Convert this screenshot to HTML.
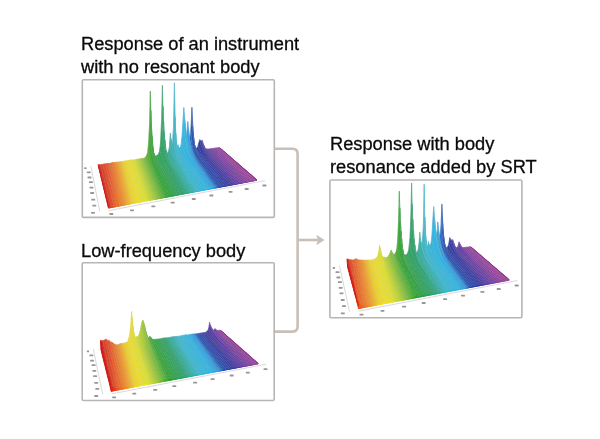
<!DOCTYPE html>
<html><head><meta charset="utf-8"><style>
html,body{margin:0;padding:0;background:#fff;}
body{width:600px;height:439px;position:relative;overflow:hidden;}
.t{position:absolute;font-family:"Liberation Sans",sans-serif;font-size:18.25px;line-height:23px;color:#0a0a0a;white-space:nowrap;will-change:transform;-webkit-text-stroke:0.3px #0a0a0a;}
.ov{position:absolute;left:0;top:0;}
.m{fill:none;stroke:#b8b8b8;stroke-opacity:0.35;stroke-width:0.5;}
.n{fill:none;stroke:#b8b8b8;stroke-opacity:0.55;stroke-width:0.5;}
</style></head><body>
<div class="t" style="left:80.5px;top:31.5px">Response of an instrument<br>with no resonant body</div>
<div class="t" style="left:80.5px;top:238.5px">Low-frequency body</div>
<div class="t" style="left:330.2px;top:131.5px">Response with body<br>resonance added by SRT</div>
<svg class="ov" width="600" height="439" viewBox="0 0 600 439">
<rect x="82.3" y="79.7" width="192" height="137.7" rx="1.2" fill="#fff" stroke="#b9b5b3" stroke-width="1.6"/>
<rect x="82.2" y="262.8" width="192" height="137.7" rx="1.2" fill="#fff" stroke="#b9b5b3" stroke-width="1.6"/>
<rect x="329.9" y="180.0" width="192" height="137.7" rx="1.2" fill="#fff" stroke="#b9b5b3" stroke-width="1.6"/>
</svg>
<svg class="ov" width="600" height="439" viewBox="0 0 600 439">
<path d="M275 148.7 H292.5 Q297.6 148.7 297.6 153.8 V326.5 Q297.6 331.6 292.5 331.6 H275" fill="none" stroke="#c9bfb7" stroke-width="2.6"/>
<path d="M297.6 240 H318" fill="none" stroke="#c9bfb7" stroke-width="2.6"/>
<path d="M316.8 235.6 L324 240 L316.8 244.4 L318.4 240 Z" fill="#c9bfb7" stroke="#c9bfb7" stroke-width="0.8" stroke-linejoin="round"/>
</svg>
<svg class="ov pl" style="left:81px;top:79px" width="194" height="139" viewBox="0 0 194 139"><path d="M27.7,131.7L184.1,101.6" stroke="#c8c8c8" stroke-width="0.7" fill="none"/><path d="M9.9,87.1L18.7,132.2" stroke="#c8c8c8" stroke-width="0.7" fill="none"/><rect x="28.3" y="134.1" width="4" height="1.8" rx="0.6" fill="#969696"/><rect x="49.0" y="130.4" width="4" height="1.8" rx="0.6" fill="#969696"/><rect x="70.3" y="126.4" width="4" height="1.8" rx="0.6" fill="#969696"/><rect x="89.7" y="122.8" width="4" height="1.8" rx="0.6" fill="#969696"/><rect x="110.8" y="119.1" width="4" height="1.8" rx="0.6" fill="#969696"/><rect x="128.4" y="115.6" width="4" height="1.8" rx="0.6" fill="#969696"/><rect x="147.6" y="111.9" width="4" height="1.8" rx="0.6" fill="#969696"/><rect x="163.7" y="109.1" width="4" height="1.8" rx="0.6" fill="#969696"/><rect x="181.4" y="105.6" width="4" height="1.8" rx="0.6" fill="#969696"/><rect x="3.2" y="88.3" width="2.4" height="1.8" rx="0.6" fill="#969696"/><rect x="5.8" y="92.4" width="4.0" height="1.8" rx="0.6" fill="#969696"/><rect x="6.5" y="97.6" width="4.0" height="1.8" rx="0.6" fill="#969696"/><rect x="7.9" y="102.2" width="4.0" height="1.8" rx="0.6" fill="#969696"/><rect x="8.5" y="107.7" width="4.0" height="1.8" rx="0.6" fill="#969696"/><rect x="9.2" y="113.1" width="4.0" height="1.8" rx="0.6" fill="#969696"/><rect x="10.2" y="119.7" width="4.0" height="1.8" rx="0.6" fill="#969696"/><rect x="11.3" y="125.8" width="4.0" height="1.8" rx="0.6" fill="#969696"/><rect x="10.0" y="132.9" width="4.0" height="1.8" rx="0.6" fill="#969696"/><defs><linearGradient id="g10" gradientUnits="userSpaceOnUse" x1="17.2" x2="138.6" y1="0" y2="0"><stop offset="0.000" stop-color="#d61e16"/><stop offset="0.079" stop-color="#ea4e1c"/><stop offset="0.145" stop-color="#f28c22"/><stop offset="0.205" stop-color="#f2d422"/><stop offset="0.243" stop-color="#f2e224"/><stop offset="0.291" stop-color="#e2e428"/><stop offset="0.338" stop-color="#b0d030"/><stop offset="0.390" stop-color="#64b632"/><stop offset="0.431" stop-color="#28a22a"/><stop offset="0.532" stop-color="#22a064"/><stop offset="0.630" stop-color="#30b8d0"/><stop offset="0.707" stop-color="#24b4e8"/><stop offset="0.745" stop-color="#2896dc"/><stop offset="0.773" stop-color="#1c48b0"/><stop offset="0.838" stop-color="#2c30a0"/><stop offset="0.911" stop-color="#6434a2"/><stop offset="1.000" stop-color="#983a98"/></linearGradient><linearGradient id="g11" gradientUnits="userSpaceOnUse" x1="17.5" x2="139.5" y1="0" y2="0"><stop offset="-0.001" stop-color="#d61e16"/><stop offset="0.078" stop-color="#ea4e1c"/><stop offset="0.144" stop-color="#f28c22"/><stop offset="0.204" stop-color="#f2d422"/><stop offset="0.242" stop-color="#f2e224"/><stop offset="0.290" stop-color="#e2e428"/><stop offset="0.337" stop-color="#b0d030"/><stop offset="0.389" stop-color="#64b632"/><stop offset="0.430" stop-color="#28a22a"/><stop offset="0.531" stop-color="#22a064"/><stop offset="0.629" stop-color="#30b8d0"/><stop offset="0.706" stop-color="#24b4e8"/><stop offset="0.744" stop-color="#2896dc"/><stop offset="0.772" stop-color="#1c48b0"/><stop offset="0.837" stop-color="#2c30a0"/><stop offset="0.910" stop-color="#6434a2"/><stop offset="0.999" stop-color="#983a98"/></linearGradient><linearGradient id="g12" gradientUnits="userSpaceOnUse" x1="17.7" x2="140.5" y1="0" y2="0"><stop offset="-0.003" stop-color="#d61e16"/><stop offset="0.076" stop-color="#ea4e1c"/><stop offset="0.143" stop-color="#f28c22"/><stop offset="0.203" stop-color="#f2d422"/><stop offset="0.240" stop-color="#f2e224"/><stop offset="0.288" stop-color="#e2e428"/><stop offset="0.336" stop-color="#b0d030"/><stop offset="0.388" stop-color="#64b632"/><stop offset="0.429" stop-color="#28a22a"/><stop offset="0.530" stop-color="#22a064"/><stop offset="0.628" stop-color="#30b8d0"/><stop offset="0.705" stop-color="#24b4e8"/><stop offset="0.743" stop-color="#2896dc"/><stop offset="0.771" stop-color="#1c48b0"/><stop offset="0.836" stop-color="#2c30a0"/><stop offset="0.909" stop-color="#6434a2"/><stop offset="0.998" stop-color="#983a98"/></linearGradient><linearGradient id="g13" gradientUnits="userSpaceOnUse" x1="18.0" x2="141.4" y1="0" y2="0"><stop offset="-0.004" stop-color="#d61e16"/><stop offset="0.075" stop-color="#ea4e1c"/><stop offset="0.141" stop-color="#f28c22"/><stop offset="0.202" stop-color="#f2d422"/><stop offset="0.239" stop-color="#f2e224"/><stop offset="0.287" stop-color="#e2e428"/><stop offset="0.335" stop-color="#b0d030"/><stop offset="0.387" stop-color="#64b632"/><stop offset="0.428" stop-color="#28a22a"/><stop offset="0.529" stop-color="#22a064"/><stop offset="0.627" stop-color="#30b8d0"/><stop offset="0.704" stop-color="#24b4e8"/><stop offset="0.742" stop-color="#2896dc"/><stop offset="0.770" stop-color="#1c48b0"/><stop offset="0.835" stop-color="#2c30a0"/><stop offset="0.908" stop-color="#6434a2"/><stop offset="0.997" stop-color="#983a98"/></linearGradient><linearGradient id="g14" gradientUnits="userSpaceOnUse" x1="18.2" x2="142.4" y1="0" y2="0"><stop offset="-0.006" stop-color="#d61e16"/><stop offset="0.074" stop-color="#ea4e1c"/><stop offset="0.140" stop-color="#f28c22"/><stop offset="0.200" stop-color="#f2d422"/><stop offset="0.238" stop-color="#f2e224"/><stop offset="0.286" stop-color="#e2e428"/><stop offset="0.334" stop-color="#b0d030"/><stop offset="0.386" stop-color="#64b632"/><stop offset="0.427" stop-color="#28a22a"/><stop offset="0.528" stop-color="#22a064"/><stop offset="0.626" stop-color="#30b8d0"/><stop offset="0.703" stop-color="#24b4e8"/><stop offset="0.741" stop-color="#2896dc"/><stop offset="0.769" stop-color="#1c48b0"/><stop offset="0.834" stop-color="#2c30a0"/><stop offset="0.907" stop-color="#6434a2"/><stop offset="0.996" stop-color="#983a98"/></linearGradient><linearGradient id="g15" gradientUnits="userSpaceOnUse" x1="18.5" x2="143.3" y1="0" y2="0"><stop offset="-0.007" stop-color="#d61e16"/><stop offset="0.072" stop-color="#ea4e1c"/><stop offset="0.139" stop-color="#f28c22"/><stop offset="0.199" stop-color="#f2d422"/><stop offset="0.237" stop-color="#f2e224"/><stop offset="0.285" stop-color="#e2e428"/><stop offset="0.333" stop-color="#b0d030"/><stop offset="0.385" stop-color="#64b632"/><stop offset="0.426" stop-color="#28a22a"/><stop offset="0.527" stop-color="#22a064"/><stop offset="0.625" stop-color="#30b8d0"/><stop offset="0.702" stop-color="#24b4e8"/><stop offset="0.740" stop-color="#2896dc"/><stop offset="0.768" stop-color="#1c48b0"/><stop offset="0.833" stop-color="#2c30a0"/><stop offset="0.906" stop-color="#6434a2"/><stop offset="0.995" stop-color="#983a98"/></linearGradient><linearGradient id="g16" gradientUnits="userSpaceOnUse" x1="18.8" x2="144.3" y1="0" y2="0"><stop offset="-0.008" stop-color="#d61e16"/><stop offset="0.071" stop-color="#ea4e1c"/><stop offset="0.138" stop-color="#f28c22"/><stop offset="0.198" stop-color="#f2d422"/><stop offset="0.236" stop-color="#f2e224"/><stop offset="0.284" stop-color="#e2e428"/><stop offset="0.332" stop-color="#b0d030"/><stop offset="0.384" stop-color="#64b632"/><stop offset="0.425" stop-color="#28a22a"/><stop offset="0.526" stop-color="#22a064"/><stop offset="0.624" stop-color="#30b8d0"/><stop offset="0.701" stop-color="#24b4e8"/><stop offset="0.739" stop-color="#2896dc"/><stop offset="0.767" stop-color="#1c48b0"/><stop offset="0.832" stop-color="#2c30a0"/><stop offset="0.905" stop-color="#6434a2"/><stop offset="0.994" stop-color="#983a98"/></linearGradient><linearGradient id="g17" gradientUnits="userSpaceOnUse" x1="19.0" x2="145.3" y1="0" y2="0"><stop offset="-0.010" stop-color="#d61e16"/><stop offset="0.070" stop-color="#ea4e1c"/><stop offset="0.137" stop-color="#f28c22"/><stop offset="0.197" stop-color="#f2d422"/><stop offset="0.235" stop-color="#f2e224"/><stop offset="0.283" stop-color="#e2e428"/><stop offset="0.330" stop-color="#b0d030"/><stop offset="0.383" stop-color="#64b632"/><stop offset="0.424" stop-color="#28a22a"/><stop offset="0.525" stop-color="#22a064"/><stop offset="0.623" stop-color="#30b8d0"/><stop offset="0.700" stop-color="#24b4e8"/><stop offset="0.738" stop-color="#2896dc"/><stop offset="0.766" stop-color="#1c48b0"/><stop offset="0.831" stop-color="#2c30a0"/><stop offset="0.904" stop-color="#6434a2"/><stop offset="0.993" stop-color="#983a98"/></linearGradient><linearGradient id="g18" gradientUnits="userSpaceOnUse" x1="19.3" x2="146.3" y1="0" y2="0"><stop offset="-0.011" stop-color="#d61e16"/><stop offset="0.068" stop-color="#ea4e1c"/><stop offset="0.135" stop-color="#f28c22"/><stop offset="0.196" stop-color="#f2d422"/><stop offset="0.234" stop-color="#f2e224"/><stop offset="0.282" stop-color="#e2e428"/><stop offset="0.329" stop-color="#b0d030"/><stop offset="0.382" stop-color="#64b632"/><stop offset="0.423" stop-color="#28a22a"/><stop offset="0.524" stop-color="#22a064"/><stop offset="0.622" stop-color="#30b8d0"/><stop offset="0.699" stop-color="#24b4e8"/><stop offset="0.737" stop-color="#2896dc"/><stop offset="0.765" stop-color="#1c48b0"/><stop offset="0.830" stop-color="#2c30a0"/><stop offset="0.903" stop-color="#6434a2"/><stop offset="0.992" stop-color="#983a98"/></linearGradient><linearGradient id="g19" gradientUnits="userSpaceOnUse" x1="19.6" x2="147.3" y1="0" y2="0"><stop offset="-0.013" stop-color="#d61e16"/><stop offset="0.067" stop-color="#ea4e1c"/><stop offset="0.134" stop-color="#f28c22"/><stop offset="0.194" stop-color="#f2d422"/><stop offset="0.232" stop-color="#f2e224"/><stop offset="0.281" stop-color="#e2e428"/><stop offset="0.328" stop-color="#b0d030"/><stop offset="0.380" stop-color="#64b632"/><stop offset="0.422" stop-color="#28a22a"/><stop offset="0.523" stop-color="#22a064"/><stop offset="0.621" stop-color="#30b8d0"/><stop offset="0.698" stop-color="#24b4e8"/><stop offset="0.736" stop-color="#2896dc"/><stop offset="0.764" stop-color="#1c48b0"/><stop offset="0.829" stop-color="#2c30a0"/><stop offset="0.902" stop-color="#6434a2"/><stop offset="0.990" stop-color="#983a98"/></linearGradient><linearGradient id="g110" gradientUnits="userSpaceOnUse" x1="19.9" x2="148.3" y1="0" y2="0"><stop offset="-0.014" stop-color="#d61e16"/><stop offset="0.066" stop-color="#ea4e1c"/><stop offset="0.133" stop-color="#f28c22"/><stop offset="0.193" stop-color="#f2d422"/><stop offset="0.231" stop-color="#f2e224"/><stop offset="0.280" stop-color="#e2e428"/><stop offset="0.327" stop-color="#b0d030"/><stop offset="0.379" stop-color="#64b632"/><stop offset="0.421" stop-color="#28a22a"/><stop offset="0.522" stop-color="#22a064"/><stop offset="0.620" stop-color="#30b8d0"/><stop offset="0.697" stop-color="#24b4e8"/><stop offset="0.735" stop-color="#2896dc"/><stop offset="0.763" stop-color="#1c48b0"/><stop offset="0.828" stop-color="#2c30a0"/><stop offset="0.901" stop-color="#6434a2"/><stop offset="0.989" stop-color="#983a98"/></linearGradient><linearGradient id="g111" gradientUnits="userSpaceOnUse" x1="20.1" x2="149.4" y1="0" y2="0"><stop offset="-0.015" stop-color="#d61e16"/><stop offset="0.064" stop-color="#ea4e1c"/><stop offset="0.132" stop-color="#f28c22"/><stop offset="0.192" stop-color="#f2d422"/><stop offset="0.230" stop-color="#f2e224"/><stop offset="0.278" stop-color="#e2e428"/><stop offset="0.326" stop-color="#b0d030"/><stop offset="0.378" stop-color="#64b632"/><stop offset="0.420" stop-color="#28a22a"/><stop offset="0.521" stop-color="#22a064"/><stop offset="0.620" stop-color="#30b8d0"/><stop offset="0.696" stop-color="#24b4e8"/><stop offset="0.734" stop-color="#2896dc"/><stop offset="0.762" stop-color="#1c48b0"/><stop offset="0.827" stop-color="#2c30a0"/><stop offset="0.900" stop-color="#6434a2"/><stop offset="0.988" stop-color="#983a98"/></linearGradient><linearGradient id="g112" gradientUnits="userSpaceOnUse" x1="20.4" x2="150.4" y1="0" y2="0"><stop offset="-0.017" stop-color="#d61e16"/><stop offset="0.063" stop-color="#ea4e1c"/><stop offset="0.130" stop-color="#f28c22"/><stop offset="0.191" stop-color="#f2d422"/><stop offset="0.229" stop-color="#f2e224"/><stop offset="0.277" stop-color="#e2e428"/><stop offset="0.325" stop-color="#b0d030"/><stop offset="0.377" stop-color="#64b632"/><stop offset="0.419" stop-color="#28a22a"/><stop offset="0.520" stop-color="#22a064"/><stop offset="0.619" stop-color="#30b8d0"/><stop offset="0.696" stop-color="#24b4e8"/><stop offset="0.733" stop-color="#2896dc"/><stop offset="0.761" stop-color="#1c48b0"/><stop offset="0.826" stop-color="#2c30a0"/><stop offset="0.899" stop-color="#6434a2"/><stop offset="0.987" stop-color="#983a98"/></linearGradient><linearGradient id="g113" gradientUnits="userSpaceOnUse" x1="20.7" x2="151.5" y1="0" y2="0"><stop offset="-0.018" stop-color="#d61e16"/><stop offset="0.062" stop-color="#ea4e1c"/><stop offset="0.129" stop-color="#f28c22"/><stop offset="0.190" stop-color="#f2d422"/><stop offset="0.228" stop-color="#f2e224"/><stop offset="0.276" stop-color="#e2e428"/><stop offset="0.324" stop-color="#b0d030"/><stop offset="0.376" stop-color="#64b632"/><stop offset="0.418" stop-color="#28a22a"/><stop offset="0.519" stop-color="#22a064"/><stop offset="0.618" stop-color="#30b8d0"/><stop offset="0.695" stop-color="#24b4e8"/><stop offset="0.732" stop-color="#2896dc"/><stop offset="0.761" stop-color="#1c48b0"/><stop offset="0.825" stop-color="#2c30a0"/><stop offset="0.898" stop-color="#6434a2"/><stop offset="0.986" stop-color="#983a98"/></linearGradient><linearGradient id="g114" gradientUnits="userSpaceOnUse" x1="21.0" x2="152.6" y1="0" y2="0"><stop offset="-0.020" stop-color="#d61e16"/><stop offset="0.061" stop-color="#ea4e1c"/><stop offset="0.128" stop-color="#f28c22"/><stop offset="0.189" stop-color="#f2d422"/><stop offset="0.227" stop-color="#f2e224"/><stop offset="0.275" stop-color="#e2e428"/><stop offset="0.323" stop-color="#b0d030"/><stop offset="0.375" stop-color="#64b632"/><stop offset="0.417" stop-color="#28a22a"/><stop offset="0.518" stop-color="#22a064"/><stop offset="0.617" stop-color="#30b8d0"/><stop offset="0.694" stop-color="#24b4e8"/><stop offset="0.731" stop-color="#2896dc"/><stop offset="0.760" stop-color="#1c48b0"/><stop offset="0.824" stop-color="#2c30a0"/><stop offset="0.897" stop-color="#6434a2"/><stop offset="0.985" stop-color="#983a98"/></linearGradient><linearGradient id="g115" gradientUnits="userSpaceOnUse" x1="21.3" x2="153.7" y1="0" y2="0"><stop offset="-0.021" stop-color="#d61e16"/><stop offset="0.059" stop-color="#ea4e1c"/><stop offset="0.127" stop-color="#f28c22"/><stop offset="0.187" stop-color="#f2d422"/><stop offset="0.226" stop-color="#f2e224"/><stop offset="0.274" stop-color="#e2e428"/><stop offset="0.322" stop-color="#b0d030"/><stop offset="0.374" stop-color="#64b632"/><stop offset="0.416" stop-color="#28a22a"/><stop offset="0.517" stop-color="#22a064"/><stop offset="0.616" stop-color="#30b8d0"/><stop offset="0.693" stop-color="#24b4e8"/><stop offset="0.730" stop-color="#2896dc"/><stop offset="0.759" stop-color="#1c48b0"/><stop offset="0.823" stop-color="#2c30a0"/><stop offset="0.896" stop-color="#6434a2"/><stop offset="0.984" stop-color="#983a98"/></linearGradient><linearGradient id="g116" gradientUnits="userSpaceOnUse" x1="21.6" x2="154.8" y1="0" y2="0"><stop offset="-0.022" stop-color="#d61e16"/><stop offset="0.058" stop-color="#ea4e1c"/><stop offset="0.125" stop-color="#f28c22"/><stop offset="0.186" stop-color="#f2d422"/><stop offset="0.224" stop-color="#f2e224"/><stop offset="0.273" stop-color="#e2e428"/><stop offset="0.321" stop-color="#b0d030"/><stop offset="0.373" stop-color="#64b632"/><stop offset="0.415" stop-color="#28a22a"/><stop offset="0.516" stop-color="#22a064"/><stop offset="0.615" stop-color="#30b8d0"/><stop offset="0.692" stop-color="#24b4e8"/><stop offset="0.730" stop-color="#2896dc"/><stop offset="0.758" stop-color="#1c48b0"/><stop offset="0.822" stop-color="#2c30a0"/><stop offset="0.895" stop-color="#6434a2"/><stop offset="0.983" stop-color="#983a98"/></linearGradient><linearGradient id="g117" gradientUnits="userSpaceOnUse" x1="21.9" x2="155.9" y1="0" y2="0"><stop offset="-0.024" stop-color="#d61e16"/><stop offset="0.057" stop-color="#ea4e1c"/><stop offset="0.124" stop-color="#f28c22"/><stop offset="0.185" stop-color="#f2d422"/><stop offset="0.223" stop-color="#f2e224"/><stop offset="0.272" stop-color="#e2e428"/><stop offset="0.320" stop-color="#b0d030"/><stop offset="0.372" stop-color="#64b632"/><stop offset="0.414" stop-color="#28a22a"/><stop offset="0.515" stop-color="#22a064"/><stop offset="0.614" stop-color="#30b8d0"/><stop offset="0.691" stop-color="#24b4e8"/><stop offset="0.729" stop-color="#2896dc"/><stop offset="0.757" stop-color="#1c48b0"/><stop offset="0.821" stop-color="#2c30a0"/><stop offset="0.894" stop-color="#6434a2"/><stop offset="0.982" stop-color="#983a98"/></linearGradient><linearGradient id="g118" gradientUnits="userSpaceOnUse" x1="22.2" x2="157.0" y1="0" y2="0"><stop offset="-0.025" stop-color="#d61e16"/><stop offset="0.055" stop-color="#ea4e1c"/><stop offset="0.123" stop-color="#f28c22"/><stop offset="0.184" stop-color="#f2d422"/><stop offset="0.222" stop-color="#f2e224"/><stop offset="0.271" stop-color="#e2e428"/><stop offset="0.319" stop-color="#b0d030"/><stop offset="0.371" stop-color="#64b632"/><stop offset="0.413" stop-color="#28a22a"/><stop offset="0.514" stop-color="#22a064"/><stop offset="0.613" stop-color="#30b8d0"/><stop offset="0.690" stop-color="#24b4e8"/><stop offset="0.728" stop-color="#2896dc"/><stop offset="0.756" stop-color="#1c48b0"/><stop offset="0.820" stop-color="#2c30a0"/><stop offset="0.893" stop-color="#6434a2"/><stop offset="0.981" stop-color="#983a98"/></linearGradient><linearGradient id="g119" gradientUnits="userSpaceOnUse" x1="22.5" x2="158.2" y1="0" y2="0"><stop offset="-0.027" stop-color="#d61e16"/><stop offset="0.054" stop-color="#ea4e1c"/><stop offset="0.122" stop-color="#f28c22"/><stop offset="0.183" stop-color="#f2d422"/><stop offset="0.221" stop-color="#f2e224"/><stop offset="0.270" stop-color="#e2e428"/><stop offset="0.318" stop-color="#b0d030"/><stop offset="0.370" stop-color="#64b632"/><stop offset="0.412" stop-color="#28a22a"/><stop offset="0.513" stop-color="#22a064"/><stop offset="0.612" stop-color="#30b8d0"/><stop offset="0.689" stop-color="#24b4e8"/><stop offset="0.727" stop-color="#2896dc"/><stop offset="0.755" stop-color="#1c48b0"/><stop offset="0.819" stop-color="#2c30a0"/><stop offset="0.892" stop-color="#6434a2"/><stop offset="0.980" stop-color="#983a98"/></linearGradient><linearGradient id="g120" gradientUnits="userSpaceOnUse" x1="22.8" x2="159.3" y1="0" y2="0"><stop offset="-0.028" stop-color="#d61e16"/><stop offset="0.053" stop-color="#ea4e1c"/><stop offset="0.120" stop-color="#f28c22"/><stop offset="0.181" stop-color="#f2d422"/><stop offset="0.220" stop-color="#f2e224"/><stop offset="0.268" stop-color="#e2e428"/><stop offset="0.316" stop-color="#b0d030"/><stop offset="0.369" stop-color="#64b632"/><stop offset="0.411" stop-color="#28a22a"/><stop offset="0.512" stop-color="#22a064"/><stop offset="0.611" stop-color="#30b8d0"/><stop offset="0.688" stop-color="#24b4e8"/><stop offset="0.726" stop-color="#2896dc"/><stop offset="0.754" stop-color="#1c48b0"/><stop offset="0.818" stop-color="#2c30a0"/><stop offset="0.891" stop-color="#6434a2"/><stop offset="0.979" stop-color="#983a98"/></linearGradient><linearGradient id="g121" gradientUnits="userSpaceOnUse" x1="23.2" x2="160.5" y1="0" y2="0"><stop offset="-0.030" stop-color="#d61e16"/><stop offset="0.051" stop-color="#ea4e1c"/><stop offset="0.119" stop-color="#f28c22"/><stop offset="0.180" stop-color="#f2d422"/><stop offset="0.219" stop-color="#f2e224"/><stop offset="0.267" stop-color="#e2e428"/><stop offset="0.315" stop-color="#b0d030"/><stop offset="0.368" stop-color="#64b632"/><stop offset="0.410" stop-color="#28a22a"/><stop offset="0.511" stop-color="#22a064"/><stop offset="0.610" stop-color="#30b8d0"/><stop offset="0.687" stop-color="#24b4e8"/><stop offset="0.725" stop-color="#2896dc"/><stop offset="0.753" stop-color="#1c48b0"/><stop offset="0.818" stop-color="#2c30a0"/><stop offset="0.890" stop-color="#6434a2"/><stop offset="0.978" stop-color="#983a98"/></linearGradient><linearGradient id="g122" gradientUnits="userSpaceOnUse" x1="23.5" x2="161.7" y1="0" y2="0"><stop offset="-0.031" stop-color="#d61e16"/><stop offset="0.050" stop-color="#ea4e1c"/><stop offset="0.118" stop-color="#f28c22"/><stop offset="0.179" stop-color="#f2d422"/><stop offset="0.217" stop-color="#f2e224"/><stop offset="0.266" stop-color="#e2e428"/><stop offset="0.314" stop-color="#b0d030"/><stop offset="0.367" stop-color="#64b632"/><stop offset="0.409" stop-color="#28a22a"/><stop offset="0.510" stop-color="#22a064"/><stop offset="0.609" stop-color="#30b8d0"/><stop offset="0.686" stop-color="#24b4e8"/><stop offset="0.724" stop-color="#2896dc"/><stop offset="0.752" stop-color="#1c48b0"/><stop offset="0.817" stop-color="#2c30a0"/><stop offset="0.889" stop-color="#6434a2"/><stop offset="0.977" stop-color="#983a98"/></linearGradient><linearGradient id="g123" gradientUnits="userSpaceOnUse" x1="23.8" x2="162.9" y1="0" y2="0"><stop offset="-0.033" stop-color="#d61e16"/><stop offset="0.049" stop-color="#ea4e1c"/><stop offset="0.117" stop-color="#f28c22"/><stop offset="0.178" stop-color="#f2d422"/><stop offset="0.216" stop-color="#f2e224"/><stop offset="0.265" stop-color="#e2e428"/><stop offset="0.313" stop-color="#b0d030"/><stop offset="0.366" stop-color="#64b632"/><stop offset="0.408" stop-color="#28a22a"/><stop offset="0.509" stop-color="#22a064"/><stop offset="0.608" stop-color="#30b8d0"/><stop offset="0.685" stop-color="#24b4e8"/><stop offset="0.723" stop-color="#2896dc"/><stop offset="0.751" stop-color="#1c48b0"/><stop offset="0.816" stop-color="#2c30a0"/><stop offset="0.888" stop-color="#6434a2"/><stop offset="0.976" stop-color="#983a98"/></linearGradient><linearGradient id="g124" gradientUnits="userSpaceOnUse" x1="24.2" x2="164.2" y1="0" y2="0"><stop offset="-0.034" stop-color="#d61e16"/><stop offset="0.047" stop-color="#ea4e1c"/><stop offset="0.115" stop-color="#f28c22"/><stop offset="0.177" stop-color="#f2d422"/><stop offset="0.215" stop-color="#f2e224"/><stop offset="0.264" stop-color="#e2e428"/><stop offset="0.312" stop-color="#b0d030"/><stop offset="0.365" stop-color="#64b632"/><stop offset="0.407" stop-color="#28a22a"/><stop offset="0.508" stop-color="#22a064"/><stop offset="0.607" stop-color="#30b8d0"/><stop offset="0.684" stop-color="#24b4e8"/><stop offset="0.722" stop-color="#2896dc"/><stop offset="0.750" stop-color="#1c48b0"/><stop offset="0.815" stop-color="#2c30a0"/><stop offset="0.887" stop-color="#6434a2"/><stop offset="0.975" stop-color="#983a98"/></linearGradient><linearGradient id="g125" gradientUnits="userSpaceOnUse" x1="24.5" x2="165.4" y1="0" y2="0"><stop offset="-0.035" stop-color="#d61e16"/><stop offset="0.046" stop-color="#ea4e1c"/><stop offset="0.114" stop-color="#f28c22"/><stop offset="0.176" stop-color="#f2d422"/><stop offset="0.214" stop-color="#f2e224"/><stop offset="0.263" stop-color="#e2e428"/><stop offset="0.311" stop-color="#b0d030"/><stop offset="0.364" stop-color="#64b632"/><stop offset="0.406" stop-color="#28a22a"/><stop offset="0.508" stop-color="#22a064"/><stop offset="0.606" stop-color="#30b8d0"/><stop offset="0.683" stop-color="#24b4e8"/><stop offset="0.721" stop-color="#2896dc"/><stop offset="0.749" stop-color="#1c48b0"/><stop offset="0.814" stop-color="#2c30a0"/><stop offset="0.886" stop-color="#6434a2"/><stop offset="0.974" stop-color="#983a98"/></linearGradient><linearGradient id="g126" gradientUnits="userSpaceOnUse" x1="24.9" x2="166.7" y1="0" y2="0"><stop offset="-0.037" stop-color="#d61e16"/><stop offset="0.045" stop-color="#ea4e1c"/><stop offset="0.113" stop-color="#f28c22"/><stop offset="0.174" stop-color="#f2d422"/><stop offset="0.213" stop-color="#f2e224"/><stop offset="0.262" stop-color="#e2e428"/><stop offset="0.310" stop-color="#b0d030"/><stop offset="0.363" stop-color="#64b632"/><stop offset="0.405" stop-color="#28a22a"/><stop offset="0.507" stop-color="#22a064"/><stop offset="0.605" stop-color="#30b8d0"/><stop offset="0.682" stop-color="#24b4e8"/><stop offset="0.720" stop-color="#2896dc"/><stop offset="0.748" stop-color="#1c48b0"/><stop offset="0.813" stop-color="#2c30a0"/><stop offset="0.885" stop-color="#6434a2"/><stop offset="0.973" stop-color="#983a98"/></linearGradient><linearGradient id="g127" gradientUnits="userSpaceOnUse" x1="25.2" x2="167.9" y1="0" y2="0"><stop offset="-0.038" stop-color="#d61e16"/><stop offset="0.043" stop-color="#ea4e1c"/><stop offset="0.112" stop-color="#f28c22"/><stop offset="0.173" stop-color="#f2d422"/><stop offset="0.212" stop-color="#f2e224"/><stop offset="0.261" stop-color="#e2e428"/><stop offset="0.309" stop-color="#b0d030"/><stop offset="0.362" stop-color="#64b632"/><stop offset="0.404" stop-color="#28a22a"/><stop offset="0.506" stop-color="#22a064"/><stop offset="0.605" stop-color="#30b8d0"/><stop offset="0.682" stop-color="#24b4e8"/><stop offset="0.719" stop-color="#2896dc"/><stop offset="0.747" stop-color="#1c48b0"/><stop offset="0.812" stop-color="#2c30a0"/><stop offset="0.884" stop-color="#6434a2"/><stop offset="0.972" stop-color="#983a98"/></linearGradient><linearGradient id="g128" gradientUnits="userSpaceOnUse" x1="25.6" x2="169.2" y1="0" y2="0"><stop offset="-0.040" stop-color="#d61e16"/><stop offset="0.042" stop-color="#ea4e1c"/><stop offset="0.110" stop-color="#f28c22"/><stop offset="0.172" stop-color="#f2d422"/><stop offset="0.211" stop-color="#f2e224"/><stop offset="0.260" stop-color="#e2e428"/><stop offset="0.308" stop-color="#b0d030"/><stop offset="0.361" stop-color="#64b632"/><stop offset="0.403" stop-color="#28a22a"/><stop offset="0.505" stop-color="#22a064"/><stop offset="0.604" stop-color="#30b8d0"/><stop offset="0.681" stop-color="#24b4e8"/><stop offset="0.718" stop-color="#2896dc"/><stop offset="0.746" stop-color="#1c48b0"/><stop offset="0.811" stop-color="#2c30a0"/><stop offset="0.883" stop-color="#6434a2"/><stop offset="0.971" stop-color="#983a98"/></linearGradient><linearGradient id="g129" gradientUnits="userSpaceOnUse" x1="26.0" x2="170.6" y1="0" y2="0"><stop offset="-0.041" stop-color="#d61e16"/><stop offset="0.040" stop-color="#ea4e1c"/><stop offset="0.109" stop-color="#f28c22"/><stop offset="0.171" stop-color="#f2d422"/><stop offset="0.210" stop-color="#f2e224"/><stop offset="0.259" stop-color="#e2e428"/><stop offset="0.307" stop-color="#b0d030"/><stop offset="0.360" stop-color="#64b632"/><stop offset="0.402" stop-color="#28a22a"/><stop offset="0.504" stop-color="#22a064"/><stop offset="0.603" stop-color="#30b8d0"/><stop offset="0.680" stop-color="#24b4e8"/><stop offset="0.718" stop-color="#2896dc"/><stop offset="0.746" stop-color="#1c48b0"/><stop offset="0.810" stop-color="#2c30a0"/><stop offset="0.882" stop-color="#6434a2"/><stop offset="0.970" stop-color="#983a98"/></linearGradient><linearGradient id="g130" gradientUnits="userSpaceOnUse" x1="26.3" x2="171.9" y1="0" y2="0"><stop offset="-0.043" stop-color="#d61e16"/><stop offset="0.039" stop-color="#ea4e1c"/><stop offset="0.108" stop-color="#f28c22"/><stop offset="0.170" stop-color="#f2d422"/><stop offset="0.208" stop-color="#f2e224"/><stop offset="0.258" stop-color="#e2e428"/><stop offset="0.306" stop-color="#b0d030"/><stop offset="0.359" stop-color="#64b632"/><stop offset="0.401" stop-color="#28a22a"/><stop offset="0.503" stop-color="#22a064"/><stop offset="0.602" stop-color="#30b8d0"/><stop offset="0.679" stop-color="#24b4e8"/><stop offset="0.717" stop-color="#2896dc"/><stop offset="0.745" stop-color="#1c48b0"/><stop offset="0.809" stop-color="#2c30a0"/><stop offset="0.881" stop-color="#6434a2"/><stop offset="0.969" stop-color="#983a98"/></linearGradient><linearGradient id="g131" gradientUnits="userSpaceOnUse" x1="26.7" x2="173.2" y1="0" y2="0"><stop offset="-0.044" stop-color="#d61e16"/><stop offset="0.038" stop-color="#ea4e1c"/><stop offset="0.107" stop-color="#f28c22"/><stop offset="0.168" stop-color="#f2d422"/><stop offset="0.207" stop-color="#f2e224"/><stop offset="0.256" stop-color="#e2e428"/><stop offset="0.305" stop-color="#b0d030"/><stop offset="0.358" stop-color="#64b632"/><stop offset="0.400" stop-color="#28a22a"/><stop offset="0.502" stop-color="#22a064"/><stop offset="0.601" stop-color="#30b8d0"/><stop offset="0.678" stop-color="#24b4e8"/><stop offset="0.716" stop-color="#2896dc"/><stop offset="0.744" stop-color="#1c48b0"/><stop offset="0.808" stop-color="#2c30a0"/><stop offset="0.880" stop-color="#6434a2"/><stop offset="0.968" stop-color="#983a98"/></linearGradient><linearGradient id="g132" gradientUnits="userSpaceOnUse" x1="27.1" x2="174.6" y1="0" y2="0"><stop offset="-0.046" stop-color="#d61e16"/><stop offset="0.036" stop-color="#ea4e1c"/><stop offset="0.105" stop-color="#f28c22"/><stop offset="0.167" stop-color="#f2d422"/><stop offset="0.206" stop-color="#f2e224"/><stop offset="0.255" stop-color="#e2e428"/><stop offset="0.304" stop-color="#b0d030"/><stop offset="0.357" stop-color="#64b632"/><stop offset="0.399" stop-color="#28a22a"/><stop offset="0.501" stop-color="#22a064"/><stop offset="0.600" stop-color="#30b8d0"/><stop offset="0.677" stop-color="#24b4e8"/><stop offset="0.715" stop-color="#2896dc"/><stop offset="0.743" stop-color="#1c48b0"/><stop offset="0.807" stop-color="#2c30a0"/><stop offset="0.879" stop-color="#6434a2"/><stop offset="0.967" stop-color="#983a98"/></linearGradient><linearGradient id="g133" gradientUnits="userSpaceOnUse" x1="27.5" x2="176.0" y1="0" y2="0"><stop offset="-0.047" stop-color="#d61e16"/><stop offset="0.035" stop-color="#ea4e1c"/><stop offset="0.104" stop-color="#f28c22"/><stop offset="0.166" stop-color="#f2d422"/><stop offset="0.205" stop-color="#f2e224"/><stop offset="0.254" stop-color="#e2e428"/><stop offset="0.303" stop-color="#b0d030"/><stop offset="0.356" stop-color="#64b632"/><stop offset="0.398" stop-color="#28a22a"/><stop offset="0.500" stop-color="#22a064"/><stop offset="0.599" stop-color="#30b8d0"/><stop offset="0.676" stop-color="#24b4e8"/><stop offset="0.714" stop-color="#2896dc"/><stop offset="0.742" stop-color="#1c48b0"/><stop offset="0.806" stop-color="#2c30a0"/><stop offset="0.878" stop-color="#6434a2"/><stop offset="0.966" stop-color="#983a98"/></linearGradient></defs><path d="M17.2,85.6 19.3,85.7 25.5,84.6 29.6,84.3 31.6,83.3 33.6,83.6 35,83.1 36.3,83.2 43.6,82.2 45.5,81.6 46.9,81.8 48.8,80.9 51.4,81 54.6,80.7 56.6,80.1 57.8,80.1 59.7,79.6 62.3,79.4 63.5,78.9 64.9,77.7 66,75.6 66.7,72.7 67.6,64 68.6,44.6 69.3,12.2 70.4,53.9 71.5,69.1 72.3,73.5 73.7,76.5 74.2,76.9 74.8,76.9 76,76.5 77,75.8 77.8,74.2 78.5,72.1 79.2,67.3 79.7,61.1 80.7,38.2 81.4,6.4 82.1,39.5 83.3,63.9 83.9,69.1 84.7,72.5 85.8,73.9 86.4,74 86.9,73.4 87.9,70.7 88.4,67.6 89.4,54.1 89.9,61.6 90.5,65.4 90.9,65.8 91.1,65.5 91.7,61.7 92.5,47.8 93.4,3.8 94.3,47.7 95,61 95.5,65.3 96.1,67.3 96.5,67.2 97,65.5 97.6,68.1 98.2,68.9 98.8,68.9 99.5,67.5 100.2,64.9 101.1,56.8 102.8,28.5 104.7,54.9 105.2,56.3 105.8,54.9 106.8,42.5 108,56.6 108.6,58.1 108.9,57.4 109.6,53.3 110.1,46.6 110.9,28.3 112.2,55.6 113.2,64.1 113.9,67.2 114.8,69 115.4,69.3 115.8,69.1 116.8,67.6 118.7,60.7 119.4,61.3 120.3,61.7 120.9,61.7 121.4,61.4 122.1,64.7 123.1,67.6 123.9,69 125,69.9 127.7,70.1 129.4,69.7 138.6,68.6 140.5,70.5 17.7,88.3Z" fill="url(#g10)" stroke="url(#g10)" stroke-width="0.7"/><path d="M17.2,85.6 19.3,85.7 25.5,84.6 29.6,84.3 31.6,83.3 33.6,83.6 35,83.1 36.3,83.2 43.6,82.2 45.5,81.6 46.9,81.8 48.8,80.9 51.4,81 54.6,80.7 56.6,80.1 57.8,80.1 59.7,79.6 62.3,79.4 63.5,78.9 64.9,77.7 66,75.6 66.7,72.7 67.6,64 68.6,44.6 69.3,12.2 70.4,53.9 71.5,69.1 72.3,73.5 73.7,76.5 74.2,76.9 74.8,76.9 76,76.5 77,75.8 77.8,74.2 78.5,72.1 79.2,67.3 79.7,61.1 80.7,38.2 81.4,6.4 82.1,39.5 83.3,63.9 83.9,69.1 84.7,72.5 85.8,73.9 86.4,74 86.9,73.4 87.9,70.7 88.4,67.6 89.4,54.1 89.9,61.6 90.5,65.4 90.9,65.8 91.1,65.5 91.7,61.7 92.5,47.8 93.4,3.8 94.3,47.7 95,61 95.5,65.3 96.1,67.3 96.5,67.2 97,65.5 97.6,68.1 98.2,68.9 98.8,68.9 99.5,67.5 100.2,64.9 101.1,56.8 102.8,28.5 104.7,54.9 105.2,56.3 105.8,54.9 106.8,42.5 108,56.6 108.6,58.1 108.9,57.4 109.6,53.3 110.1,46.6 110.9,28.3 112.2,55.6 113.2,64.1 113.9,67.2 114.8,69 115.4,69.3 115.8,69.1 116.8,67.6 118.7,60.7 119.4,61.3 120.3,61.7 120.9,61.7 121.4,61.4 122.1,64.7 123.1,67.6 123.9,69 125,69.9 127.7,70.1 129.4,69.7 138.6,68.6" class="m"/><path class="n" d="M19.5,85.7l0.3,0.9M21.8,85.2l0.3,1M24,84.9l0.3,1.2M26.2,84.5l0.3,1.2M28.4,84.3l0.3,0.9M30.6,83.8l0.3,1.1M32.8,83.6l0.3,1.1M35,83.1l0.4,1.4M37.2,83l0.4,1M39.4,82.9l0.4,0.8M41.5,82.5l0.4,0.7M43.7,82.2l0.4,0.8M45.8,81.6l0.4,1.2M47.9,81.2l0.4,1.1M50.1,81l0.4,1.3M52.2,80.9l0.5,1M54.3,80.7l0.5,0.7M56.4,80.1l0.5,1M58.5,80l0.5,1M60.5,79.6l0.5,1.2M62.6,79.3l0.5,1M64.7,78l0.5,1.5M66.7,72.5l0.5,2.6M68.7,38.4l0.6,12.1M70.8,61.1l0.6,5.4M72.8,75l0.6,1.4M74.8,76.9l0.6,1.1M76.8,75.9l0.6,1.1M78.8,70.1l0.6,2.8M80.8,35.5l0.6,12.7M82.8,56.5l0.6,6.8M84.8,72.7l0.6,1.8M86.7,73.7l0.7,1.4M88.7,65l0.7,3.3M90.6,65.6l0.7,3.5M92.6,45.5l0.7,14.3M94.5,52.9l0.7,10.8M96.4,67.3l0.7,2.8M98.3,69l0.7,2.2M100.3,64.5l0.7,3M102.2,37.7l0.7,9.2M104.1,47.8l0.7,6.9M105.9,53.8l0.8,5.8M107.8,55.7l0.8,5.8M109.7,52.4l0.8,8.5M111.5,45.2l0.8,11.7M113.4,65.1l0.8,3.7M115.2,69.3l0.8,1.8M117.1,67l0.8,2.2M118.9,61l0.8,3.6M120.7,61.8l0.8,3.3M122.6,66.2l0.8,2M124.4,69.5l0.9,1.1M126.2,70.1l0.9,0.8M128,70.1l0.9,0.8M129.8,69.7l0.9,1M131.5,69.6l0.9,0.8M133.3,69.3l0.9,0.8M135.1,69.1l0.9,0.8M136.8,68.9l0.9,0.8"/><path d="M17.5,87 25.1,85.9 29.2,85 35.3,84.5 43.3,83.1 50.6,82.3 54.5,81.3 60.9,80.8 64.1,80 65.4,79.2 66.5,77.5 67.2,75.2 68.2,68.8 69.1,55 69.9,31.7 71,61.4 72.1,72.2 72.9,75.3 74.3,77.6 74.7,78 75.3,78 77.6,76.9 78.4,75.8 79.1,74.3 79.8,70.9 80.4,66.5 81.4,50.1 82,27.5 82.7,50 83.3,62.2 84.6,72 85.2,74 86,75.1 87,75.3 87.6,74.9 88.6,72.5 89.4,67.9 90.1,59.7 91.1,68.4 91.8,69.6 92.4,68.1 93.2,61 94.1,37.8 95,61 95.7,67.8 96.6,70.4 97.2,70 97.7,68.3 98.3,70.4 98.9,71.1 99.5,71 100.3,69.8 100.9,67.8 101.9,61.6 103.5,39.9 103.9,42.3 104.8,55.3 105.8,61.1 106.1,61.4 106.4,61 106.8,58.8 107.6,51.4 108.7,62.3 109.4,63.8 110,63 110.9,57.5 111.7,46.7 113,63.1 114,68.2 115.2,70.5 116.3,71 117.3,70.2 118.4,68 119.5,64.4 120.4,64.9 121.7,65 122.2,64.8 123.9,69.2 124.7,70.2 125.8,70.8 130.3,70.7 139.5,69.5 141.4,71.3 18,89.4Z" fill="url(#g11)" stroke="url(#g11)" stroke-width="0.7"/><path d="M17.5,87 25.1,85.9 29.2,85 35.3,84.5 43.3,83.1 50.6,82.3 54.5,81.3 60.9,80.8 64.1,80 65.4,79.2 66.5,77.5 67.2,75.2 68.2,68.8 69.1,55 69.9,31.7 71,61.4 72.1,72.2 72.9,75.3 74.3,77.6 74.7,78 75.3,78 77.6,76.9 78.4,75.8 79.1,74.3 79.8,70.9 80.4,66.5 81.4,50.1 82,27.5 82.7,50 83.3,62.2 84.6,72 85.2,74 86,75.1 87,75.3 87.6,74.9 88.6,72.5 89.4,67.9 90.1,59.7 91.1,68.4 91.8,69.6 92.4,68.1 93.2,61 94.1,37.8 95,61 95.7,67.8 96.6,70.4 97.2,70 97.7,68.3 98.3,70.4 98.9,71.1 99.5,71 100.3,69.8 100.9,67.8 101.9,61.6 103.5,39.9 103.9,42.3 104.8,55.3 105.8,61.1 106.1,61.4 106.4,61 106.8,58.8 107.6,51.4 108.7,62.3 109.4,63.8 110,63 110.9,57.5 111.7,46.7 113,63.1 114,68.2 115.2,70.5 116.3,71 117.3,70.2 118.4,68 119.5,64.4 120.4,64.9 121.7,65 122.2,64.8 123.9,69.2 124.7,70.2 125.8,70.8 130.3,70.7 139.5,69.5" class="m"/><path class="n" d="M19.8,86.6l0.3,1.2M22,86.3l0.3,1.1M24.3,86.1l0.3,1M26.5,85.6l0.3,1M28.7,85.1l0.3,1.2M31,84.9l0.3,1M33.2,84.7l0.3,0.8M35.4,84.5l0.4,0.9M37.6,84l0.4,1M39.7,83.6l0.4,1M41.9,83.3l0.4,1.1M44.1,83l0.4,1.1M46.2,82.8l0.4,0.9M48.4,82.4l0.4,1M50.5,82.3l0.5,0.8M52.6,82l0.5,0.9M54.8,81.3l0.5,1.3M56.9,81.2l0.5,0.8M59,81.1l0.5,0.9M61,80.7l0.5,0.8M63.1,80.2l0.5,0.9M65.2,79.4l0.5,0.9M67.3,75.1l0.6,2.5M69.3,50.5l0.6,9.3M71.3,66.4l0.6,4.6M73.4,76.4l0.6,2M75.4,78l0.6,0.9M77.4,77.1l0.6,1.6M79.4,72.9l0.6,2.4M81.4,48.2l0.6,9.2M83.4,63.3l0.6,4.9M85.4,74.4l0.7,1.7M87.4,75.1l0.7,1.5M89.4,68.3l0.7,2.3M91.3,69.1l0.7,2.7M93.3,59.8l0.7,7.9M95.2,63.7l0.7,6.1M97.1,70.1l0.7,2M99.1,71.2l0.7,1.4M101,67.5l0.7,2.6M102.9,46.9l0.7,7.1M104.8,54.8l0.8,5.3M106.7,59.7l0.8,4.3M108.6,61.5l0.8,4.2M110.5,60.9l0.8,5.4M112.3,56.9l0.8,7M114.2,68.8l0.8,2.3M116.1,71l0.8,1.3M117.9,69.2l0.8,1.6M119.7,64.6l0.8,2.8M121.6,65l0.8,2.6M123.4,68.3l0.9,1.7M125.2,70.5l0.9,1.1M127,70.9l0.9,1M128.8,70.8l0.9,0.9M130.6,70.7l0.9,0.8M132.4,70.4l0.9,0.8M134.2,70.2l0.9,0.9M136,69.9l0.9,0.8M137.8,69.7l0.9,0.8"/><path d="M17.7,88 30.2,86.3 32.3,85.6 39,85 41.1,84.4 43.1,84.4 49.7,83.2 54.9,82.7 57.5,81.9 60.1,81.9 64.6,81.1 66.5,79.8 67.8,77.6 69,70.7 69.8,61.7 70.4,46.2 71.5,67.4 72.6,75.3 73.5,77.7 74.1,78.6 75.3,79 78.2,78.5 79.7,76.3 80.4,73.8 81,70.6 82,58.8 82.7,42.5 83.3,58.7 84,67.5 85.2,74.4 85.8,75.8 86.7,76.6 87.7,76.7 88.3,76.3 89.2,74.3 90.1,70.3 90.8,63.9 91.8,71.1 92.5,72.7 93.1,72.3 93.9,68.4 94.8,55.4 95.5,66.3 96.4,71.9 96.9,72.7 97.4,72.7 98.4,70.4 99.4,72.4 100.2,72.5 101,71.8 102,68.9 102.6,65.6 104.3,48.4 104.7,50.2 105.9,62.8 106.5,65.1 106.9,65.2 107.1,64.9 107.6,63.3 108.3,57.8 109.5,66.4 110.2,67.7 110.8,67.5 111.7,64.3 112.5,57.8 113.8,67.7 114.8,70.7 116,72.2 117.1,72.3 118.2,71.5 119.4,69.5 120.4,67.2 121,67.5 123.1,67.5 124.8,70.8 125.8,71.5 127.3,71.9 140.5,70.3 142.4,72.1 18.2,90.4Z" fill="url(#g12)" stroke="url(#g12)" stroke-width="0.7"/><path d="M17.7,88 30.2,86.3 32.3,85.6 39,85 41.1,84.4 43.1,84.4 49.7,83.2 54.9,82.7 57.5,81.9 60.1,81.9 64.6,81.1 66.5,79.8 67.8,77.6 69,70.7 69.8,61.7 70.4,46.2 71.5,67.4 72.6,75.3 73.5,77.7 74.1,78.6 75.3,79 78.2,78.5 79.7,76.3 80.4,73.8 81,70.6 82,58.8 82.7,42.5 83.3,58.7 84,67.5 85.2,74.4 85.8,75.8 86.7,76.6 87.7,76.7 88.3,76.3 89.2,74.3 90.1,70.3 90.8,63.9 91.8,71.1 92.5,72.7 93.1,72.3 93.9,68.4 94.8,55.4 95.5,66.3 96.4,71.9 96.9,72.7 97.4,72.7 98.4,70.4 99.4,72.4 100.2,72.5 101,71.8 102,68.9 102.6,65.6 104.3,48.4 104.7,50.2 105.9,62.8 106.5,65.1 106.9,65.2 107.1,64.9 107.6,63.3 108.3,57.8 109.5,66.4 110.2,67.7 110.8,67.5 111.7,64.3 112.5,57.8 113.8,67.7 114.8,70.7 116,72.2 117.1,72.3 118.2,71.5 119.4,69.5 120.4,67.2 121,67.5 123.1,67.5 124.8,70.8 125.8,71.5 127.3,71.9 140.5,70.3" class="m"/><path class="n" d="M20,87.7l0.3,1M22.3,87.3l0.3,1.1M24.6,87l0.3,1M26.8,86.6l0.3,1M29.1,86.4l0.3,1M31.3,85.9l0.3,1M33.5,85.5l0.4,1.2M35.7,85.3l0.4,0.9M37.9,85l0.4,0.5M40.1,84.7l0.4,1.2M42.3,84.4l0.4,0.7M44.5,84.1l0.4,0.6M46.7,83.7l0.4,1M48.8,83.4l0.4,1.2M51,83.1l0.5,1.1M53.1,82.9l0.5,1M55.2,82.6l0.5,1M57.3,82l0.5,1.3M59.5,81.9l0.5,0.8M61.6,81.5l0.5,0.9M63.6,81.2l0.5,1M65.7,80.4l0.5,1M67.8,77.6l0.6,1.8M69.9,59.8l0.6,6.8M71.9,71.1l0.6,3.7M74,78.4l0.6,1.2M76,78.9l0.6,1.4M78,78.7l0.6,1M80.1,75.2l0.6,2M82.1,57.5l0.6,6.8M84.1,68.2l0.7,3.2M86.1,76.1l0.7,1.4M88.1,76.5l0.7,0.8M90,70.6l0.7,2.6M92,71.8l0.7,2.5M94,67.7l0.7,4.2M95.9,69.7l0.7,3.4M97.9,72.1l0.7,2.1M99.8,72.6l0.7,2M101.7,70.1l0.7,2.3M103.6,54l0.8,5.7M105.6,60.1l0.8,4.2M107.5,64l0.8,3.7M109.4,65.8l0.8,3.1M111.2,66.3l0.8,3.8M113.1,64l0.8,4.6M115,71.1l0.8,1.8M116.9,72.4l0.8,1.3M118.7,70.8l0.8,1.5M120.6,67.4l0.8,2.1M122.4,67.6l0.9,2M124.3,70l0.9,1.5M126.1,71.6l0.9,1.1M127.9,72l0.9,0.9M129.7,71.7l0.9,0.9M131.5,71.5l0.9,0.8M133.3,71.3l0.9,0.8M135.1,71l0.9,0.8M136.9,70.8l0.9,0.8M138.7,70.5l0.9,0.8"/><path d="M18,89 34.7,86.7 38.8,85.5 40.8,85.7 44.1,84.7 48.8,84.6 58,83.3 60.6,82.6 64.2,82.1 67.1,81 68.3,79.4 69.6,74.4 70.3,68 71,56.8 72.1,72.1 73.2,77.7 74,79.2 75.3,80.1 76.5,80.3 78.4,79.8 80.3,77.9 81.6,73.8 82.6,65.2 83.3,53.3 84,64.7 84.6,70.9 85.5,75.2 86.6,77.5 88.3,77.5 88.9,77.2 89.9,75.9 90.8,73 91.4,68.1 92.5,73.7 93,74.8 93.5,74.8 93.8,74.6 94.6,72.3 95.5,65 96.2,71.2 96.8,73.7 97.3,74.7 97.6,75 98.2,74.7 99.2,72.8 100.2,74.5 101,74.5 101.6,74 102.4,72.5 103.2,69.6 105.1,55.3 105.4,56.7 106.7,66.4 107.3,68.3 107.5,68.6 107.9,68.3 108.4,67.2 109.1,62.9 110.3,69.3 110.9,70.5 111.5,70.7 112.5,68.9 113.3,64.8 114.6,70.8 115.6,72.7 116.8,73.6 117.9,73.6 119.1,72.9 120.2,71.4 121.2,69.4 123.9,69.7 124.8,71.1 125.7,72 126.7,72.6 128.1,72.8 141.4,71.1 143.3,73 18.5,91.5Z" fill="url(#g13)" stroke="url(#g13)" stroke-width="0.7"/><path d="M18,89 34.7,86.7 38.8,85.5 40.8,85.7 44.1,84.7 48.8,84.6 58,83.3 60.6,82.6 64.2,82.1 67.1,81 68.3,79.4 69.6,74.4 70.3,68 71,56.8 72.1,72.1 73.2,77.7 74,79.2 75.3,80.1 76.5,80.3 78.4,79.8 80.3,77.9 81.6,73.8 82.6,65.2 83.3,53.3 84,64.7 84.6,70.9 85.5,75.2 86.6,77.5 88.3,77.5 88.9,77.2 89.9,75.9 90.8,73 91.4,68.1 92.5,73.7 93,74.8 93.5,74.8 93.8,74.6 94.6,72.3 95.5,65 96.2,71.2 96.8,73.7 97.3,74.7 97.6,75 98.2,74.7 99.2,72.8 100.2,74.5 101,74.5 101.6,74 102.4,72.5 103.2,69.6 105.1,55.3 105.4,56.7 106.7,66.4 107.3,68.3 107.5,68.6 107.9,68.3 108.4,67.2 109.1,62.9 110.3,69.3 110.9,70.5 111.5,70.7 112.5,68.9 113.3,64.8 114.6,70.8 115.6,72.7 116.8,73.6 117.9,73.6 119.1,72.9 120.2,71.4 121.2,69.4 123.9,69.7 124.8,71.1 125.7,72 126.7,72.6 128.1,72.8 141.4,71.1" class="m"/><path class="n" d="M20.3,88.7l0.3,0.7M22.6,88.4l0.3,0.8M24.9,88.1l0.3,1.1M27.1,87.6l0.3,0.8M29.4,87.4l0.3,1M31.6,87l0.3,1M33.9,86.7l0.4,0.9M36.1,86.3l0.4,1M38.3,85.5l0.4,1.4M40.5,85.8l0.4,1M42.7,85l0.4,1.4M44.9,84.7l0.4,1.4M47.1,84.7l0.4,1.1M49.3,84.6l0.5,0.6M51.4,84.2l0.5,1M53.6,83.9l0.5,0.6M55.7,83.6l0.5,0.5M57.8,83.3l0.5,0.5M60,82.8l0.5,0.8M62.1,82.4l0.5,0.9M64.2,82.1l0.5,1M66.3,81.4l0.6,0.8M68.4,79.4l0.6,1.5M70.4,66.6l0.6,4.8M72.5,74.7l0.6,2.5M74.6,79.7l0.6,1.1M76.6,80.3l0.6,1M78.7,79.6l0.6,0.9M80.7,77.2l0.6,1.7M82.7,64.3l0.6,5M84.7,71.4l0.7,3.3M86.7,77.5l0.7,1.4M88.7,77.4l0.7,1.5M90.7,73.3l0.7,1.8M92.7,74.3l0.7,2M94.7,71.9l0.7,3.1M96.6,73.1l0.7,2.4M98.6,74.3l0.7,1.4M100.5,74.6l0.7,1M102.5,72.3l0.8,1.8M104.4,59.7l0.8,4.6M106.3,64.3l0.8,3.7M108.2,67.6l0.8,2.3M110.1,68.9l0.8,2.6M112,70.1l0.8,2.5M113.9,68.6l0.8,3.2M115.8,72.9l0.8,1.5M117.7,73.6l0.8,1.1M119.6,72.3l0.8,1.4M121.4,69.4l0.9,2.1M123.3,69.7l0.9,1.9M125.1,71.5l0.9,1.2M127,72.7l0.9,0.8M128.8,72.8l0.9,0.8M130.6,72.6l0.9,0.8M132.4,72.3l0.9,0.7M134.2,72.1l0.9,0.8M136,71.9l0.9,0.8M137.8,71.6l0.9,0.8M139.6,71.3l0.9,0.8"/><path d="M18.2,89.6 25.3,89.1 27.4,88.4 29.5,88.5 38.5,86.9 41.2,86.8 44.6,86.1 47.9,85.8 50.6,84.9 51.9,85.2 53.3,84.6 55.9,84.1 65.7,82.9 68.3,81.6 68.9,81 69.5,79.6 70.8,73.1 71.6,64.1 72.7,75.3 73.8,79.6 74.6,80.5 76.5,81.3 79.1,80.7 80.9,79.4 81.7,78.2 82.2,76.7 83.3,69.9 84,61.3 84.6,69.8 85.3,74.3 86.2,77.4 87.2,78.8 87.8,79.1 89.1,79.1 90.6,77.2 91.5,74.8 92.1,70.9 92.7,74.4 93.3,76.1 93.9,76.8 94.5,76.7 95.2,75.6 96.2,70.8 96.9,74.4 97.9,76.2 98.4,76.4 98.9,76.2 99.9,74.3 100.9,75.5 101.7,75.6 102.5,75.1 103.2,74.3 104,72.1 105.8,60.8 106.2,61.9 107.2,68.2 107.8,70.3 108.3,70.7 108.9,70.2 109.9,66.7 110.6,70.6 111.7,72.8 112.4,72.9 113,72.4 114.1,69.3 115.3,73 116.1,74 117.2,74.7 118.7,74.7 119.8,74.2 120.9,73.1 122.1,71.4 124.8,71.5 125.7,72.5 126.8,73.2 129.8,73.6 142.4,71.9 144.3,73.8 18.8,92.6Z" fill="url(#g14)" stroke="url(#g14)" stroke-width="0.7"/><path d="M18.2,89.6 25.3,89.1 27.4,88.4 29.5,88.5 38.5,86.9 41.2,86.8 44.6,86.1 47.9,85.8 50.6,84.9 51.9,85.2 53.3,84.6 55.9,84.1 65.7,82.9 68.3,81.6 68.9,81 69.5,79.6 70.8,73.1 71.6,64.1 72.7,75.3 73.8,79.6 74.6,80.5 76.5,81.3 79.1,80.7 80.9,79.4 81.7,78.2 82.2,76.7 83.3,69.9 84,61.3 84.6,69.8 85.3,74.3 86.2,77.4 87.2,78.8 87.8,79.1 89.1,79.1 90.6,77.2 91.5,74.8 92.1,70.9 92.7,74.4 93.3,76.1 93.9,76.8 94.5,76.7 95.2,75.6 96.2,70.8 96.9,74.4 97.9,76.2 98.4,76.4 98.9,76.2 99.9,74.3 100.9,75.5 101.7,75.6 102.5,75.1 103.2,74.3 104,72.1 105.8,60.8 106.2,61.9 107.2,68.2 107.8,70.3 108.3,70.7 108.9,70.2 109.9,66.7 110.6,70.6 111.7,72.8 112.4,72.9 113,72.4 114.1,69.3 115.3,73 116.1,74 117.2,74.7 118.7,74.7 119.8,74.2 120.9,73.1 122.1,71.4 124.8,71.5 125.7,72.5 126.8,73.2 129.8,73.6 142.4,71.9" class="m"/><path class="n" d="M20.6,89.5l0.3,1.4M22.9,89.3l0.3,1.3M25.2,89.2l0.3,0.9M27.4,88.4l0.3,1.1M29.7,88.4l0.3,0.8M32,88l0.3,1.2M34.2,87.7l0.4,1M36.5,87.3l0.4,1.2M38.7,86.9l0.4,1.3M40.9,86.9l0.4,0.7M43.1,86.5l0.4,1M45.3,86.1l0.4,0.8M47.5,85.8l0.4,1M49.7,85.1l0.5,1.4M51.9,85.2l0.5,0.5M54,84.5l0.5,1.1M56.2,84.1l0.5,1M58.3,83.8l0.5,1.3M60.5,83.6l0.5,1.2M62.6,83.4l0.5,1.2M64.7,83.1l0.5,0.6M66.8,82.2l0.6,1.4M68.9,80.9l0.6,1.4M71,71.3l0.6,4.1M73.1,77.2l0.6,2.3M75.2,80.8l0.6,1.5M77.2,81.2l0.6,0.7M79.3,80.6l0.6,1.3M81.3,78.9l0.6,1.5M83.4,69.2l0.7,4M85.4,74.7l0.7,2.5M87.4,79l0.7,1M89.4,78.8l0.7,1M91.4,75l0.7,2M93.4,76.3l0.7,1.5M95.4,75.1l0.7,2.3M97.4,75.6l0.7,2M99.3,75.6l0.7,1.5M101.3,75.6l0.8,1.5M103.2,74.1l0.8,1.4M105.2,64.2l0.8,3.6M107.1,68l0.8,2.7M109,69.9l0.8,2.7M110.9,71.5l0.8,2M112.9,72.6l0.8,1.8M114.8,71.7l0.8,2M116.6,74.4l0.8,1.2M118.5,74.8l0.8,0.8M120.4,73.7l0.9,1.2M122.3,71.5l0.9,1.6M124.1,71.6l0.9,1.5M126,72.7l0.9,1.2M127.8,73.4l0.9,1.1M129.7,73.6l0.9,1M131.5,73.4l0.9,0.9M133.3,73.1l0.9,0.9M135.2,72.8l0.9,1M137,72.6l0.9,0.9M138.8,72.4l0.9,0.9M140.6,72.1l1,0.9"/><path d="M18.5,91.1 24.2,90.4 27.7,89.5 31.9,89.3 38.2,88.4 42.3,87.2 43.6,87.5 45,87 50.4,86.5 53.7,85.3 55.1,85.7 56.4,85.1 59.7,85.1 61.7,84.6 63,84.7 64.9,83.8 67.6,83.6 69.5,82.3 70.5,80.5 71.4,76.7 72.2,70.1 73.3,78.1 74.4,81.1 75.9,82.3 78.4,81.8 80.1,81.8 82.2,80 82.9,78.6 83.9,73.8 84.6,67.4 85.3,73.7 86,77 86.9,79.1 87.8,79.9 88.5,80 90.3,79.7 91.3,78.8 92.2,76.9 92.8,73.7 93.9,77.4 94.9,78.3 95.6,78.1 96,77.5 96.9,74.5 97.7,76.9 98.5,77.8 99.7,77.5 100.6,76.2 101.7,77 103.1,76.6 103.9,75.6 104.7,73.8 106.6,65.3 107.9,70.9 108.9,73 109.5,73 110,72.4 110.7,70.1 111.4,72.8 112.6,74.5 113.2,74.6 113.8,74.3 114.9,72.2 116.1,74.5 118,75.8 121,75.1 122.9,73.1 125.7,73.1 127.7,74.3 129.9,74.6 143.3,72.8 145.3,74.7 19,93.7Z" fill="url(#g15)" stroke="url(#g15)" stroke-width="0.7"/><path d="M18.5,91.1 24.2,90.4 27.7,89.5 31.9,89.3 38.2,88.4 42.3,87.2 43.6,87.5 45,87 50.4,86.5 53.7,85.3 55.1,85.7 56.4,85.1 59.7,85.1 61.7,84.6 63,84.7 64.9,83.8 67.6,83.6 69.5,82.3 70.5,80.5 71.4,76.7 72.2,70.1 73.3,78.1 74.4,81.1 75.9,82.3 78.4,81.8 80.1,81.8 82.2,80 82.9,78.6 83.9,73.8 84.6,67.4 85.3,73.7 86,77 86.9,79.1 87.8,79.9 88.5,80 90.3,79.7 91.3,78.8 92.2,76.9 92.8,73.7 93.9,77.4 94.9,78.3 95.6,78.1 96,77.5 96.9,74.5 97.7,76.9 98.5,77.8 99.7,77.5 100.6,76.2 101.7,77 103.1,76.6 103.9,75.6 104.7,73.8 106.6,65.3 107.9,70.9 108.9,73 109.5,73 110,72.4 110.7,70.1 111.4,72.8 112.6,74.5 113.2,74.6 113.8,74.3 114.9,72.2 116.1,74.5 118,75.8 121,75.1 122.9,73.1 125.7,73.1 127.7,74.3 129.9,74.6 143.3,72.8" class="m"/><path class="n" d="M20.8,90.8l0.3,1.1M23.2,90.5l0.3,1.1M25.5,90.1l0.3,1.2M27.8,89.5l0.3,1.5M30,89.3l0.3,1.2M32.3,89.2l0.4,1M34.6,88.7l0.4,1.1M36.8,88.4l0.4,1.2M39.1,88.1l0.4,1.1M41.3,87.5l0.4,1.3M43.6,87.5l0.4,1M45.8,86.9l0.4,1.3M48,86.8l0.5,0.9M50.2,86.5l0.5,1M52.4,85.7l0.5,1.1M54.5,85.5l0.5,1.1M56.7,85.1l0.5,1.1M58.9,85.1l0.5,0.9M61,84.8l0.5,0.9M63.1,84.6l0.5,0.9M65.3,83.8l0.6,1.5M67.4,83.6l0.6,0.8M69.5,82.3l0.6,1.3M71.6,75.4l0.6,2.9M73.7,79.5l0.6,1.9M75.8,82.2l0.6,1M77.8,82l0.6,1.3M79.9,81.8l0.6,1M82,80.4l0.7,1.2M84,73.3l0.7,3M86,77.3l0.7,1.6M88.1,79.9l0.7,1.4M90.1,79.8l0.7,1M92.1,77l0.7,0.9M94.1,77.8l0.7,1.2M96.1,77.3l0.7,1.4M98.1,77.5l0.7,1.4M100.1,77.2l0.8,1.3M102,77.1l0.8,1.3M104,75.5l0.8,1.7M105.9,67.9l0.8,3.3M107.9,70.7l0.8,2.6M109.8,72.7l0.8,2M111.8,73.5l0.8,1.9M113.7,74.4l0.8,1.7M115.6,73.8l0.8,1.9M117.5,75.6l0.8,1.2M119.4,75.6l0.9,1M121.3,74.9l0.9,1.1M123.1,73.1l0.9,1.5M125,73.1l0.9,1.4M126.9,74l0.9,1.3M128.7,74.6l0.9,0.9M130.6,74.6l0.9,0.8M132.4,74.3l0.9,0.8M134.3,74l0.9,0.9M136.1,73.8l0.9,0.8M137.9,73.5l1,0.8M139.7,73.3l1,0.8M141.5,73l1,0.8"/><path d="M18.8,92 21.6,91.9 45.4,88.1 46.8,88.2 48.1,87.7 50.2,87.7 54.2,86.5 55.6,86.8 56.9,86.2 65.9,85.3 69.4,84 70.7,83 72,79.3 72.8,74.3 73.9,80.3 75,82.6 77.3,83.4 80.3,82.9 82.2,81.8 83.6,80.2 84.6,76.7 85.3,71.8 86,76.3 86.6,78.7 87.9,80.7 89.1,81.3 90.4,81.2 91.6,80 92.9,77.8 93.6,75.4 94.6,78.6 95.6,79.5 96.8,78.9 97.7,76.7 98.4,78.4 99.3,79.2 100.4,78.9 101.4,77.5 102.4,78.3 104,77.9 105.1,76.7 105.7,75.4 107.4,69.1 109.4,74.8 109.9,75.1 110.5,74.9 111.5,72.7 112.3,74.9 113.1,76 113.7,76.3 114.6,76 115.8,74.5 116.9,76.3 119.2,76.8 121.6,76.4 123.8,74.6 125.2,74.4 126.6,74.5 128.3,75.4 130.8,75.4 144.3,73.6 146.3,75.5 19.3,94.8Z" fill="url(#g16)" stroke="url(#g16)" stroke-width="0.7"/><path d="M18.8,92 21.6,91.9 45.4,88.1 46.8,88.2 48.1,87.7 50.2,87.7 54.2,86.5 55.6,86.8 56.9,86.2 65.9,85.3 69.4,84 70.7,83 72,79.3 72.8,74.3 73.9,80.3 75,82.6 77.3,83.4 80.3,82.9 82.2,81.8 83.6,80.2 84.6,76.7 85.3,71.8 86,76.3 86.6,78.7 87.9,80.7 89.1,81.3 90.4,81.2 91.6,80 92.9,77.8 93.6,75.4 94.6,78.6 95.6,79.5 96.8,78.9 97.7,76.7 98.4,78.4 99.3,79.2 100.4,78.9 101.4,77.5 102.4,78.3 104,77.9 105.1,76.7 105.7,75.4 107.4,69.1 109.4,74.8 109.9,75.1 110.5,74.9 111.5,72.7 112.3,74.9 113.1,76 113.7,76.3 114.6,76 115.8,74.5 116.9,76.3 119.2,76.8 121.6,76.4 123.8,74.6 125.2,74.4 126.6,74.5 128.3,75.4 130.8,75.4 144.3,73.6" class="m"/><path class="n" d="M21.1,92l0.3,0.5M23.4,91.7l0.3,0.4M25.8,91.3l0.3,0.4M28.1,91l0.3,0.5M30.4,90.5l0.3,1M32.7,90.2l0.4,0.9M35,89.8l0.4,1M37.2,89.6l0.4,1M39.5,89.2l0.4,1.1M41.7,88.9l0.4,1.1M44,88.4l0.4,1.2M46.2,88.2l0.4,1.1M48.4,87.7l0.5,1.2M50.6,87.5l0.5,1.1M52.8,86.8l0.5,1.4M55,86.7l0.5,1.3M57.2,86.2l0.5,1.2M59.4,86l0.5,1.1M61.5,85.7l0.5,1M63.7,85.5l0.5,1.1M65.8,85.3l0.6,1M68,84.4l0.6,1.3M70.1,83.6l0.6,1.3M72.2,78.3l0.6,2.4M74.3,81.4l0.6,1.6M76.4,83.2l0.6,1.2M78.5,83.2l0.6,1.1M80.5,82.8l0.6,1M82.6,81.5l0.7,1.3M84.7,76.3l0.7,2.4M86.7,78.9l0.7,1.9M88.8,81.3l0.7,1M90.8,80.8l0.7,1.2M92.8,77.9l0.7,1.8M94.8,79l0.7,1.5M96.8,78.8l0.7,1.5M98.8,78.9l0.8,1.2M100.8,78.5l0.8,1.1M102.8,78.3l0.8,1.3M104.8,77.2l0.8,1M106.7,71.1l0.8,2.5M108.7,73.3l0.8,2.1M110.6,74.7l0.8,1.8M112.6,75.4l0.8,1.6M114.5,76.1l0.8,1.4M116.4,75.7l0.8,1.4M118.3,76.7l0.9,1.1M120.2,76.6l0.9,1.1M122.1,76l0.9,0.9M124,74.6l0.9,1.1M125.9,74.5l0.9,1.2M127.8,75.2l0.9,0.7M129.6,75.4l0.9,1M131.5,75.4l0.9,0.8M133.4,75.1l0.9,0.9M135.2,74.9l0.9,0.9M137,74.6l1,0.9M138.9,74.4l1,0.9M140.7,74.1l1,0.9M142.5,73.8l1,0.9"/><path d="M19,92.8 27.7,91.5 31.9,91.5 34,90.8 36.1,90.9 55.4,88 57.4,87.3 58.7,87.4 60.7,86.9 65.4,86.5 69.9,85.4 71.1,84.5 71.9,83.1 72.7,81.1 73.4,77.7 74.5,82.2 75.7,83.9 76.5,84.3 77.9,84.4 81,83.9 82.9,83.1 84.2,81.7 85.3,79 86,75.3 86.6,78.8 87.3,80.6 88.2,81.9 89.4,82.3 91.1,82.3 92.2,81.5 93.6,79.6 94.3,77.7 95.3,80.3 96.3,80.8 97.5,80.3 98.4,78.5 99,79.7 99.8,80.2 101.1,79.9 102.2,78.8 102.8,79.4 104,79.6 105.3,78.5 106.5,76.7 107.8,72.8 108.3,72.1 110.2,76.6 110.7,76.8 111.3,76.7 112.3,74.9 113.6,77.2 114.6,77.6 115.5,77.4 116.6,76.3 117.8,77.4 120.2,77.9 121.7,77.7 124.7,75.7 126.1,75.8 127.5,75.6 130.4,76.5 145.3,74.5 147.3,76.4 19.6,96Z" fill="url(#g17)" stroke="url(#g17)" stroke-width="0.7"/><path d="M19,92.8 27.7,91.5 31.9,91.5 34,90.8 36.1,90.9 55.4,88 57.4,87.3 58.7,87.4 60.7,86.9 65.4,86.5 69.9,85.4 71.1,84.5 71.9,83.1 72.7,81.1 73.4,77.7 74.5,82.2 75.7,83.9 76.5,84.3 77.9,84.4 81,83.9 82.9,83.1 84.2,81.7 85.3,79 86,75.3 86.6,78.8 87.3,80.6 88.2,81.9 89.4,82.3 91.1,82.3 92.2,81.5 93.6,79.6 94.3,77.7 95.3,80.3 96.3,80.8 97.5,80.3 98.4,78.5 99,79.7 99.8,80.2 101.1,79.9 102.2,78.8 102.8,79.4 104,79.6 105.3,78.5 106.5,76.7 107.8,72.8 108.3,72.1 110.2,76.6 110.7,76.8 111.3,76.7 112.3,74.9 113.6,77.2 114.6,77.6 115.5,77.4 116.6,76.3 117.8,77.4 120.2,77.9 121.7,77.7 124.7,75.7 126.1,75.8 127.5,75.6 130.4,76.5 145.3,74.5" class="m"/><path class="n" d="M21.4,92.5l0.3,1.7M23.7,92.1l0.3,1.8M26.1,91.7l0.3,1.8M28.4,91.4l0.3,1.6M30.7,91.5l0.3,1M33,91.2l0.4,1.1M35.3,90.8l0.4,1M37.6,90.6l0.4,0.9M39.9,90.3l0.4,0.7M42.2,90l0.4,1M44.4,89.6l0.4,1.1M46.6,89.3l0.4,1M48.9,88.9l0.5,0.8M51.1,88.6l0.5,1M53.3,88.3l0.5,0.9M55.5,88l0.5,0.8M57.7,87.4l0.5,1.1M59.9,87.1l0.5,1.2M62.1,86.7l0.5,0.9M64.2,86.5l0.6,0.9M66.4,86.3l0.6,0.7M68.5,85.7l0.6,1.3M70.7,84.9l0.6,1.2M72.8,80.7l0.6,2M74.9,83l0.6,1.3M77,84.4l0.6,1M79.1,84.3l0.6,1M81.2,83.9l0.7,0.8M83.3,82.9l0.7,0.8M85.3,78.7l0.7,2M87.4,80.8l0.7,1.6M89.5,82.3l0.7,0.9M91.5,82.1l0.7,1M93.5,79.7l0.7,1.8M95.6,80.5l0.7,0.7M97.6,80.2l0.8,0.6M99.6,80.2l0.8,1M101.6,79.6l0.8,1.2M103.6,79.6l0.8,0.5M105.6,78.1l0.8,1.4M107.5,73.6l0.8,2.1M109.5,75.3l0.8,1.9M111.4,76.5l0.8,1.4M113.4,77l0.8,1.3M115.3,77.5l0.8,1M117.3,77.1l0.9,0.9M119.2,77.8l0.9,1.1M121.1,77.8l0.9,0.7M123,76.9l0.9,1.3M124.9,75.8l0.9,1.4M126.8,75.7l0.9,1.4M128.7,75.9l0.9,1M130.6,76.5l0.9,0.9M132.4,76.1l0.9,1.1M134.3,76l0.9,1M136.1,75.7l1,0.9M138,75.5l1,1M139.8,75.3l1,0.9M141.7,75l1,0.9M143.5,74.7l1,0.9"/><path d="M19.3,94.4 28,93.2 37.2,91.5 38.6,91.6 40.7,90.8 42.8,91 49.1,89.8 53.2,89.4 55.2,88.6 56.6,88.8 57.9,88.5 60.6,88.3 63.3,87.3 65.3,87.6 66.6,87 69.3,86.9 71.2,86.1 72.2,85.1 73.2,83.3 74,80.3 75.1,83.7 76.3,85.1 77.1,85.4 80.3,85.3 84.2,83.5 84.8,83 86,80.9 86.6,78.2 87.8,81.9 89.3,83.1 91.8,83.1 93.1,82.8 94.3,81.4 95,79.5 95.6,80.7 96.6,81.3 98.1,81.1 99.2,79.5 100.1,80.9 101.4,81.4 102,81.1 102.9,79.9 103.6,80.2 105,80.1 106.7,79.2 107.6,77.7 109,74.5 110.4,77.4 111,78.1 112.1,78 113.2,76.6 113.9,78 114.7,78.7 116.1,78.5 117.5,77.3 118.7,78.4 119.9,78.9 124,78.2 125.6,77.1 128.4,76.9 132.1,77.4 146.3,75.3 148.3,77.3 19.9,97.1Z" fill="url(#g18)" stroke="url(#g18)" stroke-width="0.7"/><path d="M19.3,94.4 28,93.2 37.2,91.5 38.6,91.6 40.7,90.8 42.8,91 49.1,89.8 53.2,89.4 55.2,88.6 56.6,88.8 57.9,88.5 60.6,88.3 63.3,87.3 65.3,87.6 66.6,87 69.3,86.9 71.2,86.1 72.2,85.1 73.2,83.3 74,80.3 75.1,83.7 76.3,85.1 77.1,85.4 80.3,85.3 84.2,83.5 84.8,83 86,80.9 86.6,78.2 87.8,81.9 89.3,83.1 91.8,83.1 93.1,82.8 94.3,81.4 95,79.5 95.6,80.7 96.6,81.3 98.1,81.1 99.2,79.5 100.1,80.9 101.4,81.4 102,81.1 102.9,79.9 103.6,80.2 105,80.1 106.7,79.2 107.6,77.7 109,74.5 110.4,77.4 111,78.1 112.1,78 113.2,76.6 113.9,78 114.7,78.7 116.1,78.5 117.5,77.3 118.7,78.4 119.9,78.9 124,78.2 125.6,77.1 128.4,76.9 132.1,77.4 146.3,75.3" class="m"/><path class="n" d="M21.7,94.2l0.3,1.1M24,93.8l0.3,1M26.4,93.5l0.3,0.9M28.7,93.1l0.3,1.2M31.1,92.6l0.4,1.2M33.4,92.2l0.4,1.1M35.7,91.8l0.4,1.1M38,91.5l0.4,1.1M40.3,91l0.4,1M42.6,91l0.4,0.9M44.8,90.7l0.4,0.9M47.1,90.3l0.5,0.6M49.3,89.8l0.5,1M51.6,89.6l0.5,0.9M53.8,89.1l0.5,1.2M56,88.7l0.5,1.3M58.2,88.4l0.5,1.2M60.4,88.3l0.5,0.9M62.6,87.6l0.6,1.4M64.8,87.5l0.6,1.1M67,87l0.6,1.4M69.1,86.9l0.6,0.6M71.3,86.1l0.6,1.2M73.4,82.7l0.6,1.9M75.5,84.3l0.6,1.3M77.6,85.4l0.6,1M79.8,85.4l0.7,0.9M81.9,84.6l0.7,1.3M83.9,83.7l0.7,1.5M86,80.7l0.7,1.7M88.1,82.3l0.7,1.2M90.2,83.2l0.7,1.3M92.2,83.1l0.7,1.2M94.3,81.5l0.7,1.2M96.3,81.2l0.7,1.6M98.3,80.9l0.8,1.5M100.3,81.1l0.8,1.1M102.4,80.7l0.8,1.2M104.4,80.2l0.8,1.5M106.3,79.5l0.8,1.6M108.3,75.7l0.8,2.2M110.3,77.3l0.8,1.6M112.3,77.9l0.8,1.7M114.2,78.3l0.8,1.3M116.2,78.4l0.9,1.1M118.1,78.1l0.9,1.1M120.1,78.9l0.9,0.9M122,78.5l0.9,1.2M123.9,78.2l0.9,0.9M125.8,77.1l0.9,1.2M127.7,77.1l0.9,1.1M129.6,77l0.9,1.4M131.5,77.4l0.9,0.7M133.4,77.2l0.9,0.9M135.2,77l1,0.9M137.1,76.7l1,0.8M139,76.4l1,0.7M140.8,76.1l1,0.8M142.6,75.9l1,0.9M144.5,75.6l1,0.9"/><path d="M19.6,95.5 22.5,95.3 26.1,94.4 29,94.3 41.2,91.9 44.7,91.9 46.8,91.1 50.9,90.9 53,90.3 55,90.3 64.5,88.6 67.6,88.4 69.9,87.5 71.8,87.3 72.3,87 73.4,85.8 74.6,82.6 75.8,85.1 76.9,86.1 79.2,86.5 82.3,86 85,85 85.5,84.6 86.6,82.6 87.3,80.3 88.5,83.2 89.4,84 90.6,84.5 93.6,83.9 95.1,82.6 95.8,81.2 96.8,82.6 97.8,83 99,82.5 100,81.1 100.6,81.9 101.4,82.3 102.8,82.1 103.7,81.5 105.8,81.6 107.1,81.1 107.9,80.4 109.8,76.9 111.2,79 112.1,79.8 113.3,79.5 114,78.4 114.8,79.4 115.6,79.8 117,79.6 118.3,78.6 119.7,79.5 121.9,79.9 124.2,79.4 126.5,78.3 134.8,78.1 140,77.1 147.3,76.2 149.4,78.2 20.1,98.3Z" fill="url(#g19)" stroke="url(#g19)" stroke-width="0.7"/><path d="M19.6,95.5 22.5,95.3 26.1,94.4 29,94.3 41.2,91.9 44.7,91.9 46.8,91.1 50.9,90.9 53,90.3 55,90.3 64.5,88.6 67.6,88.4 69.9,87.5 71.8,87.3 72.3,87 73.4,85.8 74.6,82.6 75.8,85.1 76.9,86.1 79.2,86.5 82.3,86 85,85 85.5,84.6 86.6,82.6 87.3,80.3 88.5,83.2 89.4,84 90.6,84.5 93.6,83.9 95.1,82.6 95.8,81.2 96.8,82.6 97.8,83 99,82.5 100,81.1 100.6,81.9 101.4,82.3 102.8,82.1 103.7,81.5 105.8,81.6 107.1,81.1 107.9,80.4 109.8,76.9 111.2,79 112.1,79.8 113.3,79.5 114,78.4 114.8,79.4 115.6,79.8 117,79.6 118.3,78.6 119.7,79.5 121.9,79.9 124.2,79.4 126.5,78.3 134.8,78.1 140,77.1 147.3,76.2" class="m"/><path class="n" d="M22,95.3l0.3,0.9M24.3,94.8l0.3,1M26.7,94.4l0.3,1.3M29.1,94.3l0.3,0.9M31.4,93.8l0.4,0.8M33.8,93.3l0.4,1.1M36.1,92.9l0.4,1.2M38.4,92.5l0.4,1M40.7,92l0.4,1.1M43,91.9l0.4,1M45.3,91.6l0.4,1.2M47.6,91l0.5,1.4M49.8,90.8l0.5,1.4M52.1,90.5l0.5,1.2M54.3,90.3l0.5,1.2M56.5,90.1l0.5,1.1M58.8,89.7l0.5,1.1M61,89.2l0.5,0.9M63.2,89l0.6,0.8M65.4,88.6l0.6,1.1M67.5,88.4l0.6,1.1M69.7,87.6l0.6,0.8M71.9,87.3l0.6,0.7M74,84.6l0.6,1.5M76.2,85.6l0.6,1.4M78.3,86.4l0.6,0.7M80.4,86.2l0.7,1.1M82.5,85.9l0.7,1M84.6,85.2l0.7,1M86.7,82.4l0.7,1.7M88.8,83.5l0.7,1.4M90.9,84.5l0.7,1.1M92.9,84.2l0.7,1M95,82.7l0.7,1.3M97,82.8l0.8,1.3M99.1,82.4l0.8,1.1M101.1,82.2l0.8,1.3M103.1,81.9l0.8,1M105.2,81.7l0.8,0.9M107.2,81.1l0.8,1.2M109.1,78l0.8,1.7M111.1,78.9l0.8,1.4M113.1,79.6l0.8,1.1M115.1,79.6l0.9,1.2M117,79.5l0.9,1.4M119,79.2l0.9,1.2M120.9,79.8l0.9,1M122.9,79.7l0.9,0.9M124.8,79.1l0.9,1.1M126.7,78.3l0.9,1M128.6,78.2l0.9,0.9M130.5,78.4l0.9,0.8M132.4,78.1l1,1.2M134.3,78.1l1,1M136.2,77.8l1,0.9M138.1,77.5l1,0.8M139.9,77.1l1,1M141.8,76.9l1,1M143.6,76.7l1,0.9M145.5,76.5l1,0.9"/><path d="M19.9,96.7 23.5,96 27.9,95.6 32.3,94.5 35.2,94.3 41.6,93 45.8,92.9 47.2,92.4 50.7,92.1 59.7,90.8 62.4,89.9 68.2,89.4 70.5,88.3 72.5,88 73.5,87.5 74.4,86.4 75.2,84.6 75.9,86.2 77,87.1 81.7,87.3 84.9,86.4 86.2,85.7 87.3,84.3 88,82.4 88.8,84.1 89.8,85.2 91.4,85.6 93.3,85.4 95.4,84.2 96.5,82.8 97.1,83.7 98.3,84.2 99.7,83.7 100.7,82.2 101.4,83.1 102.2,83.5 103.5,83.2 104.5,82.4 106.4,82.6 107.9,82.3 108.9,81.6 110.7,78.8 112.6,80.8 114.1,80.6 114.9,79.9 115.6,80.7 117.4,81.1 119.2,80 120.4,80.6 122.8,80.9 128.8,79.2 130.3,79 133.1,79.3 148.3,77.1 150.4,79.1 20.4,99.5Z" fill="url(#g110)" stroke="url(#g110)" stroke-width="0.7"/><path d="M19.9,96.7 23.5,96 27.9,95.6 32.3,94.5 35.2,94.3 41.6,93 45.8,92.9 47.2,92.4 50.7,92.1 59.7,90.8 62.4,89.9 68.2,89.4 70.5,88.3 72.5,88 73.5,87.5 74.4,86.4 75.2,84.6 75.9,86.2 77,87.1 81.7,87.3 84.9,86.4 86.2,85.7 87.3,84.3 88,82.4 88.8,84.1 89.8,85.2 91.4,85.6 93.3,85.4 95.4,84.2 96.5,82.8 97.1,83.7 98.3,84.2 99.7,83.7 100.7,82.2 101.4,83.1 102.2,83.5 103.5,83.2 104.5,82.4 106.4,82.6 107.9,82.3 108.9,81.6 110.7,78.8 112.6,80.8 114.1,80.6 114.9,79.9 115.6,80.7 117.4,81.1 119.2,80 120.4,80.6 122.8,80.9 128.8,79.2 130.3,79 133.1,79.3 148.3,77.1" class="m"/><path class="n" d="M22.3,96.3l0.3,1M24.7,95.9l0.3,1M27,95.7l0.3,1M29.4,95.2l0.3,1.1M31.8,94.6l0.4,1.5M34.1,94.4l0.4,1.4M36.5,94.1l0.4,1.4M38.8,93.6l0.4,1.4M41.1,93.1l0.4,1.5M43.4,92.9l0.4,1.4M45.7,92.9l0.5,1.1M48,92.3l0.5,1.1M50.3,92.2l0.5,0.6M52.6,91.7l0.5,1.2M54.8,91.5l0.5,1.1M57.1,91.1l0.5,1M59.3,90.7l0.5,0.9M61.5,90l0.6,1M63.7,89.8l0.6,1.4M65.9,89.7l0.6,1.1M68.1,89.4l0.6,0.4M70.3,88.4l0.6,1.2M72.5,88l0.6,1.4M74.6,86.1l0.6,1.5M76.8,87l0.6,1M78.9,87.1l0.7,1.2M81.1,87.3l0.7,0.9M83.2,86.9l0.7,1M85.3,86.2l0.7,1.1M87.4,84.1l0.7,1.1M89.5,85l0.7,1.1M91.6,85.6l0.7,0.9M93.7,85.3l0.7,0.8M95.7,83.9l0.8,1.3M97.8,84.1l0.8,0.8M99.9,83.5l0.8,1.2M101.9,83.5l0.8,0.9M103.9,82.9l0.8,1.1M106,82.6l0.8,1.3M108,82.3l0.8,1.2M110,79.7l0.8,1.4M112,80.3l0.8,1.3M114,80.6l0.9,1.5M115.9,80.8l0.9,1M117.9,80.9l0.9,0.9M119.9,80.4l0.9,1.1M121.8,80.8l0.9,1M123.8,80.6l0.9,0.2M125.7,80.2l0.9,0.7M127.6,79.4l0.9,1.1M129.6,79.1l0.9,1.2M131.5,79.1l1,1M133.4,79.3l1,1M135.3,79.1l1,0.9M137.2,78.7l1,1M139,78.3l1,1M140.9,78.1l1,1M142.8,77.9l1,0.9M144.6,77.6l1,0.9M146.5,77.3l1,0.9"/><path d="M20.1,97.9 26.1,96.6 28.3,96.7 29.7,96.3 47,93.9 50.5,92.8 53.3,92.9 62.3,91 64.3,91.2 65,90.9 66.3,90.8 68.4,89.9 72.4,89.5 74.1,89 75.1,87.9 75.9,86.2 77,87.7 78.2,88.2 81,88.5 82.3,88 85,87.8 87,86.6 88.8,84 89.5,85.6 91.4,86.6 95.7,85.8 96.6,85.2 97.3,84.1 97.9,84.7 99.4,85.1 100.6,84.7 101.5,83.5 102.1,84.2 102.9,84.4 105.3,83.8 105.7,84 108,83.8 109.6,82.9 111.5,80.3 113.2,82 114,82.3 115,82 115.7,81.2 116.5,81.7 117.7,81.9 118.9,81.8 120.1,81.2 123,81.9 124.8,80.7 127.2,80.9 131.2,80.1 135,80.2 149.4,78 151.5,80 20.7,100.7Z" fill="url(#g111)" stroke="url(#g111)" stroke-width="0.7"/><path d="M20.1,97.9 26.1,96.6 28.3,96.7 29.7,96.3 47,93.9 50.5,92.8 53.3,92.9 62.3,91 64.3,91.2 65,90.9 66.3,90.8 68.4,89.9 72.4,89.5 74.1,89 75.1,87.9 75.9,86.2 77,87.7 78.2,88.2 81,88.5 82.3,88 85,87.8 87,86.6 88.8,84 89.5,85.6 91.4,86.6 95.7,85.8 96.6,85.2 97.3,84.1 97.9,84.7 99.4,85.1 100.6,84.7 101.5,83.5 102.1,84.2 102.9,84.4 105.3,83.8 105.7,84 108,83.8 109.6,82.9 111.5,80.3 113.2,82 114,82.3 115,82 115.7,81.2 116.5,81.7 117.7,81.9 118.9,81.8 120.1,81.2 123,81.9 124.8,80.7 127.2,80.9 131.2,80.1 135,80.2 149.4,78" class="m"/><path class="n" d="M22.6,97.3l0.3,1.6M25,96.8l0.3,1.6M27.4,96.7l0.3,1.4M29.8,96.3l0.4,1.1M32.1,96.1l0.4,1M34.5,95.8l0.4,1.2M36.9,95.4l0.4,0.9M39.2,95l0.4,0.9M41.5,94.6l0.4,1.2M43.9,94.3l0.4,1M46.2,94l0.5,1M48.5,93.4l0.5,1.2M50.8,92.8l0.5,1.1M53,92.9l0.5,1.1M55.3,92.6l0.5,1M57.6,92.1l0.5,1M59.8,91.6l0.5,0.6M62.1,91.1l0.6,1.3M64.3,91.2l0.6,1M66.5,90.8l0.6,1.2M68.7,89.8l0.6,1.5M70.9,89.6l0.6,1.1M73.1,89.3l0.6,1.2M75.3,87.5l0.6,1.3M77.4,88l0.7,1.2M79.6,88.3l0.7,1.2M81.7,88.2l0.7,1M83.9,87.9l0.7,1.2M86,87.3l0.7,1.2M88.1,85.2l0.7,1.4M90.2,86l0.7,1.1M92.3,86.5l0.7,1.2M94.4,86.1l0.8,1.3M96.5,85.3l0.8,0.9M98.6,84.9l0.8,1.3M100.6,84.7l0.8,0.7M102.7,84.4l0.8,0.9M104.7,84l0.8,1.3M106.8,83.9l0.8,1.2M108.8,83.5l0.8,1.2M110.8,81.1l0.8,1.4M112.8,81.7l0.9,1.3M114.8,82.1l0.9,0.8M116.8,81.7l0.9,1.3M118.8,81.8l0.9,1.1M120.8,81.5l0.9,0.9M122.7,81.8l0.9,1M124.7,80.8l0.9,1.7M126.6,80.9l0.9,1M128.6,80.5l0.9,0.8M130.5,80.3l1,1M132.4,80.1l1,1M134.3,80.2l1,0.9M136.2,80l1,1M138.1,79.7l1,0.9M140,79.4l1,0.9M141.9,79.1l1,0.9M143.8,78.7l1,0.9M145.7,78.5l1,1M147.5,78.3l1,0.9"/><path d="M20.4,99.1 27.1,98.2 30.1,97.4 34.5,97 38.8,96 42.4,95.8 45.3,95 48.1,94.9 51,93.9 53.1,94.1 54.5,93.7 57.3,93.5 60.1,92.2 62.8,92.4 66.9,92 71.7,90.6 74.4,90.3 75.7,89.1 76.5,87.6 77.2,88.5 78.3,89.2 80.4,89.5 86.3,88.7 87.7,87.8 89.5,85.6 90.2,86.9 93,87.7 95.9,87 97.3,86.1 98,85.3 99.2,86.2 100.4,86 101.3,85.5 102.3,84.2 103,85.1 104,85.5 105.1,85.4 106.2,85 108.7,85 110.3,84.3 112.4,81.7 114,83.3 115.8,82.9 116.6,82.4 117.9,83.1 118.9,83.1 121,82.1 122.2,82.6 124.6,82.8 129.3,81.3 137.1,81 150.4,78.9 152.6,81 21,101.9Z" fill="url(#g112)" stroke="url(#g112)" stroke-width="0.7"/><path d="M20.4,99.1 27.1,98.2 30.1,97.4 34.5,97 38.8,96 42.4,95.8 45.3,95 48.1,94.9 51,93.9 53.1,94.1 54.5,93.7 57.3,93.5 60.1,92.2 62.8,92.4 66.9,92 71.7,90.6 74.4,90.3 75.7,89.1 76.5,87.6 77.2,88.5 78.3,89.2 80.4,89.5 86.3,88.7 87.7,87.8 89.5,85.6 90.2,86.9 93,87.7 95.9,87 97.3,86.1 98,85.3 99.2,86.2 100.4,86 101.3,85.5 102.3,84.2 103,85.1 104,85.5 105.1,85.4 106.2,85 108.7,85 110.3,84.3 112.4,81.7 114,83.3 115.8,82.9 116.6,82.4 117.9,83.1 118.9,83.1 121,82.1 122.2,82.6 124.6,82.8 129.3,81.3 137.1,81 150.4,78.9" class="m"/><path class="n" d="M22.9,98.9l0.3,1.1M25.3,98.4l0.3,1.1M27.7,98l0.3,1.1M30.1,97.4l0.4,1.5M32.5,97.1l0.4,1.2M34.9,96.9l0.4,1M37.3,96.3l0.4,1M39.6,95.9l0.4,1.2M42,95.8l0.4,1M44.3,95.2l0.4,1.3M46.6,94.9l0.5,1.3M49,94.6l0.5,1.2M51.3,93.9l0.5,1.6M53.6,94l0.5,1.1M55.8,93.6l0.5,1.2M58.1,93.1l0.5,1.3M60.4,92.2l0.6,1.7M62.6,92.4l0.6,1.1M64.9,92.2l0.6,1M67.1,91.9l0.6,1.1M69.3,91.3l0.6,1M71.5,90.7l0.6,1.3M73.7,90.5l0.6,1.1M75.9,88.8l0.6,1.5M78.1,89.2l0.7,1.5M80.3,89.5l0.7,1M82.4,89.2l0.7,1.2M84.6,89.1l0.7,0.9M86.7,88.5l0.7,0.6M88.8,86.6l0.7,1.3M91,87.2l0.7,1.2M93.1,87.7l0.8,1M95.2,87.4l0.8,0.9M97.3,86.2l0.8,1M99.4,86.2l0.8,1M101.4,85.4l0.8,1M103.5,85.3l0.8,0.9M105.5,85.3l0.8,0.9M107.6,85.1l0.8,1.1M109.6,84.7l0.8,1M111.7,82.5l0.9,1.4M113.7,83l0.9,1.1M115.7,82.9l0.9,1.5M117.7,83.1l0.9,1.2M119.7,82.9l0.9,1M121.7,82.4l0.9,1.1M123.6,82.8l0.9,0.9M125.6,82.5l0.9,0.5M127.6,81.9l0.9,1.1M129.5,81.3l1,1.2M131.5,81.3l1,1M133.4,81.1l1,1.1M135.3,81.1l1,1M137.2,80.9l1,0.9M139.1,80.6l1,0.9M141,80.3l1,0.9M142.9,80l1,0.9M144.8,79.7l1,1M146.7,79.4l1,0.9M148.6,79.2l1.1,0.9"/><path d="M20.7,100.2 30.4,98.9 33.4,98.2 34.1,98.3 37.1,97.4 41.4,97.2 42.9,96.7 59.2,94.4 64.1,93.3 67.5,93 72.3,91.9 73.7,92 76.4,90.5 77.2,89.3 79.1,90.8 84.4,90.4 88.4,88.8 89.5,88 90.2,86.9 91.6,88.4 93.7,88.7 96.2,88.2 98.1,87.1 98.8,86.5 100,87.1 101.3,87 102.1,86.5 103.1,85.3 103.9,86.1 104.8,86.4 107,86 107.7,86.3 109.1,86.1 111.4,85.2 113.3,83.3 114.9,84.4 116.2,84.6 117.5,83.9 118.8,84.3 119.8,84.2 121.9,83.1 124,83.9 126.7,83 129.1,83 131.7,82.3 135.8,82.2 151.5,79.8 153.7,81.9 21.3,103.1Z" fill="url(#g113)" stroke="url(#g113)" stroke-width="0.7"/><path d="M20.7,100.2 30.4,98.9 33.4,98.2 34.1,98.3 37.1,97.4 41.4,97.2 42.9,96.7 59.2,94.4 64.1,93.3 67.5,93 72.3,91.9 73.7,92 76.4,90.5 77.2,89.3 79.1,90.8 84.4,90.4 88.4,88.8 89.5,88 90.2,86.9 91.6,88.4 93.7,88.7 96.2,88.2 98.1,87.1 98.8,86.5 100,87.1 101.3,87 102.1,86.5 103.1,85.3 103.9,86.1 104.8,86.4 107,86 107.7,86.3 109.1,86.1 111.4,85.2 113.3,83.3 114.9,84.4 116.2,84.6 117.5,83.9 118.8,84.3 119.8,84.2 121.9,83.1 124,83.9 126.7,83 129.1,83 131.7,82.3 135.8,82.2 151.5,79.8" class="m"/><path class="n" d="M23.2,99.9l0.3,1.1M25.6,99.5l0.3,1.3M28,99.1l0.3,1.2M30.5,98.9l0.4,1.1M32.9,98.3l0.4,1.3M35.3,97.9l0.4,1.4M37.7,97.3l0.4,1.6M40,97.1l0.4,1.4M42.4,96.9l0.4,1.2M44.8,96.6l0.5,1.1M47.1,96.2l0.5,1.1M49.4,95.8l0.5,0.9M51.8,95.5l0.5,0.9M54.1,95.1l0.5,0.7M56.4,94.8l0.5,0.5M58.6,94.4l0.5,0.9M60.9,94l0.6,0.9M63.2,93.5l0.6,1.3M65.4,93.2l0.6,1.1M67.7,93l0.6,0.9M69.9,92.3l0.6,1.2M72.1,92l0.6,1.4M74.4,91.6l0.6,1.1M76.6,90.3l0.7,1.1M78.8,90.6l0.7,1.2M80.9,90.6l0.7,1.2M83.1,90.5l0.7,1.2M85.3,90l0.7,1.3M87.4,89.2l0.7,1.5M89.6,87.9l0.7,1.6M91.7,88.4l0.8,1M93.8,88.7l0.8,0.8M95.9,88.3l0.8,1.2M98,87.2l0.8,1.2M100.1,87.2l0.8,1.2M102.2,86.4l0.8,1.3M104.3,86.3l0.8,1.4M106.4,86.2l0.8,1.1M108.4,86.2l0.8,1.1M110.5,85.7l0.9,0.8M112.5,84l0.9,1.4M114.6,84.1l0.9,1.3M116.6,84.5l0.9,1.1M118.6,84.3l0.9,0.8M120.6,83.9l0.9,1.2M122.6,83.5l0.9,1.1M124.6,83.7l0.9,1M126.5,83l0.9,1.3M128.5,83l1,1.1M130.5,82.5l1,0.9M132.4,82.3l1,0.8M134.4,82.2l1,1.1M136.3,82.1l1,1M138.2,81.8l1,1M140.2,81.6l1,0.9M142.1,81.2l1,0.9M144,80.9l1,1M145.9,80.7l1.1,0.9M147.7,80.4l1.1,0.9M149.6,80.1l1.1,1"/><path d="M21,101.5 46.9,97.5 52,96.4 53.4,96.4 55.5,95.4 58.3,95.1 59.8,95.4 61.2,94.8 63.3,94.9 69.5,93.7 73,93.3 76.3,92.1 77.8,90.6 78.5,91.4 79.7,91.8 85.1,91.4 89.2,90.3 90.2,89.5 90.9,88.4 92.4,89.4 96.9,89.5 99.6,87.8 100.8,88.4 102.1,88.2 103,87.8 103.9,86.7 104.9,87.7 107.8,87.1 109.4,87.3 112.3,86.1 114.2,84.8 115.8,85.6 116.9,85.7 118.4,84.9 121,85.3 122.8,84.2 124.7,84.8 130,84 132.7,83.1 136.8,83.2 152.6,80.7 154.8,82.9 21.6,104.4Z" fill="url(#g114)" stroke="url(#g114)" stroke-width="0.7"/><path d="M21,101.5 46.9,97.5 52,96.4 53.4,96.4 55.5,95.4 58.3,95.1 59.8,95.4 61.2,94.8 63.3,94.9 69.5,93.7 73,93.3 76.3,92.1 77.8,90.6 78.5,91.4 79.7,91.8 85.1,91.4 89.2,90.3 90.2,89.5 90.9,88.4 92.4,89.4 96.9,89.5 99.6,87.8 100.8,88.4 102.1,88.2 103,87.8 103.9,86.7 104.9,87.7 107.8,87.1 109.4,87.3 112.3,86.1 114.2,84.8 115.8,85.6 116.9,85.7 118.4,84.9 121,85.3 122.8,84.2 124.7,84.8 130,84 132.7,83.1 136.8,83.2 152.6,80.7" class="m"/><path class="n" d="M23.5,101l0.3,1.4M25.9,100.9l0.3,1.2M28.4,100.3l0.3,1.3M30.8,100l0.4,1.3M33.3,99.6l0.4,1M35.7,99.3l0.4,1.1M38.1,98.9l0.4,1.1M40.5,98.5l0.4,1.2M42.8,98.1l0.4,1.3M45.2,97.7l0.5,1.3M47.6,97.4l0.5,1.1M49.9,96.7l0.5,1.2M52.3,96.4l0.5,1.2M54.6,95.8l0.5,1.5M56.9,95.2l0.5,1.2M59.2,95.3l0.6,0.7M61.5,94.8l0.6,1.3M63.8,94.8l0.6,1.1M66,94.3l0.6,1.1M68.3,93.9l0.6,1.2M70.5,93.6l0.6,1.3M72.8,93.3l0.6,1M75,92.7l0.7,0.6M77.2,91.4l0.7,0.8M79.4,91.8l0.7,1M81.6,91.8l0.7,1.2M83.8,91.7l0.7,0.8M86,91.3l0.7,1M88.2,90.7l0.7,0.8M90.3,89.5l0.7,1M92.5,89.4l0.8,1.4M94.6,89.5l0.8,1.3M96.7,89.5l0.8,1.1M98.8,88.4l0.8,1.3M100.9,88.4l0.8,1.3M103,87.7l0.8,1.2M105.1,87.7l0.8,1.1M107.2,87.3l0.8,1.3M109.3,87.3l0.9,0.6M111.3,86.5l0.9,1.4M113.4,85.3l0.9,1.1M115.4,85.5l0.9,1.1M117.5,85.5l0.9,1.1M119.5,85.1l0.9,1.3M121.5,85.1l0.9,1.1M123.5,84.6l0.9,1M125.5,84.7l0.9,0.9M127.5,84.3l1,1.2M129.5,84.1l1,1.2M131.4,83.4l1,1.3M133.4,83.1l1,1.3M135.4,83.3l1,0.8M137.3,83.1l1,0.9M139.2,82.8l1,0.8M141.2,82.4l1,1.1M143.1,82.1l1,0.9M145,81.9l1.1,0.9M146.9,81.6l1.1,0.9M148.8,81.3l1.1,0.9M150.7,81l1.1,0.9"/><path d="M21.3,102.2 23.6,102.5 24.4,102.2 31.2,101.3 34.2,100.4 36.4,100.4 44.5,99.2 49.6,98 55.3,97.2 58.9,95.8 61,96.4 67.3,95.2 71.5,94.8 75,93.7 77.7,92.3 78.5,91.5 79.7,92.6 82.1,93.1 85.1,92.3 86.5,92.3 87.8,91.7 89.8,91.2 91,90.6 91.7,89.7 92.9,90.7 94.4,90.9 98.2,90.4 100.4,89.2 101.6,89.6 102.8,89.5 103.8,89 104.8,87.9 105.4,88.6 106.2,88.8 108.1,88.6 110,88 112.5,87.8 115.1,85.9 117.4,86.9 119.3,86.2 121.9,86.4 123.7,85.3 125.6,85.7 129.3,85.4 136.1,84 137.8,84.2 153.7,81.7 155.9,83.8 21.9,105.7Z" fill="url(#g115)" stroke="url(#g115)" stroke-width="0.7"/><path d="M21.3,102.2 23.6,102.5 24.4,102.2 31.2,101.3 34.2,100.4 36.4,100.4 44.5,99.2 49.6,98 55.3,97.2 58.9,95.8 61,96.4 67.3,95.2 71.5,94.8 75,93.7 77.7,92.3 78.5,91.5 79.7,92.6 82.1,93.1 85.1,92.3 86.5,92.3 87.8,91.7 89.8,91.2 91,90.6 91.7,89.7 92.9,90.7 94.4,90.9 98.2,90.4 100.4,89.2 101.6,89.6 102.8,89.5 103.8,89 104.8,87.9 105.4,88.6 106.2,88.8 108.1,88.6 110,88 112.5,87.8 115.1,85.9 117.4,86.9 119.3,86.2 121.9,86.4 123.7,85.3 125.6,85.7 129.3,85.4 136.1,84 137.8,84.2 153.7,81.7" class="m"/><path class="n" d="M23.8,102.4l0.3,1.1M26.3,102.1l0.3,1.2M28.7,101.6l0.4,1.3M31.2,101.3l0.4,1M33.6,100.6l0.4,1.3M36.1,100.4l0.4,1.2M38.5,100.1l0.4,1.1M40.9,99.7l0.4,1M43.3,99.4l0.5,1.2M45.7,99l0.5,1M48.1,98.5l0.5,1M50.4,97.9l0.5,1.3M52.8,97.5l0.5,1.4M55.1,97.2l0.5,1M57.4,96.4l0.5,1.7M59.7,96.1l0.6,1.8M62.1,96.2l0.6,1M64.3,95.9l0.6,1.1M66.6,95.4l0.6,1.3M68.9,95.1l0.6,1M71.2,94.8l0.6,1M73.4,94.3l0.6,0.8M75.7,93.3l0.7,1.5M77.9,92.1l0.7,1.7M80.1,92.7l0.7,1.4M82.3,93l0.7,1M84.5,92.5l0.7,1.2M86.7,92.2l0.7,1M88.9,91.5l0.7,1.1M91.1,90.5l0.8,1.3M93.2,90.8l0.8,1.1M95.4,90.8l0.8,1.2M97.5,90.5l0.8,1M99.6,89.7l0.8,1.1M101.8,89.7l0.8,0.7M103.9,88.9l0.8,1M106,88.8l0.8,1.1M108.1,88.6l0.9,1M110.1,88l0.9,1.3M112.2,87.9l0.9,1.1M114.3,86.4l0.9,1.3M116.3,86.5l0.9,1.1M118.4,86.6l0.9,1.1M120.4,86.4l0.9,0.9M122.4,86.1l0.9,1M124.4,85.6l1,1.2M126.5,85.7l1,1.2M128.5,85.5l1,1.1M130.4,85.2l1,0.9M132.4,84.7l1,0.9M134.4,84.4l1,0.8M136.4,84.1l1,1.2M138.3,84l1,0.9M140.3,83.6l1,1.1M142.2,83.5l1,0.9M144.1,83l1.1,1.1M146.1,82.8l1.1,1M148,82.5l1.1,1M149.9,82.2l1.1,1M151.8,82l1.1,0.9"/><path d="M21.6,103.4 24.7,103.5 27.7,103.2 34.5,101.8 37.5,101.5 40.5,100.8 43.5,100.6 50.1,99.2 53.7,98.9 56.6,97.9 58.7,98.1 62.3,97.2 66.5,96.9 70.8,95.9 72.1,95.9 74.2,95 77,94.7 78.4,94 79.2,93.2 79.9,93.9 81,94.2 84,94 85.9,93.5 86.5,93.6 88.6,92.6 91.2,92.3 92.5,90.9 93.9,91.8 97.2,91.9 101.2,90.5 104.1,90.4 105.6,88.8 106.4,89.6 107.3,89.9 112.8,89.1 114.4,88.4 116,87.2 118.3,87.8 119.8,87.6 120.2,87.3 123.3,87.1 124.7,86.6 126.1,86.9 128,86.8 132.8,85.9 134.6,85.2 137.1,85.3 141.4,84.8 154.8,82.6 157,84.8 22.2,107Z" fill="url(#g116)" stroke="url(#g116)" stroke-width="0.7"/><path d="M21.6,103.4 24.7,103.5 27.7,103.2 34.5,101.8 37.5,101.5 40.5,100.8 43.5,100.6 50.1,99.2 53.7,98.9 56.6,97.9 58.7,98.1 62.3,97.2 66.5,96.9 70.8,95.9 72.1,95.9 74.2,95 77,94.7 78.4,94 79.2,93.2 79.9,93.9 81,94.2 84,94 85.9,93.5 86.5,93.6 88.6,92.6 91.2,92.3 92.5,90.9 93.9,91.8 97.2,91.9 101.2,90.5 104.1,90.4 105.6,88.8 106.4,89.6 107.3,89.9 112.8,89.1 114.4,88.4 116,87.2 118.3,87.8 119.8,87.6 120.2,87.3 123.3,87.1 124.7,86.6 126.1,86.9 128,86.8 132.8,85.9 134.6,85.2 137.1,85.3 141.4,84.8 154.8,82.6" class="m"/><path class="n" d="M24.1,103.5l0.3,1.5M26.6,103.3l0.3,1.2M29.1,102.9l0.4,1.2M31.6,102.3l0.4,1.5M34,101.8l0.4,1.5M36.5,101.6l0.4,1.2M38.9,101.2l0.4,1.2M41.3,100.7l0.4,1.4M43.7,100.6l0.5,1M46.1,100l0.5,1.1M48.5,99.5l0.5,1.3M50.9,99.2l0.5,1.4M53.3,98.9l0.5,1.1M55.6,98.2l0.5,1.5M58,98.1l0.6,1.3M60.3,97.9l0.6,1.1M62.6,97.2l0.6,1.3M64.9,97l0.6,1.3M67.2,96.7l0.6,1.1M69.5,96.1l0.6,1.3M71.8,95.8l0.6,1.4M74.1,95.1l0.7,1.7M76.3,94.8l0.7,1.5M78.6,93.9l0.7,1.2M80.8,94.1l0.7,1M83,94l0.7,1.2M85.2,93.7l0.7,1.3M87.4,93.2l0.7,1.3M89.6,92.6l0.8,1.4M91.8,91.7l0.8,1M94,91.9l0.8,0.8M96.2,92l0.8,0.8M98.3,91.5l0.8,1.1M100.4,90.8l0.8,1.3M102.6,90.4l0.8,1M104.7,90l0.8,1.2M106.8,89.9l0.9,0.7M108.9,89.6l0.9,0.8M111,89.3l0.9,1M113.1,89l0.9,0.8M115.2,87.8l0.9,1.1M117.2,87.6l0.9,1.3M119.3,87.7l0.9,1M121.3,87.2l0.9,1.3M123.4,87.1l1,1.2M125.4,86.8l1,1M127.4,86.9l1,1M129.4,86.6l1,0.8M131.4,86.1l1,1M133.4,85.7l1,0.8M135.4,85.2l1,0.9M137.4,85.3l1,0.9M139.3,84.8l1,1.2M141.3,84.8l1.1,1M143.3,84.4l1.1,1.1M145.2,84.1l1.1,1M147.1,83.9l1.1,0.9M149,83.5l1.1,1M151,83.2l1.1,1M152.9,82.9l1.1,1"/><path d="M21.9,105 24.2,105 31.9,103.8 38,102.5 41,102.3 47.6,100.9 51.3,100.6 75.6,96.6 78.4,95.8 79.9,94.4 82.5,95.4 85.9,95 90.8,93.8 92,93.2 93.2,92 94.4,92.6 98,92.8 101.4,92.1 102,91.5 105.3,91.3 106.5,90.1 107.4,90.5 109.2,90.3 111,90.7 114.8,89.6 116.8,88.6 118.5,89 121.2,88.3 123.8,88.5 125.7,87.6 128.2,87.9 133,87 135.7,86.1 141,85.9 155.9,83.6 158.2,85.8 22.5,108.3Z" fill="url(#g117)" stroke="url(#g117)" stroke-width="0.7"/><path d="M21.9,105 24.2,105 31.9,103.8 38,102.5 41,102.3 47.6,100.9 51.3,100.6 75.6,96.6 78.4,95.8 79.9,94.4 82.5,95.4 85.9,95 90.8,93.8 92,93.2 93.2,92 94.4,92.6 98,92.8 101.4,92.1 102,91.5 105.3,91.3 106.5,90.1 107.4,90.5 109.2,90.3 111,90.7 114.8,89.6 116.8,88.6 118.5,89 121.2,88.3 123.8,88.5 125.7,87.6 128.2,87.9 133,87 135.7,86.1 141,85.9 155.9,83.6" class="m"/><path class="n" d="M24.4,105l0.3,1.2M26.9,104.5l0.3,1.4M29.4,104.1l0.4,1.3M31.9,103.8l0.4,1.2M34.4,103.3l0.4,1.2M36.9,102.8l0.4,1.4M39.3,102.4l0.4,1.2M41.8,102.1l0.4,1.1M44.2,101.6l0.5,1M46.6,101.1l0.5,1.3M49,100.8l0.5,0.9M51.4,100.6l0.5,0.9M53.8,100.1l0.5,1.3M56.2,99.7l0.5,1.2M58.5,99.4l0.6,1.1M60.9,99l0.6,1.2M63.2,98.5l0.6,1.2M65.5,98.3l0.6,1.2M67.9,97.8l0.6,1.1M70.2,97.5l0.6,1.1M72.4,97.2l0.7,1M74.7,96.8l0.7,0.9M77,96.3l0.7,1.1M79.3,95.1l0.7,1.3M81.5,95.2l0.7,1.3M83.7,95.2l0.7,1M86,95l0.7,1M88.2,94.5l0.8,1.1M90.4,94l0.8,1.2M92.6,92.8l0.8,0.9M94.8,92.7l0.8,1.5M96.9,92.8l0.8,1.2M99.1,92.6l0.8,1.2M101.3,92.1l0.8,1.1M103.4,91.4l0.8,1.5M105.5,91.2l0.9,0.4M107.7,90.6l0.9,1.2M109.8,90.4l0.9,1.5M111.9,90.3l0.9,0.9M114,89.9l0.9,1.3M116.1,88.9l0.9,1.2M118.1,89l0.9,0.9M120.2,88.6l0.9,1M122.3,88.5l1,1.2M124.3,88.3l1,0.9M126.4,87.8l1,0.9M128.4,87.9l1,1M130.4,87.4l1,1.2M132.4,87.1l1,1.1M134.4,86.5l1,1.3M136.4,86.1l1,1.4M138.4,86.1l1,1.2M140.4,86l1.1,1M142.4,85.7l1.1,1M144.3,85.5l1.1,0.9M146.3,85.1l1.1,1M148.2,84.8l1.1,0.9M150.1,84.5l1.1,1M152.1,84.2l1.1,1M154,83.9l1.1,0.9"/><path d="M22.2,106.6 38.4,104 41.4,103.2 42.9,103.3 45.2,102.5 46.6,102.7 48.1,101.9 54,101.4 72.7,98.3 78.4,97.2 79.7,96.6 80.6,95.8 81.8,96.5 82.5,96.5 90.7,95.4 94,93.1 95.2,94 96.5,94.3 98.8,93.8 100.7,93.7 102.9,92.8 104.6,92.8 106.1,91.9 107.3,90.5 108.3,91.6 109.5,92.1 112.6,91.2 114.6,91.3 116.3,90.7 117.9,89.6 119.5,89.9 122.1,89.5 124.2,89.7 126.6,88.4 128.1,88.8 130.4,88.9 135.2,87.8 142.7,86.9 144.5,86.3 146.3,86.3 157,84.6 159.3,86.8 22.8,109.6Z" fill="url(#g118)" stroke="url(#g118)" stroke-width="0.7"/><path d="M22.2,106.6 38.4,104 41.4,103.2 42.9,103.3 45.2,102.5 46.6,102.7 48.1,101.9 54,101.4 72.7,98.3 78.4,97.2 79.7,96.6 80.6,95.8 81.8,96.5 82.5,96.5 90.7,95.4 94,93.1 95.2,94 96.5,94.3 98.8,93.8 100.7,93.7 102.9,92.8 104.6,92.8 106.1,91.9 107.3,90.5 108.3,91.6 109.5,92.1 112.6,91.2 114.6,91.3 116.3,90.7 117.9,89.6 119.5,89.9 122.1,89.5 124.2,89.7 126.6,88.4 128.1,88.8 130.4,88.9 135.2,87.8 142.7,86.9 144.5,86.3 146.3,86.3 157,84.6" class="m"/><path class="n" d="M24.8,106.2l0.3,1.4M27.3,105.9l0.4,1.1M29.8,105.4l0.4,1.1M32.3,105l0.4,1.1M34.8,104.5l0.4,1.4M37.3,104.2l0.4,1.3M39.8,103.7l0.4,1.4M42.2,103.2l0.5,1.3M44.7,102.6l0.5,1.4M47.1,102.4l0.5,1.4M49.5,101.7l0.5,1.7M51.9,101.5l0.5,1.6M54.3,101.4l0.5,0.9M56.7,100.9l0.6,1.1M59.1,100.5l0.6,1.4M61.5,100.2l0.6,1M63.8,99.7l0.6,1.4M66.1,99.5l0.6,1.1M68.5,98.9l0.6,1.2M70.8,98.6l0.6,1.3M73.1,98.2l0.7,1.2M75.4,97.6l0.7,1.4M77.7,97.4l0.7,1M80,96.4l0.7,0.8M82.2,96.5l0.7,1.1M84.5,96.2l0.7,1.1M86.7,96l0.7,1.2M88.9,95.6l0.8,1.2M91.2,95.2l0.8,1M93.4,93.7l0.8,1.3M95.6,94.1l0.8,1.1M97.8,94.1l0.8,1M99.9,93.8l0.8,1M102.1,93.2l0.8,1M104.3,93l0.9,1.1M106.4,91.6l0.9,1.7M108.5,91.7l0.9,1.4M110.7,91.9l0.9,1.1M112.8,91.2l0.9,1.3M114.9,91.2l0.9,0.7M117,90.1l0.9,1M119.1,89.8l0.9,1.4M121.2,89.7l1,1.1M123.2,89.7l1,1.1M125.3,89.2l1,1.2M127.3,88.7l1,1.1M129.4,88.9l1,1M131.4,88.7l1,0.8M133.4,88.2l1,1.1M135.5,87.7l1,1.2M137.5,87.5l1,1.1M139.5,87.3l1.1,1M141.4,87l1.1,1M143.4,86.7l1.1,1.1M145.4,86.3l1.1,1.1M147.3,86.1l1.1,1M149.3,85.7l1.1,1.1M151.2,85.5l1.1,1M153.2,85.2l1.1,1M155.1,84.9l1.1,1"/><path d="M22.5,107.7 24.9,107.6 29.6,106.6 40.3,105.1 44.9,104 47.1,104 48.6,103.4 52.4,103.1 55.3,102.2 59,102 61.2,101.3 64.1,101.1 69.8,99.9 72,99.8 76.9,99 80.5,97.4 81.3,96.7 82.5,97.4 83.7,97.7 90.8,96.6 92.9,95.7 94.8,94.5 95.6,95.2 96,95.3 100.3,94.8 103.7,94 106,94 107.2,93.3 108.2,92.3 109.2,93 110.4,93.3 118.6,91 120.4,91.2 123.1,90.5 125.4,90.7 127.6,89.7 131.4,89.9 132.6,89.5 158.2,85.6 160.5,87.8 23.2,111Z" fill="url(#g119)" stroke="url(#g119)" stroke-width="0.7"/><path d="M22.5,107.7 24.9,107.6 29.6,106.6 40.3,105.1 44.9,104 47.1,104 48.6,103.4 52.4,103.1 55.3,102.2 59,102 61.2,101.3 64.1,101.1 69.8,99.9 72,99.8 76.9,99 80.5,97.4 81.3,96.7 82.5,97.4 83.7,97.7 90.8,96.6 92.9,95.7 94.8,94.5 95.6,95.2 96,95.3 100.3,94.8 103.7,94 106,94 107.2,93.3 108.2,92.3 109.2,93 110.4,93.3 118.6,91 120.4,91.2 123.1,90.5 125.4,90.7 127.6,89.7 131.4,89.9 132.6,89.5 158.2,85.6" class="m"/><path class="n" d="M25.1,107.6l0.3,1.2M27.6,107l0.4,1.5M30.2,106.5l0.4,1.3M32.7,106.1l0.4,1.1M35.2,105.9l0.4,0.9M37.7,105.5l0.4,1.2M40.2,105.1l0.4,1.3M42.7,104.5l0.5,1.4M45.1,103.9l0.5,1.4M47.6,103.8l0.5,1.4M50,103.4l0.5,1.3M52.5,103.1l0.5,1.1M54.9,102.3l0.5,1.7M57.3,102l0.6,1.5M59.7,101.8l0.6,1.2M62,101.3l0.6,1M64.4,101l0.6,0.6M66.8,100.6l0.6,1M69.1,100.1l0.6,1.2M71.4,99.8l0.7,1M73.8,99.4l0.7,0.5M76.1,99l0.7,1.2M78.4,98.3l0.7,1.5M80.7,97.2l0.7,1.6M82.9,97.6l0.7,1.3M85.2,97.3l0.7,1.3M87.5,97.2l0.8,1M89.7,96.8l0.8,1.1M91.9,96.2l0.8,1.4M94.2,95l0.8,1.6M96.4,95.2l0.8,1.3M98.6,95.1l0.8,1.4M100.8,94.7l0.8,1.4M102.9,94.2l0.9,1.3M105.1,94l0.9,1M107.3,93.3l0.9,1.3M109.4,93.1l0.9,1.1M111.6,93l0.9,1.1M113.7,92.5l0.9,1.4M115.8,91.9l0.9,1.6M117.9,91.2l0.9,1.4M120,91.2l1,1.1M122.1,90.8l1,1.3M124.2,90.7l1,0.9M126.3,90.4l1,1.1M128.3,89.8l1,1M130.4,89.9l1,0.8M132.4,89.5l1,1.3M134.5,89.3l1,1.1M136.5,88.9l1,1.1M138.5,88.6l1.1,1.1M140.5,88.3l1.1,1.1M142.5,88l1.1,0.8M144.5,87.8l1.1,1M146.5,87.4l1.1,1.1M148.4,87.2l1.1,1M150.4,86.8l1.1,1M152.4,86.5l1.1,1M154.3,86.2l1.1,1M156.2,85.9l1.2,1"/><path d="M22.8,109.3 28.4,108.4 33.1,107.2 36.2,106.7 39.2,106.6 45.4,105.4 49.9,104.9 52.1,104.2 58.1,103.5 64.7,101.6 66.1,102 68.3,101.3 71.2,101.3 74.1,100 78.3,100 80.8,99.2 82,98.3 83.9,98.9 86.9,98.6 88.8,98 90.9,97.9 93.8,97.3 95.6,96 97.5,96.6 101.8,96.1 104.6,95 107.9,94.8 109.1,93.6 110.6,94.3 113.8,94 117.6,93.2 119.7,92.2 122,92.3 124,91.6 127.2,91.5 128.6,90.8 130.8,90.6 133.7,90.8 141.3,89.5 143.6,88.8 146.1,88.8 159.3,86.6 161.7,88.9 23.5,112.3Z" fill="url(#g120)" stroke="url(#g120)" stroke-width="0.7"/><path d="M22.8,109.3 28.4,108.4 33.1,107.2 36.2,106.7 39.2,106.6 45.4,105.4 49.9,104.9 52.1,104.2 58.1,103.5 64.7,101.6 66.1,102 68.3,101.3 71.2,101.3 74.1,100 78.3,100 80.8,99.2 82,98.3 83.9,98.9 86.9,98.6 88.8,98 90.9,97.9 93.8,97.3 95.6,96 97.5,96.6 101.8,96.1 104.6,95 107.9,94.8 109.1,93.6 110.6,94.3 113.8,94 117.6,93.2 119.7,92.2 122,92.3 124,91.6 127.2,91.5 128.6,90.8 130.8,90.6 133.7,90.8 141.3,89.5 143.6,88.8 146.1,88.8 159.3,86.6" class="m"/><path class="n" d="M25.4,108.8l0.3,1M28,108.5l0.4,1M30.6,107.9l0.4,1.5M33.1,107.2l0.4,1.3M35.6,106.8l0.4,1.3M38.1,106.7l0.4,1.4M40.7,106.4l0.5,0.9M43.1,105.9l0.5,1M45.6,105.4l0.5,1.5M48.1,105.1l0.5,1.2M50.5,104.7l0.5,1.2M53,104.1l0.5,0.9M55.4,103.9l0.6,0.6M57.8,103.5l0.6,0.8M60.2,103l0.6,1.2M62.6,102.3l0.6,1.6M65,101.7l0.6,1.7M67.4,101.6l0.6,1.5M69.8,101.3l0.7,1.3M72.1,100.8l0.7,1.5M74.4,100l0.7,1.7M76.8,100.2l0.7,0.9M79.1,99.8l0.7,1.1M81.4,98.9l0.7,0.9M83.7,98.9l0.7,0.8M85.9,98.6l0.8,1.2M88.2,98.2l0.8,1.2M90.5,98l0.8,1.3M92.7,97.6l0.8,1.2M95,96.6l0.8,1.2M97.2,96.6l0.8,0.9M99.4,96.5l0.8,1.2M101.6,96.2l0.9,1.1M103.8,95.5l0.9,0.9M106,95l0.9,1.4M108.2,94.6l0.9,0.6M110.3,94.2l0.9,1M112.5,94.1l0.9,1.1M114.6,93.9l0.9,1.1M116.7,93.5l0.9,1.1M118.9,92.5l1,0.8M121,92.3l1,0.9M123.1,92l1,1.2M125.2,91.6l1,1.3M127.3,91.5l1,1.1M129.3,90.8l1,1.2M131.4,90.6l1,1.2M133.5,90.8l1,0.7M135.5,90.4l1.1,1.1M137.5,90l1.1,0.9M139.6,89.7l1.1,0.8M141.6,89.4l1.1,0.8M143.6,88.8l1.1,1.4M145.6,88.8l1.1,1M147.6,88.5l1.1,1M149.6,88.1l1.1,1M151.5,87.7l1.1,1M153.5,87.5l1.1,1M155.5,87.2l1.2,1.1M157.4,86.9l1.2,1"/><path d="M23.2,110.5 26.4,109.7 31.1,109.4 33.5,108.5 35.8,108.1 38.1,108.1 42.8,106.9 45.8,106.9 50.4,106.1 52.7,105.3 55.7,104.6 62.4,104 72.6,102.4 77.6,101.1 80.5,100.9 82.7,99.1 86.1,100 93.9,98.6 96.4,97.2 100.1,97.7 102.1,97.4 105.5,96.2 107.2,96.3 108.7,95.4 110,94.2 111,95.1 112.2,95.6 118.3,94.4 120.8,92.8 123,93.6 125,92.9 127.7,92.8 129.6,92 136.5,91.6 141.4,90.3 144.1,90.3 152.7,88.7 160.5,87.6 162.9,89.9 23.8,113.7Z" fill="url(#g121)" stroke="url(#g121)" stroke-width="0.7"/><path d="M23.2,110.5 26.4,109.7 31.1,109.4 33.5,108.5 35.8,108.1 38.1,108.1 42.8,106.9 45.8,106.9 50.4,106.1 52.7,105.3 55.7,104.6 62.4,104 72.6,102.4 77.6,101.1 80.5,100.9 82.7,99.1 86.1,100 93.9,98.6 96.4,97.2 100.1,97.7 102.1,97.4 105.5,96.2 107.2,96.3 108.7,95.4 110,94.2 111,95.1 112.2,95.6 118.3,94.4 120.8,92.8 123,93.6 125,92.9 127.7,92.8 129.6,92 136.5,91.6 141.4,90.3 144.1,90.3 152.7,88.7 160.5,87.6" class="m"/><path class="n" d="M25.8,109.8l0.3,1.4M28.4,109.5l0.4,1.4M30.9,109.4l0.4,1.2M33.5,108.5l0.4,1.8M36,108.1l0.4,1.8M38.6,108.1l0.4,1.4M41.1,107.3l0.5,1.8M43.6,106.8l0.5,1.7M46.1,106.9l0.5,1.3M48.6,106.3l0.5,1.2M51.1,105.9l0.5,1.4M53.5,105.1l0.5,1.8M56,104.6l0.6,1.9M58.4,104.3l0.6,1.3M60.8,104.1l0.6,1.2M63.2,103.8l0.6,1.3M65.6,103.4l0.6,1.1M68,103.1l0.6,0.7M70.4,102.6l0.7,1.2M72.8,102.4l0.7,0.9M75.1,101.7l0.7,0.9M77.5,101.1l0.7,0.9M79.8,100.9l0.7,0.8M82.1,99.8l0.7,1.5M84.4,99.7l0.8,1.6M86.7,99.8l0.8,1M89,99.4l0.8,1M91.3,99.2l0.8,1M93.5,98.7l0.8,0.9M95.8,97.8l0.8,1M98,97.5l0.8,1.3M100.2,97.7l0.9,1.1M102.5,97.3l0.9,1.2M104.7,96.4l0.9,1.5M106.9,96.4l0.9,1.2M109,95.1l0.9,1.4M111.2,95.2l0.9,1.3M113.4,95.2l0.9,1.2M115.5,95l0.9,1.1M117.7,94.6l1,1.2M119.8,93.4l1,1.5M121.9,93.2l1,1.4M124.1,93.2l1,0.9M126.2,92.9l1,1M128.3,92.6l1,1M130.3,92.1l1,1.2M132.4,91.8l1,1.4M134.5,91.5l1.1,1.4M136.5,91.5l1.1,1.1M138.6,90.9l1.1,1.2M140.6,90.5l1.1,1.3M142.7,90.2l1.1,1.3M144.7,90.2l1.1,1.1M146.7,89.8l1.1,1.1M148.7,89.5l1.1,1M150.7,89.2l1.1,1.1M152.7,88.7l1.2,1.2M154.6,88.5l1.2,1M156.6,88.3l1.2,1M158.6,87.9l1.2,1"/><path d="M23.5,112 26.7,111 35.4,110.1 50.2,107.4 56.2,106.5 60,105.4 63,105.3 68.9,103.7 71.8,103.8 78.3,102 82.6,101.3 83.5,100.8 85.5,101.3 89.7,100.5 91.1,100.5 93.2,99.6 95.4,99.6 97.3,98.2 99.1,98.8 102.9,98.5 106.3,97.6 108.1,97.5 109.7,96.8 110.9,95.7 111.9,96.4 113,96.7 119,95.7 121.6,94.6 122.9,94.6 124.7,94.1 126.2,94.2 130.7,93.1 132.1,93.3 136.5,92.9 140.9,91.9 161.7,88.6 164.2,91 24.2,115.2Z" fill="url(#g122)" stroke="url(#g122)" stroke-width="0.7"/><path d="M23.5,112 26.7,111 35.4,110.1 50.2,107.4 56.2,106.5 60,105.4 63,105.3 68.9,103.7 71.8,103.8 78.3,102 82.6,101.3 83.5,100.8 85.5,101.3 89.7,100.5 91.1,100.5 93.2,99.6 95.4,99.6 97.3,98.2 99.1,98.8 102.9,98.5 106.3,97.6 108.1,97.5 109.7,96.8 110.9,95.7 111.9,96.4 113,96.7 119,95.7 121.6,94.6 122.9,94.6 124.7,94.1 126.2,94.2 130.7,93.1 132.1,93.3 136.5,92.9 140.9,91.9 161.7,88.6" class="m"/><path class="n" d="M26.1,111.2l0.4,1.8M28.7,110.9l0.4,1.3M31.3,110.7l0.4,1M33.9,110.3l0.4,1.3M36.5,109.9l0.4,1.2M39,109.4l0.4,1.2M41.6,109l0.5,1.2M44.1,108.5l0.5,1.3M46.6,108.1l0.5,1.1M49.1,107.6l0.5,1.3M51.6,107.3l0.5,1.3M54.1,106.8l0.6,1.3M56.5,106.5l0.6,1.3M59,105.7l0.6,1.6M61.4,105.4l0.6,1.2M63.9,105.1l0.6,0.9M66.3,104.5l0.6,1.5M68.7,103.8l0.7,1.8M71.1,103.9l0.7,1.1M73.4,103.3l0.7,1.3M75.8,102.6l0.7,1.7M78.2,102l0.7,1.7M80.5,101.7l0.7,1.3M82.8,101.3l0.7,1.1M85.2,101.2l0.8,1.1M87.5,100.8l0.8,1.5M89.8,100.5l0.8,1.6M92.1,100.2l0.8,1.4M94.3,99.6l0.8,1.5M96.6,98.8l0.8,1.5M98.8,98.8l0.8,1.3M101.1,98.8l0.9,1.3M103.3,98.4l0.9,1M105.5,97.9l0.9,0.8M107.7,97.6l0.9,1.1M109.9,96.6l0.9,1.1M112.1,96.5l0.9,1M114.3,96.4l0.9,1.2M116.5,96.1l1,1.1M118.6,95.8l1,1.1M120.8,94.9l1,1.2M122.9,94.6l1,1.3M125.1,94.1l1,1.5M127.2,93.9l1,1.4M129.3,93.6l1,1.2M131.4,93.3l1,1.2M133.5,93.2l1.1,1M135.5,93l1.1,1.1M137.6,92.6l1.1,1M139.7,92.1l1.1,1.1M141.7,91.8l1.1,1M143.8,91.6l1.1,0.9M145.8,91.3l1.1,1.1M147.8,90.9l1.1,1.1M149.8,90.5l1.1,1.1M151.8,90.3l1.2,1M153.8,90l1.2,1M155.8,89.5l1.2,1.1M157.8,89.3l1.2,1.1M159.8,88.9l1.2,1.1"/><path d="M23.8,113.4 27.1,112.9 30.3,111.8 34.3,111.6 39,110.8 40.6,110.3 42.9,110.2 47.6,109.1 53,108.5 60.6,107.2 63.6,105.9 65.8,106.2 70.3,105.5 72.5,104.6 76.9,104.4 79,103.6 79.8,103.8 81.9,102.6 84.2,102.1 86.7,102.4 89.8,102.2 95.6,101 98.1,99.7 99.4,100.1 101.9,100.1 107.2,98.5 109,98.8 110.6,97.9 111.8,96.7 112.8,97.4 114.6,97.8 118.6,97.1 122.6,95.8 124.7,95.9 127,95.3 129.1,95.2 131.7,94.2 132.6,94.5 137.2,94 144.6,92.5 146.6,92.4 162.9,89.7 165.4,92 24.5,116.6Z" fill="url(#g123)" stroke="url(#g123)" stroke-width="0.7"/><path d="M23.8,113.4 27.1,112.9 30.3,111.8 34.3,111.6 39,110.8 40.6,110.3 42.9,110.2 47.6,109.1 53,108.5 60.6,107.2 63.6,105.9 65.8,106.2 70.3,105.5 72.5,104.6 76.9,104.4 79,103.6 79.8,103.8 81.9,102.6 84.2,102.1 86.7,102.4 89.8,102.2 95.6,101 98.1,99.7 99.4,100.1 101.9,100.1 107.2,98.5 109,98.8 110.6,97.9 111.8,96.7 112.8,97.4 114.6,97.8 118.6,97.1 122.6,95.8 124.7,95.9 127,95.3 129.1,95.2 131.7,94.2 132.6,94.5 137.2,94 144.6,92.5 146.6,92.4 162.9,89.7" class="m"/><path class="n" d="M26.5,113l0.4,0.9M29.1,112.2l0.4,1.6M31.7,111.7l0.4,1.8M34.3,111.6l0.4,1.3M36.9,111l0.4,1.5M39.5,110.7l0.5,1.5M42,110.2l0.5,1.3M44.6,109.8l0.5,1.1M47.1,109.2l0.5,1.6M49.6,108.9l0.5,1.4M52.1,108.6l0.5,1.1M54.6,108.2l0.6,1.1M57.1,107.8l0.6,1.1M59.6,107.3l0.6,1.4M62,106.6l0.6,1.5M64.5,106l0.6,1.8M66.9,106l0.6,0.9M69.3,105.6l0.7,1M71.7,104.9l0.7,1.3M74.1,104.6l0.7,1.1M76.5,104.3l0.7,1M78.9,103.7l0.7,1.2M81.2,103l0.7,1.7M83.6,102.4l0.8,1.3M85.9,102.4l0.8,1.1M88.2,102.3l0.8,0.9M90.6,102l0.8,1M92.9,101.6l0.8,1.2M95.1,101.1l0.8,1.1M97.4,100.2l0.8,1.1M99.7,100.1l0.9,1M102,100l0.9,0.9M104.2,99.4l0.9,1.1M106.4,98.7l0.9,1.4M108.7,98.7l0.9,1.2M110.9,97.6l0.9,1.4M113.1,97.5l0.9,1.3M115.3,97.7l1,1.2M117.4,97.3l1,1.3M119.6,96.8l1,1.1M121.8,96.1l1,1.1M123.9,95.9l1,1.2M126.1,95.6l1,1.1M128.2,95.3l1,1.1M130.3,94.8l1,1.3M132.4,94.5l1.1,1.1M134.5,94.2l1.1,1.3M136.6,94.1l1.1,0.9M138.7,93.7l1.1,1M140.8,93.3l1.1,1M142.8,92.8l1.1,0.9M144.9,92.5l1.1,1.3M146.9,92.3l1.1,1M149,92l1.2,1.1M151,91.6l1.2,1.1M153,91.3l1.2,1.1M155,90.9l1.2,1.1M157,90.7l1.2,1M159,90.3l1.2,1.1M161,90l1.2,1.1"/><path d="M24.2,114.7 27.4,113.7 32.3,113.5 41.1,112 44.2,111.1 48.1,110.8 51.2,110 61.2,108.5 64.2,107.7 65.7,107.6 67.2,107 73.2,106.1 76.1,105.4 78.3,105.5 79.8,104.8 82.7,104.6 85,103 87.7,103.8 88.8,103.3 90.6,103.4 92,102.7 93.9,102.8 97.7,101.7 99,100.8 100.2,101.1 101.9,101.1 108.2,99.9 110.1,99.9 111.6,99.2 112.7,98.2 113.5,98.7 114.8,98.9 118.3,98.6 123.5,97 126,97 128.1,96.4 131.3,96.1 132.7,95.5 135.7,95.6 137.9,95 141.2,94.6 143.2,93.8 145.7,93.8 164.2,90.7 166.7,93.1 24.9,118.1Z" fill="url(#g124)" stroke="url(#g124)" stroke-width="0.7"/><path d="M24.2,114.7 27.4,113.7 32.3,113.5 41.1,112 44.2,111.1 48.1,110.8 51.2,110 61.2,108.5 64.2,107.7 65.7,107.6 67.2,107 73.2,106.1 76.1,105.4 78.3,105.5 79.8,104.8 82.7,104.6 85,103 87.7,103.8 88.8,103.3 90.6,103.4 92,102.7 93.9,102.8 97.7,101.7 99,100.8 100.2,101.1 101.9,101.1 108.2,99.9 110.1,99.9 111.6,99.2 112.7,98.2 113.5,98.7 114.8,98.9 118.3,98.6 123.5,97 126,97 128.1,96.4 131.3,96.1 132.7,95.5 135.7,95.6 137.9,95 141.2,94.6 143.2,93.8 145.7,93.8 164.2,90.7" class="m"/><path class="n" d="M26.8,113.9l0.4,1.8M29.5,113.8l0.4,1.5M32.1,113.5l0.4,1.4M34.7,112.9l0.4,1.5M37.3,112.6l0.4,1.4M39.9,112.2l0.5,1.2M42.5,111.6l0.5,1M45.1,111l0.5,1.1M47.6,110.8l0.5,1.3M50.2,110.2l0.5,1.5M52.7,109.7l0.6,1.2M55.2,109.3l0.6,1M57.7,108.9l0.6,1.2M60.2,108.6l0.6,1.3M62.6,108.1l0.6,1.3M65.1,107.8l0.6,1.2M67.6,107l0.7,1.6M70,106.6l0.7,1.4M72.4,106.2l0.7,1.4M74.8,105.7l0.7,1.7M77.2,105.3l0.7,1.7M79.6,104.9l0.7,1.5M82,104.7l0.8,1.2M84.3,103.6l0.8,1.4M86.7,103.5l0.8,1.6M89,103.2l0.8,1.6M91.4,103l0.8,1.3M93.7,102.8l0.8,1.1M96,102.2l0.8,1.4M98.3,101.4l0.9,1.3M100.6,101.1l0.9,1.2M102.8,100.9l0.9,1.3M105.1,100.5l0.9,1.5M107.3,100l0.9,1.5M109.6,100l0.9,1M111.8,99.1l0.9,1.4M114,98.8l1,0.9M116.2,98.8l1,0.5M118.4,98.5l1,0.8M120.6,97.9l1,1M122.8,97.2l1,0.9M124.9,97.1l1,1M127.1,96.7l1,1.2M129.2,96.4l1,1M131.4,96.1l1.1,1.1M133.5,95.6l1.1,1.1M135.6,95.5l1.1,1M137.7,95l1.1,1.2M139.8,94.7l1.1,1.3M141.9,94.3l1.1,1.1M143.9,93.8l1.1,1.2M146,93.8l1.1,1.1M148.1,93.4l1.2,1.1M150.1,93.1l1.2,1.2M152.1,92.7l1.2,1.2M154.2,92.4l1.2,1.1M156.2,92l1.2,1M158.2,91.7l1.2,1.1M160.2,91.4l1.2,1.1M162.2,91.1l1.2,1.1"/><path d="M24.5,116.2 39.1,113.8 44.7,112.1 47.9,112.2 50.2,111.9 54.9,110.4 60.3,110.1 70.9,108 78.3,107 81.9,106.3 85.8,104.7 87.7,105.1 90.7,104.8 92.8,104.1 97.8,103.3 99.8,102.1 101.3,102.4 106.9,101.9 109.1,101.2 112.4,100.5 113.7,99.7 114.7,99.8 116.5,99.3 119.2,99.4 121.9,98.8 124.6,97.9 127.7,98.1 129.1,97.5 132.6,97.1 133.8,96.7 140.2,96.1 144.3,95 147.7,94.8 165.4,91.8 167.9,94.2 25.2,119.5Z" fill="url(#g125)" stroke="url(#g125)" stroke-width="0.7"/><path d="M24.5,116.2 39.1,113.8 44.7,112.1 47.9,112.2 50.2,111.9 54.9,110.4 60.3,110.1 70.9,108 78.3,107 81.9,106.3 85.8,104.7 87.7,105.1 90.7,104.8 92.8,104.1 97.8,103.3 99.8,102.1 101.3,102.4 106.9,101.9 109.1,101.2 112.4,100.5 113.7,99.7 114.7,99.8 116.5,99.3 119.2,99.4 121.9,98.8 124.6,97.9 127.7,98.1 129.1,97.5 132.6,97.1 133.8,96.7 140.2,96.1 144.3,95 147.7,94.8 165.4,91.8" class="m"/><path class="n" d="M27.2,115.8l0.4,1.4M29.9,115.3l0.4,1.3M32.5,114.9l0.4,1.3M35.2,114.5l0.4,1.2M37.8,114l0.5,1M40.4,113.4l0.5,1.6M43,112.6l0.5,1.7M45.6,112.1l0.5,1.7M48.1,112.2l0.5,1.1M50.7,111.7l0.5,1.2M53.2,110.9l0.6,1.2M55.8,110.3l0.6,1.6M58.3,110.1l0.6,1.7M60.8,109.9l0.6,1.3M63.3,109.4l0.6,1.5M65.7,109l0.7,1.5M68.2,108.5l0.7,1.5M70.7,108l0.7,1.3M73.1,107.6l0.7,1.4M75.5,107.4l0.7,1.3M77.9,107l0.7,1.3M80.3,106.4l0.7,1.4M82.7,106l0.8,1.3M85.1,105.1l0.8,1.4M87.5,105.1l0.8,1.2M89.8,104.8l0.8,1.4M92.2,104.3l0.8,1.4M94.5,103.9l0.8,1.3M96.8,103.6l0.9,1.1M99.1,102.7l0.9,1.3M101.4,102.4l0.9,1.5M103.7,102.3l0.9,1.5M106,102l0.9,1.2M108.3,101.6l0.9,0.9M110.5,100.9l0.9,1.1M112.7,100.4l1,1.1M115,99.7l1,1.3M117.2,99.3l1,1.7M119.4,99.4l1,1.3M121.6,98.9l1,1M123.8,98.1l1,1.3M126,98l1,1.4M128.1,98l1.1,1.3M130.3,97.3l1.1,1.4M132.4,97.1l1.1,1M134.6,96.7l1.1,0.8M136.7,96.5l1.1,1.2M138.8,96.3l1.1,1.1M140.9,95.9l1.1,1.2M143,95.4l1.1,1.1M145.1,95l1.2,1.2M147.2,94.9l1.2,1M149.2,94.5l1.2,1.1M151.3,94.2l1.2,1M153.3,93.9l1.2,1.1M155.4,93.5l1.2,1.1M157.4,93l1.2,1.2M159.4,92.8l1.2,1.2M161.4,92.5l1.2,1.1M163.4,92.1l1.3,1.1"/><path d="M24.9,117.7 31.5,116.3 33.9,116.2 38.8,114.8 41.2,114.9 48.4,113.3 50,113.3 52.3,112.5 55.5,111.8 57.8,111.9 60.1,111.6 68.5,110.1 71.6,109.3 79.8,108.2 82.7,107.5 86.5,106.1 89.3,106.4 94.2,105.6 96.5,104.8 99.4,104.3 100.7,103.5 102.2,103.8 105.8,103.6 110,102.2 112.7,102.2 114.7,100.6 116.4,101.1 120.2,100.7 125.1,99.4 128.1,99.4 130.2,98.9 132.2,98.7 134.9,97.4 138.8,97.7 142.8,97 145.4,96.2 147.3,96.2 166.7,92.9 169.2,95.4 25.6,121.1Z" fill="url(#g126)" stroke="url(#g126)" stroke-width="0.7"/><path d="M24.9,117.7 31.5,116.3 33.9,116.2 38.8,114.8 41.2,114.9 48.4,113.3 50,113.3 52.3,112.5 55.5,111.8 57.8,111.9 60.1,111.6 68.5,110.1 71.6,109.3 79.8,108.2 82.7,107.5 86.5,106.1 89.3,106.4 94.2,105.6 96.5,104.8 99.4,104.3 100.7,103.5 102.2,103.8 105.8,103.6 110,102.2 112.7,102.2 114.7,100.6 116.4,101.1 120.2,100.7 125.1,99.4 128.1,99.4 130.2,98.9 132.2,98.7 134.9,97.4 138.8,97.7 142.8,97 145.4,96.2 147.3,96.2 166.7,92.9" class="m"/><path class="n" d="M27.6,117.1l0.4,1.6M30.3,116.6l0.4,1.7M32.9,116.2l0.4,1.5M35.6,115.7l0.4,1M38.2,115l0.5,1.7M40.9,114.9l0.5,1M43.5,114.3l0.5,1.4M46.1,113.7l0.5,1.6M48.7,113.3l0.5,1.3M51.2,112.9l0.6,1.7M53.8,112.2l0.6,1.9M56.3,111.9l0.6,1.6M58.9,111.8l0.6,1.2M61.4,111.3l0.6,1.2M63.9,110.9l0.6,1.4M66.4,110.5l0.7,1.1M68.9,110.1l0.7,1.2M71.3,109.4l0.7,1.3M73.8,109l0.7,1.4M76.2,108.6l0.7,1.1M78.7,108.3l0.7,1.3M81.1,107.8l0.8,1.3M83.5,107.3l0.8,1.5M85.9,106.5l0.8,1.3M88.3,106.4l0.8,1.2M90.6,106.2l0.8,1M93,105.8l0.8,1.1M95.4,105.2l0.9,1.3M97.7,104.6l0.9,1.5M100,104l0.9,1.3M102.3,103.8l0.9,1.2M104.6,103.7l0.9,1.1M106.9,103.2l0.9,1.3M109.2,102.5l0.9,1.3M111.4,102.1l1,1.4M113.7,101.5l1,1.1M115.9,101.1l1,1.6M118.2,100.9l1,1.5M120.4,100.6l1,1.5M122.6,100l1,1.5M124.8,99.4l1,1.4M127,99.4l1.1,1.3M129.2,99.2l1.1,1.1M131.3,98.7l1.1,1.3M133.5,98.1l1.1,1.5M135.6,97.6l1.1,1.5M137.8,97.7l1.1,1.2M139.9,97.4l1.1,1.2M142,97.1l1.1,1.2M144.1,96.6l1.2,1.3M146.2,96.2l1.2,1.2M148.3,95.9l1.2,1.1M150.4,95.6l1.2,1.3M152.5,95.2l1.2,1.3M154.5,95l1.2,1.2M156.6,94.7l1.2,1.1M158.6,94.2l1.2,1.2M160.6,93.9l1.2,1.1M162.7,93.6l1.3,1.1M164.7,93.2l1.3,1.1"/><path d="M25.2,119.1 32.7,118 36,116.7 37.6,117 42.5,115.6 45.7,115.6 48.9,114.6 54.5,114.1 59.2,113 60.7,113 63.1,112.3 64.6,112.2 66.1,111.6 67.7,111.7 70.7,111.2 72.3,110.6 73.8,110.6 76,109.8 81.3,109.3 85,108.5 87.3,107.3 89.9,107.5 99,106.1 101.6,104.9 104.5,105.1 106.7,104.4 108.1,104.5 111,103.5 113.7,103.1 115.6,102 117.5,102.8 120.6,102.3 126.6,100.6 128.7,100.7 134.1,99.7 136,99.1 140,98.9 148.2,97.3 152.9,96.7 167.9,94 170.6,96.5 26,122.6Z" fill="url(#g127)" stroke="url(#g127)" stroke-width="0.7"/><path d="M25.2,119.1 32.7,118 36,116.7 37.6,117 42.5,115.6 45.7,115.6 48.9,114.6 54.5,114.1 59.2,113 60.7,113 63.1,112.3 64.6,112.2 66.1,111.6 67.7,111.7 70.7,111.2 72.3,110.6 73.8,110.6 76,109.8 81.3,109.3 85,108.5 87.3,107.3 89.9,107.5 99,106.1 101.6,104.9 104.5,105.1 106.7,104.4 108.1,104.5 111,103.5 113.7,103.1 115.6,102 117.5,102.8 120.6,102.3 126.6,100.6 128.7,100.7 134.1,99.7 136,99.1 140,98.9 148.2,97.3 152.9,96.7 167.9,94" class="m"/><path class="n" d="M28,118.7l0.4,1.2M30.7,118.2l0.4,1.3M33.4,117.7l0.4,1.4M36,116.7l0.4,1.9M38.7,116.7l0.5,1.7M41.3,115.9l0.5,1.7M44,115.7l0.5,1.2M46.6,115.3l0.5,1.1M49.2,114.6l0.5,1.8M51.8,114.6l0.6,0.8M54.4,114.1l0.6,1.1M56.9,113.5l0.6,1.6M59.5,112.9l0.6,1.3M62,112.5l0.6,1.4M64.5,112.2l0.7,1.2M67.1,111.6l0.7,1.4M69.6,111.3l0.7,1.5M72,110.6l0.7,1.6M74.5,110.4l0.7,1.4M77,109.7l0.7,1.5M79.4,109.6l0.8,1.4M81.9,109.2l0.8,1.4M84.3,108.7l0.8,1.4M86.7,107.8l0.8,1.3M89.1,107.5l0.8,1.4M91.5,107.2l0.8,1.5M93.8,106.8l0.9,1.4M96.2,106.5l0.9,1.4M98.6,106.1l0.9,1.3M100.9,105.3l0.9,1.3M103.2,105l0.9,1.2M105.5,104.8l0.9,1.1M107.8,104.5l0.9,1M110.1,103.8l1,1.5M112.4,103.4l1,1.5M114.7,102.6l1,1.5M116.9,102.6l1,1.2M119.2,102.4l1,1.2M121.4,102.1l1,0.8M123.6,101.5l1,1.2M125.8,100.8l1.1,1.4M128.1,100.7l1.1,1.1M130.2,100.3l1.1,1.2M132.4,100l1.1,1.2M134.6,99.6l1.1,1.2M136.8,99.1l1.1,1.3M138.9,98.9l1.1,1.4M141,98.6l1.1,1.1M143.2,98.3l1.2,0.7M145.3,97.8l1.2,1.1M147.4,97.4l1.2,1.3M149.5,97.1l1.2,1.2M151.6,96.9l1.2,1M153.7,96.5l1.2,1M155.7,96.2l1.2,1.1M157.8,95.8l1.2,0.9M159.8,95.4l1.3,1.1M161.9,95.1l1.3,1.1M163.9,94.7l1.3,1.1M165.9,94.3l1.3,1.1"/><path d="M25.6,120.5 29,119.8 39.7,118.3 43,117.2 46.2,116.5 50.3,116.4 53.4,114.9 55.8,115.3 57.4,115.1 60.6,114.1 63.7,113.8 66.8,113 69.1,113 76.8,111.4 82.1,110.7 85.8,109.9 88.2,108.6 91,109 93.2,108.7 95.4,108 99.7,107.4 102.5,106.1 104.4,106.2 111.9,105 113.4,105 115.4,104.3 116.6,103.5 117.4,104 119.5,103.4 120.8,103.6 122.3,102.9 123.8,103.1 125,102.5 126.7,102.3 128.1,101.7 129.9,101.9 135.8,100.8 137.1,100.3 140.3,100.2 144.9,98.8 147.2,98.9 156.7,97.4 158.6,96.7 160.5,96.7 169.2,95.1 171.9,97.6 26.3,124.2Z" fill="url(#g128)" stroke="url(#g128)" stroke-width="0.7"/><path d="M25.6,120.5 29,119.8 39.7,118.3 43,117.2 46.2,116.5 50.3,116.4 53.4,114.9 55.8,115.3 57.4,115.1 60.6,114.1 63.7,113.8 66.8,113 69.1,113 76.8,111.4 82.1,110.7 85.8,109.9 88.2,108.6 91,109 93.2,108.7 95.4,108 99.7,107.4 102.5,106.1 104.4,106.2 111.9,105 113.4,105 115.4,104.3 116.6,103.5 117.4,104 119.5,103.4 120.8,103.6 122.3,102.9 123.8,103.1 125,102.5 126.7,102.3 128.1,101.7 129.9,101.9 135.8,100.8 137.1,100.3 140.3,100.2 144.9,98.8 147.2,98.9 156.7,97.4 158.6,96.7 160.5,96.7 169.2,95.1" class="m"/><path class="n" d="M28.3,119.9l0.4,1.1M31.1,119.5l0.4,1.8M33.8,119.1l0.4,1.2M36.5,118.6l0.5,1.4M39.2,118.4l0.5,1.2M41.8,117.6l0.5,1.5M44.5,116.9l0.5,1.8M47.1,116.4l0.5,1.8M49.7,116.4l0.6,1.5M52.4,115.4l0.6,2.1M54.9,115.2l0.6,1.6M57.5,115.1l0.6,1.1M60.1,114.2l0.6,1.8M62.7,113.9l0.6,1.6M65.2,113.4l0.7,1.5M67.7,113l0.7,1.4M70.2,112.7l0.7,1.5M72.7,112.2l0.7,1.4M75.2,111.8l0.7,1.2M77.7,111.3l0.8,1.3M80.2,110.9l0.8,1.4M82.6,110.5l0.8,1.4M85.1,110.1l0.8,1.2M87.5,109.1l0.8,1.2M89.9,108.9l0.8,1.4M92.3,108.7l0.8,1.1M94.7,108.2l0.9,1.2M97.1,107.9l0.9,1.2M99.4,107.5l0.9,0.8M101.8,106.6l0.9,1.3M104.1,106.3l0.9,1.3M106.5,105.9l0.9,1M108.8,105.6l1,0.8M111.1,105.2l1,0.8M113.4,105l1,1M115.7,104.2l1,1M117.9,103.9l1,1.3M120.2,103.6l1,1.4M122.4,102.9l1,1.5M124.7,102.7l1.1,1.2M126.9,102.2l1.1,1M129.1,101.9l1.1,1.3M131.3,101.5l1.1,1.2M133.5,101.2l1.1,0.7M135.7,100.9l1.1,0.9M137.9,100.4l1.1,1.1M140,100.2l1.1,1.2M142.2,99.7l1.2,1.4M144.3,99l1.2,1.4M146.5,98.9l1.2,1.3M148.6,98.7l1.2,1.1M150.7,98.3l1.2,1.3M152.8,97.9l1.2,1.3M154.9,97.6l1.2,1.2M157,97.3l1.2,1.1M159,96.7l1.3,1.4M161.1,96.5l1.3,1M163.1,96.2l1.3,1.1M165.2,95.8l1.3,1.1M167.2,95.5l1.3,1.1"/><path d="M26,122.1 29.3,120.8 31,121.3 33.5,120.2 35.2,120.5 36.9,120 38.5,120 40.2,119.3 49.2,118.1 53.2,117.4 57.2,116.3 59.6,116.2 67.5,114.5 74.4,113.6 77.5,112.6 82.8,112.1 87.3,110.8 89,109.9 91.6,110.4 95.5,109.4 97,109.5 99.5,108.3 102.1,108.1 103.4,107.6 105,107.6 108.6,106.6 112.9,105.8 114.8,105.9 116.4,105.3 117.6,104.6 119.5,105.3 121.5,105 123.3,104.4 124.7,104.4 128.7,103.1 131,103.2 134.9,101.8 138.3,101.4 142.3,101.3 146.3,100.2 153.4,99.3 170.6,96.3 173.2,98.8 26.7,125.7Z" fill="url(#g129)" stroke="url(#g129)" stroke-width="0.7"/><path d="M26,122.1 29.3,120.8 31,121.3 33.5,120.2 35.2,120.5 36.9,120 38.5,120 40.2,119.3 49.2,118.1 53.2,117.4 57.2,116.3 59.6,116.2 67.5,114.5 74.4,113.6 77.5,112.6 82.8,112.1 87.3,110.8 89,109.9 91.6,110.4 95.5,109.4 97,109.5 99.5,108.3 102.1,108.1 103.4,107.6 105,107.6 108.6,106.6 112.9,105.8 114.8,105.9 116.4,105.3 117.6,104.6 119.5,105.3 121.5,105 123.3,104.4 124.7,104.4 128.7,103.1 131,103.2 134.9,101.8 138.3,101.4 142.3,101.3 146.3,100.2 153.4,99.3 170.6,96.3" class="m"/><path class="n" d="M28.7,121.1l0.4,2.1M31.5,121.3l0.4,1.5M34.2,120.3l0.4,1.9M36.9,120l0.5,1.7M39.6,119.5l0.5,1.6M42.3,119l0.5,1.5M45,118.7l0.5,1.1M47.6,118.2l0.5,1.4M50.3,117.9l0.6,1.5M52.9,117.5l0.6,1.2M55.5,116.8l0.6,1.6M58.1,116.2l0.6,1.5M60.7,116l0.6,1.2M63.3,115.6l0.7,1.4M65.9,114.9l0.7,1.6M68.4,114.4l0.7,1.6M70.9,114.2l0.7,1.4M73.5,113.6l0.7,1.5M76,113l0.7,1.4M78.5,112.5l0.8,1.3M80.9,112.3l0.8,1.2M83.4,111.9l0.8,0.9M85.9,111.2l0.8,1.5M88.3,110.3l0.8,1.5M90.7,110.3l0.8,1.1M93.2,109.9l0.9,1.2M95.6,109.4l0.9,1.6M98,109l0.9,1.6M100.3,108.3l0.9,1.3M102.7,107.9l0.9,0.5M105.1,107.6l0.9,1.5M107.4,106.9l1,1.6M109.7,106.4l1,1.6M112.1,106l1,1.4M114.4,105.9l1,1.5M116.7,105.2l1,1.4M118.9,105.2l1,1.2M121.2,105l1,0.6M123.5,104.5l1.1,1.2M125.7,103.9l1.1,1.5M128,103.2l1.1,1.4M130.2,103.2l1.1,1.1M132.4,102.7l1.1,1M134.6,101.9l1.1,1.6M136.8,101.7l1.1,1.5M139,101.5l1.2,1.2M141.2,101.4l1.2,0.9M143.4,101.1l1.2,1.1M145.5,100.4l1.2,1.1M147.6,100.2l1.2,1.2M149.8,99.8l1.2,1.2M151.9,99.5l1.2,1.2M154,99.2l1.2,1.2M156.1,98.8l1.3,1.2M158.2,98.4l1.3,1.2M160.3,98.1l1.3,1.2M162.4,97.6l1.3,1.3M164.4,97.3l1.3,1.1M166.5,96.9l1.3,1.2M168.5,96.6l1.3,1.2"/><path d="M26.3,123.1 30.6,123 38.2,121.7 40.7,121 41.5,121.1 44,119.9 50.6,119.5 54.6,118.4 56.2,118.4 61,117.3 74.4,115.1 80.6,113.5 82.9,113.6 84.4,112.8 87.4,112.6 89.8,111.3 95.6,111.2 98.6,110.7 103.5,108.4 104.3,108.3 105.9,109.2 112.4,107.4 115.1,107.6 116.3,107.4 118.7,105.9 119.5,106.6 121.6,105.6 126.5,105.6 129.8,104.4 134.6,103.5 137.9,103.3 141.7,102.4 144.7,102.1 147.3,101.4 149.4,101.4 171.9,97.4 174.6,100 27.1,127.4Z" fill="url(#g130)" stroke="url(#g130)" stroke-width="0.7"/><path d="M26.3,123.1 30.6,123 38.2,121.7 40.7,121 41.5,121.1 44,119.9 50.6,119.5 54.6,118.4 56.2,118.4 61,117.3 74.4,115.1 80.6,113.5 82.9,113.6 84.4,112.8 87.4,112.6 89.8,111.3 95.6,111.2 98.6,110.7 103.5,108.4 104.3,108.3 105.9,109.2 112.4,107.4 115.1,107.6 116.3,107.4 118.7,105.9 119.5,106.6 121.6,105.6 126.5,105.6 129.8,104.4 134.6,103.5 137.9,103.3 141.7,102.4 144.7,102.1 147.3,101.4 149.4,101.4 171.9,97.4" class="m"/><path class="n" d="M29.1,123.1l0.4,1.1M31.9,122.7l0.4,0.9M34.6,122.2l0.4,1.6M37.4,121.7l0.5,1M40.1,121.2l0.5,1.7M42.8,120.5l0.5,1.8M45.5,119.8l0.5,2M48.2,119.6l0.5,1.4M50.9,119.4l0.6,1.5M53.5,118.7l0.6,1.6M56.1,118.4l0.6,1.4M58.8,117.8l0.6,1.6M61.4,117.2l0.6,1.2M64,116.9l0.7,1.3M66.5,116.5l0.7,1.5M69.1,116.1l0.7,1.2M71.7,115.6l0.7,1.4M74.2,115.2l0.7,1.3M76.7,114.4l0.8,1.3M79.2,113.8l0.8,1.6M81.7,113.5l0.8,1.6M84.2,112.9l0.8,1.6M86.7,112.7l0.8,1.5M89.1,111.8l0.8,1.3M91.6,111.4l0.9,1.4M94,111.1l0.9,1.8M96.4,111.1l0.9,1.1M98.9,110.6l0.9,1.3M101.2,109.6l0.9,1.9M103.6,108.4l0.9,2.2M106,109.1l1,1.3M108.4,108.5l1,1.7M110.7,107.9l1,1.9M113,107.4l1,1.8M115.4,107.5l1,1.4M117.7,106.6l1,1.1M120,106.4l1,1.1M122.3,105.6l1.1,1.8M124.5,105.6l1.1,1M126.8,105.4l1.1,1.3M129.1,104.6l1.1,1.4M131.3,104.3l1.1,1.5M133.5,103.8l1.1,1.5M135.8,103.5l1.1,1.4M138,103.3l1.2,1.2M140.2,102.7l1.2,1.3M142.4,102.3l1.2,1.6M144.5,102.1l1.2,1.4M146.7,101.6l1.2,1.6M148.9,101.4l1.2,1.1M151,101l1.2,1.2M153.1,100.7l1.2,1.1M155.3,100.4l1.3,1.1M157.4,100l1.3,1.2M159.5,99.6l1.3,1.2M161.6,99.2l1.3,0.9M163.7,98.9l1.3,0.9M165.7,98.4l1.3,1.1M167.8,98.1l1.3,1.2M169.8,97.8l1.3,1.2"/><path d="M26.7,125.1 27.6,125.3 30.2,123.8 33.6,123.6 35.3,123.8 37.8,122.8 41.2,122.8 45.3,122 47.8,121.2 51.9,120.8 59.3,119.4 61.7,118.4 64.1,118.6 65.7,117.9 67.3,118 68.9,117.3 71.2,117.3 75.9,116.4 78.3,115.4 81.4,115.4 85.2,114.4 87.5,114.3 90.7,112.6 95,112.9 98,112 101.7,111.6 105.3,110.2 107.3,110.5 110.6,110.1 114.9,109 116.7,108.9 119.7,107 120.8,107.5 122.6,107.6 125.5,106.7 127.8,106.8 130.9,105.8 132.5,105.8 140.6,104 144.2,103.9 151.4,102.2 153,102.2 160.5,100.9 163.1,100.1 173.2,98.6 176,101.2 27.5,129Z" fill="url(#g131)" stroke="url(#g131)" stroke-width="0.7"/><path d="M26.7,125.1 27.6,125.3 30.2,123.8 33.6,123.6 35.3,123.8 37.8,122.8 41.2,122.8 45.3,122 47.8,121.2 51.9,120.8 59.3,119.4 61.7,118.4 64.1,118.6 65.7,117.9 67.3,118 68.9,117.3 71.2,117.3 75.9,116.4 78.3,115.4 81.4,115.4 85.2,114.4 87.5,114.3 90.7,112.6 95,112.9 98,112 101.7,111.6 105.3,110.2 107.3,110.5 110.6,110.1 114.9,109 116.7,108.9 119.7,107 120.8,107.5 122.6,107.6 125.5,106.7 127.8,106.8 130.9,105.8 132.5,105.8 140.6,104 144.2,103.9 151.4,102.2 153,102.2 160.5,100.9 163.1,100.1 173.2,98.6" class="m"/><path class="n" d="M29.5,124.2l0.4,2.3M32.3,123.6l0.4,2.1M35.1,123.8l0.5,1.2M37.9,122.8l0.5,1.7M40.6,122.9l0.5,1.2M43.3,122.4l0.5,1.5M46,121.8l0.5,1.5M48.7,121.1l0.6,1.9M51.4,120.9l0.6,1.4M54.1,120.3l0.6,1.4M56.7,119.8l0.6,1.4M59.4,119.4l0.6,1.3M62,118.4l0.7,2.1M64.6,118.3l0.7,1.6M67.2,118l0.7,1.4M69.8,117.3l0.7,1.6M72.4,117l0.7,1.1M74.9,116.5l0.8,1M77.5,115.8l0.8,1.5M80,115.4l0.8,1.5M82.5,115.1l0.8,1.4M85,114.5l0.8,1.5M87.5,114.2l0.8,1.4M90,113.1l0.9,1.7M92.4,112.8l0.9,1.8M94.9,112.9l0.9,1.4M97.3,112.2l0.9,1.4M99.8,111.9l0.9,1M102.2,111.5l0.9,1M104.6,110.6l1,1.5M107,110.5l1,1.4M109.3,110.2l1,1.1M111.7,109.8l1,1M114,109.2l1,1.4M116.4,108.9l1,1.2M118.7,107.8l1,1.6M121,107.5l1.1,1.6M123.3,107.4l1.1,1.5M125.6,106.7l1.1,1.4M127.9,106.8l1.1,1.3M130.2,106l1.1,1.3M132.4,105.8l1.1,1.2M134.7,105.3l1.1,0.9M136.9,104.9l1.2,0.8M139.1,104.5l1.2,1.3M141.3,104l1.2,1.3M143.5,103.9l1.2,1.1M145.7,103.5l1.2,1.2M147.9,103.1l1.2,1.1M150.1,102.5l1.2,1.2M152.2,102.2l1.3,1.4M154.4,101.8l1.3,1.3M156.5,101.5l1.3,1.1M158.6,101.2l1.3,1.2M160.8,100.8l1.3,1.2M162.9,100.1l1.3,1.5M165,99.8l1.3,1.4M167,99.5l1.3,1.3M169.1,99.3l1.3,1.2M171.2,98.9l1.4,1.2"/><path d="M27.1,126.9 30.6,126.4 34,125.3 37.4,124.6 41.7,124 43.4,124.1 45,123.4 47.5,123.3 59.1,120.8 62.3,120.5 69.6,119.2 75.9,117.5 84.5,116.4 86,115.9 88.3,115.7 91.5,114.4 92.9,114.6 95.9,114.3 101.9,112.6 104.9,112.2 106.2,111.7 107.1,111.9 108.9,111.8 111.5,110.9 118.3,110.1 120.8,108.7 121.8,109 124,109.1 126.5,108.1 128.7,108.2 131.6,107.2 133,107.1 136.8,105.8 140.8,105.7 141.8,105.3 147.9,104.7 149.9,103.9 156.3,103.1 158.5,102.4 161.1,102.2 174.6,99.8 176,101.2 27.5,129Z" fill="url(#g132)" stroke="url(#g132)" stroke-width="0.7"/><path d="M27.1,126.9 30.6,126.4 34,125.3 37.4,124.6 41.7,124 43.4,124.1 45,123.4 47.5,123.3 59.1,120.8 62.3,120.5 69.6,119.2 75.9,117.5 84.5,116.4 86,115.9 88.3,115.7 91.5,114.4 92.9,114.6 95.9,114.3 101.9,112.6 104.9,112.2 106.2,111.7 107.1,111.9 108.9,111.8 111.5,110.9 118.3,110.1 120.8,108.7 121.8,109 124,109.1 126.5,108.1 128.7,108.2 131.6,107.2 133,107.1 136.8,105.8 140.8,105.7 141.8,105.3 147.9,104.7 149.9,103.9 156.3,103.1 158.5,102.4 161.1,102.2 174.6,99.8" class="m"/><path class="n" d="M29.9,126.5l0.4,1.5M32.7,125.7l0.4,1.8M35.5,125l0.5,2M38.3,124.4l0.5,2M41.1,124.1l0.5,1.7M43.8,123.9l0.5,1.4M46.6,123.3l0.5,1.7M49.3,122.9l0.6,1.1M52,122.2l0.6,1.8M54.7,121.8l0.6,1.4M57.4,121.2l0.6,1.7M60,120.7l0.6,1.7M62.7,120.5l0.7,0.9M65.3,119.9l0.7,1M67.9,119.4l0.7,1.1M70.5,118.9l0.7,1.2M73.1,118.1l0.7,1.7M75.7,117.5l0.8,1.7M78.2,117.2l0.8,1.7M80.8,116.9l0.8,1.7M83.3,116.5l0.8,1.5M85.8,115.9l0.8,1.3M88.3,115.7l0.9,1.4M90.8,114.8l0.9,1.3M93.3,114.6l0.9,1.3M95.8,114.3l0.9,1.2M98.2,113.6l0.9,1.6M100.7,112.9l0.9,1.5M103.1,112.5l1,1.4M105.5,112l1,1.5M107.9,111.9l1,1.3M110.3,111.3l1,1.5M112.7,110.8l1,1.5M115.1,110.6l1,1.2M117.4,110.1l1,1.3M119.8,109.4l1.1,1.4M122.1,109.1l1.1,1.3M124.4,108.9l1.1,1.3M126.7,108.1l1.1,1.4M129,108l1.1,0.8M131.3,107.3l1.1,0.7M133.6,107l1.2,0.8M135.8,106.1l1.2,1.7M138.1,105.7l1.2,2M140.3,105.7l1.2,1.5M142.5,105.3l1.2,1.3M144.7,105l1.2,1.4M146.9,104.7l1.2,1.1M149.1,104.2l1.2,1.2M151.3,103.8l1.3,1.2M153.5,103.6l1.3,1.1M155.6,103.1l1.3,1.3M157.8,102.6l1.3,1.1M159.9,102.4l1.3,1.2M162.1,102.1l1.3,1.2M164.2,101.6l1.3,1.1M166.3,101.2l1.3,1.2M168.4,100.8l1.4,1.3M170.5,100.4l1.4,1.3M172.5,100.1l1.4,1.2"/><path d="M27.5,128.5 31.9,127.9 34.5,127.1 37,126.9 40.5,126.2 42.2,125.6 46.4,125.2 48.9,124.2 53.1,123.9 56.4,122.8 58.1,122.9 59.7,122.4 61.4,122.3 63,121.5 66.3,120.8 75.1,119.8 77.5,119 80.6,118.8 86.9,117.2 89.2,117.1 92.4,115.7 93.7,115.9 98.3,115.5 102.9,114 105.9,113.7 107.2,113.1 111,112.9 115.4,111.8 119.8,111.3 121.8,110.1 122.9,110.4 124.8,110.3 133.4,107.7 136.1,107.9 138.9,107.7 143,106.6 145.3,106.5 153.9,104.7 156.4,104.6 159.2,103.7 161.9,103.6 165.1,102.8 176,101 176,101.2 27.5,129Z" fill="url(#g133)" stroke="url(#g133)" stroke-width="0.7"/><path d="M27.5,128.5 31.9,127.9 34.5,127.1 37,126.9 40.5,126.2 42.2,125.6 46.4,125.2 48.9,124.2 53.1,123.9 56.4,122.8 58.1,122.9 59.7,122.4 61.4,122.3 63,121.5 66.3,120.8 75.1,119.8 77.5,119 80.6,118.8 86.9,117.2 89.2,117.1 92.4,115.7 93.7,115.9 98.3,115.5 102.9,114 105.9,113.7 107.2,113.1 111,112.9 115.4,111.8 119.8,111.3 121.8,110.1 122.9,110.4 124.8,110.3 133.4,107.7 136.1,107.9 138.9,107.7 143,106.6 145.3,106.5 153.9,104.7 156.4,104.6 159.2,103.7 161.9,103.6 165.1,102.8 176,101" class="m"/><path d="M17.2,85.6 17.5,87 17.7,88 18,89 18.2,89.6 18.5,91.1 18.8,92 19,92.8 19.3,94.4 19.6,95.5 19.9,96.7 20.1,97.9 20.4,99.1 20.7,100.2 21,101.5 21.3,102.2 21.6,103.4 21.9,105 22.2,106.6 22.5,107.7 22.8,109.3 23.2,110.5 23.5,112 23.8,113.4 24.2,114.7 24.5,116.2 24.9,117.7 25.2,119.1 25.6,120.5 26,122.1 26.3,123.1 26.7,125.1 27.1,126.9 27.5,128.5" fill="none" stroke="#c41414" stroke-width="0.8" stroke-opacity="0.8"/><path d="M138.6,68.6 139.5,69.5 140.5,70.3 141.4,71.1 142.4,71.9 143.3,72.8 144.3,73.6 145.3,74.5 146.3,75.3 147.3,76.2 148.3,77.1 149.4,78 150.4,78.9 151.5,79.8 152.6,80.7 153.7,81.7 154.8,82.6 155.9,83.6 157,84.6 158.2,85.6 159.3,86.6 160.5,87.6 161.7,88.6 162.9,89.7 164.2,90.7 165.4,91.8 166.7,92.9 167.9,94 169.2,95.1 170.6,96.3 171.9,97.4 173.2,98.6 174.6,99.8 176,101" fill="none" stroke="#8a2488" stroke-width="0.9" stroke-opacity="0.85"/></svg>
<svg class="ov pl" style="left:81px;top:262px" width="194" height="139" viewBox="0 0 194 139"><path d="M30.5,131.9L185.2,102.2" stroke="#c8c8c8" stroke-width="0.7" fill="none"/><path d="M12.3,87.1L21.7,132.4" stroke="#c8c8c8" stroke-width="0.7" fill="none"/><rect x="31.1" y="134.4" width="4" height="1.8" rx="0.6" fill="#969696"/><rect x="51.3" y="130.8" width="4" height="1.8" rx="0.6" fill="#969696"/><rect x="72.2" y="126.9" width="4" height="1.8" rx="0.6" fill="#969696"/><rect x="91.3" y="123.3" width="4" height="1.8" rx="0.6" fill="#969696"/><rect x="112.1" y="119.7" width="4" height="1.8" rx="0.6" fill="#969696"/><rect x="129.6" y="116.3" width="4" height="1.8" rx="0.6" fill="#969696"/><rect x="148.7" y="112.6" width="4" height="1.8" rx="0.6" fill="#969696"/><rect x="164.8" y="109.8" width="4" height="1.8" rx="0.6" fill="#969696"/><rect x="182.5" y="106.3" width="4" height="1.8" rx="0.6" fill="#969696"/><rect x="5.8" y="88.4" width="2.4" height="1.8" rx="0.6" fill="#969696"/><rect x="8.4" y="92.5" width="4.0" height="1.8" rx="0.6" fill="#969696"/><rect x="9.1" y="97.7" width="4.0" height="1.8" rx="0.6" fill="#969696"/><rect x="10.6" y="102.3" width="4.0" height="1.8" rx="0.6" fill="#969696"/><rect x="11.3" y="107.9" width="4.0" height="1.8" rx="0.6" fill="#969696"/><rect x="12.1" y="113.3" width="4.0" height="1.8" rx="0.6" fill="#969696"/><rect x="13.2" y="119.9" width="4.0" height="1.8" rx="0.6" fill="#969696"/><rect x="14.3" y="126.0" width="4.0" height="1.8" rx="0.6" fill="#969696"/><rect x="13.2" y="133.1" width="4.0" height="1.8" rx="0.6" fill="#969696"/><defs><linearGradient id="g20" gradientUnits="userSpaceOnUse" x1="19.5" x2="139.6" y1="0" y2="0"><stop offset="-0.000" stop-color="#d61e16"/><stop offset="0.078" stop-color="#ea4e1c"/><stop offset="0.144" stop-color="#f28c22"/><stop offset="0.203" stop-color="#f2d422"/><stop offset="0.241" stop-color="#f2e224"/><stop offset="0.288" stop-color="#e2e428"/><stop offset="0.335" stop-color="#b0d030"/><stop offset="0.387" stop-color="#64b632"/><stop offset="0.428" stop-color="#28a22a"/><stop offset="0.529" stop-color="#22a064"/><stop offset="0.636" stop-color="#30b8d0"/><stop offset="0.727" stop-color="#24b4e8"/><stop offset="0.771" stop-color="#2896dc"/><stop offset="0.799" stop-color="#1c48b0"/><stop offset="0.864" stop-color="#2c30a0"/><stop offset="0.937" stop-color="#6434a2"/><stop offset="1.027" stop-color="#983a98"/></linearGradient><linearGradient id="g21" gradientUnits="userSpaceOnUse" x1="19.8" x2="140.5" y1="0" y2="0"><stop offset="-0.001" stop-color="#d61e16"/><stop offset="0.077" stop-color="#ea4e1c"/><stop offset="0.143" stop-color="#f28c22"/><stop offset="0.202" stop-color="#f2d422"/><stop offset="0.240" stop-color="#f2e224"/><stop offset="0.287" stop-color="#e2e428"/><stop offset="0.334" stop-color="#b0d030"/><stop offset="0.386" stop-color="#64b632"/><stop offset="0.427" stop-color="#28a22a"/><stop offset="0.528" stop-color="#22a064"/><stop offset="0.635" stop-color="#30b8d0"/><stop offset="0.725" stop-color="#24b4e8"/><stop offset="0.770" stop-color="#2896dc"/><stop offset="0.798" stop-color="#1c48b0"/><stop offset="0.863" stop-color="#2c30a0"/><stop offset="0.936" stop-color="#6434a2"/><stop offset="1.026" stop-color="#983a98"/></linearGradient><linearGradient id="g22" gradientUnits="userSpaceOnUse" x1="20.0" x2="141.5" y1="0" y2="0"><stop offset="-0.003" stop-color="#d61e16"/><stop offset="0.075" stop-color="#ea4e1c"/><stop offset="0.141" stop-color="#f28c22"/><stop offset="0.201" stop-color="#f2d422"/><stop offset="0.238" stop-color="#f2e224"/><stop offset="0.286" stop-color="#e2e428"/><stop offset="0.333" stop-color="#b0d030"/><stop offset="0.385" stop-color="#64b632"/><stop offset="0.426" stop-color="#28a22a"/><stop offset="0.527" stop-color="#22a064"/><stop offset="0.634" stop-color="#30b8d0"/><stop offset="0.724" stop-color="#24b4e8"/><stop offset="0.769" stop-color="#2896dc"/><stop offset="0.797" stop-color="#1c48b0"/><stop offset="0.862" stop-color="#2c30a0"/><stop offset="0.935" stop-color="#6434a2"/><stop offset="1.024" stop-color="#983a98"/></linearGradient><linearGradient id="g23" gradientUnits="userSpaceOnUse" x1="20.3" x2="142.4" y1="0" y2="0"><stop offset="-0.004" stop-color="#d61e16"/><stop offset="0.074" stop-color="#ea4e1c"/><stop offset="0.140" stop-color="#f28c22"/><stop offset="0.200" stop-color="#f2d422"/><stop offset="0.237" stop-color="#f2e224"/><stop offset="0.285" stop-color="#e2e428"/><stop offset="0.332" stop-color="#b0d030"/><stop offset="0.384" stop-color="#64b632"/><stop offset="0.425" stop-color="#28a22a"/><stop offset="0.526" stop-color="#22a064"/><stop offset="0.633" stop-color="#30b8d0"/><stop offset="0.723" stop-color="#24b4e8"/><stop offset="0.768" stop-color="#2896dc"/><stop offset="0.796" stop-color="#1c48b0"/><stop offset="0.861" stop-color="#2c30a0"/><stop offset="0.934" stop-color="#6434a2"/><stop offset="1.023" stop-color="#983a98"/></linearGradient><linearGradient id="g24" gradientUnits="userSpaceOnUse" x1="20.6" x2="143.4" y1="0" y2="0"><stop offset="-0.005" stop-color="#d61e16"/><stop offset="0.073" stop-color="#ea4e1c"/><stop offset="0.139" stop-color="#f28c22"/><stop offset="0.198" stop-color="#f2d422"/><stop offset="0.236" stop-color="#f2e224"/><stop offset="0.284" stop-color="#e2e428"/><stop offset="0.331" stop-color="#b0d030"/><stop offset="0.383" stop-color="#64b632"/><stop offset="0.424" stop-color="#28a22a"/><stop offset="0.525" stop-color="#22a064"/><stop offset="0.631" stop-color="#30b8d0"/><stop offset="0.722" stop-color="#24b4e8"/><stop offset="0.766" stop-color="#2896dc"/><stop offset="0.795" stop-color="#1c48b0"/><stop offset="0.860" stop-color="#2c30a0"/><stop offset="0.933" stop-color="#6434a2"/><stop offset="1.022" stop-color="#983a98"/></linearGradient><linearGradient id="g25" gradientUnits="userSpaceOnUse" x1="20.8" x2="144.3" y1="0" y2="0"><stop offset="-0.007" stop-color="#d61e16"/><stop offset="0.072" stop-color="#ea4e1c"/><stop offset="0.138" stop-color="#f28c22"/><stop offset="0.197" stop-color="#f2d422"/><stop offset="0.235" stop-color="#f2e224"/><stop offset="0.283" stop-color="#e2e428"/><stop offset="0.330" stop-color="#b0d030"/><stop offset="0.382" stop-color="#64b632"/><stop offset="0.423" stop-color="#28a22a"/><stop offset="0.524" stop-color="#22a064"/><stop offset="0.630" stop-color="#30b8d0"/><stop offset="0.721" stop-color="#24b4e8"/><stop offset="0.765" stop-color="#2896dc"/><stop offset="0.794" stop-color="#1c48b0"/><stop offset="0.859" stop-color="#2c30a0"/><stop offset="0.932" stop-color="#6434a2"/><stop offset="1.021" stop-color="#983a98"/></linearGradient><linearGradient id="g26" gradientUnits="userSpaceOnUse" x1="21.1" x2="145.3" y1="0" y2="0"><stop offset="-0.008" stop-color="#d61e16"/><stop offset="0.070" stop-color="#ea4e1c"/><stop offset="0.136" stop-color="#f28c22"/><stop offset="0.196" stop-color="#f2d422"/><stop offset="0.234" stop-color="#f2e224"/><stop offset="0.282" stop-color="#e2e428"/><stop offset="0.329" stop-color="#b0d030"/><stop offset="0.381" stop-color="#64b632"/><stop offset="0.422" stop-color="#28a22a"/><stop offset="0.523" stop-color="#22a064"/><stop offset="0.629" stop-color="#30b8d0"/><stop offset="0.719" stop-color="#24b4e8"/><stop offset="0.764" stop-color="#2896dc"/><stop offset="0.793" stop-color="#1c48b0"/><stop offset="0.858" stop-color="#2c30a0"/><stop offset="0.931" stop-color="#6434a2"/><stop offset="1.020" stop-color="#983a98"/></linearGradient><linearGradient id="g27" gradientUnits="userSpaceOnUse" x1="21.4" x2="146.3" y1="0" y2="0"><stop offset="-0.010" stop-color="#d61e16"/><stop offset="0.069" stop-color="#ea4e1c"/><stop offset="0.135" stop-color="#f28c22"/><stop offset="0.195" stop-color="#f2d422"/><stop offset="0.233" stop-color="#f2e224"/><stop offset="0.280" stop-color="#e2e428"/><stop offset="0.328" stop-color="#b0d030"/><stop offset="0.380" stop-color="#64b632"/><stop offset="0.421" stop-color="#28a22a"/><stop offset="0.522" stop-color="#22a064"/><stop offset="0.628" stop-color="#30b8d0"/><stop offset="0.718" stop-color="#24b4e8"/><stop offset="0.763" stop-color="#2896dc"/><stop offset="0.792" stop-color="#1c48b0"/><stop offset="0.857" stop-color="#2c30a0"/><stop offset="0.930" stop-color="#6434a2"/><stop offset="1.019" stop-color="#983a98"/></linearGradient><linearGradient id="g28" gradientUnits="userSpaceOnUse" x1="21.7" x2="147.3" y1="0" y2="0"><stop offset="-0.011" stop-color="#d61e16"/><stop offset="0.068" stop-color="#ea4e1c"/><stop offset="0.134" stop-color="#f28c22"/><stop offset="0.194" stop-color="#f2d422"/><stop offset="0.231" stop-color="#f2e224"/><stop offset="0.279" stop-color="#e2e428"/><stop offset="0.327" stop-color="#b0d030"/><stop offset="0.379" stop-color="#64b632"/><stop offset="0.420" stop-color="#28a22a"/><stop offset="0.521" stop-color="#22a064"/><stop offset="0.627" stop-color="#30b8d0"/><stop offset="0.717" stop-color="#24b4e8"/><stop offset="0.762" stop-color="#2896dc"/><stop offset="0.791" stop-color="#1c48b0"/><stop offset="0.856" stop-color="#2c30a0"/><stop offset="0.929" stop-color="#6434a2"/><stop offset="1.018" stop-color="#983a98"/></linearGradient><linearGradient id="g29" gradientUnits="userSpaceOnUse" x1="21.9" x2="148.3" y1="0" y2="0"><stop offset="-0.012" stop-color="#d61e16"/><stop offset="0.066" stop-color="#ea4e1c"/><stop offset="0.133" stop-color="#f28c22"/><stop offset="0.193" stop-color="#f2d422"/><stop offset="0.230" stop-color="#f2e224"/><stop offset="0.278" stop-color="#e2e428"/><stop offset="0.326" stop-color="#b0d030"/><stop offset="0.378" stop-color="#64b632"/><stop offset="0.419" stop-color="#28a22a"/><stop offset="0.520" stop-color="#22a064"/><stop offset="0.625" stop-color="#30b8d0"/><stop offset="0.716" stop-color="#24b4e8"/><stop offset="0.760" stop-color="#2896dc"/><stop offset="0.790" stop-color="#1c48b0"/><stop offset="0.855" stop-color="#2c30a0"/><stop offset="0.928" stop-color="#6434a2"/><stop offset="1.017" stop-color="#983a98"/></linearGradient><linearGradient id="g210" gradientUnits="userSpaceOnUse" x1="22.2" x2="149.4" y1="0" y2="0"><stop offset="-0.014" stop-color="#d61e16"/><stop offset="0.065" stop-color="#ea4e1c"/><stop offset="0.131" stop-color="#f28c22"/><stop offset="0.191" stop-color="#f2d422"/><stop offset="0.229" stop-color="#f2e224"/><stop offset="0.277" stop-color="#e2e428"/><stop offset="0.324" stop-color="#b0d030"/><stop offset="0.377" stop-color="#64b632"/><stop offset="0.418" stop-color="#28a22a"/><stop offset="0.519" stop-color="#22a064"/><stop offset="0.624" stop-color="#30b8d0"/><stop offset="0.715" stop-color="#24b4e8"/><stop offset="0.759" stop-color="#2896dc"/><stop offset="0.789" stop-color="#1c48b0"/><stop offset="0.854" stop-color="#2c30a0"/><stop offset="0.927" stop-color="#6434a2"/><stop offset="1.016" stop-color="#983a98"/></linearGradient><linearGradient id="g211" gradientUnits="userSpaceOnUse" x1="22.5" x2="150.4" y1="0" y2="0"><stop offset="-0.015" stop-color="#d61e16"/><stop offset="0.064" stop-color="#ea4e1c"/><stop offset="0.130" stop-color="#f28c22"/><stop offset="0.190" stop-color="#f2d422"/><stop offset="0.228" stop-color="#f2e224"/><stop offset="0.276" stop-color="#e2e428"/><stop offset="0.323" stop-color="#b0d030"/><stop offset="0.376" stop-color="#64b632"/><stop offset="0.417" stop-color="#28a22a"/><stop offset="0.518" stop-color="#22a064"/><stop offset="0.623" stop-color="#30b8d0"/><stop offset="0.713" stop-color="#24b4e8"/><stop offset="0.758" stop-color="#2896dc"/><stop offset="0.788" stop-color="#1c48b0"/><stop offset="0.853" stop-color="#2c30a0"/><stop offset="0.926" stop-color="#6434a2"/><stop offset="1.015" stop-color="#983a98"/></linearGradient><linearGradient id="g212" gradientUnits="userSpaceOnUse" x1="22.8" x2="151.5" y1="0" y2="0"><stop offset="-0.017" stop-color="#d61e16"/><stop offset="0.062" stop-color="#ea4e1c"/><stop offset="0.129" stop-color="#f28c22"/><stop offset="0.189" stop-color="#f2d422"/><stop offset="0.227" stop-color="#f2e224"/><stop offset="0.275" stop-color="#e2e428"/><stop offset="0.322" stop-color="#b0d030"/><stop offset="0.374" stop-color="#64b632"/><stop offset="0.416" stop-color="#28a22a"/><stop offset="0.517" stop-color="#22a064"/><stop offset="0.622" stop-color="#30b8d0"/><stop offset="0.712" stop-color="#24b4e8"/><stop offset="0.757" stop-color="#2896dc"/><stop offset="0.787" stop-color="#1c48b0"/><stop offset="0.852" stop-color="#2c30a0"/><stop offset="0.925" stop-color="#6434a2"/><stop offset="1.014" stop-color="#983a98"/></linearGradient><linearGradient id="g213" gradientUnits="userSpaceOnUse" x1="23.1" x2="152.5" y1="0" y2="0"><stop offset="-0.018" stop-color="#d61e16"/><stop offset="0.061" stop-color="#ea4e1c"/><stop offset="0.128" stop-color="#f28c22"/><stop offset="0.188" stop-color="#f2d422"/><stop offset="0.226" stop-color="#f2e224"/><stop offset="0.274" stop-color="#e2e428"/><stop offset="0.321" stop-color="#b0d030"/><stop offset="0.373" stop-color="#64b632"/><stop offset="0.415" stop-color="#28a22a"/><stop offset="0.516" stop-color="#22a064"/><stop offset="0.621" stop-color="#30b8d0"/><stop offset="0.711" stop-color="#24b4e8"/><stop offset="0.756" stop-color="#2896dc"/><stop offset="0.786" stop-color="#1c48b0"/><stop offset="0.851" stop-color="#2c30a0"/><stop offset="0.924" stop-color="#6434a2"/><stop offset="1.013" stop-color="#983a98"/></linearGradient><linearGradient id="g214" gradientUnits="userSpaceOnUse" x1="23.4" x2="153.6" y1="0" y2="0"><stop offset="-0.019" stop-color="#d61e16"/><stop offset="0.060" stop-color="#ea4e1c"/><stop offset="0.126" stop-color="#f28c22"/><stop offset="0.187" stop-color="#f2d422"/><stop offset="0.224" stop-color="#f2e224"/><stop offset="0.273" stop-color="#e2e428"/><stop offset="0.320" stop-color="#b0d030"/><stop offset="0.372" stop-color="#64b632"/><stop offset="0.414" stop-color="#28a22a"/><stop offset="0.515" stop-color="#22a064"/><stop offset="0.619" stop-color="#30b8d0"/><stop offset="0.710" stop-color="#24b4e8"/><stop offset="0.754" stop-color="#2896dc"/><stop offset="0.785" stop-color="#1c48b0"/><stop offset="0.850" stop-color="#2c30a0"/><stop offset="0.923" stop-color="#6434a2"/><stop offset="1.011" stop-color="#983a98"/></linearGradient><linearGradient id="g215" gradientUnits="userSpaceOnUse" x1="23.8" x2="154.7" y1="0" y2="0"><stop offset="-0.021" stop-color="#d61e16"/><stop offset="0.059" stop-color="#ea4e1c"/><stop offset="0.125" stop-color="#f28c22"/><stop offset="0.185" stop-color="#f2d422"/><stop offset="0.223" stop-color="#f2e224"/><stop offset="0.271" stop-color="#e2e428"/><stop offset="0.319" stop-color="#b0d030"/><stop offset="0.371" stop-color="#64b632"/><stop offset="0.413" stop-color="#28a22a"/><stop offset="0.514" stop-color="#22a064"/><stop offset="0.618" stop-color="#30b8d0"/><stop offset="0.709" stop-color="#24b4e8"/><stop offset="0.753" stop-color="#2896dc"/><stop offset="0.784" stop-color="#1c48b0"/><stop offset="0.849" stop-color="#2c30a0"/><stop offset="0.922" stop-color="#6434a2"/><stop offset="1.010" stop-color="#983a98"/></linearGradient><linearGradient id="g216" gradientUnits="userSpaceOnUse" x1="24.1" x2="155.8" y1="0" y2="0"><stop offset="-0.022" stop-color="#d61e16"/><stop offset="0.057" stop-color="#ea4e1c"/><stop offset="0.124" stop-color="#f28c22"/><stop offset="0.184" stop-color="#f2d422"/><stop offset="0.222" stop-color="#f2e224"/><stop offset="0.270" stop-color="#e2e428"/><stop offset="0.318" stop-color="#b0d030"/><stop offset="0.370" stop-color="#64b632"/><stop offset="0.412" stop-color="#28a22a"/><stop offset="0.513" stop-color="#22a064"/><stop offset="0.617" stop-color="#30b8d0"/><stop offset="0.708" stop-color="#24b4e8"/><stop offset="0.752" stop-color="#2896dc"/><stop offset="0.783" stop-color="#1c48b0"/><stop offset="0.848" stop-color="#2c30a0"/><stop offset="0.921" stop-color="#6434a2"/><stop offset="1.009" stop-color="#983a98"/></linearGradient><linearGradient id="g217" gradientUnits="userSpaceOnUse" x1="24.4" x2="156.9" y1="0" y2="0"><stop offset="-0.024" stop-color="#d61e16"/><stop offset="0.056" stop-color="#ea4e1c"/><stop offset="0.123" stop-color="#f28c22"/><stop offset="0.183" stop-color="#f2d422"/><stop offset="0.221" stop-color="#f2e224"/><stop offset="0.269" stop-color="#e2e428"/><stop offset="0.317" stop-color="#b0d030"/><stop offset="0.369" stop-color="#64b632"/><stop offset="0.410" stop-color="#28a22a"/><stop offset="0.512" stop-color="#22a064"/><stop offset="0.616" stop-color="#30b8d0"/><stop offset="0.706" stop-color="#24b4e8"/><stop offset="0.751" stop-color="#2896dc"/><stop offset="0.782" stop-color="#1c48b0"/><stop offset="0.847" stop-color="#2c30a0"/><stop offset="0.920" stop-color="#6434a2"/><stop offset="1.008" stop-color="#983a98"/></linearGradient><linearGradient id="g218" gradientUnits="userSpaceOnUse" x1="24.7" x2="158.1" y1="0" y2="0"><stop offset="-0.025" stop-color="#d61e16"/><stop offset="0.055" stop-color="#ea4e1c"/><stop offset="0.121" stop-color="#f28c22"/><stop offset="0.182" stop-color="#f2d422"/><stop offset="0.220" stop-color="#f2e224"/><stop offset="0.268" stop-color="#e2e428"/><stop offset="0.316" stop-color="#b0d030"/><stop offset="0.368" stop-color="#64b632"/><stop offset="0.409" stop-color="#28a22a"/><stop offset="0.511" stop-color="#22a064"/><stop offset="0.615" stop-color="#30b8d0"/><stop offset="0.705" stop-color="#24b4e8"/><stop offset="0.750" stop-color="#2896dc"/><stop offset="0.781" stop-color="#1c48b0"/><stop offset="0.846" stop-color="#2c30a0"/><stop offset="0.919" stop-color="#6434a2"/><stop offset="1.007" stop-color="#983a98"/></linearGradient><linearGradient id="g219" gradientUnits="userSpaceOnUse" x1="25.0" x2="159.2" y1="0" y2="0"><stop offset="-0.026" stop-color="#d61e16"/><stop offset="0.053" stop-color="#ea4e1c"/><stop offset="0.120" stop-color="#f28c22"/><stop offset="0.181" stop-color="#f2d422"/><stop offset="0.219" stop-color="#f2e224"/><stop offset="0.267" stop-color="#e2e428"/><stop offset="0.315" stop-color="#b0d030"/><stop offset="0.367" stop-color="#64b632"/><stop offset="0.408" stop-color="#28a22a"/><stop offset="0.510" stop-color="#22a064"/><stop offset="0.613" stop-color="#30b8d0"/><stop offset="0.704" stop-color="#24b4e8"/><stop offset="0.749" stop-color="#2896dc"/><stop offset="0.780" stop-color="#1c48b0"/><stop offset="0.845" stop-color="#2c30a0"/><stop offset="0.918" stop-color="#6434a2"/><stop offset="1.006" stop-color="#983a98"/></linearGradient><linearGradient id="g220" gradientUnits="userSpaceOnUse" x1="25.4" x2="160.4" y1="0" y2="0"><stop offset="-0.028" stop-color="#d61e16"/><stop offset="0.052" stop-color="#ea4e1c"/><stop offset="0.119" stop-color="#f28c22"/><stop offset="0.180" stop-color="#f2d422"/><stop offset="0.218" stop-color="#f2e224"/><stop offset="0.266" stop-color="#e2e428"/><stop offset="0.314" stop-color="#b0d030"/><stop offset="0.366" stop-color="#64b632"/><stop offset="0.407" stop-color="#28a22a"/><stop offset="0.509" stop-color="#22a064"/><stop offset="0.612" stop-color="#30b8d0"/><stop offset="0.703" stop-color="#24b4e8"/><stop offset="0.747" stop-color="#2896dc"/><stop offset="0.779" stop-color="#1c48b0"/><stop offset="0.844" stop-color="#2c30a0"/><stop offset="0.917" stop-color="#6434a2"/><stop offset="1.005" stop-color="#983a98"/></linearGradient><linearGradient id="g221" gradientUnits="userSpaceOnUse" x1="25.7" x2="161.6" y1="0" y2="0"><stop offset="-0.029" stop-color="#d61e16"/><stop offset="0.051" stop-color="#ea4e1c"/><stop offset="0.118" stop-color="#f28c22"/><stop offset="0.178" stop-color="#f2d422"/><stop offset="0.216" stop-color="#f2e224"/><stop offset="0.265" stop-color="#e2e428"/><stop offset="0.313" stop-color="#b0d030"/><stop offset="0.365" stop-color="#64b632"/><stop offset="0.406" stop-color="#28a22a"/><stop offset="0.508" stop-color="#22a064"/><stop offset="0.611" stop-color="#30b8d0"/><stop offset="0.702" stop-color="#24b4e8"/><stop offset="0.746" stop-color="#2896dc"/><stop offset="0.778" stop-color="#1c48b0"/><stop offset="0.843" stop-color="#2c30a0"/><stop offset="0.915" stop-color="#6434a2"/><stop offset="1.004" stop-color="#983a98"/></linearGradient><linearGradient id="g222" gradientUnits="userSpaceOnUse" x1="26.1" x2="162.8" y1="0" y2="0"><stop offset="-0.031" stop-color="#d61e16"/><stop offset="0.049" stop-color="#ea4e1c"/><stop offset="0.117" stop-color="#f28c22"/><stop offset="0.177" stop-color="#f2d422"/><stop offset="0.215" stop-color="#f2e224"/><stop offset="0.264" stop-color="#e2e428"/><stop offset="0.311" stop-color="#b0d030"/><stop offset="0.364" stop-color="#64b632"/><stop offset="0.405" stop-color="#28a22a"/><stop offset="0.507" stop-color="#22a064"/><stop offset="0.610" stop-color="#30b8d0"/><stop offset="0.701" stop-color="#24b4e8"/><stop offset="0.745" stop-color="#2896dc"/><stop offset="0.778" stop-color="#1c48b0"/><stop offset="0.842" stop-color="#2c30a0"/><stop offset="0.914" stop-color="#6434a2"/><stop offset="1.003" stop-color="#983a98"/></linearGradient><linearGradient id="g223" gradientUnits="userSpaceOnUse" x1="26.4" x2="164.0" y1="0" y2="0"><stop offset="-0.032" stop-color="#d61e16"/><stop offset="0.048" stop-color="#ea4e1c"/><stop offset="0.115" stop-color="#f28c22"/><stop offset="0.176" stop-color="#f2d422"/><stop offset="0.214" stop-color="#f2e224"/><stop offset="0.263" stop-color="#e2e428"/><stop offset="0.310" stop-color="#b0d030"/><stop offset="0.363" stop-color="#64b632"/><stop offset="0.404" stop-color="#28a22a"/><stop offset="0.506" stop-color="#22a064"/><stop offset="0.609" stop-color="#30b8d0"/><stop offset="0.699" stop-color="#24b4e8"/><stop offset="0.744" stop-color="#2896dc"/><stop offset="0.777" stop-color="#1c48b0"/><stop offset="0.841" stop-color="#2c30a0"/><stop offset="0.913" stop-color="#6434a2"/><stop offset="1.002" stop-color="#983a98"/></linearGradient><linearGradient id="g224" gradientUnits="userSpaceOnUse" x1="26.8" x2="165.2" y1="0" y2="0"><stop offset="-0.033" stop-color="#d61e16"/><stop offset="0.047" stop-color="#ea4e1c"/><stop offset="0.114" stop-color="#f28c22"/><stop offset="0.175" stop-color="#f2d422"/><stop offset="0.213" stop-color="#f2e224"/><stop offset="0.261" stop-color="#e2e428"/><stop offset="0.309" stop-color="#b0d030"/><stop offset="0.362" stop-color="#64b632"/><stop offset="0.403" stop-color="#28a22a"/><stop offset="0.505" stop-color="#22a064"/><stop offset="0.608" stop-color="#30b8d0"/><stop offset="0.698" stop-color="#24b4e8"/><stop offset="0.743" stop-color="#2896dc"/><stop offset="0.776" stop-color="#1c48b0"/><stop offset="0.840" stop-color="#2c30a0"/><stop offset="0.912" stop-color="#6434a2"/><stop offset="1.001" stop-color="#983a98"/></linearGradient><linearGradient id="g225" gradientUnits="userSpaceOnUse" x1="27.1" x2="166.5" y1="0" y2="0"><stop offset="-0.035" stop-color="#d61e16"/><stop offset="0.045" stop-color="#ea4e1c"/><stop offset="0.113" stop-color="#f28c22"/><stop offset="0.174" stop-color="#f2d422"/><stop offset="0.212" stop-color="#f2e224"/><stop offset="0.260" stop-color="#e2e428"/><stop offset="0.308" stop-color="#b0d030"/><stop offset="0.361" stop-color="#64b632"/><stop offset="0.402" stop-color="#28a22a"/><stop offset="0.504" stop-color="#22a064"/><stop offset="0.606" stop-color="#30b8d0"/><stop offset="0.697" stop-color="#24b4e8"/><stop offset="0.742" stop-color="#2896dc"/><stop offset="0.775" stop-color="#1c48b0"/><stop offset="0.839" stop-color="#2c30a0"/><stop offset="0.911" stop-color="#6434a2"/><stop offset="1.000" stop-color="#983a98"/></linearGradient><linearGradient id="g226" gradientUnits="userSpaceOnUse" x1="27.5" x2="167.7" y1="0" y2="0"><stop offset="-0.036" stop-color="#d61e16"/><stop offset="0.044" stop-color="#ea4e1c"/><stop offset="0.112" stop-color="#f28c22"/><stop offset="0.172" stop-color="#f2d422"/><stop offset="0.211" stop-color="#f2e224"/><stop offset="0.259" stop-color="#e2e428"/><stop offset="0.307" stop-color="#b0d030"/><stop offset="0.360" stop-color="#64b632"/><stop offset="0.401" stop-color="#28a22a"/><stop offset="0.503" stop-color="#22a064"/><stop offset="0.605" stop-color="#30b8d0"/><stop offset="0.696" stop-color="#24b4e8"/><stop offset="0.740" stop-color="#2896dc"/><stop offset="0.773" stop-color="#1c48b0"/><stop offset="0.838" stop-color="#2c30a0"/><stop offset="0.910" stop-color="#6434a2"/><stop offset="0.999" stop-color="#983a98"/></linearGradient><linearGradient id="g227" gradientUnits="userSpaceOnUse" x1="27.9" x2="169.0" y1="0" y2="0"><stop offset="-0.038" stop-color="#d61e16"/><stop offset="0.043" stop-color="#ea4e1c"/><stop offset="0.110" stop-color="#f28c22"/><stop offset="0.171" stop-color="#f2d422"/><stop offset="0.209" stop-color="#f2e224"/><stop offset="0.258" stop-color="#e2e428"/><stop offset="0.306" stop-color="#b0d030"/><stop offset="0.359" stop-color="#64b632"/><stop offset="0.400" stop-color="#28a22a"/><stop offset="0.502" stop-color="#22a064"/><stop offset="0.604" stop-color="#30b8d0"/><stop offset="0.695" stop-color="#24b4e8"/><stop offset="0.739" stop-color="#2896dc"/><stop offset="0.772" stop-color="#1c48b0"/><stop offset="0.837" stop-color="#2c30a0"/><stop offset="0.909" stop-color="#6434a2"/><stop offset="0.998" stop-color="#983a98"/></linearGradient><linearGradient id="g228" gradientUnits="userSpaceOnUse" x1="28.3" x2="170.3" y1="0" y2="0"><stop offset="-0.039" stop-color="#d61e16"/><stop offset="0.041" stop-color="#ea4e1c"/><stop offset="0.109" stop-color="#f28c22"/><stop offset="0.170" stop-color="#f2d422"/><stop offset="0.208" stop-color="#f2e224"/><stop offset="0.257" stop-color="#e2e428"/><stop offset="0.305" stop-color="#b0d030"/><stop offset="0.358" stop-color="#64b632"/><stop offset="0.399" stop-color="#28a22a"/><stop offset="0.501" stop-color="#22a064"/><stop offset="0.603" stop-color="#30b8d0"/><stop offset="0.694" stop-color="#24b4e8"/><stop offset="0.738" stop-color="#2896dc"/><stop offset="0.771" stop-color="#1c48b0"/><stop offset="0.836" stop-color="#2c30a0"/><stop offset="0.908" stop-color="#6434a2"/><stop offset="0.997" stop-color="#983a98"/></linearGradient><linearGradient id="g229" gradientUnits="userSpaceOnUse" x1="28.6" x2="171.6" y1="0" y2="0"><stop offset="-0.041" stop-color="#d61e16"/><stop offset="0.040" stop-color="#ea4e1c"/><stop offset="0.108" stop-color="#f28c22"/><stop offset="0.169" stop-color="#f2d422"/><stop offset="0.207" stop-color="#f2e224"/><stop offset="0.256" stop-color="#e2e428"/><stop offset="0.304" stop-color="#b0d030"/><stop offset="0.357" stop-color="#64b632"/><stop offset="0.398" stop-color="#28a22a"/><stop offset="0.500" stop-color="#22a064"/><stop offset="0.602" stop-color="#30b8d0"/><stop offset="0.693" stop-color="#24b4e8"/><stop offset="0.737" stop-color="#2896dc"/><stop offset="0.770" stop-color="#1c48b0"/><stop offset="0.835" stop-color="#2c30a0"/><stop offset="0.907" stop-color="#6434a2"/><stop offset="0.996" stop-color="#983a98"/></linearGradient><linearGradient id="g230" gradientUnits="userSpaceOnUse" x1="29.0" x2="173.0" y1="0" y2="0"><stop offset="-0.042" stop-color="#d61e16"/><stop offset="0.039" stop-color="#ea4e1c"/><stop offset="0.106" stop-color="#f28c22"/><stop offset="0.168" stop-color="#f2d422"/><stop offset="0.206" stop-color="#f2e224"/><stop offset="0.255" stop-color="#e2e428"/><stop offset="0.303" stop-color="#b0d030"/><stop offset="0.356" stop-color="#64b632"/><stop offset="0.397" stop-color="#28a22a"/><stop offset="0.499" stop-color="#22a064"/><stop offset="0.601" stop-color="#30b8d0"/><stop offset="0.691" stop-color="#24b4e8"/><stop offset="0.736" stop-color="#2896dc"/><stop offset="0.769" stop-color="#1c48b0"/><stop offset="0.834" stop-color="#2c30a0"/><stop offset="0.906" stop-color="#6434a2"/><stop offset="0.994" stop-color="#983a98"/></linearGradient><linearGradient id="g231" gradientUnits="userSpaceOnUse" x1="29.4" x2="174.3" y1="0" y2="0"><stop offset="-0.044" stop-color="#d61e16"/><stop offset="0.037" stop-color="#ea4e1c"/><stop offset="0.105" stop-color="#f28c22"/><stop offset="0.166" stop-color="#f2d422"/><stop offset="0.205" stop-color="#f2e224"/><stop offset="0.254" stop-color="#e2e428"/><stop offset="0.302" stop-color="#b0d030"/><stop offset="0.355" stop-color="#64b632"/><stop offset="0.396" stop-color="#28a22a"/><stop offset="0.498" stop-color="#22a064"/><stop offset="0.600" stop-color="#30b8d0"/><stop offset="0.690" stop-color="#24b4e8"/><stop offset="0.735" stop-color="#2896dc"/><stop offset="0.768" stop-color="#1c48b0"/><stop offset="0.833" stop-color="#2c30a0"/><stop offset="0.905" stop-color="#6434a2"/><stop offset="0.993" stop-color="#983a98"/></linearGradient><linearGradient id="g232" gradientUnits="userSpaceOnUse" x1="29.8" x2="175.7" y1="0" y2="0"><stop offset="-0.045" stop-color="#d61e16"/><stop offset="0.036" stop-color="#ea4e1c"/><stop offset="0.104" stop-color="#f28c22"/><stop offset="0.165" stop-color="#f2d422"/><stop offset="0.204" stop-color="#f2e224"/><stop offset="0.253" stop-color="#e2e428"/><stop offset="0.301" stop-color="#b0d030"/><stop offset="0.354" stop-color="#64b632"/><stop offset="0.395" stop-color="#28a22a"/><stop offset="0.497" stop-color="#22a064"/><stop offset="0.598" stop-color="#30b8d0"/><stop offset="0.689" stop-color="#24b4e8"/><stop offset="0.734" stop-color="#2896dc"/><stop offset="0.767" stop-color="#1c48b0"/><stop offset="0.832" stop-color="#2c30a0"/><stop offset="0.904" stop-color="#6434a2"/><stop offset="0.992" stop-color="#983a98"/></linearGradient><linearGradient id="g233" gradientUnits="userSpaceOnUse" x1="30.2" x2="177.1" y1="0" y2="0"><stop offset="-0.047" stop-color="#d61e16"/><stop offset="0.035" stop-color="#ea4e1c"/><stop offset="0.103" stop-color="#f28c22"/><stop offset="0.164" stop-color="#f2d422"/><stop offset="0.203" stop-color="#f2e224"/><stop offset="0.251" stop-color="#e2e428"/><stop offset="0.300" stop-color="#b0d030"/><stop offset="0.353" stop-color="#64b632"/><stop offset="0.394" stop-color="#28a22a"/><stop offset="0.496" stop-color="#22a064"/><stop offset="0.597" stop-color="#30b8d0"/><stop offset="0.688" stop-color="#24b4e8"/><stop offset="0.733" stop-color="#2896dc"/><stop offset="0.765" stop-color="#1c48b0"/><stop offset="0.831" stop-color="#2c30a0"/><stop offset="0.904" stop-color="#6434a2"/><stop offset="0.991" stop-color="#983a98"/></linearGradient></defs><path d="M19.5,78.4 22.2,78.7 24.9,77.2 25.6,77.4 26.9,78.9 27.6,78.3 28.2,78.3 29.3,80.1 30.9,80.1 32.9,81.8 35.5,83 36.4,82.6 37.2,82.8 39.4,81.6 42.7,81.2 46,80.2 46.6,79.6 47.3,78.3 48.6,73 49.8,63.4 50.6,49.5 52,67.9 53,73.2 53.7,74.3 54.5,74.9 56.8,74.6 57.5,74 57.9,73 59.4,68 61,59.8 61.7,58.1 62.2,58.5 62.5,59.3 65,70.8 66.5,74.5 67,75.2 67.6,75.4 69,74.2 71.2,77.2 71.8,77.6 79.7,76.8 81.5,76.2 86.9,75.7 94.1,74.4 97,74.4 99.9,73.9 101.7,73.2 102.8,73.5 104.5,72.8 106.8,73 111.4,72.1 114.8,71.9 124.3,70.4 126,69.5 127.1,67.9 127.9,65.3 128.6,60.3 129.6,66.1 130.1,67.3 130.9,68.2 131.6,68.5 132.4,68.3 133.9,66.6 135.8,68.4 139.6,68.3 141.5,70.4 20,88.4Z" fill="url(#g20)" stroke="url(#g20)" stroke-width="0.7"/><path d="M19.5,78.4 22.2,78.7 24.9,77.2 25.6,77.4 26.9,78.9 27.6,78.3 28.2,78.3 29.3,80.1 30.9,80.1 32.9,81.8 35.5,83 36.4,82.6 37.2,82.8 39.4,81.6 42.7,81.2 46,80.2 46.6,79.6 47.3,78.3 48.6,73 49.8,63.4 50.6,49.5 52,67.9 53,73.2 53.7,74.3 54.5,74.9 56.8,74.6 57.5,74 57.9,73 59.4,68 61,59.8 61.7,58.1 62.2,58.5 62.5,59.3 65,70.8 66.5,74.5 67,75.2 67.6,75.4 69,74.2 71.2,77.2 71.8,77.6 79.7,76.8 81.5,76.2 86.9,75.7 94.1,74.4 97,74.4 99.9,73.9 101.7,73.2 102.8,73.5 104.5,72.8 106.8,73 111.4,72.1 114.8,71.9 124.3,70.4 126,69.5 127.1,67.9 127.9,65.3 128.6,60.3 129.6,66.1 130.1,67.3 130.9,68.2 131.6,68.5 132.4,68.3 133.9,66.6 135.8,68.4 139.6,68.3" class="m"/><path class="n" d="M21.7,78.6l0.3,1.4M23.9,77.9l0.3,1.9M26.1,78l0.3,1.7M28.3,78.4l0.3,2.1M30.5,80.1l0.3,1.9M32.6,81.6l0.3,1.9M34.8,82.8l0.4,1.2M36.9,82.7l0.4,0.7M39.1,81.8l0.4,0.9M41.2,81.4l0.4,1.7M43.3,81.1l0.4,1.6M45.4,80.5l0.4,1.2M47.5,77.6l0.4,1.8M49.6,65.1l0.4,3.4M51.7,65.7l0.5,3M53.8,74.5l0.5,1.6M55.9,74.8l0.5,1.9M57.9,72.9l0.5,1.8M60,64.8l0.5,2.6M62,58.2l0.5,3.2M64.1,67l0.5,1.6M66.1,73.7l0.5,2M68.1,74.9l0.5,1.2M70.1,75.6l0.6,0.9M72.1,77.6l0.6,0.6M74.1,77.2l0.6,1.1M76.1,77.2l0.6,0.8M78.1,77l0.6,0.9M80.1,76.7l0.6,0.9M82.1,76.2l0.6,1M84,76.1l0.6,1M86,75.9l0.6,1M87.9,75.5l0.7,0.9M89.9,75.2l0.7,1M91.8,74.8l0.7,0.8M93.7,74.4l0.7,0.8M95.6,74.4l0.7,0.7M97.6,74.3l0.7,0.9M99.5,74l0.7,0.8M101.4,73.3l0.7,0.9M103.2,73.4l0.7,0.8M105.1,72.9l0.8,1.2M107,73l0.8,0.9M108.9,72.7l0.8,0.8M110.7,72.3l0.8,0.8M112.6,72l0.8,0.9M114.4,71.9l0.8,0.8M116.3,71.6l0.8,0.8M118.1,71.4l0.8,0.8M119.9,71.1l0.8,0.7M121.8,70.8l0.8,0.8M123.6,70.5l0.8,0.8M125.4,69.9l0.9,1M127.2,67.7l0.9,1.3M129,63.2l0.9,1.9M130.8,68.1l0.9,1.2M132.5,68.2l0.9,1.1M134.3,66.9l0.9,1.1M136.1,68.4l0.9,0.9M137.8,68.4l0.9,0.8"/><path d="M19.8,79.5 22.5,80.2 25.9,79.5 28.6,80.5 32.3,83.1 34.6,84 36.8,83.6 39.7,82.7 41.2,83.2 42.5,82.6 43.8,82.7 46.4,81.3 47.3,80.3 48.3,78.5 49.1,75.4 50.2,67 51,55 51.8,65.8 52.8,72.7 53.7,75.2 54.5,76.3 55.4,76.8 56.3,76.8 57.3,76.3 58.6,74.4 59.4,72.1 61.5,63.1 62.4,61.4 63,62.1 63.6,64.1 65.4,72.1 66.7,75.8 67.7,76.7 69.3,75.7 69.9,75.7 71.8,77.6 73.6,78.5 77.2,77.9 78.5,78 79.7,77.6 81,77.7 82.2,77.2 87.6,76.7 90,76 91.2,76.2 92.4,75.6 93.6,75.8 95.3,74.9 97.7,75.3 100.6,74.9 102.4,74.1 107.6,73.9 112.2,73 113.9,73 125.4,71.2 126.8,70.5 128,69.1 128.9,66.4 129.5,62.8 130.5,67.6 131,68.6 131.8,69.4 132.5,69.6 133.3,69.4 134.8,67.8 136.8,69.3 140.5,69 142.4,71.3 20.3,89.4Z" fill="url(#g21)" stroke="url(#g21)" stroke-width="0.7"/><path d="M19.8,79.5 22.5,80.2 25.9,79.5 28.6,80.5 32.3,83.1 34.6,84 36.8,83.6 39.7,82.7 41.2,83.2 42.5,82.6 43.8,82.7 46.4,81.3 47.3,80.3 48.3,78.5 49.1,75.4 50.2,67 51,55 51.8,65.8 52.8,72.7 53.7,75.2 54.5,76.3 55.4,76.8 56.3,76.8 57.3,76.3 58.6,74.4 59.4,72.1 61.5,63.1 62.4,61.4 63,62.1 63.6,64.1 65.4,72.1 66.7,75.8 67.7,76.7 69.3,75.7 69.9,75.7 71.8,77.6 73.6,78.5 77.2,77.9 78.5,78 79.7,77.6 81,77.7 82.2,77.2 87.6,76.7 90,76 91.2,76.2 92.4,75.6 93.6,75.8 95.3,74.9 97.7,75.3 100.6,74.9 102.4,74.1 107.6,73.9 112.2,73 113.9,73 125.4,71.2 126.8,70.5 128,69.1 128.9,66.4 129.5,62.8 130.5,67.6 131,68.6 131.8,69.4 132.5,69.6 133.3,69.4 134.8,67.8 136.8,69.3 140.5,69" class="m"/><path class="n" d="M22,80l0.3,1.4M24.2,79.8l0.3,1.4M26.4,79.7l0.3,1.8M28.6,80.5l0.3,-0.1M30.8,82l0.3,1M33,83.5l0.3,0.7M35.1,83.9l0.4,1M37.3,83.4l0.4,0.8M39.4,82.7l0.4,1.7M41.6,83.2l0.4,1M43.7,82.7l0.4,0.3M45.8,81.6l0.4,-0.3M48,79.4l0.4,0.3M50.1,68.5l0.4,3.2M52.2,68.6l0.5,3.2M54.3,76.1l0.5,1.3M56.3,76.8l0.5,1.1M58.4,74.8l0.5,1.4M60.5,67.4l0.5,2.3M62.5,61.4l0.5,3.1M64.6,68.5l0.5,2.6M66.6,75.7l0.5,1.1M68.7,76.2l0.6,1.4M70.7,76.5l0.6,1.5M72.7,78.2l0.6,1.1M74.7,78.3l0.6,0.8M76.7,77.9l0.6,0.9M78.7,77.9l0.6,0.5M80.7,77.6l0.6,0.5M82.7,77.2l0.6,0.6M84.7,77.1l0.6,0.6M86.6,76.8l0.7,0.9M88.6,76.4l0.7,1M90.5,76.1l0.7,1M92.5,75.6l0.7,1.2M94.4,75.3l0.7,1.2M96.3,75.1l0.7,1M98.3,75.2l0.7,0.6M100.2,74.8l0.7,0.9M102.1,74.3l0.7,1.1M104,74.2l0.8,1.1M105.9,74.1l0.8,0.9M107.8,73.9l0.8,0.5M109.6,73.4l0.8,1M111.5,73.1l0.8,1M113.4,73l0.8,0.8M115.2,72.7l0.8,0.8M117.1,72.3l0.8,1M118.9,72.2l0.8,1M120.8,71.8l0.8,1M122.6,71.6l0.8,0.9M124.4,71.4l0.9,0.7M126.2,70.9l0.9,0.9M128,69l0.9,1.1M129.8,65.1l0.9,1.8M131.6,69.3l0.9,1.1M133.4,69.3l0.9,0.9M135.2,68l0.9,1.2M137,69.3l0.9,0.8M138.8,69.2l0.9,0.8"/><path d="M20,81.3 23.4,81.6 25.5,80.7 26.2,80.9 26.7,81.5 28.2,80.3 28.9,80.3 30.2,82.5 30.9,83.1 31.6,82.9 34.9,84.9 37.2,84.1 38.9,84.6 40.1,84.2 41.6,84.3 43.5,83.6 45.5,81.6 46.8,81.1 47.8,80.4 48.8,78.9 49.4,77.2 50.7,70.5 51.5,60.5 52,67.1 52.9,73.3 54.1,76.7 54.9,77.6 55.9,78 57.8,77.5 59.1,75.8 59.9,73.8 62,65.9 62.9,64.4 63.5,65.3 66,74 67.3,77 68.3,77.8 69.8,77.2 70.5,77.3 71.9,78.8 72.9,79.3 77.8,78.7 78.5,79 80.4,77.7 82.2,78.4 83.4,77.8 87.5,77.7 98.4,75.8 102,75.7 103.1,75.3 106.6,75 108.4,74.4 110.7,74.4 126.6,72 128.3,70.9 128.8,70.2 129.7,68 130.4,64.9 131.4,68.9 131.9,69.8 132.7,70.4 134.2,70.2 135.7,69 136.7,69.8 137.7,70.1 141.5,69.8 143.4,72.1 20.6,90.5Z" fill="url(#g22)" stroke="url(#g22)" stroke-width="0.7"/><path d="M20,81.3 23.4,81.6 25.5,80.7 26.2,80.9 26.7,81.5 28.2,80.3 28.9,80.3 30.2,82.5 30.9,83.1 31.6,82.9 34.9,84.9 37.2,84.1 38.9,84.6 40.1,84.2 41.6,84.3 43.5,83.6 45.5,81.6 46.8,81.1 47.8,80.4 48.8,78.9 49.4,77.2 50.7,70.5 51.5,60.5 52,67.1 52.9,73.3 54.1,76.7 54.9,77.6 55.9,78 57.8,77.5 59.1,75.8 59.9,73.8 62,65.9 62.9,64.4 63.5,65.3 66,74 67.3,77 68.3,77.8 69.8,77.2 70.5,77.3 71.9,78.8 72.9,79.3 77.8,78.7 78.5,79 80.4,77.7 82.2,78.4 83.4,77.8 87.5,77.7 98.4,75.8 102,75.7 103.1,75.3 106.6,75 108.4,74.4 110.7,74.4 126.6,72 128.3,70.9 128.8,70.2 129.7,68 130.4,64.9 131.4,68.9 131.9,69.8 132.7,70.4 134.2,70.2 135.7,69 136.7,69.8 137.7,70.1 141.5,69.8" class="m"/><path class="n" d="M22.3,81.5l0.3,0.1M24.5,81.2l0.3,0.6M26.7,81.5l0.3,0.5M28.9,80.4l0.3,2.7M31.1,83l0.3,1.3M33.3,84.2l0.3,1.1M35.5,84.9l0.4,0.7M37.7,84.2l0.4,1.3M39.8,84.4l0.4,1.2M42,84.2l0.4,1M44.1,83.1l0.4,1M46.3,81.4l0.4,1.8M48.4,79.6l0.4,2.2M50.5,71.7l0.5,2.7M52.6,71.8l0.5,2M54.7,77.5l0.5,1.5M56.8,77.9l0.5,1.7M58.9,76.2l0.5,0.9M61,69.7l0.5,2.3M63.1,64.5l0.5,2.8M65.1,71.1l0.5,2M67.2,76.8l0.6,1.2M69.2,77.5l0.6,1.4M71.3,78l0.6,0.9M73.3,79.3l0.6,0.8M75.3,79.1l0.6,1.2M77.3,78.8l0.6,1.1M79.3,78.4l0.6,1.2M81.3,78.1l0.6,1.3M83.3,77.8l0.6,1.1M85.3,77.7l0.7,-0M87.3,77.8l0.7,0.2M89.3,77.5l0.7,0.6M91.2,77.2l0.7,0.7M93.2,76.8l0.7,0.5M95.1,76.4l0.7,1.1M97.1,76.1l0.7,1M99,75.8l0.7,1.1M100.9,75.6l0.7,1M102.8,75.4l0.7,0.9M104.7,75.2l0.8,0.9M106.6,75l0.8,0.9M108.5,74.4l0.8,1.2M110.4,74.4l0.8,0.8M112.3,74.1l0.8,0.8M114.2,73.8l0.8,0.8M116,73.5l0.8,0.8M117.9,73.3l0.8,0.9M119.8,73.1l0.8,0.8M121.6,72.8l0.8,0.9M123.4,72.5l0.9,0.8M125.3,72.1l0.9,0.9M127.1,71.7l0.9,0.9M128.9,70.1l0.9,1.1M130.7,66.9l0.9,1.5M132.5,70.4l0.9,1M134.3,70.2l0.9,1.1M136.1,69.2l0.9,1.1M137.9,70.1l0.9,0.9M139.7,70l0.9,0.9"/><path d="M20.3,80 23,82 25.8,81.5 26.5,81.6 28.4,83.1 29.2,83.1 30.3,83.9 33.9,85.3 35.3,85.5 40.5,85.5 43.3,84.9 45.9,83 48,83.1 49.3,80.9 50.5,76.8 51.2,72.8 52,64.4 52.5,69.8 53.4,75.1 54.6,78.2 55.4,79.2 56.4,79.7 57.7,79.4 58.9,77.9 60.9,73.9 62.8,68 63.4,67.2 64.1,67.9 64.7,69.5 66.7,76.6 68.2,78.7 69.3,79.2 70.4,78.4 71,78.4 72.9,79.8 75.5,80.4 78.4,79.7 83.4,79.2 86.5,77.5 88.9,78.3 91.4,77.7 92.6,78 93.8,77.3 96.2,77.5 127.2,72.8 128.6,72.4 129.7,71.3 130.5,69.7 131.2,66.7 132.3,70.1 133.6,71.4 135.1,71.3 136.6,70.1 138.6,71 142.4,70.7 144.3,73 20.8,91.6Z" fill="url(#g23)" stroke="url(#g23)" stroke-width="0.7"/><path d="M20.3,80 23,82 25.8,81.5 26.5,81.6 28.4,83.1 29.2,83.1 30.3,83.9 33.9,85.3 35.3,85.5 40.5,85.5 43.3,84.9 45.9,83 48,83.1 49.3,80.9 50.5,76.8 51.2,72.8 52,64.4 52.5,69.8 53.4,75.1 54.6,78.2 55.4,79.2 56.4,79.7 57.7,79.4 58.9,77.9 60.9,73.9 62.8,68 63.4,67.2 64.1,67.9 64.7,69.5 66.7,76.6 68.2,78.7 69.3,79.2 70.4,78.4 71,78.4 72.9,79.8 75.5,80.4 78.4,79.7 83.4,79.2 86.5,77.5 88.9,78.3 91.4,77.7 92.6,78 93.8,77.3 96.2,77.5 127.2,72.8 128.6,72.4 129.7,71.3 130.5,69.7 131.2,66.7 132.3,70.1 133.6,71.4 135.1,71.3 136.6,70.1 138.6,71 142.4,70.7" class="m"/><path class="n" d="M22.5,81.6l0.3,2M24.8,81.8l0.3,1.7M27,82l0.3,2M29.2,83.1l0.3,0.2M31.4,84.3l0.3,1.3M33.6,85.2l0.4,1.3M35.8,85.6l0.4,1M38,85.5l0.4,0.8M40.2,85.6l0.4,0.9M42.4,85.1l0.4,0.5M44.5,84l0.4,1.2M46.7,83.1l0.4,1.8M48.8,81.8l0.4,1.6M51,74.3l0.5,1.8M53.1,73.9l0.5,2M55.2,79l0.5,1.7M57.3,79.6l0.5,0.8M59.4,77.1l0.5,2.1M61.5,72l0.5,1.9M63.6,67.3l0.5,3M65.7,73.2l0.5,1.9M67.7,78l0.6,1.7M69.8,78.9l0.6,0.6M71.8,79l0.6,1.2M73.9,80.2l0.6,1.3M75.9,80.3l0.6,0.9M77.9,79.8l0.6,0.7M80,79.6l0.6,0.7M82,79.4l0.6,0.9M84,78.9l0.7,1.3M86,77.6l0.7,2.2M88,78l0.7,1.7M89.9,78l0.7,1.2M91.9,77.9l0.7,1.1M93.9,77.3l0.7,1.2M95.8,77.5l0.7,0.9M97.8,77.1l0.7,0.8M99.7,76.9l0.7,0.6M101.7,76.6l0.7,1M103.6,76.2l0.8,0.9M105.5,76.1l0.8,0.9M107.4,75.9l0.8,0.8M109.3,75.5l0.8,0.7M111.2,75.2l0.8,0.8M113.1,75l0.8,0.9M115,74.6l0.8,1M116.9,74.3l0.8,0.9M118.7,74.2l0.8,0.8M120.6,74l0.8,0.8M122.5,73.7l0.9,0.8M124.3,73.4l0.9,0.9M126.1,73l0.9,1M128,72.6l0.9,0.9M129.8,71.2l0.9,1M131.6,68.4l0.9,1.5M133.4,71.4l0.9,0.9M135.2,71.2l0.9,0.7M137,70.3l0.9,1.1M138.8,71l0.9,0.9M140.6,70.9l0.9,0.8"/><path d="M20.6,83.4 23.3,83.7 26.1,83.3 27.5,84.1 28.8,83.3 29.5,83.2 32.2,86 34.9,86.6 37.9,86.2 40.4,86.6 43.7,85.3 46.4,85.2 47.7,84.7 48.6,84 49.7,82.7 50.4,80.7 51.6,75.2 52.4,67.4 52.9,72.2 53.8,77 55.1,79.9 56.2,80.9 57.5,80.4 59,80.3 59.5,79.9 60.9,77.1 63,71 63.8,70.2 64.6,70.7 67.1,77.4 68.4,79.9 69.4,80.1 71.3,79 73.5,81.3 74.9,81.5 79.1,80.4 83.5,80.4 93.3,78.9 95.1,78.5 97.5,78.3 99.9,77.4 102.3,77.6 109.9,76.3 111.1,76.4 112.3,76 127.8,73.9 129.5,73.3 130.6,72.4 131.5,70.7 132.1,68.5 133.2,71.3 134.2,72.2 135.5,72.2 137.6,71.2 139.6,71.9 143.4,71.7 145.3,73.8 21.1,92.7Z" fill="url(#g24)" stroke="url(#g24)" stroke-width="0.7"/><path d="M20.6,83.4 23.3,83.7 26.1,83.3 27.5,84.1 28.8,83.3 29.5,83.2 32.2,86 34.9,86.6 37.9,86.2 40.4,86.6 43.7,85.3 46.4,85.2 47.7,84.7 48.6,84 49.7,82.7 50.4,80.7 51.6,75.2 52.4,67.4 52.9,72.2 53.8,77 55.1,79.9 56.2,80.9 57.5,80.4 59,80.3 59.5,79.9 60.9,77.1 63,71 63.8,70.2 64.6,70.7 67.1,77.4 68.4,79.9 69.4,80.1 71.3,79 73.5,81.3 74.9,81.5 79.1,80.4 83.5,80.4 93.3,78.9 95.1,78.5 97.5,78.3 99.9,77.4 102.3,77.6 109.9,76.3 111.1,76.4 112.3,76 127.8,73.9 129.5,73.3 130.6,72.4 131.5,70.7 132.1,68.5 133.2,71.3 134.2,72.2 135.5,72.2 137.6,71.2 139.6,71.9 143.4,71.7" class="m"/><path class="n" d="M22.8,83.6l0.3,0.4M25.1,83.5l0.3,1.3M27.3,84l0.3,1.4M29.6,83.3l0.3,2.4M31.8,85.5l0.3,1.4M34,86.5l0.4,1.2M36.2,86.5l0.4,1.6M38.4,86.3l0.4,1.3M40.6,86.5l0.4,1M42.8,85.6l0.4,1.4M45,85.3l0.4,1.5M47.1,84.9l0.4,1.1M49.3,83.4l0.5,1.1M51.4,76.1l0.5,2.6M53.6,75.9l0.5,2.6M55.7,80.7l0.5,1.5M57.8,80.4l0.5,1.8M59.9,79.1l0.5,0.5M62,73.9l0.5,1.9M64.1,70.3l0.5,2.3M66.2,75l0.6,2.1M68.3,79.7l0.6,1.3M70.4,79.5l0.6,1.8M72.4,80.2l0.6,1M74.5,81.5l0.6,0.4M76.5,81.2l0.6,1.1M78.6,80.6l0.6,1.2M80.6,80.4l0.6,1.3M82.6,80.4l0.6,0.8M84.6,80.2l0.7,0.7M86.6,79.8l0.7,0.9M88.6,79.6l0.7,0.6M90.6,79.2l0.7,0.9M92.6,79l0.7,1M94.6,78.5l0.7,0.9M96.5,78.4l0.7,1M98.5,77.9l0.7,1M100.5,77.5l0.7,1M102.4,77.6l0.8,0.5M104.3,77.2l0.8,0.9M106.3,77l0.8,0.8M108.2,76.7l0.8,0.8M110.1,76.3l0.8,1M112,76.1l0.8,1M113.9,75.8l0.8,0.9M115.8,75.6l0.8,1M117.7,75.2l0.8,0.9M119.6,75l0.8,0.8M121.4,74.8l0.9,0.8M123.3,74.5l0.9,1M125.2,74.2l0.9,1M127,74l0.9,0.7M128.9,73.5l0.9,0.8M130.7,72.3l0.9,0.9M132.5,69.9l0.9,1.3M134.4,72.3l0.9,1M136.2,71.9l0.9,1.2M138,71.4l0.9,1.1M139.8,72l1,0.9M141.6,71.8l1,1"/><path d="M20.8,84.6 23.6,83.9 26.4,85.4 29.2,85.5 33.3,87.6 35.3,87.7 36.7,88.1 38.3,87.6 40.1,87.8 43.8,86.9 46.1,86.7 49.1,85.2 50.8,82.8 52,77.9 52.9,71.2 53.4,75.3 54.3,79.4 55.4,81.6 56.9,82.3 58.2,82.3 59.5,81 61.4,78.1 63.9,73.1 64.5,72.6 65.1,73.1 67.8,79.6 69.4,81.5 70.3,81.7 72.2,80.9 75.4,82 77.2,82.3 90.3,80.1 92.7,80.1 103,78.1 105.4,78 116,76.7 120.1,75.9 128.9,74.7 131.5,73.3 132.3,72.1 133.1,70 134.1,72.5 134.6,73 135.4,73.3 137,73.2 138.5,72.3 140.5,72.9 144.3,72.4 146.3,74.7 21.4,93.8Z" fill="url(#g25)" stroke="url(#g25)" stroke-width="0.7"/><path d="M20.8,84.6 23.6,83.9 26.4,85.4 29.2,85.5 33.3,87.6 35.3,87.7 36.7,88.1 38.3,87.6 40.1,87.8 43.8,86.9 46.1,86.7 49.1,85.2 50.8,82.8 52,77.9 52.9,71.2 53.4,75.3 54.3,79.4 55.4,81.6 56.9,82.3 58.2,82.3 59.5,81 61.4,78.1 63.9,73.1 64.5,72.6 65.1,73.1 67.8,79.6 69.4,81.5 70.3,81.7 72.2,80.9 75.4,82 77.2,82.3 90.3,80.1 92.7,80.1 103,78.1 105.4,78 116,76.7 120.1,75.9 128.9,74.7 131.5,73.3 132.3,72.1 133.1,70 134.1,72.5 134.6,73 135.4,73.3 137,73.2 138.5,72.3 140.5,72.9 144.3,72.4" class="m"/><path class="n" d="M23.1,84l0.3,2.4M25.4,84.8l0.3,1.2M27.6,85.4l0.3,1M29.9,85.7l0.3,1.1M32.1,86.9l0.3,0M34.4,87.7l0.4,1.3M36.6,88.1l0.4,0.4M38.8,87.6l0.4,1.1M41,87.4l0.4,1.1M43.2,87l0.4,0.8M45.4,86.8l0.4,0.5M47.6,86l0.4,1M49.7,84.5l0.5,1.3M51.9,78.7l0.5,1.9M54,78.5l0.5,1.9M56.2,82.2l0.5,0.9M58.3,82.2l0.5,1.1M60.4,79.6l0.5,2.1M62.6,75.8l0.5,1.9M64.7,72.6l0.5,2.2M66.8,77.2l0.6,1.8M68.9,81l0.6,1.3M70.9,81.3l0.6,1M73,81.1l0.6,1.6M75.1,81.9l0.6,1.4M77.1,82.3l0.6,0.7M79.2,81.8l0.6,1.1M81.2,81.7l0.6,1M83.3,81.1l0.7,1.3M85.3,80.9l0.7,0.7M87.3,80.7l0.7,0.6M89.3,80.3l0.7,1.2M91.3,80.1l0.7,1.1M93.3,79.9l0.7,0.7M95.3,79.4l0.7,0.9M97.3,79.3l0.7,0.9M99.2,78.9l0.7,1M101.2,78.4l0.8,1.3M103.2,78.1l0.8,1.3M105.1,78.1l0.8,0.9M107,77.8l0.8,1M109,77.5l0.8,0.9M110.9,77.3l0.8,0.4M112.8,77l0.8,1M114.7,76.8l0.8,0.7M116.6,76.5l0.8,0.8M118.5,76.1l0.8,1M120.4,75.8l0.9,1M122.3,75.6l0.9,0.8M124.2,75.5l0.9,0.8M126,75.2l0.9,0.9M127.9,74.7l0.9,1M129.8,74.4l0.9,0.9M131.6,73.2l0.9,1.1M133.4,71.2l0.9,1.4M135.3,73.3l0.9,0.8M137.1,73.2l0.9,0.9M138.9,72.4l1,1M140.7,72.9l1,0.9M142.5,72.7l1,0.8"/><path d="M21.1,86.1 22.5,87 23.9,86 24.6,86 26.7,86 28.8,86.9 30.2,86.7 30.9,87.4 32.9,86.9 34.3,88.6 35,89 35.7,88.5 40.5,88.8 42.5,88.4 44.5,87.4 47.2,87.3 48.5,86.9 49.9,86.1 51.3,83.9 52.5,80 53.4,74.2 53.9,77.9 54.7,80.9 55.4,82.1 56.7,83.1 59.2,83.3 60,82.9 62,80.1 64.1,75.4 64.9,74.7 65.7,75.3 68.2,80.7 69.5,82.4 70.6,82.7 72.4,82 74.1,83.1 75.3,83.3 81.7,82.7 82.9,82.3 84.2,82.3 86,81.5 88.5,81.2 90.2,81.5 95.9,80.4 104.4,79.4 106.2,78.8 109.2,78.7 111.5,77.7 113.9,78 116.3,77.3 118,77.4 129.6,75.7 132.4,74.4 133.2,73.5 134,71.7 135,73.5 137,74.3 137.9,74.1 139.4,73.3 141,73.8 145.3,73.4 147.3,75.6 21.7,94.9Z" fill="url(#g26)" stroke="url(#g26)" stroke-width="0.7"/><path d="M21.1,86.1 22.5,87 23.9,86 24.6,86 26.7,86 28.8,86.9 30.2,86.7 30.9,87.4 32.9,86.9 34.3,88.6 35,89 35.7,88.5 40.5,88.8 42.5,88.4 44.5,87.4 47.2,87.3 48.5,86.9 49.9,86.1 51.3,83.9 52.5,80 53.4,74.2 53.9,77.9 54.7,80.9 55.4,82.1 56.7,83.1 59.2,83.3 60,82.9 62,80.1 64.1,75.4 64.9,74.7 65.7,75.3 68.2,80.7 69.5,82.4 70.6,82.7 72.4,82 74.1,83.1 75.3,83.3 81.7,82.7 82.9,82.3 84.2,82.3 86,81.5 88.5,81.2 90.2,81.5 95.9,80.4 104.4,79.4 106.2,78.8 109.2,78.7 111.5,77.7 113.9,78 116.3,77.3 118,77.4 129.6,75.7 132.4,74.4 133.2,73.5 134,71.7 135,73.5 137,74.3 137.9,74.1 139.4,73.3 141,73.8 145.3,73.4" class="m"/><path class="n" d="M23.4,86.4l0.3,1.7M25.7,86l0.3,2M28,86.5l0.3,1.4M30.2,86.8l0.3,1.7M32.5,86.9l0.4,2.2M34.7,89l0.4,1.1M37,88.6l0.4,1.6M39.2,88.7l0.4,0.9M41.4,88.6l0.4,0.9M43.6,87.8l0.4,0.7M45.8,87.4l0.4,0.9M48,87.1l0.5,1M50.2,85.8l0.5,0.9M52.4,80.6l0.5,0.8M54.5,80.3l0.5,1.3M56.7,83.1l0.5,1.7M58.8,83.3l0.5,1.3M61,81.7l0.5,1.6M63.1,77.7l0.5,2.2M65.2,74.8l0.6,1.9M67.3,79l0.6,0.9M69.4,82.3l0.6,1.1M71.5,82.3l0.6,0.9M73.6,82.7l0.6,1.1M75.7,83.3l0.6,0.7M77.8,83l0.6,0.7M79.8,82.9l0.6,1.1M81.9,82.7l0.7,0.8M83.9,82.4l0.7,1M85.9,81.5l0.7,0.6M88,81.2l0.7,1M90,81.5l0.7,0.9M92,81.2l0.7,0.7M94,80.7l0.7,1.2M96,80.4l0.7,1.1M98,80.2l0.7,1.1M100,79.9l0.8,1M102,79.7l0.8,1M103.9,79.4l0.8,0.7M105.9,78.9l0.8,0.9M107.8,78.7l0.8,1M109.8,78.4l0.8,1M111.7,77.7l0.8,1.4M113.6,78l0.8,0.9M115.6,77.5l0.8,1.2M117.5,77.3l0.8,1M119.4,77.1l0.9,0.9M121.3,76.8l0.9,1M123.2,76.5l0.9,1M125.1,76.3l0.9,0.9M126.9,76.1l0.9,0.9M128.8,75.8l0.9,0.9M130.7,75.3l0.9,1M132.5,74.3l0.9,1.1M134.4,72.7l0.9,1.1M136.2,74.1l0.9,0.9M138,74l1,0.9M139.9,73.4l1,1M141.7,73.8l1,0.9M143.5,73.5l1,0.9"/><path d="M21.4,87.8 24.2,88.2 28.4,87.9 36,90.3 42.1,89.4 45,88.1 47.7,88.4 48.2,88.2 50.4,87 51.7,84.9 53,80.8 53.9,75.8 55.3,82.5 56.4,84.5 57.7,84.8 60.4,84.4 61,83.9 62.5,82 64.9,77.3 65.7,76.7 66.3,76.9 66.9,77.8 68.7,81.7 70.2,83.5 71.2,83.7 73,82.9 74.7,84.1 78.5,83.7 80.5,84 83.6,83 84.8,83.2 86.1,82.3 86.7,82.1 90.5,82.5 91.7,81.9 94.2,82 98.5,81.4 107,79.7 109.4,79.8 112.4,79.1 116.5,78.7 130.5,76.5 133.4,75.5 134.3,74.4 134.9,73 136,74.5 137.3,75 138.9,75 140.4,74.3 142,74.7 146.3,74.3 148.3,76.5 21.9,96.1Z" fill="url(#g27)" stroke="url(#g27)" stroke-width="0.7"/><path d="M21.4,87.8 24.2,88.2 28.4,87.9 36,90.3 42.1,89.4 45,88.1 47.7,88.4 48.2,88.2 50.4,87 51.7,84.9 53,80.8 53.9,75.8 55.3,82.5 56.4,84.5 57.7,84.8 60.4,84.4 61,83.9 62.5,82 64.9,77.3 65.7,76.7 66.3,76.9 66.9,77.8 68.7,81.7 70.2,83.5 71.2,83.7 73,82.9 74.7,84.1 78.5,83.7 80.5,84 83.6,83 84.8,83.2 86.1,82.3 86.7,82.1 90.5,82.5 91.7,81.9 94.2,82 98.5,81.4 107,79.7 109.4,79.8 112.4,79.1 116.5,78.7 130.5,76.5 133.4,75.5 134.3,74.4 134.9,73 136,74.5 137.3,75 138.9,75 140.4,74.3 142,74.7 146.3,74.3" class="m"/><path class="n" d="M23.7,88.1l0.3,1.6M26,88l0.3,0.8M28.3,87.8l0.3,0.8M30.6,88.4l0.3,1M32.8,89.1l0.4,0.6M35.1,90.1l0.4,1.1M37.3,90.1l0.4,0.5M39.6,89.7l0.4,0.2M41.8,89.4l0.4,0.7M44,88.5l0.4,1.3M46.2,88.3l0.4,0.7M48.5,88.1l0.5,-0.1M50.6,86.7l0.5,0.6M52.8,81.5l0.5,2.3M55,81.7l0.5,2.2M57.2,84.8l0.5,1.4M59.3,84.5l0.5,1.5M61.5,83.3l0.5,1.6M63.6,79.8l0.5,1.5M65.8,76.7l0.6,2.3M67.9,79.9l0.6,2.1M70,83.4l0.6,0.7M72.1,83.2l0.6,1.5M74.2,83.9l0.6,1.2M76.3,84l0.6,1.5M78.4,83.7l0.6,1.3M80.5,84l0.6,0.3M82.5,83.5l0.7,0.7M84.6,83.4l0.7,0.7M86.6,82.1l0.7,1.8M88.7,82.3l0.7,1.3M90.7,82.4l0.7,1.1M92.7,81.9l0.7,1.1M94.7,81.8l0.7,0.7M96.7,81.5l0.7,1M98.7,81.3l0.8,0.9M100.7,81l0.8,1M102.7,80.7l0.8,1M104.7,80.2l0.8,0.9M106.7,79.8l0.8,1.3M108.6,79.8l0.8,1M110.6,79.4l0.8,1.1M112.5,79.1l0.8,1M114.5,78.9l0.8,0.8M116.4,78.7l0.9,0.8M118.3,78.3l0.9,0.9M120.2,78l0.9,1M122.2,77.9l0.9,0.8M124.1,77.5l0.9,0.8M125.9,77.2l0.9,0.9M127.8,77l0.9,0.9M129.7,76.7l0.9,0.9M131.6,76.3l0.9,0.9M133.5,75.5l0.9,0.9M135.3,73.7l0.9,1.3M137.2,75l1,1.2M139,74.9l1,1M140.8,74.4l1,1M142.7,74.7l1,0.9M144.5,74.5l1,0.9"/><path d="M21.7,88.7 23.8,89.6 27.3,88.3 28,88.4 30.2,89.6 31.1,89.4 33.7,89.9 35.7,91.3 39.5,89.8 42.6,90.1 45.4,89.6 48.1,88.2 50.5,87.6 52.2,86.2 53.5,83.3 54.3,78.9 54.9,81.7 55.8,84.5 56.4,85.4 57.7,86.2 60.2,85.9 62,85 63,83.6 65.2,79.3 66,78.8 67.5,80 69,83.1 69.8,83.8 71.7,84.7 73.6,84.7 77.2,85.6 78.6,85.1 79.8,85.2 81.6,84 84.2,84.2 88,84 89.9,83.5 93,83.3 94.9,82.5 96.8,82.7 98.6,82.4 104.1,81.5 105.3,81.1 109,80.9 125.6,78.1 131.4,77.5 134.3,76.5 135.2,75.5 135.9,74.4 136.9,75.8 138.3,76.2 139.8,76 141.4,75.4 142.9,75.6 147.3,75.1 149.4,77.4 22.2,97.2Z" fill="url(#g28)" stroke="url(#g28)" stroke-width="0.7"/><path d="M21.7,88.7 23.8,89.6 27.3,88.3 28,88.4 30.2,89.6 31.1,89.4 33.7,89.9 35.7,91.3 39.5,89.8 42.6,90.1 45.4,89.6 48.1,88.2 50.5,87.6 52.2,86.2 53.5,83.3 54.3,78.9 54.9,81.7 55.8,84.5 56.4,85.4 57.7,86.2 60.2,85.9 62,85 63,83.6 65.2,79.3 66,78.8 67.5,80 69,83.1 69.8,83.8 71.7,84.7 73.6,84.7 77.2,85.6 78.6,85.1 79.8,85.2 81.6,84 84.2,84.2 88,84 89.9,83.5 93,83.3 94.9,82.5 96.8,82.7 98.6,82.4 104.1,81.5 105.3,81.1 109,80.9 125.6,78.1 131.4,77.5 134.3,76.5 135.2,75.5 135.9,74.4 136.9,75.8 138.3,76.2 139.8,76 141.4,75.4 142.9,75.6 147.3,75.1" class="m"/><path class="n" d="M24,89.7l0.3,0.9M26.3,88.8l0.3,1.9M28.6,88.7l0.3,1.9M30.9,89.4l0.3,0.8M33.2,89.8l0.4,1.2M35.5,91.2l0.4,0.3M37.7,90.6l0.4,1.9M40,89.9l0.4,1.2M42.2,90.1l0.4,1.8M44.5,89.8l0.4,1.5M46.7,88.9l0.4,1.8M48.9,88.1l0.5,2.4M51.1,87.3l0.5,1.8M53.3,83.8l0.5,2M55.5,83.9l0.5,1.7M57.7,86.1l0.5,0.7M59.9,86l0.5,0.1M62,84.9l0.5,1.1M64.2,81.4l0.6,1.5M66.3,79l0.6,1.5M68.5,82l0.6,1.6M70.6,84.1l0.6,1.8M72.7,84.7l0.6,0.5M74.8,85l0.6,0.7M76.9,85.6l0.6,0.9M79,85.1l0.6,1.3M81.1,84.4l0.7,1.6M83.2,84.1l0.7,1.5M85.2,84.1l0.7,1.3M87.3,83.9l0.7,1.1M89.4,83.6l0.7,0.9M91.4,83.5l0.7,0.6M93.4,83.1l0.7,0.9M95.5,82.5l0.7,1.2M97.5,82.5l0.8,0.7M99.5,82.2l0.8,0.8M101.5,82l0.8,0.7M103.5,81.7l0.8,0.9M105.5,81.1l0.8,1M107.5,81.1l0.8,0.7M109.4,80.8l0.8,0.9M111.4,80.5l0.8,0.7M113.4,80.1l0.8,0.9M115.3,79.7l0.9,1M117.3,79.5l0.9,0.8M119.2,79.3l0.9,1M121.1,79l0.9,0.9M123,78.6l0.9,0.9M124.9,78.3l0.9,1.1M126.8,78.1l0.9,1M128.7,77.9l0.9,0.9M130.6,77.6l0.9,1M132.5,77.2l0.9,1M134.4,76.4l1,1.1M136.3,75.1l1,1.1M138.1,76.2l1,0.9M140,76l1,0.8M141.8,75.4l1,0.7M143.7,75.5l1,0.9M145.5,75.3l1,1"/><path d="M21.9,91.3 24.8,90.4 27.7,90.9 31.2,90.2 34.7,91.3 36.8,91.6 38.2,92.4 39.9,90.9 43,91.9 48.6,90.4 49.9,90.5 52.7,88.2 53.3,87.1 54.8,81.2 56.1,85.6 56.7,86.5 57.4,86.8 58.4,86.8 60.1,86.1 61.6,86.2 62.8,85.9 63.6,84.9 65.8,80.9 66.6,80.4 67.4,80.9 69.6,84.5 71,85.8 72.1,85.9 74.2,84.8 76.1,86.4 78,86.4 86.2,85.4 90.6,84.3 95.6,83.9 98.1,83.2 103.1,82.5 104.9,82.6 106.1,82.1 107.4,82.2 108.6,81.7 109.8,81.8 111.6,81.2 113.4,81.3 118.8,80.2 120.6,80.2 132.4,78.4 135.3,77.5 136.2,76.7 136.8,75.6 137.9,76.8 139.3,77.1 142.4,76.2 145.5,76.4 148.3,76 150.4,78.3 22.5,98.4Z" fill="url(#g29)" stroke="url(#g29)" stroke-width="0.7"/><path d="M21.9,91.3 24.8,90.4 27.7,90.9 31.2,90.2 34.7,91.3 36.8,91.6 38.2,92.4 39.9,90.9 43,91.9 48.6,90.4 49.9,90.5 52.7,88.2 53.3,87.1 54.8,81.2 56.1,85.6 56.7,86.5 57.4,86.8 58.4,86.8 60.1,86.1 61.6,86.2 62.8,85.9 63.6,84.9 65.8,80.9 66.6,80.4 67.4,80.9 69.6,84.5 71,85.8 72.1,85.9 74.2,84.8 76.1,86.4 78,86.4 86.2,85.4 90.6,84.3 95.6,83.9 98.1,83.2 103.1,82.5 104.9,82.6 106.1,82.1 107.4,82.2 108.6,81.7 109.8,81.8 111.6,81.2 113.4,81.3 118.8,80.2 120.6,80.2 132.4,78.4 135.3,77.5 136.2,76.7 136.8,75.6 137.9,76.8 139.3,77.1 142.4,76.2 145.5,76.4 148.3,76" class="m"/><path class="n" d="M24.3,90.6l0.3,0.8M26.6,90.7l0.3,0.4M28.9,90.5l0.3,1.4M31.2,90.2l0.4,1M33.5,91l0.4,1.3M35.8,91.6l0.4,1.8M38.1,92.5l0.4,1.1M40.4,91l0.4,1.8M42.6,91.9l0.4,0.9M44.9,91.3l0.4,0.6M47.1,90.8l0.5,1.5M49.4,90.5l0.5,1M51.6,89.1l0.5,0.5M53.8,85.8l0.5,0.8M56,85.6l0.5,0.9M58.2,86.8l0.5,1.8M60.4,86.1l0.5,1.7M62.6,86l0.6,1.3M64.7,82.8l0.6,1.7M66.9,80.5l0.6,2M69,83.6l0.6,1.6M71.2,85.9l0.6,1.3M73.3,85.2l0.6,1.9M75.4,85.7l0.6,1.1M77.6,86.4l0.6,0.7M79.7,86.3l0.7,1M81.8,85.9l0.7,0.6M83.9,85.6l0.7,1.1M85.9,85.4l0.7,0.7M88,85l0.7,1.1M90.1,84.4l0.7,1M92.1,84.1l0.7,1.2M94.2,84l0.7,1M96.2,83.8l0.7,1M98.2,83.2l0.8,0.7M100.3,83l0.8,1.2M102.3,82.7l0.8,0.9M104.3,82.5l0.8,0.8M106.3,82.1l0.8,1.2M108.3,81.8l0.8,1.1M110.3,81.7l0.8,1M112.2,81.2l0.8,1M114.2,81l0.9,1.1M116.2,80.7l0.9,0.8M118.1,80.4l0.9,1M120.1,80.2l0.9,0.9M122,79.9l0.9,0.9M123.9,79.6l0.9,1M125.8,79.4l0.9,0.9M127.8,79.1l0.9,0.7M129.7,78.8l0.9,0.7M131.6,78.5l0.9,1M133.5,78.2l1,0.9M135.3,77.5l1,0.9M137.2,76.2l1,1.1M139.1,77.1l1,0.9M141,76.7l1,0.9M142.8,76.2l1,1.2M144.7,76.4l1,1M146.5,76.3l1,0.8"/><path d="M22.2,92 23,92.5 25.1,91 28,91.3 29.4,92.1 30.8,91.2 31.6,91.1 33,92.7 34.4,92.1 36.5,93.6 37.9,93.6 40.3,92.9 43.4,92.7 46,91.6 47.7,92.3 49,91.2 50.3,91.6 53.8,87.6 54.5,86 55.3,82.7 56.7,86.8 58.9,88.7 60.6,87.9 62.1,87.7 63.3,87.2 66.4,82.9 67.2,82.4 68,82.8 70.5,86.2 71.9,87.2 73,87.4 75.3,86.7 80.4,87.3 82.9,86.4 84.3,86.7 85.6,86.2 88.8,86.1 91.3,85.4 93.9,85.3 96.4,84.6 97,84.8 98.9,84 101.4,84.2 104.5,83.2 107.6,83.3 112.5,82.3 114.9,82.2 117.3,81.4 119.7,81.3 129.8,79.6 132.7,79.5 136.2,78.4 137.8,76.8 138.5,77.7 139.9,78 143.1,77.3 145.4,77.4 149.4,76.7 151.5,79.2 22.8,99.6Z" fill="url(#g210)" stroke="url(#g210)" stroke-width="0.7"/><path d="M22.2,92 23,92.5 25.1,91 28,91.3 29.4,92.1 30.8,91.2 31.6,91.1 33,92.7 34.4,92.1 36.5,93.6 37.9,93.6 40.3,92.9 43.4,92.7 46,91.6 47.7,92.3 49,91.2 50.3,91.6 53.8,87.6 54.5,86 55.3,82.7 56.7,86.8 58.9,88.7 60.6,87.9 62.1,87.7 63.3,87.2 66.4,82.9 67.2,82.4 68,82.8 70.5,86.2 71.9,87.2 73,87.4 75.3,86.7 80.4,87.3 82.9,86.4 84.3,86.7 85.6,86.2 88.8,86.1 91.3,85.4 93.9,85.3 96.4,84.6 97,84.8 98.9,84 101.4,84.2 104.5,83.2 107.6,83.3 112.5,82.3 114.9,82.2 117.3,81.4 119.7,81.3 129.8,79.6 132.7,79.5 136.2,78.4 137.8,76.8 138.5,77.7 139.9,78 143.1,77.3 145.4,77.4 149.4,76.7" class="m"/><path class="n" d="M24.6,91.4l0.3,2.1M26.9,91.2l0.3,2.3M29.3,92l0.3,1.2M31.6,91.2l0.4,1.6M33.9,92.3l0.4,1.4M36.2,93.4l0.4,1M38.5,93.6l0.4,0.9M40.8,92.8l0.4,1.5M43.1,92.7l0.4,1.2M45.3,91.9l0.4,0.6M47.6,92.2l0.5,0.6M49.8,91.5l0.5,1.1M52.1,89.6l0.5,2.2M54.3,86.6l0.5,1.5M56.5,86.4l0.5,0.7M58.7,88.6l0.5,0.6M60.9,87.9l0.5,1.2M63.1,87.3l0.6,1M65.3,84.5l0.6,1.3M67.5,82.5l0.6,1.7M69.6,85.2l0.6,1.4M71.8,87.1l0.6,0.9M73.9,87.1l0.6,1.1M76.1,86.8l0.6,1.1M78.2,87.1l0.6,1M80.3,87.3l0.7,1M82.4,86.6l0.7,0.9M84.5,86.8l0.7,0.7M86.6,86.1l0.7,1.3M88.7,86.1l0.7,1.1M90.8,85.5l0.7,1.1M92.8,85.3l0.7,1M94.9,85l0.7,1M97,84.8l0.8,1.1M99,84l0.8,1.1M101,84.2l0.8,1.1M103.1,83.6l0.8,1.1M105.1,83.3l0.8,1.1M107.1,83.3l0.8,1M109.1,82.9l0.8,0.8M111.1,82.7l0.8,1M113.1,82.2l0.9,1.1M115.1,82.1l0.9,0.9M117,81.5l0.9,1.2M119,81.4l0.9,1M120.9,81.1l0.9,1M122.9,80.8l0.9,1.1M124.8,80.5l0.9,0.8M126.8,80.3l0.9,1M128.7,79.9l0.9,1.1M130.6,79.6l0.9,1M132.5,79.5l1,0.8M134.4,79.1l1,1M136.3,78.4l1,1.1M138.2,77.4l1,1.1M140.1,78l1,1M141.9,77.7l1,1.1M143.8,77.4l1,1M145.7,77.4l1,0.9M147.5,77.1l1,0.9"/><path d="M22.5,93.5 24,93.9 25.4,93.3 28.3,93.5 31.9,92.8 35.9,94.3 38.3,94.6 42.5,94.3 46.7,92 48.8,93.2 49.5,92.7 52.3,92 53.1,91.3 54.6,88.6 55.9,84.2 57.1,87.2 60,89.9 61.2,89 62.7,89.4 66.9,84.5 67.8,84.1 68.6,84.5 70.8,87.1 72.9,88.2 73.9,88.3 78.1,87.8 80.6,88.5 83.6,87.2 86.3,87.6 92.1,86.5 97.8,85.9 99.7,85.1 101.5,85.3 105.3,84.4 108.4,84.2 110.2,83.5 112.7,83.6 124.2,81.8 126,81.3 129,81.1 135.6,80 137.7,79.2 138.8,78.1 139.8,78.8 141.8,79 144.4,78.4 146,78.4 150.4,77.8 152.5,80.2 23.1,100.8Z" fill="url(#g211)" stroke="url(#g211)" stroke-width="0.7"/><path d="M22.5,93.5 24,93.9 25.4,93.3 28.3,93.5 31.9,92.8 35.9,94.3 38.3,94.6 42.5,94.3 46.7,92 48.8,93.2 49.5,92.7 52.3,92 53.1,91.3 54.6,88.6 55.9,84.2 57.1,87.2 60,89.9 61.2,89 62.7,89.4 66.9,84.5 67.8,84.1 68.6,84.5 70.8,87.1 72.9,88.2 73.9,88.3 78.1,87.8 80.6,88.5 83.6,87.2 86.3,87.6 92.1,86.5 97.8,85.9 99.7,85.1 101.5,85.3 105.3,84.4 108.4,84.2 110.2,83.5 112.7,83.6 124.2,81.8 126,81.3 129,81.1 135.6,80 137.7,79.2 138.8,78.1 139.8,78.8 141.8,79 144.4,78.4 146,78.4 150.4,77.8" class="m"/><path class="n" d="M24.9,93.5l0.3,1.6M27.3,93.4l0.3,1.2M29.6,93.2l0.3,1.4M32,92.8l0.4,1.4M34.3,93.7l0.4,1.4M36.6,94.4l0.4,1.4M38.9,94.6l0.4,1.3M41.2,94.4l0.4,1.3M43.5,93.9l0.4,1.1M45.8,92.5l0.5,1.3M48.1,92.8l0.5,1M50.3,92.6l0.5,1.4M52.6,91.8l0.5,1.1M54.8,88.1l0.5,2.2M57,87.2l0.5,2.7M59.3,89.2l0.5,1.7M61.5,89.1l0.6,1.9M63.7,88.3l0.6,1.7M65.9,85.8l0.6,2M68.1,84.2l0.6,1.8M70.2,86.6l0.6,1.3M72.4,88l0.6,1.3M74.6,88.2l0.6,1M76.7,87.9l0.6,1.6M78.8,88.1l0.7,1.5M81,88.4l0.7,0.9M83.1,87.5l0.7,1.5M85.2,87.5l0.7,1M87.3,87.5l0.7,0.6M89.4,87.2l0.7,0.4M91.5,86.6l0.7,1.2M93.6,86.4l0.7,1.2M95.7,86.1l0.8,1.1M97.7,85.9l0.8,0.9M99.8,85.1l0.8,1M101.8,85.3l0.8,0.5M103.9,84.7l0.8,0.7M105.9,84.4l0.8,0.7M107.9,84.3l0.8,1M109.9,83.7l0.8,1.3M111.9,83.6l0.9,1M113.9,83.3l0.9,1M115.9,83.1l0.9,1M117.9,82.7l0.9,0.9M119.9,82.4l0.9,1.1M121.8,82.1l0.9,1.1M123.8,81.9l0.9,1M125.7,81.4l0.9,1.1M127.7,81.2l0.9,1M129.6,81l0.9,1M131.5,80.6l1,1.1M133.5,80.3l1,1.1M135.4,80.1l1,0.9M137.3,79.5l1,0.9M139.2,78.5l1,1.1M141.1,79l1,1M143,78.8l1,0.7M144.8,78.4l1,0.9M146.7,78.3l1,1M148.6,78l1,1"/><path d="M22.8,95.3 26.5,95.1 28.7,94.2 30.5,94.8 32.3,94.2 36.6,95.9 38,95.7 40.1,95.9 45.1,94.8 47.2,93 49.3,94.2 51.4,93.9 53.6,92.5 54.9,91.1 56.4,87.1 56.9,88.9 57.8,90.1 60.5,91.1 61.9,91.1 64.2,90 65.8,88.7 67.5,86.4 68.5,85.9 69.2,86.1 71.4,88.4 72.8,89.2 74.2,89.5 76.1,89.1 77.8,89.7 79.1,89.6 87,88.3 89.6,87.6 91.5,87.9 95.4,87.4 106.1,85 108.6,85.4 119.1,83.5 122.1,83.3 134.6,81.4 138.2,80.5 139.8,79.2 140.5,79.8 141.7,80 145.4,79.2 147.5,79.3 151.5,78.8 153.6,81.1 23.4,102.1Z" fill="url(#g212)" stroke="url(#g212)" stroke-width="0.7"/><path d="M22.8,95.3 26.5,95.1 28.7,94.2 30.5,94.8 32.3,94.2 36.6,95.9 38,95.7 40.1,95.9 45.1,94.8 47.2,93 49.3,94.2 51.4,93.9 53.6,92.5 54.9,91.1 56.4,87.1 56.9,88.9 57.8,90.1 60.5,91.1 61.9,91.1 64.2,90 65.8,88.7 67.5,86.4 68.5,85.9 69.2,86.1 71.4,88.4 72.8,89.2 74.2,89.5 76.1,89.1 77.8,89.7 79.1,89.6 87,88.3 89.6,87.6 91.5,87.9 95.4,87.4 106.1,85 108.6,85.4 119.1,83.5 122.1,83.3 134.6,81.4 138.2,80.5 139.8,79.2 140.5,79.8 141.7,80 145.4,79.2 147.5,79.3 151.5,78.8" class="m"/><path class="n" d="M25.2,95.1l0.3,1.4M27.6,94.7l0.3,1.6M30,94.5l0.4,1.4M32.3,94.2l0.4,1.4M34.7,95.1l0.4,1M37,95.9l0.4,0.9M39.3,95.8l0.4,0.8M41.6,95.7l0.4,0.3M43.9,95l0.4,0.4M46.2,93.8l0.5,1.3M48.5,93.8l0.5,1.9M50.8,93.9l0.5,0.3M53.1,92.9l0.5,1.2M55.3,90.2l0.5,1.4M57.6,89.9l0.5,1.4M59.8,90.9l0.5,1.1M62,91l0.6,0.4M64.2,90l0.6,0.9M66.4,87.9l0.6,1.4M68.6,85.9l0.6,1.4M70.8,87.9l0.6,1.4M73,89.3l0.6,0.4M75.2,89.2l0.6,1M77.4,89.5l0.7,1M79.5,89.6l0.7,1.1M81.7,89.3l0.7,0.9M83.8,88.9l0.7,1.2M85.9,88.6l0.7,0.6M88,88.1l0.7,1M90.1,87.6l0.7,1.3M92.2,87.8l0.7,0.8M94.3,87.5l0.8,0.8M96.4,87.2l0.8,0.6M98.5,86.8l0.8,1.1M100.6,86.1l0.8,1.5M102.6,85.8l0.8,1.2M104.7,85.4l0.8,1.6M106.7,85.1l0.8,1.4M108.7,85.4l0.8,1M110.8,84.9l0.8,0.8M112.8,84.6l0.9,1.1M114.8,84.4l0.9,0.9M116.8,84.1l0.9,1M118.8,83.6l0.9,1.2M120.8,83.4l0.9,1M122.7,83.2l0.9,0.9M124.7,82.9l0.9,0.8M126.7,82.5l0.9,1M128.6,82.2l0.9,1.1M130.6,82l1,1M132.5,81.7l1,1M134.4,81.4l1,1M136.4,81l1,1M138.3,80.4l1,1M140.2,79.6l1,1M142.1,80l1,0.9M144,79.6l1,1.2M145.9,79.2l1,1.1M147.7,79.3l1,0.9M149.6,79l1.1,0.9"/><path d="M23.1,95.9 25.3,96.5 26.1,96.3 29,96.3 32.6,95.5 38.4,96.9 47.3,95 49.1,95.6 50.5,94.3 53.3,94.1 54.7,93.3 56,91.4 56.9,88.7 58.1,91.3 59.5,92.2 62.3,91.3 63.8,91.9 65.3,90.4 67,89.4 68.1,87.6 69,87.3 69.8,87.7 71.1,89.1 72,89.5 73.8,89.6 75.1,90.2 79.4,90.8 81.9,90.3 83.8,90.4 87.7,88.8 89.7,89.4 92.9,88.6 94.2,88.8 96.1,87.8 100.6,87.8 103.8,86.9 105.7,87 109.4,86.4 111.9,85.6 113.8,85.7 115,85.3 135.6,82.3 139.2,81.5 140.8,80.3 141.9,80.8 143.9,80.9 152.5,79.6 154.7,82.1 23.8,103.3Z" fill="url(#g213)" stroke="url(#g213)" stroke-width="0.7"/><path d="M23.1,95.9 25.3,96.5 26.1,96.3 29,96.3 32.6,95.5 38.4,96.9 47.3,95 49.1,95.6 50.5,94.3 53.3,94.1 54.7,93.3 56,91.4 56.9,88.7 58.1,91.3 59.5,92.2 62.3,91.3 63.8,91.9 65.3,90.4 67,89.4 68.1,87.6 69,87.3 69.8,87.7 71.1,89.1 72,89.5 73.8,89.6 75.1,90.2 79.4,90.8 81.9,90.3 83.8,90.4 87.7,88.8 89.7,89.4 92.9,88.6 94.2,88.8 96.1,87.8 100.6,87.8 103.8,86.9 105.7,87 109.4,86.4 111.9,85.6 113.8,85.7 115,85.3 135.6,82.3 139.2,81.5 140.8,80.3 141.9,80.8 143.9,80.9 152.5,79.6" class="m"/><path class="n" d="M25.5,96.5l0.3,0.9M27.9,96.3l0.3,1.4M30.3,95.9l0.4,1.5M32.7,95.5l0.4,1.6M35,96.1l0.4,1.8M37.4,96.7l0.4,1.2M39.7,96.6l0.4,1.5M42.1,96l0.4,1.8M44.4,95.5l0.4,1.9M46.7,95.1l0.5,1.7M49,95.7l0.5,1.2M51.3,94.3l0.5,1.4M53.6,94l0.5,0.5M55.8,91.7l0.5,1.6M58.1,91.3l0.5,1.4M60.3,92l0.6,1.6M62.6,91.4l0.6,1.6M64.8,90.9l0.6,1.3M67,89.2l0.6,1.1M69.2,87.3l0.6,1.2M71.5,89.3l0.6,0.9M73.6,89.6l0.6,1.4M75.8,90.3l0.6,1.6M78,90.5l0.7,1.2M80.2,90.7l0.7,1.2M82.3,90.2l0.7,1.2M84.5,90.1l0.7,1.1M86.6,89.2l0.7,1.7M88.7,89.1l0.7,1.4M90.9,88.9l0.7,1.4M93,88.6l0.8,1.4M95.1,88.3l0.8,1.1M97.2,87.9l0.8,1.5M99.3,87.9l0.8,0.9M101.3,87.6l0.8,0.8M103.4,87l0.8,0.9M105.5,87l0.8,1.1M107.5,86.5l0.8,0.9M109.6,86.3l0.8,1.1M111.6,85.7l0.9,1.1M113.6,85.7l0.9,0.6M115.7,85.3l0.9,0.7M117.7,85.1l0.9,0.9M119.7,84.8l0.9,1M121.7,84.5l0.9,0.9M123.7,84.1l0.9,1M125.6,83.7l0.9,1.1M127.6,83.5l1,1M129.6,83.3l1,0.9M131.5,82.9l1,0.9M133.5,82.7l1,0.9M135.4,82.4l1,0.9M137.3,81.9l1,0.8M139.3,81.5l1,0.9M141.2,80.6l1,1.1M143.1,80.9l1,1.1M145,80.7l1,0.8M146.9,80.3l1.1,0.9M148.8,80.2l1.1,1M150.7,79.9l1.1,1.1"/><path d="M23.4,96.9 27.9,97.8 29.4,97.2 31.2,97.4 33,97.1 35.2,98 38.8,97.9 41,98.2 47.8,96.6 49.6,96.9 53.8,94.6 55.3,94.2 56.2,93.6 57.4,90.4 58,91.9 58.7,92.7 61.5,93.8 62.8,93 64.2,93.2 69.8,88.6 71.3,89.1 73,91.5 74.4,91 76.7,91.9 77.4,91.6 80.5,92 86.4,91.2 88.4,90.5 93.7,90.1 96.9,89.1 98.2,89.3 99.5,88.7 100.8,88.9 104.6,87.8 106.5,88 107.8,87.4 110.9,87.3 115.3,86.1 119.6,86 136,83.3 140.7,82.2 141.8,81.4 142.5,81.9 144,82 147.2,81.2 150.1,81.2 153.6,80.7 155.8,83.1 24.1,104.6Z" fill="url(#g214)" stroke="url(#g214)" stroke-width="0.7"/><path d="M23.4,96.9 27.9,97.8 29.4,97.2 31.2,97.4 33,97.1 35.2,98 38.8,97.9 41,98.2 47.8,96.6 49.6,96.9 53.8,94.6 55.3,94.2 56.2,93.6 57.4,90.4 58,91.9 58.7,92.7 61.5,93.8 62.8,93 64.2,93.2 69.8,88.6 71.3,89.1 73,91.5 74.4,91 76.7,91.9 77.4,91.6 80.5,92 86.4,91.2 88.4,90.5 93.7,90.1 96.9,89.1 98.2,89.3 99.5,88.7 100.8,88.9 104.6,87.8 106.5,88 107.8,87.4 110.9,87.3 115.3,86.1 119.6,86 136,83.3 140.7,82.2 141.8,81.4 142.5,81.9 144,82 147.2,81.2 150.1,81.2 153.6,80.7" class="m"/><path class="n" d="M25.9,97.4l0.3,1.5M28.3,97.6l0.3,0.1M30.7,97.3l0.4,-0.1M33.1,97.1l0.4,1.1M35.4,98l0.4,1.1M37.8,98l0.4,1.6M40.2,98.1l0.4,1.2M42.5,97.8l0.4,0.8M44.8,97.4l0.5,0.8M47.2,96.8l0.5,1.4M49.5,96.9l0.5,1.1M51.8,95.6l0.5,1.9M54.1,94.5l0.5,2M56.4,93.3l0.5,1.3M58.6,92.7l0.5,1.5M60.9,93.6l0.6,1.4M63.2,93l0.6,1.2M65.4,92.2l0.6,1.5M67.6,90.3l0.6,1.7M69.9,88.6l0.6,1.8M72.1,90.2l0.6,1.3M74.3,91.1l0.6,2.1M76.5,91.9l0.7,1.3M78.7,91.8l0.7,1.1M80.8,91.9l0.7,0.9M83,91.5l0.7,1.1M85.2,91.2l0.7,1.2M87.3,90.9l0.7,1.2M89.5,90.5l0.7,1.3M91.6,90.3l0.8,0.8M93.7,90l0.8,1M95.9,89.4l0.8,1.2M98,89.4l0.8,1M100.1,88.7l0.8,1.2M102.1,88.4l0.8,1.3M104.2,87.9l0.8,1.4M106.3,88.1l0.8,1M108.4,87.5l0.8,1.3M110.4,87.4l0.9,1.1M112.5,86.8l0.9,1.2M114.5,86.3l0.9,1.5M116.5,86l0.9,1.3M118.6,86l0.9,0.9M120.6,85.8l0.9,0.8M122.6,85.4l0.9,1M124.6,85.2l0.9,1.1M126.6,84.8l1,0.9M128.6,84.4l1,0.8M130.5,84.2l1,0.9M132.5,83.9l1,1.1M134.5,83.6l1,0.9M136.4,83.2l1,0.8M138.3,82.7l1,1.3M140.3,82.4l1,1.1M142.2,81.7l1,1M144.1,82l1,0.9M146,81.5l1.1,1.1M147.9,81.2l1.1,1.1M149.8,81.2l1.1,1M151.7,81l1.1,0.9"/><path d="M23.8,99.3 25.2,99.2 29.7,97.1 30.4,97.1 36.3,99.2 38.5,99.6 40,99.5 42.4,98.7 45.6,98.1 48.6,98.1 51.5,97.8 55.1,96.3 56.4,95.4 58,92.1 59.2,94.2 61.3,95.1 63.4,94.2 65,94.4 69.7,90.8 70.7,90.4 72,90.8 73.8,92.5 75.4,93.3 80.7,92.6 82.5,93 83.8,92.5 85.2,92.5 89.8,91.8 91.8,91.2 94.4,91.1 97.7,90.4 99,90.4 116.2,87.7 119.3,86.9 125.5,86.2 129.8,85.2 133.4,85 137,84.1 139.4,84 141.8,83.3 142.8,82.5 143.9,82.9 146.1,82.9 154.7,81.4 156.9,84.1 24.4,105.8Z" fill="url(#g215)" stroke="url(#g215)" stroke-width="0.7"/><path d="M23.8,99.3 25.2,99.2 29.7,97.1 30.4,97.1 36.3,99.2 38.5,99.6 40,99.5 42.4,98.7 45.6,98.1 48.6,98.1 51.5,97.8 55.1,96.3 56.4,95.4 58,92.1 59.2,94.2 61.3,95.1 63.4,94.2 65,94.4 69.7,90.8 70.7,90.4 72,90.8 73.8,92.5 75.4,93.3 80.7,92.6 82.5,93 83.8,92.5 85.2,92.5 89.8,91.8 91.8,91.2 94.4,91.1 97.7,90.4 99,90.4 116.2,87.7 119.3,86.9 125.5,86.2 129.8,85.2 133.4,85 137,84.1 139.4,84 141.8,83.3 142.8,82.5 143.9,82.9 146.1,82.9 154.7,81.4" class="m"/><path class="n" d="M26.2,98.8l0.3,1.6M28.6,97.7l0.4,2.7M31,97.3l0.4,2.5M33.4,98.2l0.4,1.1M35.8,99l0.4,1.2M38.2,99.6l0.4,0.7M40.6,99.4l0.4,0.6M42.9,98.6l0.4,1.2M45.3,98.2l0.5,0.4M47.6,98.1l0.5,0.5M50,98l0.5,0.8M52.3,97.5l0.5,1M54.6,96.5l0.5,1M56.9,94.6l0.5,1.2M59.2,94.2l0.6,0.9M61.5,95l0.6,0.5M63.7,94.2l0.6,1.5M66,93.7l0.6,1.5M68.2,92.1l0.6,1.2M70.5,90.4l0.6,1.4M72.7,91.5l0.6,1.6M74.9,93.1l0.7,0.7M77.1,93.2l0.7,0.7M79.3,92.8l0.7,1.3M81.5,92.8l0.7,0.8M83.7,92.5l0.7,0.9M85.9,92.4l0.7,0.7M88.1,92.1l0.7,1.1M90.2,91.8l0.7,0.7M92.4,91.1l0.8,1.1M94.5,91.1l0.8,1M96.6,90.6l0.8,1.2M98.7,90.4l0.8,1.1M100.9,90l0.8,1M103,89.7l0.8,1.2M105.1,89.3l0.8,0.6M107.1,89.1l0.8,0.5M109.2,88.7l0.9,0.9M111.3,88.5l0.9,1M113.3,88.1l0.9,0.9M115.4,87.8l0.9,0.9M117.4,87.4l0.9,1M119.5,86.9l0.9,1M121.5,86.6l0.9,0.9M123.5,86.4l0.9,1.1M125.5,86.2l1,0.9M127.5,85.8l1,1.1M129.5,85.2l1,1.4M131.5,85.1l1,1.1M133.5,85l1,1M135.4,84.5l1,1.1M137.4,84.1l1,1.1M139.4,84l1,0.9M141.3,83.5l1,1M143.2,82.7l1,1.1M145.2,82.9l1.1,1.1M147.1,82.7l1.1,1M149,82.3l1.1,0.8M150.9,82.2l1.1,0.9M152.8,81.9l1.1,1"/><path d="M24.1,100 27.8,100.6 33.8,99.3 37.5,100.8 39.7,99.9 42.8,100.1 46.1,98.5 52,98.8 53.4,98.2 56.9,96.4 58.5,93.7 59.1,94.6 60,95.2 63.3,95.7 66.1,95.5 67.7,94.6 69.9,92.1 70.8,91.8 71.6,91.9 73.8,93.3 75.7,93.8 76.8,94.5 78.5,93.4 80.1,94.2 81.4,93.7 87.2,93.1 88.6,93.3 89.9,92.7 92.5,92.2 94.5,92.3 99.8,91.4 101.1,91 103.7,90.9 106.9,89.6 112,89.6 114.5,88.8 117.7,88.6 122.7,87.4 124.6,87.5 134.4,86 135.6,85.6 139.8,85.1 142.8,84.4 143.9,83.6 146.1,84 149.6,83.2 155.8,82.6 158.1,85.1 24.7,107.2Z" fill="url(#g216)" stroke="url(#g216)" stroke-width="0.7"/><path d="M24.1,100 27.8,100.6 33.8,99.3 37.5,100.8 39.7,99.9 42.8,100.1 46.1,98.5 52,98.8 53.4,98.2 56.9,96.4 58.5,93.7 59.1,94.6 60,95.2 63.3,95.7 66.1,95.5 67.7,94.6 69.9,92.1 70.8,91.8 71.6,91.9 73.8,93.3 75.7,93.8 76.8,94.5 78.5,93.4 80.1,94.2 81.4,93.7 87.2,93.1 88.6,93.3 89.9,92.7 92.5,92.2 94.5,92.3 99.8,91.4 101.1,91 103.7,90.9 106.9,89.6 112,89.6 114.5,88.8 117.7,88.6 122.7,87.4 124.6,87.5 134.4,86 135.6,85.6 139.8,85.1 142.8,84.4 143.9,83.6 146.1,84 149.6,83.2 155.8,82.6" class="m"/><path class="n" d="M26.5,100.4l0.3,1.6M29,100.4l0.4,1.2M31.4,99.7l0.4,0.9M33.8,99.3l0.4,1M36.2,100.2l0.4,1.4M38.6,100.3l0.4,1.5M41,100l0.4,1.8M43.4,99.8l0.5,1.5M45.8,98.6l0.5,1.9M48.1,98.7l0.5,2.1M50.5,98.8l0.5,1.4M52.8,98.5l0.5,0.6M55.1,97.5l0.5,0.9M57.4,95.9l0.5,1M59.7,95.1l0.6,1.3M62,95.5l0.6,1.5M64.3,95.7l0.6,0.5M66.6,95.2l0.6,0.8M68.8,93.3l0.6,1.6M71.1,91.8l0.6,1.6M73.3,93.1l0.6,1.5M75.6,93.8l0.7,0.5M77.8,93.9l0.7,1.3M80,94.1l0.7,1.1M82.2,93.6l0.7,1.7M84.4,93.4l0.7,1.5M86.6,93.2l0.7,1.5M88.8,93.2l0.7,1.1M91,92.5l0.8,1.6M93.1,92.2l0.8,1.1M95.3,92.1l0.8,1M97.4,91.8l0.8,0.9M99.5,91.5l0.8,0.9M101.7,90.9l0.8,1.3M103.8,90.9l0.8,0.9M105.9,89.9l0.8,1.5M108,89.6l0.9,1.7M110.1,89.7l0.9,1.2M112.2,89.5l0.9,0.9M114.2,88.9l0.9,1M116.3,88.7l0.9,1.1M118.3,88.4l0.9,1.2M120.4,87.9l0.9,1.3M122.4,87.4l0.9,1.4M124.5,87.5l1,1M126.5,87.2l1,1.1M128.5,86.9l1,0.9M130.5,86.6l1,1M132.5,86.2l1,0.9M134.5,85.9l1,1M136.5,85.6l1,1M138.4,85.2l1,0.9M140.4,84.9l1,0.9M142.3,84.5l1.1,0.8M144.3,83.8l1.1,1M146.2,84l1.1,1M148.2,83.6l1.1,0.9M150.1,83.1l1.1,1.2M152,83.1l1.1,1.1M153.9,82.9l1.1,0.9"/><path d="M24.4,101.3 26.7,102 28.3,102 31.2,100.8 33.4,100.3 34.2,100.4 37.9,102 40.1,101.6 42.3,101.9 46.6,100.5 49.3,100.8 55.3,98.3 56.9,98.4 57.6,97.5 59.1,94.4 60.3,96.5 61.8,97.4 64.6,96.1 66.2,96.9 67.7,95.5 69.4,95 70.6,93.5 70.9,93.4 71.9,93.4 73.6,94.6 76.4,94.2 79.1,95.4 79.9,95.2 83.4,95.3 92,93.9 94,93.3 109,91.3 112.9,90.4 114.2,90.4 115.4,89.8 118.6,89.7 123.7,88.7 126.2,88.5 128.6,87.9 131.7,87.6 134.2,86.9 136,86.9 142.8,85.5 145,84.6 146.4,85.1 156.9,83.5 159.2,86.1 25,108.5Z" fill="url(#g217)" stroke="url(#g217)" stroke-width="0.7"/><path d="M24.4,101.3 26.7,102 28.3,102 31.2,100.8 33.4,100.3 34.2,100.4 37.9,102 40.1,101.6 42.3,101.9 46.6,100.5 49.3,100.8 55.3,98.3 56.9,98.4 57.6,97.5 59.1,94.4 60.3,96.5 61.8,97.4 64.6,96.1 66.2,96.9 67.7,95.5 69.4,95 70.6,93.5 70.9,93.4 71.9,93.4 73.6,94.6 76.4,94.2 79.1,95.4 79.9,95.2 83.4,95.3 92,93.9 94,93.3 109,91.3 112.9,90.4 114.2,90.4 115.4,89.8 118.6,89.7 123.7,88.7 126.2,88.5 128.6,87.9 131.7,87.6 134.2,86.9 136,86.9 142.8,85.5 145,84.6 146.4,85.1 156.9,83.5" class="m"/><path class="n" d="M26.9,102l0.3,1.3M29.3,101.5l0.4,1.7M31.8,100.6l0.4,2.1M34.2,100.4l0.4,2.4M36.6,101.5l0.4,0.8M39,101.8l0.4,1.6M41.4,101.8l0.4,1.3M43.8,101.3l0.5,1.1M46.2,100.5l0.5,1.3M48.6,100.8l0.5,1M51,100.1l0.5,1.2M53.3,99.1l0.5,1M55.6,98.3l0.5,0.8M58,96.8l0.6,0.9M60.3,96.5l0.6,1.7M62.6,97.1l0.6,1.4M64.9,96.2l0.6,1.8M67.2,95.9l0.6,1.8M69.5,94.9l0.6,1.5M71.7,93.4l0.6,1.8M74,94.7l0.7,1.5M76.2,94.3l0.7,2.1M78.5,95.3l0.7,1M80.7,95.2l0.7,0.8M82.9,95.3l0.7,1M85.1,94.9l0.7,1M87.3,94.6l0.7,0.8M89.5,94.3l0.8,1.2M91.7,94l0.8,1M93.9,93.3l0.8,1.3M96.1,93l0.8,1.2M98.2,92.7l0.8,1.3M100.4,92.4l0.8,1.2M102.5,92.2l0.8,1.1M104.6,91.7l0.8,1.1M106.7,91.4l0.9,1.2M108.8,91.3l0.9,1.1M110.9,90.9l0.9,0.9M113,90.4l0.9,1.3M115.1,89.9l0.9,1.4M117.2,89.8l0.9,1.2M119.3,89.6l0.9,1M121.3,89.2l0.9,0.9M123.4,88.8l1,1.2M125.4,88.6l1,1.1M127.4,88.2l1,1.1M129.5,87.8l1,1.2M131.5,87.6l1,1.1M133.5,87.1l1,1.3M135.5,86.9l1,1.1M137.5,86.6l1,1.2M139.5,86.1l1,1.3M141.4,85.8l1.1,1.3M143.4,85.4l1.1,1.2M145.4,84.8l1.1,1.1M147.3,84.9l1.1,1.1M149.3,84.5l1.1,1.1M151.2,84.3l1.1,1M153.1,84.1l1.1,1.1M155,83.8l1.1,1.1"/><path d="M24.7,103.3 26.2,103.5 27.8,103.1 29.3,103.3 31.6,102.7 34.6,102.8 37.6,102.3 39,103.2 39.7,103.3 40.5,102.8 42.8,103.1 47,101.8 50.1,101.9 50.8,101.7 53,100.3 57.4,98.6 58.7,97.5 59.6,96 60.5,97.6 61.6,98.6 65.2,98 67.3,98.1 71.2,95.4 72.1,95.1 75.7,96.4 78.1,96.4 81,96.1 84.5,96.4 86,95.8 88.6,95.3 90.1,95.5 91.4,95.1 92.8,95.1 96.8,94.2 98.8,94.1 100.1,93.7 102.7,93.5 105.3,92.8 106.7,92.9 111.2,91.8 115.7,91.4 122.1,90.1 124,90.1 142.5,87.1 144.4,86.6 146,85.8 148.2,86.1 158.1,84.5 160.4,87.1 25.4,109.8Z" fill="url(#g218)" stroke="url(#g218)" stroke-width="0.7"/><path d="M24.7,103.3 26.2,103.5 27.8,103.1 29.3,103.3 31.6,102.7 34.6,102.8 37.6,102.3 39,103.2 39.7,103.3 40.5,102.8 42.8,103.1 47,101.8 50.1,101.9 50.8,101.7 53,100.3 57.4,98.6 58.7,97.5 59.6,96 60.5,97.6 61.6,98.6 65.2,98 67.3,98.1 71.2,95.4 72.1,95.1 75.7,96.4 78.1,96.4 81,96.1 84.5,96.4 86,95.8 88.6,95.3 90.1,95.5 91.4,95.1 92.8,95.1 96.8,94.2 98.8,94.1 100.1,93.7 102.7,93.5 105.3,92.8 106.7,92.9 111.2,91.8 115.7,91.4 122.1,90.1 124,90.1 142.5,87.1 144.4,86.6 146,85.8 148.2,86.1 158.1,84.5" class="m"/><path class="n" d="M27.2,103.3l0.3,0.8M29.7,103.2l0.4,0.3M32.1,102.7l0.4,0.6M34.6,102.8l0.4,0.7M37,102.3l0.4,1.9M39.5,103.4l0.4,-0M41.9,103.1l0.5,0.4M44.3,102.5l0.5,1.3M46.7,101.8l0.5,1.2M49.1,101.8l0.5,1.5M51.5,101.3l0.5,1.2M53.8,100l0.5,1.6M56.2,99.2l0.5,1.6M58.5,97.7l0.6,2.3M60.9,98.1l0.6,1.4M63.2,98.4l0.6,1.5M65.5,98l0.6,1.8M67.8,97.8l0.6,1M70.1,96.4l0.6,1.3M72.4,95.1l0.7,1.2M74.7,96.1l0.7,1.3M76.9,96.4l0.7,1.7M79.2,96.3l0.7,1.7M81.4,96.1l0.7,1.7M83.6,96.3l0.7,1.2M85.9,95.9l0.7,1.3M88.1,95.4l0.8,1.6M90.3,95.5l0.8,0.9M92.5,95.1l0.8,0.9M94.7,94.6l0.8,1.2M96.9,94.2l0.8,1.1M99,94l0.8,1.1M101.2,93.6l0.8,1M103.3,93.4l0.8,1.1M105.5,92.8l0.9,1.1M107.6,92.6l0.9,0.8M109.7,92.4l0.9,0.9M111.8,91.8l0.9,1.3M113.9,91.7l0.9,1M116,91.4l0.9,0.9M118.1,91l0.9,0.7M120.2,90.5l0.9,0.9M122.3,90.1l1,1.1M124.3,90l1,1.1M126.4,89.7l1,0.9M128.4,89.3l1,1M130.5,89l1,1.1M132.5,88.7l1,0.9M134.5,88.4l1,1M136.5,88.1l1,0.9M138.5,87.7l1,0.9M140.5,87.4l1.1,1.1M142.5,87.1l1.1,1M144.5,86.6l1.1,1M146.4,85.9l1.1,1.1M148.4,86.1l1.1,0.8M150.3,85.7l1.1,1.1M152.3,85.4l1.1,1.1M154.2,85.2l1.1,1M156.2,84.9l1.1,1"/><path d="M25,105.1 28.1,104 31.9,103.2 35,103.5 38,104.3 41,102.8 43.9,104.2 47.5,102.9 49.9,103.4 56.4,100.7 58.6,100.3 59.3,99.8 60.2,98.1 61.7,99.6 64.4,100 66,99.8 70,98.2 71.9,96.6 72.7,96.3 73.6,96.4 76.2,97.9 78.5,98.2 80.9,97.7 88.1,97.1 92.2,96.1 96.2,95.8 98.2,95.2 99.6,95.2 100.9,94.6 103.6,94.6 106.2,93.9 107.5,93.9 109.5,93 111.4,93.4 117.3,92.2 117.9,92.3 119.8,91.3 121.8,91.6 123,91.2 124.9,91.2 128.1,90.4 130,90.3 138.7,88.7 143.8,88.1 147.1,86.9 147.8,87.1 150.9,86.9 159.2,85.6 161.6,88.1 25.7,111.2Z" fill="url(#g219)" stroke="url(#g219)" stroke-width="0.7"/><path d="M25,105.1 28.1,104 31.9,103.2 35,103.5 38,104.3 41,102.8 43.9,104.2 47.5,102.9 49.9,103.4 56.4,100.7 58.6,100.3 59.3,99.8 60.2,98.1 61.7,99.6 64.4,100 66,99.8 70,98.2 71.9,96.6 72.7,96.3 73.6,96.4 76.2,97.9 78.5,98.2 80.9,97.7 88.1,97.1 92.2,96.1 96.2,95.8 98.2,95.2 99.6,95.2 100.9,94.6 103.6,94.6 106.2,93.9 107.5,93.9 109.5,93 111.4,93.4 117.3,92.2 117.9,92.3 119.8,91.3 121.8,91.6 123,91.2 124.9,91.2 128.1,90.4 130,90.3 138.7,88.7 143.8,88.1 147.1,86.9 147.8,87.1 150.9,86.9 159.2,85.6" class="m"/><path class="n" d="M27.6,104.2l0.4,2.1M30,103.6l0.4,2.5M32.5,103.2l0.4,2.3M35,103.5l0.4,1.5M37.5,104.2l0.4,1.2M39.9,103.4l0.4,2.5M42.3,103.5l0.5,2.3M44.8,103.8l0.5,1M47.2,103l0.5,1.7M49.6,103.3l0.5,1.3M52,102.5l0.5,1.6M54.4,101.6l0.5,2M56.7,100.7l0.6,2.2M59.1,100l0.6,1.4M61.4,99.5l0.6,0.7M63.8,100l0.6,0.7M66.1,99.8l0.6,0.8M68.4,98.8l0.6,1.1M70.7,97.7l0.6,0.8M73,96.3l0.7,1.2M75.3,97.4l0.7,1.2M77.6,98.1l0.7,0.9M79.9,98l0.7,1.3M82.1,97.7l0.7,0.9M84.4,97.5l0.7,1M86.6,97.2l0.7,1.3M88.8,97l0.8,1.1M91.1,96.4l0.8,1.3M93.3,95.9l0.8,1.1M95.5,95.8l0.8,1.1M97.7,95.3l0.8,1.4M99.8,95.1l0.8,1.1M102,94.7l0.8,1.3M104.2,94.5l0.9,1.2M106.3,93.9l0.9,1.4M108.5,93.4l0.9,1.3M110.6,93.2l0.9,1.3M112.7,93.1l0.9,1.2M114.8,92.7l0.9,0.9M117,92.3l0.9,1M119,91.7l0.9,1.3M121.1,91.4l1,1.5M123.2,91.2l1,1M125.3,91.1l1,1M127.4,90.6l1,1.2M129.4,90.4l1,1.1M131.5,90.1l1,1.1M133.5,89.6l1,1.3M135.5,89.3l1,1.2M137.5,89l1.1,1.2M139.6,88.6l1.1,1.2M141.6,88.4l1.1,1.1M143.6,88.1l1.1,1M145.5,87.5l1.1,1.2M147.5,87.1l1.1,1.1M149.5,86.9l1.1,1.3M151.5,86.8l1.1,1M153.4,86.4l1.1,1.1M155.4,86.2l1.1,1M157.3,85.9l1.2,1.1"/><path d="M25.4,106.3 30.8,106 35.4,104.9 39.6,106 41.4,105.6 42.9,105.7 44.7,104.8 50.8,104.6 57.8,102.7 59.3,101.9 60.8,99.4 61.7,100.1 63.5,100.2 65.7,101.3 66.4,100.7 69.5,99.6 72.9,97.5 73.9,97.6 76.6,98.8 79.8,99.2 84.3,98.4 87.5,98.5 90.9,98 93,97.2 97.7,96.9 99.1,96.5 106.4,95.5 109.7,94.5 113.7,94.3 115.6,93.6 116.9,93.8 118.2,93.2 122.1,92.9 124,92.2 129.1,91.7 142.9,89.5 146,88.9 148.2,88 150.8,88.1 160.4,86.6 162.8,89.2 26.1,112.6Z" fill="url(#g220)" stroke="url(#g220)" stroke-width="0.7"/><path d="M25.4,106.3 30.8,106 35.4,104.9 39.6,106 41.4,105.6 42.9,105.7 44.7,104.8 50.8,104.6 57.8,102.7 59.3,101.9 60.8,99.4 61.7,100.1 63.5,100.2 65.7,101.3 66.4,100.7 69.5,99.6 72.9,97.5 73.9,97.6 76.6,98.8 79.8,99.2 84.3,98.4 87.5,98.5 90.9,98 93,97.2 97.7,96.9 99.1,96.5 106.4,95.5 109.7,94.5 113.7,94.3 115.6,93.6 116.9,93.8 118.2,93.2 122.1,92.9 124,92.2 129.1,91.7 142.9,89.5 146,88.9 148.2,88 150.8,88.1 160.4,86.6" class="m"/><path class="n" d="M27.9,106.3l0.4,1M30.4,106l0.4,0.8M32.9,105.5l0.4,1.3M35.4,105l0.4,2M37.9,105.5l0.4,1.5M40.3,105.9l0.4,0.8M42.8,105.8l0.5,0.9M45.2,104.8l0.5,1.9M47.7,104.7l0.5,1.2M50.1,104.6l0.5,1.3M52.5,104.1l0.5,1.4M54.9,103.6l0.5,1.4M57.3,102.9l0.6,1M59.7,101.5l0.6,0.6M62,100.2l0.6,1.1M64.4,100.7l0.6,1.6M66.7,100.6l0.6,0.8M69.1,99.9l0.6,1.5M71.4,98.4l0.7,1.9M73.7,97.5l0.7,1.8M76,98.6l0.7,1.2M78.3,99l0.7,1.4M80.6,99.2l0.7,1.1M82.8,98.7l0.7,1.4M85.1,98.5l0.7,1.5M87.4,98.5l0.8,1M89.6,98.1l0.8,1.1M91.8,97.6l0.8,1.4M94.1,97.1l0.8,1.5M96.3,96.9l0.8,1.1M98.5,96.6l0.8,0.8M100.7,96.2l0.8,1.4M102.9,96l0.9,0.9M105,95.7l0.9,0.8M107.2,95.3l0.9,1.1M109.3,94.6l0.9,1M111.5,94.5l0.9,0.9M113.6,94.3l0.9,1M115.8,93.6l0.9,1.5M117.9,93.3l0.9,1.1M120,93l1,0.8M122.1,92.9l1,0.6M124.2,92.2l1,1.5M126.3,92.1l1,1M128.3,91.9l1,1.1M130.4,91.5l1,1.1M132.5,91.1l1,1.1M134.5,90.8l1,1M136.6,90.5l1.1,1.1M138.6,90.2l1.1,0.9M140.6,89.9l1.1,0.9M142.6,89.5l1.1,1M144.6,89.2l1.1,1M146.6,88.7l1.1,1M148.6,88.2l1.1,1M150.6,88.2l1.1,0.9M152.6,87.8l1.1,1.1M154.6,87.5l1.2,1M156.5,87.2l1.2,1M158.5,87l1.2,1"/><path d="M25.7,107.9 26.5,108 28.8,107 31.9,106.8 36.5,107.1 41.9,106.5 44.9,106.9 48.5,105.8 50.9,105.9 54.6,105.3 59.1,103.1 60.4,101.9 61.4,100.2 62.2,101.1 64.1,101.6 65.6,102.7 67,101.4 70.2,101.3 74.6,99.3 79.9,100.5 85,99.9 86.8,100 88.2,99.5 94.4,98.8 96.5,98 97.9,98.2 99.9,97.3 101.2,97.5 105.3,96.5 108.6,96.4 111.3,95.4 113.9,95.4 117.2,95 121.8,93.5 125,93.7 127.6,93 129.5,92.9 137.7,91.6 140.8,90.8 144.6,90.5 148.2,89.6 149.3,89.1 153.6,88.9 161.6,87.5 164,90.3 26.4,114Z" fill="url(#g221)" stroke="url(#g221)" stroke-width="0.7"/><path d="M25.7,107.9 26.5,108 28.8,107 31.9,106.8 36.5,107.1 41.9,106.5 44.9,106.9 48.5,105.8 50.9,105.9 54.6,105.3 59.1,103.1 60.4,101.9 61.4,100.2 62.2,101.1 64.1,101.6 65.6,102.7 67,101.4 70.2,101.3 74.6,99.3 79.9,100.5 85,99.9 86.8,100 88.2,99.5 94.4,98.8 96.5,98 97.9,98.2 99.9,97.3 101.2,97.5 105.3,96.5 108.6,96.4 111.3,95.4 113.9,95.4 117.2,95 121.8,93.5 125,93.7 127.6,93 129.5,92.9 137.7,91.6 140.8,90.8 144.6,90.5 148.2,89.6 149.3,89.1 153.6,88.9 161.6,87.5" class="m"/><path class="n" d="M28.3,107.3l0.4,1.8M30.8,106.9l0.4,1.7M33.3,106.8l0.4,1.6M35.8,107l0.4,1M38.3,106.9l0.4,1.6M40.8,106.7l0.5,1.6M43.3,106.7l0.5,1.2M45.7,106.7l0.5,0.9M48.2,105.9l0.5,1.5M50.6,106l0.5,1M53,105.5l0.5,1M55.4,105l0.6,0.7M57.8,103.9l0.6,1.4M60.2,102.1l0.6,2M62.6,101.3l0.6,2.2M65,102.3l0.6,1.4M67.3,101.4l0.6,2.1M69.7,101.4l0.7,1.5M72,100.4l0.7,1.2M74.4,99.3l0.7,1.3M76.7,99.8l0.7,1.7M79,100.4l0.7,1.4M81.3,100.4l0.7,0.7M83.6,100.1l0.7,1.3M85.9,99.9l0.8,0.6M88.1,99.5l0.8,1.2M90.4,99.2l0.8,0.5M92.6,99.1l0.8,0.8M94.9,98.6l0.8,1.1M97.1,98l0.8,0.9M99.3,97.5l0.8,1.7M101.5,97.6l0.9,0.8M103.7,96.9l0.9,1.1M105.9,96.5l0.9,1.2M108.1,96.5l0.9,1M110.2,95.7l0.9,1.6M112.4,95.4l0.9,1.6M114.6,95.3l0.9,1.1M116.7,95.1l0.9,0.8M118.8,94.4l1,1M121,93.7l1,1.4M123.1,93.5l1,1.4M125.2,93.7l1,0.8M127.3,93.1l1,1.2M129.4,92.9l1,1.2M131.4,92.6l1,1.1M133.5,92.3l1,1.1M135.6,91.8l1.1,1.3M137.6,91.6l1.1,1M139.7,91.1l1.1,1.3M141.7,90.8l1.1,1.2M143.7,90.6l1.1,1.1M145.7,90.2l1.1,1.2M147.7,89.7l1.1,1.1M149.8,89.1l1.1,1.2M151.7,89l1.1,1.2M153.7,88.9l1.2,1M155.7,88.5l1.2,1.1M157.7,88.3l1.2,1M159.6,87.9l1.2,1"/><path d="M26.1,107.9 29.2,109.1 32.3,108.3 34.3,108.5 36.2,108 38.5,108.6 49,107.4 51.8,106.8 52.9,107 55.1,105.4 57.4,106 58.1,105.4 60.6,104.2 62,102.6 62.5,103.2 63.5,103.6 67.9,103.5 70.5,102.9 73.8,100.9 74.9,100.6 79,101.7 80.6,101.6 82.7,100.8 84.1,101.5 85.8,100.4 89,100.7 91.7,99.5 93.9,100 95.3,99.9 97.3,99 100.7,99.1 103.5,98 111.5,97.2 117.5,95.9 118.8,96 120.1,95.3 129.9,94.2 146.9,91.4 150.5,90.3 152.5,90.4 162.8,88.7 165.2,91.4 26.8,115.4Z" fill="url(#g222)" stroke="url(#g222)" stroke-width="0.7"/><path d="M26.1,107.9 29.2,109.1 32.3,108.3 34.3,108.5 36.2,108 38.5,108.6 49,107.4 51.8,106.8 52.9,107 55.1,105.4 57.4,106 58.1,105.4 60.6,104.2 62,102.6 62.5,103.2 63.5,103.6 67.9,103.5 70.5,102.9 73.8,100.9 74.9,100.6 79,101.7 80.6,101.6 82.7,100.8 84.1,101.5 85.8,100.4 89,100.7 91.7,99.5 93.9,100 95.3,99.9 97.3,99 100.7,99.1 103.5,98 111.5,97.2 117.5,95.9 118.8,96 120.1,95.3 129.9,94.2 146.9,91.4 150.5,90.3 152.5,90.4 162.8,88.7" class="m"/><path class="n" d="M28.6,109l0.4,0.8M31.2,108.6l0.4,1.3M33.7,108.4l0.4,1.4M36.2,108l0.4,1.1M38.7,108.6l0.4,1.5M41.2,108.3l0.5,0.9M43.7,107.9l0.5,0.9M46.2,107.6l0.5,1.6M48.7,107.4l0.5,1.2M51.1,106.9l0.5,1.4M53.6,106.5l0.5,1.4M56,105.6l0.6,1.3M58.4,105.3l0.6,1M60.8,104.1l0.6,1.2M63.2,103.5l0.6,1.3M65.6,103.6l0.6,1.2M68,103.5l0.6,1.3M70.3,102.9l0.7,1M72.7,101.6l0.7,1.1M75,100.6l0.7,0.8M77.4,101.4l0.7,1.3M79.7,101.8l0.7,1M82,101.1l0.7,1.5M84.3,101.4l0.8,1.3M86.6,100.5l0.8,2.1M88.9,100.8l0.8,1.2M91.2,99.7l0.8,2.1M93.4,99.9l0.8,1.4M95.7,99.7l0.8,1.3M97.9,98.9l0.8,1.3M100.1,99.1l0.9,1.1M102.4,98.4l0.9,1.1M104.6,97.9l0.9,1.3M106.8,97.7l0.9,1.4M109,97.4l0.9,1.3M111.2,97.3l0.9,1.1M113.3,97l0.9,1M115.5,96.4l0.9,1.2M117.6,95.9l1,1.5M119.8,95.5l1,1.4M121.9,95.2l1,1.1M124,94.9l1,1.2M126.2,94.5l1,1.3M128.3,94.2l1,1.3M130.4,94.1l1,1.1M132.5,93.6l1,1.3M134.5,93.3l1.1,1.2M136.6,93.1l1.1,1.1M138.7,92.6l1.1,1.2M140.7,92.4l1.1,1M142.8,91.9l1.1,1.2M144.8,91.6l1.1,1.2M146.9,91.4l1.1,1M148.9,90.9l1.1,1.1M150.9,90.4l1.2,1.1M152.9,90.3l1.2,1.1M154.9,89.9l1.2,1.1M156.9,89.6l1.2,1.1M158.9,89.2l1.2,1.2M160.8,88.9l1.2,1.2"/><path d="M26.4,111.1 29.6,109.6 32.7,110.1 36.6,109.1 39.2,110 42.8,108.6 47.4,109.3 49.5,108.4 51.2,108.6 52.7,107.9 53.5,108.2 55.7,106.6 57.2,107.3 57.9,107.2 58.7,106.4 61.2,105.4 62.6,104 63,104.5 63.9,104.9 68.3,104.9 71.5,103.7 72.1,103.9 74.5,101.4 75.9,101.5 78.7,103 83.4,102.5 87,102.6 89.8,102 96.1,101.2 98.1,100.3 100.2,100.4 104.3,99.1 107,99.2 111.8,98.5 119.1,97.3 123.7,96.1 125.7,96.2 128.3,95.8 146.8,92.7 149.9,92 151.6,91.4 154.9,91.3 164,89.6 166.5,92.5 27.1,116.8Z" fill="url(#g223)" stroke="url(#g223)" stroke-width="0.7"/><path d="M26.4,111.1 29.6,109.6 32.7,110.1 36.6,109.1 39.2,110 42.8,108.6 47.4,109.3 49.5,108.4 51.2,108.6 52.7,107.9 53.5,108.2 55.7,106.6 57.2,107.3 57.9,107.2 58.7,106.4 61.2,105.4 62.6,104 63,104.5 63.9,104.9 68.3,104.9 71.5,103.7 72.1,103.9 74.5,101.4 75.9,101.5 78.7,103 83.4,102.5 87,102.6 89.8,102 96.1,101.2 98.1,100.3 100.2,100.4 104.3,99.1 107,99.2 111.8,98.5 119.1,97.3 123.7,96.1 125.7,96.2 128.3,95.8 146.8,92.7 149.9,92 151.6,91.4 154.9,91.3 164,89.6" class="m"/><path class="n" d="M29,109.8l0.4,1.8M31.6,109.9l0.4,0.7M34.1,109.8l0.4,0.3M36.7,109.1l0.4,1.7M39.2,110l0.4,0.5M41.7,109.1l0.5,2.3M44.2,108.8l0.5,2.4M46.7,109.2l0.5,1M49.2,108.6l0.5,1.7M51.7,108.4l0.5,1.4M54.1,107.9l0.6,1.1M56.6,106.9l0.6,1.5M59,106.3l0.6,1.9M61.4,105.3l0.6,1.1M63.8,104.9l0.6,1.1M66.2,104.9l0.6,1.5M68.6,104.8l0.7,1.4M71,103.9l0.7,1.3M73.4,102.7l0.7,1.8M75.7,101.4l0.7,2M78.1,102.7l0.7,0.8M80.4,102.8l0.7,1.3M82.7,102.6l0.7,1.7M85.1,102.6l0.8,1.2M87.4,102.6l0.8,0.9M89.7,102l0.8,1.3M92,101.8l0.8,1.2M94.2,101.3l0.8,1.1M96.5,101l0.8,1M98.7,100.2l0.8,1.7M101,100.2l0.9,1.2M103.2,99.4l0.9,1.4M105.5,99.2l0.9,1.3M107.7,99.1l0.9,1.1M109.9,98.7l0.9,1.2M112.1,98.4l0.9,0.9M114.3,98l0.9,1.2M116.4,97.7l1,1.2M118.6,97.3l1,0.7M120.8,96.8l1,1.1M122.9,96.3l1,1M125,96.1l1,0.9M127.2,95.8l1,1.2M129.3,95.5l1,1.1M131.4,95.2l1,1.1M133.5,94.9l1.1,1M135.6,94.5l1.1,1M137.7,94.1l1.1,1.2M139.8,93.8l1.1,1.1M141.8,93.4l1.1,1.1M143.9,93.1l1.1,1.2M145.9,92.8l1.1,1.1M148,92.4l1.1,0.9M150,92l1.2,1M152,91.5l1.2,1.1M154.1,91.4l1.2,1.1M156.1,91l1.2,1M158.1,90.7l1.2,1M160,90.4l1.2,1.1M162,90.1l1.2,1"/><path d="M26.8,112.3 27.6,112.4 28.4,112.1 33.1,110 33.9,110 36.2,110.5 37.8,111.3 40.2,110.3 42.4,111.4 43.3,110.8 44.8,111.2 46.6,110.1 49.4,110.4 53.2,109.5 56.3,108.4 58.9,108.6 61.5,106.9 63.2,104.8 64.1,105.7 65.2,106.2 69.7,106.3 72.2,105 77,103.4 83.1,104.3 87.3,103.4 89.2,103.6 94.1,102.9 96.2,101.9 99,102 105.2,100.6 111.3,99.9 114.1,99 115.4,99.2 117.4,98.9 119.4,98.1 122.1,97.9 124.7,97.1 128,97.1 144.8,94.3 152.8,92.6 154.8,92.5 165.2,90.9 167.7,93.6 27.5,118.3Z" fill="url(#g224)" stroke="url(#g224)" stroke-width="0.7"/><path d="M26.8,112.3 27.6,112.4 28.4,112.1 33.1,110 33.9,110 36.2,110.5 37.8,111.3 40.2,110.3 42.4,111.4 43.3,110.8 44.8,111.2 46.6,110.1 49.4,110.4 53.2,109.5 56.3,108.4 58.9,108.6 61.5,106.9 63.2,104.8 64.1,105.7 65.2,106.2 69.7,106.3 72.2,105 77,103.4 83.1,104.3 87.3,103.4 89.2,103.6 94.1,102.9 96.2,101.9 99,102 105.2,100.6 111.3,99.9 114.1,99 115.4,99.2 117.4,98.9 119.4,98.1 122.1,97.9 124.7,97.1 128,97.1 144.8,94.3 152.8,92.6 154.8,92.5 165.2,90.9" class="m"/><path class="n" d="M29.4,111.7l0.4,1.7M32,110.6l0.4,2.4M34.5,110.1l0.4,2.7M37.1,110.8l0.4,0.7M39.6,110.5l0.5,1.8M42.2,111.4l0.5,1.2M44.7,111.2l0.5,1.3M47.2,110.2l0.5,2M49.7,110.3l0.5,1.3M52.2,109.7l0.5,1.6M54.7,109l0.6,1.9M57.1,108.5l0.6,1.8M59.6,108.2l0.6,1.1M62,106.4l0.6,1.7M64.5,106l0.6,1.6M66.9,106.3l0.6,1.7M69.3,106.2l0.7,1.4M71.7,105.3l0.7,1.9M74.1,104.5l0.7,1.3M76.4,103.5l0.7,1.6M78.8,103.6l0.7,1.5M81.2,104.1l0.7,0.5M83.5,104.3l0.8,1M85.8,103.9l0.8,1.2M88.1,103.5l0.8,1.3M90.5,103.3l0.8,1.2M92.8,103l0.8,1.4M95,102.4l0.8,1.3M97.3,102l0.8,1.2M99.6,101.9l0.9,0.8M101.9,101.4l0.9,0.6M104.1,100.9l0.9,1.4M106.3,100.5l0.9,1.4M108.6,100.2l0.9,1.3M110.8,99.9l0.9,0.9M113,99.3l0.9,1.2M115.2,99.2l1,1.3M117.4,98.9l1,1M119.6,98.1l1,1.7M121.7,98l1,1.2M123.9,97.3l1,1.4M126.1,97l1,1.6M128.2,97l1,1.1M130.3,96.6l1.1,1.3M132.5,96.3l1.1,0.9M134.6,95.9l1.1,1.1M136.7,95.5l1.1,1.1M138.8,95.3l1.1,0.9M140.9,94.9l1.1,1.2M142.9,94.6l1.1,1.1M145,94.3l1.1,1M147.1,93.9l1.1,1M149.1,93.3l1.2,1.3M151.2,93l1.2,1.3M153.2,92.6l1.2,1.1M155.2,92.5l1.2,1.1M157.2,92l1.2,1.3M159.3,91.7l1.2,1.1M161.3,91.5l1.2,1M163.2,91.1l1.2,1.2"/><path d="M27.1,113.4 28.7,113.8 30.3,113.1 34.5,113.1 37.5,111.5 40.6,112.5 42.2,112.6 48.1,112.2 57.5,110.4 62.1,108.5 63.8,106.7 65.1,107.6 68.3,108.1 69.6,107.6 71.8,107.4 75.9,105.1 79.7,105 82.1,104.5 84.9,105.5 88.1,104.6 90,104.9 91.4,104.5 93.6,104.4 102.6,102 105.4,102.4 106.1,102.1 108.9,101.8 112.3,100.7 114.3,100.4 116.4,100.5 117.7,100 120.4,99.8 125.7,98.6 127.7,98.6 129.1,98.1 131,98 134.3,97 136.3,97.1 139.5,96.2 141.4,96.2 151.7,94.4 154,93.7 157.2,93.5 164.6,92.3 166.5,91.8 169,94.7 27.9,119.8Z" fill="url(#g225)" stroke="url(#g225)" stroke-width="0.7"/><path d="M27.1,113.4 28.7,113.8 30.3,113.1 34.5,113.1 37.5,111.5 40.6,112.5 42.2,112.6 48.1,112.2 57.5,110.4 62.1,108.5 63.8,106.7 65.1,107.6 68.3,108.1 69.6,107.6 71.8,107.4 75.9,105.1 79.7,105 82.1,104.5 84.9,105.5 88.1,104.6 90,104.9 91.4,104.5 93.6,104.4 102.6,102 105.4,102.4 106.1,102.1 108.9,101.8 112.3,100.7 114.3,100.4 116.4,100.5 117.7,100 120.4,99.8 125.7,98.6 127.7,98.6 129.1,98.1 131,98 134.3,97 136.3,97.1 139.5,96.2 141.4,96.2 151.7,94.4 154,93.7 157.2,93.5 164.6,92.3 166.5,91.8" class="m"/><path class="n" d="M29.8,113.4l0.4,1.6M32.4,112.9l0.4,1.9M34.9,112.8l0.4,1.7M37.5,111.5l0.4,2.2M40.1,112.3l0.5,2M42.6,112.6l0.5,1.3M45.2,112.5l0.5,0.8M47.7,112.2l0.5,0.7M50.2,111.6l0.5,0.3M52.7,111.4l0.6,0.7M55.2,110.9l0.6,0.4M57.7,110.3l0.6,1M60.2,109.3l0.6,1.3M62.6,108.1l0.6,1.2M65.1,107.6l0.6,1.6M67.5,108l0.7,1.3M69.9,107.6l0.7,1M72.4,107.1l0.7,1.3M74.8,105.8l0.7,1.3M77.1,105.1l0.7,1.1M79.5,105l0.7,1.8M81.9,104.6l0.8,2.5M84.3,105.4l0.8,0.9M86.6,105.1l0.8,1.4M88.9,104.8l0.8,1.3M91.3,104.5l0.8,1.4M93.6,104.4l0.8,1.3M95.9,103.7l0.8,1.5M98.2,103.2l0.9,1.6M100.5,102.7l0.9,1.7M102.7,102l0.9,1.9M105,102.3l0.9,0.9M107.2,102l0.9,1M109.5,101.6l0.9,1.3M111.7,100.8l0.9,1.6M113.9,100.5l1,1.7M116.2,100.5l1,1.3M118.4,100l1,1.4M120.6,99.8l1,1.2M122.7,99.2l1,1.2M124.9,98.7l1,1.5M127.1,98.6l1,1M129.2,98.1l1.1,0.9M131.4,97.9l1.1,1.2M133.5,97.3l1.1,1.4M135.6,97l1.1,1.2M137.8,96.6l1.1,1.3M139.9,96.2l1.1,1.4M142,96.1l1.1,1.2M144.1,95.7l1.1,1.1M146.1,95.3l1.2,1M148.2,94.9l1.2,1.3M150.3,94.6l1.2,1.1M152.3,94.3l1.2,1.1M154.4,93.7l1.2,1.2M156.4,93.6l1.2,1.1M158.4,93.3l1.2,0.9M160.5,92.8l1.2,1.2M162.5,92.5l1.2,1.2M164.5,92.3l1.3,1"/><path d="M27.5,115.4 29.1,115.3 30.7,114.8 32.9,114.8 35.4,114.5 37.9,113.8 40.3,114.3 41.9,114.3 44.2,113.5 47.6,113.1 51.1,111.9 52,112.6 52.8,112.6 54.3,111.1 57.4,111.4 61.2,110.5 62.9,109.6 64.4,108 65.3,108.9 66.7,109.6 70.3,108.5 72.5,108.7 76.3,106.6 77.5,106.2 79.1,106.4 81.5,107.2 83.2,106.9 85.7,106 87.9,106.7 88.9,106.2 94.4,105.7 100.7,104.5 107,102.9 109.8,103 122.1,100.9 124.1,100.2 126.1,100.2 130.1,99 132.8,99.1 144.5,97 146.4,96.5 150.2,96.1 155.2,94.9 157.2,94.8 159.7,94.2 167.7,93 170.3,95.8 28.3,121.3Z" fill="url(#g226)" stroke="url(#g226)" stroke-width="0.7"/><path d="M27.5,115.4 29.1,115.3 30.7,114.8 32.9,114.8 35.4,114.5 37.9,113.8 40.3,114.3 41.9,114.3 44.2,113.5 47.6,113.1 51.1,111.9 52,112.6 52.8,112.6 54.3,111.1 57.4,111.4 61.2,110.5 62.9,109.6 64.4,108 65.3,108.9 66.7,109.6 70.3,108.5 72.5,108.7 76.3,106.6 77.5,106.2 79.1,106.4 81.5,107.2 83.2,106.9 85.7,106 87.9,106.7 88.9,106.2 94.4,105.7 100.7,104.5 107,102.9 109.8,103 122.1,100.9 124.1,100.2 126.1,100.2 130.1,99 132.8,99.1 144.5,97 146.4,96.5 150.2,96.1 155.2,94.9 157.2,94.8 159.7,94.2 167.7,93" class="m"/><path class="n" d="M30.1,115l0.4,0.8M32.8,114.8l0.4,1.5M35.4,114.5l0.4,1.4M38,113.8l0.5,1.3M40.6,114.3l0.5,0.8M43.1,113.9l0.5,1.8M45.7,113.4l0.5,1.8M48.2,112.9l0.5,2.1M50.8,112l0.5,2.5M53.3,112.1l0.6,2M55.8,111.3l0.6,2.4M58.3,111.3l0.6,1.8M60.8,110.7l0.6,1.6M63.3,109.2l0.6,0.7M65.7,109.2l0.6,0.8M68.2,109.3l0.7,1.7M70.6,108.5l0.7,1.6M73,108.4l0.7,1.4M75.5,107.1l0.7,1.6M77.9,106.2l0.7,0.9M80.3,106.8l0.7,0.1M82.7,107.1l0.8,0.8M85,106.3l0.8,2M87.4,106.5l0.8,1.3M89.7,106.1l0.8,1.4M92.1,105.9l0.8,0.8M94.4,105.7l0.8,1.1M96.7,105.2l0.9,0.8M99,104.8l0.9,1.1M101.3,104.4l0.9,1.2M103.6,103.9l0.9,1.2M105.9,103.2l0.9,1.5M108.2,103l0.9,1.4M110.4,102.9l0.9,1.1M112.7,102.4l1,1.4M114.9,102.1l1,1M117.1,101.8l1,1M119.4,101.4l1,1.3M121.6,101l1,1.2M123.8,100.4l1,1.2M125.9,100.2l1,1.3M128.1,99.6l1.1,1.2M130.3,99l1.1,1.3M132.4,99.1l1.1,1.1M134.6,98.7l1.1,1.2M136.7,98.2l1.1,1.3M138.9,97.9l1.1,1.3M141,97.6l1.1,1.2M143.1,97.3l1.1,1.2M145.2,96.8l1.2,1.3M147.3,96.4l1.2,1.3M149.4,96.1l1.2,1.2M151.5,95.7l1.2,1.2M153.5,95.3l1.2,1.2M155.6,94.9l1.2,1.2M157.6,94.7l1.2,1.1M159.7,94.2l1.2,1.4M161.7,94l1.2,1.2M163.7,93.7l1.3,1.1M165.7,93.3l1.3,1.2"/><path d="M27.9,115.1 33.3,116.4 34.4,115.9 36,116 38.4,115.1 41.6,115.1 43.2,115.7 44.7,115.1 47.1,115.3 56.5,113.7 61.1,112.5 62.7,111.2 65.1,108.5 66.7,110.2 68.9,111 71,110.2 73.2,110.1 77.4,108.2 78.8,107 80.2,106.3 80.6,106.4 82.6,108.6 83.6,107.8 85.5,108.3 86.8,107.7 89.7,107.8 92.5,106.7 94.5,107.1 95.8,106.4 98.8,105.8 100.9,105.9 105.1,104.9 113.5,103.8 117,102.9 123.1,102.2 125.1,101.4 127.2,101.5 131.2,100.4 139.1,99.4 151.4,97.3 156.4,96.1 161,95.5 169,94 171.6,97 28.6,122.8Z" fill="url(#g227)" stroke="url(#g227)" stroke-width="0.7"/><path d="M27.9,115.1 33.3,116.4 34.4,115.9 36,116 38.4,115.1 41.6,115.1 43.2,115.7 44.7,115.1 47.1,115.3 56.5,113.7 61.1,112.5 62.7,111.2 65.1,108.5 66.7,110.2 68.9,111 71,110.2 73.2,110.1 77.4,108.2 78.8,107 80.2,106.3 80.6,106.4 82.6,108.6 83.6,107.8 85.5,108.3 86.8,107.7 89.7,107.8 92.5,106.7 94.5,107.1 95.8,106.4 98.8,105.8 100.9,105.9 105.1,104.9 113.5,103.8 117,102.9 123.1,102.2 125.1,101.4 127.2,101.5 131.2,100.4 139.1,99.4 151.4,97.3 156.4,96.1 161,95.5 169,94" class="m"/><path class="n" d="M30.5,115.8l0.4,2.2M33.2,116.4l0.4,1.1M35.8,116l0.4,1.1M38.4,115.1l0.5,1.8M41,115.1l0.5,2.2M43.6,115.7l0.5,1.5M46.2,115.2l0.5,1.2M48.8,114.9l0.5,0.7M51.3,114.5l0.6,1.5M53.9,114.1l0.6,0.4M56.4,113.7l0.6,0.1M58.9,113.1l0.6,0.5M61.4,112.3l0.6,0.7M63.9,109.9l0.6,2.8M66.4,109.9l0.7,2.2M68.8,111l0.7,1.3M71.3,110.2l0.7,1.4M73.7,109.8l0.7,0.3M76.2,108.8l0.7,1M78.6,107.1l0.7,2.2M81,106.9l0.8,2.7M83.4,107.9l0.8,1.6M85.8,108.3l0.8,0.9M88.2,107.7l0.8,1.2M90.5,107.5l0.8,1.6M92.9,106.7l0.8,1.6M95.3,106.7l0.9,1.3M97.6,106l0.9,1.6M99.9,105.9l0.9,1.2M102.2,105.6l0.9,1.3M104.5,105l0.9,1.2M106.8,104.7l0.9,1.5M109.1,104.4l0.9,1.4M111.4,104l1,1.2M113.6,103.8l1,1.2M115.9,103.1l1,1.4M118.1,102.8l1,1.4M120.4,102.6l1,1.3M122.6,102.1l1,1.1M124.8,101.5l1,1.3M127,101.5l1.1,1.2M129.2,100.8l1.1,1.2M131.4,100.3l1.1,1.5M133.5,100.2l1.1,1.3M135.7,99.9l1.1,1.2M137.8,99.6l1.1,1.1M140,99.2l1.1,1.1M142.1,98.8l1.1,1.2M144.2,98.5l1.2,0.8M146.4,98.1l1.2,1.2M148.5,97.7l1.2,1.1M150.6,97.3l1.2,1.1M152.6,96.9l1.2,1.2M154.7,96.5l1.2,1M156.8,96.1l1.2,0.9M158.9,95.8l1.2,1M160.9,95.6l1.3,1.2M162.9,95.1l1.3,1.1M165,94.8l1.3,1.2M167,94.5l1.3,1.2"/><path d="M28.3,117.5 31.5,118.1 34.8,117 37.2,117.4 38.8,116.9 42.9,117.2 45.2,117 48.7,115.6 52.2,116 55.5,113.9 58.6,113.8 61.7,113 64,112.8 64.8,112.6 65.7,111.3 67.1,112.2 68.6,112.3 71.6,111.8 75,109.9 78.1,109.7 79.5,109.2 81,109.2 82.8,109.9 87.6,109 91.7,109 93.9,108.2 97.5,108 99.6,107.1 102.5,107 106.1,106.2 108,106.2 111.7,105.2 113.8,105.2 121.4,103.9 126.2,102.7 127.5,102.8 129.6,102.1 133.6,101.7 140.2,100.4 142.2,100.2 146.2,99.1 147.5,99.3 148.8,98.7 150.6,98.8 154.6,98 157.6,96.9 162,96.8 170.3,95.3 173,98.2 29,124.4Z" fill="url(#g228)" stroke="url(#g228)" stroke-width="0.7"/><path d="M28.3,117.5 31.5,118.1 34.8,117 37.2,117.4 38.8,116.9 42.9,117.2 45.2,117 48.7,115.6 52.2,116 55.5,113.9 58.6,113.8 61.7,113 64,112.8 64.8,112.6 65.7,111.3 67.1,112.2 68.6,112.3 71.6,111.8 75,109.9 78.1,109.7 79.5,109.2 81,109.2 82.8,109.9 87.6,109 91.7,109 93.9,108.2 97.5,108 99.6,107.1 102.5,107 106.1,106.2 108,106.2 111.7,105.2 113.8,105.2 121.4,103.9 126.2,102.7 127.5,102.8 129.6,102.1 133.6,101.7 140.2,100.4 142.2,100.2 146.2,99.1 147.5,99.3 148.8,98.7 150.6,98.8 154.6,98 157.6,96.9 162,96.8 170.3,95.3" class="m"/><path class="n" d="M30.9,118l0.4,1.4M33.6,117.5l0.4,1.4M36.2,117.1l0.4,1.1M38.9,116.9l0.5,0.8M41.5,117.2l0.5,0.6M44.1,117.1l0.5,0.6M46.7,116.4l0.5,1.8M49.3,115.7l0.5,1.7M51.9,116l0.6,0.9M54.4,114.5l0.6,2.4M57,113.8l0.6,2M59.5,113.6l0.6,1.8M62,113l0.6,2.3M64.5,112.7l0.7,-0.3M67,112.2l0.7,-0.1M69.5,112.2l0.7,1.1M72,111.6l0.7,1.2M74.5,110.1l0.7,2M76.9,109.8l0.7,1.5M79.3,109.2l0.8,0.9M81.8,109.6l0.8,1.6M84.2,109.5l0.8,1.7M86.6,109.2l0.8,0.7M89,109l0.8,0.7M91.4,109.1l0.8,1.1M93.7,108.3l0.9,1.6M96.1,108l0.9,1.4M98.5,107.6l0.9,1.3M100.8,107l0.9,1.3M103.1,106.9l0.9,0.7M105.4,106.3l0.9,1.7M107.7,106.3l0.9,1.3M110,105.8l1,1.3M112.3,105.2l1,1.4M114.6,105l1,1.1M116.9,104.5l1,1.4M119.1,104.3l1,0.9M121.4,103.9l1,0.7M123.6,103.3l1,1.2M125.8,102.8l1.1,1.5M128,102.6l1.1,1.3M130.2,102l1.1,1.3M132.4,101.8l1.1,1M134.6,101.5l1.1,1.3M136.8,101.2l1.1,1.2M139,100.7l1.1,1.2M141.1,100.3l1.2,1.2M143.3,100l1.2,1.2M145.4,99.3l1.2,1.5M147.5,99.3l1.2,1.1M149.6,98.8l1.2,1.2M151.8,98.4l1.2,1.4M153.9,98.1l1.2,1M155.9,97.6l1.2,1.3M158,97l1.2,1.5M160.1,96.8l1.3,1.4M162.2,96.7l1.3,1M164.2,96.3l1.3,1.2M166.3,96l1.3,1.1M168.3,95.7l1.3,1.1"/><path d="M28.6,120.2 29.5,120.2 31.9,119.2 35.2,118.7 38.5,117.7 39.3,117.7 40.6,118.7 40.9,118.7 42.5,117.5 47.4,118.3 49.2,117.5 52.1,116.9 54.5,117.1 59.2,115.3 62.3,115.5 63.9,114.1 66.4,110.8 67.8,112.1 71,113.7 72.3,112.7 73.9,113.2 75.7,111.9 76.9,112.2 78.8,110 80.3,110.2 82.2,111.1 84.1,111.3 85.1,111.2 88.5,109.3 91.3,110.1 94,110.1 100.5,108.7 103.4,107.6 106.3,108 112.7,106.6 114.1,106.6 115.5,106.1 117.6,106 121.7,104.7 127.9,104.2 133.3,102.8 135.4,102.9 150,100.1 153.2,99.7 155.8,99 160.9,98.3 171.6,96.4 174.3,99.4 29.4,126Z" fill="url(#g229)" stroke="url(#g229)" stroke-width="0.7"/><path d="M28.6,120.2 29.5,120.2 31.9,119.2 35.2,118.7 38.5,117.7 39.3,117.7 40.6,118.7 40.9,118.7 42.5,117.5 47.4,118.3 49.2,117.5 52.1,116.9 54.5,117.1 59.2,115.3 62.3,115.5 63.9,114.1 66.4,110.8 67.8,112.1 71,113.7 72.3,112.7 73.9,113.2 75.7,111.9 76.9,112.2 78.8,110 80.3,110.2 82.2,111.1 84.1,111.3 85.1,111.2 88.5,109.3 91.3,110.1 94,110.1 100.5,108.7 103.4,107.6 106.3,108 112.7,106.6 114.1,106.6 115.5,106.1 117.6,106 121.7,104.7 127.9,104.2 133.3,102.8 135.4,102.9 150,100.1 153.2,99.7 155.8,99 160.9,98.3 171.6,96.4" class="m"/><path class="n" d="M31.3,119.5l0.4,1.7M34,118.9l0.4,1.9M36.7,118.2l0.5,1.9M39.3,117.7l0.5,2.2M42,117.9l0.5,0.8M44.6,117.8l0.5,1.3M47.2,118.2l0.5,1.5M49.8,117.3l0.6,1M52.4,116.9l0.6,1.9M55,116.9l0.6,1.1M57.6,115.9l0.6,2M60.1,115.3l0.6,2.2M62.7,115.3l0.6,1.2M65.2,112.4l0.7,2.7M67.7,112.1l0.7,3M70.2,113.3l0.7,1.8M72.7,112.8l0.7,2.1M75.2,112.2l0.7,1.8M77.6,111.3l0.7,2M80.1,110.2l0.8,2.1M82.5,111.2l0.8,1.2M85,111.3l0.8,1.4M87.4,109.9l0.8,2.4M89.8,109.7l0.8,2.2M92.2,110.2l0.8,1.7M94.6,109.9l0.9,0.8M97,109.4l0.9,1.2M99.3,108.9l0.9,1.5M101.7,108.3l0.9,1.8M104,107.6l0.9,2M106.4,108l0.9,1.2M108.7,107.5l1,1.3M111,107.1l1,1.2M113.3,106.6l1,0.9M115.6,106.1l1,1M117.9,105.9l1,0.9M120.1,105.1l1,1.5M122.4,104.6l1,1.6M124.6,104.4l1.1,0.6M126.9,104.3l1.1,1M129.1,104l1.1,1.3M131.3,103.4l1.1,1.5M133.5,102.8l1.1,1.5M135.7,102.8l1.1,1.1M137.9,102.4l1.1,1.3M140.1,101.9l1.2,1.3M142.3,101.5l1.2,1.4M144.4,101.2l1.2,1.3M146.6,100.9l1.2,1.3M148.7,100.5l1.2,1.2M150.8,100l1.2,1.2M153,99.8l1.2,1.2M155.1,99.1l1.2,1.4M157.2,98.8l1.3,1.2M159.3,98.5l1.3,1M161.4,98.3l1.3,1M163.4,97.8l1.3,1.3M165.5,97.5l1.3,1.2M167.6,97.1l1.3,1.3M169.6,96.7l1.3,1.3"/><path d="M29,120.9 32.4,121.3 39,119.8 40.6,120.2 43,118.3 47.1,119.7 47.9,119.7 49.8,118.2 53.5,118.9 56.7,117.6 59.1,117.9 59.8,117.5 61.3,117.4 63,116.5 64.5,116.5 67,113.8 68.7,115.3 72.3,115.1 73.8,114.8 81.1,112.2 82.5,112.2 84.9,112.8 89.7,112 93.4,111.7 95.6,110.7 101.4,110.2 110.8,108.7 113.6,107.7 116.5,107.1 122.8,106.5 125.5,105 128.3,105.3 130.4,105.2 134.5,104.3 135.8,104.3 137.2,103.8 142.6,103.1 151.2,101.3 154.4,100.9 160.1,99.5 164,99.3 173,97.7 175.7,100.6 29.8,127.6Z" fill="url(#g230)" stroke="url(#g230)" stroke-width="0.7"/><path d="M29,120.9 32.4,121.3 39,119.8 40.6,120.2 43,118.3 47.1,119.7 47.9,119.7 49.8,118.2 53.5,118.9 56.7,117.6 59.1,117.9 59.8,117.5 61.3,117.4 63,116.5 64.5,116.5 67,113.8 68.7,115.3 72.3,115.1 73.8,114.8 81.1,112.2 82.5,112.2 84.9,112.8 89.7,112 93.4,111.7 95.6,110.7 101.4,110.2 110.8,108.7 113.6,107.7 116.5,107.1 122.8,106.5 125.5,105 128.3,105.3 130.4,105.2 134.5,104.3 135.8,104.3 137.2,103.8 142.6,103.1 151.2,101.3 154.4,100.9 160.1,99.5 164,99.3 173,97.7" class="m"/><path class="n" d="M31.8,121.2l0.4,1.9M34.5,120.8l0.4,1.8M37.1,120.1l0.5,1.7M39.8,120l0.5,1M42.5,118.7l0.5,1.3M45.1,119l0.5,1.2M47.8,119.8l0.5,0.8M50.4,118.3l0.6,2.3M53,118.8l0.6,-0.1M55.6,118l0.6,0.9M58.2,117.8l0.6,1M60.7,117.5l0.6,1.1M63.3,116.5l0.7,1.9M65.8,115.1l0.7,1.6M68.4,115.1l0.7,1.7M70.9,115.1l0.7,1.4M73.4,114.9l0.7,1.5M75.9,114l0.7,1.4M78.4,113.3l0.8,0.9M80.9,112.2l0.8,1.6M83.3,112.4l0.8,1.2M85.8,112.7l0.8,1.1M88.2,112.3l0.8,1.1M90.6,111.9l0.8,1.6M93.1,111.8l0.9,1.2M95.5,110.7l0.9,2M97.9,110.6l0.9,1.5M100.2,110.4l0.9,1.1M102.6,110l0.9,1.1M105,109.6l0.9,1.5M107.3,109.2l1,1.5M109.6,108.9l1,1.4M112,108.3l1,1.5M114.3,107.6l1,1.6M116.6,107.1l1,1.4M118.9,106.8l1,1.6M121.2,106.6l1,1.4M123.4,106.3l1.1,1.5M125.7,105l1.1,2.3M128,105.3l1.1,1.5M130.2,105.3l1.1,1.2M132.4,104.9l1.1,1.2M134.7,104.3l1.1,1.2M136.9,103.9l1.1,1.3M139.1,103.7l1.2,1.1M141.3,103.2l1.2,1.1M143.4,102.9l1.2,1.1M145.6,102.5l1.2,1.3M147.8,102.2l1.2,1.2M149.9,101.6l1.2,1.2M152.1,101.2l1.2,1.3M154.2,100.9l1.2,1.3M156.3,100.5l1.3,1.3M158.4,100l1.3,1.4M160.5,99.5l1.3,1.4M162.6,99.3l1.3,1.3M164.7,99l1.3,1.3M166.8,98.7l1.3,1.1M168.9,98.4l1.3,1.1M170.9,98l1.3,1.2"/><path d="M29.4,123.2 32,123.1 36.1,122.4 39.4,120.9 40.3,120.9 41.1,121.8 43.5,119.4 46.8,120.7 50.3,120.3 51.3,120.9 54,118.4 57.3,119.2 60.5,118.5 63.6,118.5 65.3,117.7 67.7,115.6 69.3,116.8 70.7,116.5 73.7,116.5 80.4,113.7 81.8,113.9 83.7,113.5 86.8,113.8 89.8,113.1 91.6,113.5 93,113 95.7,112.9 102.4,111.1 105.3,111.2 107.5,110.9 111.8,110.1 117.5,108.5 119.6,108.6 121,108 125.2,107.7 129.4,106.7 130.8,106.7 132.2,106.1 134.2,106 135.6,105.6 143.7,104.1 145.7,104 161.4,100.9 165.9,100.4 168.8,99.6 174.3,98.8 177.1,101.8 30.2,129.2Z" fill="url(#g231)" stroke="url(#g231)" stroke-width="0.7"/><path d="M29.4,123.2 32,123.1 36.1,122.4 39.4,120.9 40.3,120.9 41.1,121.8 43.5,119.4 46.8,120.7 50.3,120.3 51.3,120.9 54,118.4 57.3,119.2 60.5,118.5 63.6,118.5 65.3,117.7 67.7,115.6 69.3,116.8 70.7,116.5 73.7,116.5 80.4,113.7 81.8,113.9 83.7,113.5 86.8,113.8 89.8,113.1 91.6,113.5 93,113 95.7,112.9 102.4,111.1 105.3,111.2 107.5,110.9 111.8,110.1 117.5,108.5 119.6,108.6 121,108 125.2,107.7 129.4,106.7 130.8,106.7 132.2,106.1 134.2,106 135.6,105.6 143.7,104.1 145.7,104 161.4,100.9 165.9,100.4 168.8,99.6 174.3,98.8" class="m"/><path class="n" d="M32.2,123.1l0.4,0.2M34.9,122.6l0.4,1M37.6,121.8l0.5,2M40.3,121l0.5,2.6M43,119.9l0.5,2.7M45.6,120.2l0.5,2.7M48.3,120.6l0.5,1.9M50.9,120.7l0.6,1.6M53.6,118.7l0.6,2.8M56.2,119l0.6,1.9M58.8,118.9l0.6,1.2M61.4,118.5l0.6,1.7M64,118.4l0.7,1M66.5,116.8l0.7,1.9M69.1,116.7l0.7,1.4M71.6,116.5l0.7,1.4M74.1,116.3l0.7,1.5M76.7,115.4l0.8,1M79.2,114.2l0.8,1.8M81.6,113.9l0.8,1.6M84.1,113.6l0.8,2M86.6,113.8l0.8,1.5M89,113.3l0.8,1.7M91.5,113.5l0.9,1.4M93.9,113l0.9,1.1M96.3,112.7l0.9,1.4M98.7,112.2l0.9,1.5M101.1,111.4l0.9,1.6M103.5,111.1l0.9,1.2M105.9,111l1,0.7M108.3,110.7l1,0.5M110.6,110.3l1,0.7M113,109.8l1,1.1M115.3,109.2l1,1.5M117.6,108.5l1,1.7M119.9,108.5l1,1.4M122.2,108l1.1,1.4M124.5,107.8l1.1,1.2M126.8,107.4l1.1,1.2M129,106.8l1.1,1.5M131.3,106.5l1.1,1.3M133.5,106.1l1.1,1.4M135.8,105.5l1.1,1.2M138,105.2l1.2,1.5M140.2,104.8l1.2,1.2M142.4,104.3l1.2,1.5M144.6,104l1.2,1.1M146.8,103.7l1.2,1.2M149,103.4l1.2,1.2M151.1,102.9l1.2,1.4M153.3,102.5l1.3,1.3M155.4,102.2l1.3,1.2M157.6,101.8l1.3,1.2M159.7,101.4l1.3,1.1M161.8,100.9l1.3,1.2M163.9,100.6l1.3,1.3M166,100.3l1.3,1M168.1,99.8l1.3,1.4M170.2,99.4l1.4,1.3M172.3,99.2l1.4,1.3"/><path d="M29.8,124.4 30.7,125 33.2,122.8 36.6,124.2 37.4,123.8 41,123.6 44.1,122.5 45.7,123.3 47.3,122.1 49.8,122.6 53.9,121.5 54.5,121.4 55.5,121.8 57.9,120.1 61.1,120.1 62.7,120.4 64.3,119.5 67,118.9 68.4,117.5 69.4,118.1 74.8,117.9 77.9,116.1 81.2,115.8 83,115.4 85.3,115.7 87.6,115.3 88.8,115.5 90.6,114.7 92.1,115 93.9,114 97.4,114.1 109.1,111.2 115.7,110.8 134.7,107.5 136.7,106.7 139.5,106.6 142.2,105.7 143.6,105.9 144.9,105.2 147,105.2 157,103.4 162.7,102 165.4,101.9 167.4,101.3 175.7,100 177.1,101.8 30.2,129.2Z" fill="url(#g232)" stroke="url(#g232)" stroke-width="0.7"/><path d="M29.8,124.4 30.7,125 33.2,122.8 36.6,124.2 37.4,123.8 41,123.6 44.1,122.5 45.7,123.3 47.3,122.1 49.8,122.6 53.9,121.5 54.5,121.4 55.5,121.8 57.9,120.1 61.1,120.1 62.7,120.4 64.3,119.5 67,118.9 68.4,117.5 69.4,118.1 74.8,117.9 77.9,116.1 81.2,115.8 83,115.4 85.3,115.7 87.6,115.3 88.8,115.5 90.6,114.7 92.1,115 93.9,114 97.4,114.1 109.1,111.2 115.7,110.8 134.7,107.5 136.7,106.7 139.5,106.6 142.2,105.7 143.6,105.9 144.9,105.2 147,105.2 157,103.4 162.7,102 165.4,101.9 167.4,101.3 175.7,100" class="m"/><path class="n" d="M32.6,123.4l0.4,1.9M35.3,123.6l0.5,1.9M38.1,123.8l0.5,1.8M40.8,123.6l0.5,1.1M43.5,122.6l0.5,1.9M46.2,123l0.5,1.7M48.8,122.4l0.6,2.1M51.5,122.2l0.6,1.1M54.2,121.5l0.6,1.5M56.8,120.8l0.6,1.6M59.4,120.1l0.6,2.5M62,120.3l0.7,1.4M64.6,119.4l0.7,1.8M67.2,118.7l0.7,1.4M69.8,118.1l0.7,1.5M72.3,117.9l0.7,1.5M74.9,117.8l0.7,1.3M77.4,116.4l0.8,1.7M79.9,116l0.8,1.4M82.4,115.4l0.8,1.4M84.9,115.6l0.8,1.6M87.4,115.3l0.8,0.9M89.9,115.1l0.9,1.4M92.3,114.9l0.9,1.3M94.8,114.1l0.9,1.6M97.2,114.1l0.9,1.5M99.7,113.6l0.9,1.4M102.1,113l0.9,1.6M104.5,112.4l1,1.9M106.9,111.7l1,1.9M109.2,111.1l1,2.3M111.6,110.9l1,1.4M114,110.9l1,1.1M116.3,110.7l1,1.3M118.6,110.1l1,1.6M121,109.8l1.1,1.1M123.3,109.4l1.1,1.2M125.6,109l1.1,1.5M127.9,108.5l1.1,1.4M130.2,108.3l1.1,0.7M132.4,107.7l1.1,1M134.7,107.5l1.2,1.1M136.9,106.7l1.2,1.7M139.2,106.7l1.2,0.9M141.4,106l1.2,1.5M143.6,105.9l1.2,1.2M145.8,105.1l1.2,1.3M148,104.9l1.2,1.2M150.2,104.6l1.2,1.3M152.4,104.3l1.3,1.3M154.6,103.8l1.3,1.3M156.7,103.4l1.3,1.2M158.9,103l1.3,1.4M161,102.5l1.3,1.4M163.1,102.1l1.3,1.3M165.2,101.9l1.3,1.2M167.4,101.3l1.3,1.5M169.5,101.1l1.4,1.1M171.6,100.7l1.4,1.2M173.6,100.4l1.4,1.2"/><path d="M30.2,124.2 33.7,125.5 34.5,125.6 38.6,125.6 41.2,124.6 42.9,125.1 44.6,124.3 46.2,124.9 47.9,124.1 49.5,124.5 51.5,123.2 53.6,123.7 55.1,122.7 58.5,122.3 60.1,122.6 61.8,121.8 65.8,121.1 67.7,120.2 69.1,119 70.1,119.5 71.3,119.6 75.3,119 76,119.2 76.8,119 78.7,117.7 83,116.8 84.9,116.8 85.9,117.2 88.4,116.2 91.8,116.6 94.8,115.7 98.3,115.7 101.2,114.8 105,114.4 107.2,113.7 110.1,113.5 113.8,111.9 119.6,111.8 122.4,110.7 126.7,110.5 131.6,108.9 137.9,108.4 140.7,107.5 143.4,107.4 146.8,106.5 150.9,106.1 152.2,105.6 160.9,104.2 164,103.4 165.5,103.3 177.1,101.3 177.1,101.8 30.2,129.2Z" fill="url(#g233)" stroke="url(#g233)" stroke-width="0.7"/><path d="M30.2,124.2 33.7,125.5 34.5,125.6 38.6,125.6 41.2,124.6 42.9,125.1 44.6,124.3 46.2,124.9 47.9,124.1 49.5,124.5 51.5,123.2 53.6,123.7 55.1,122.7 58.5,122.3 60.1,122.6 61.8,121.8 65.8,121.1 67.7,120.2 69.1,119 70.1,119.5 71.3,119.6 75.3,119 76,119.2 76.8,119 78.7,117.7 83,116.8 84.9,116.8 85.9,117.2 88.4,116.2 91.8,116.6 94.8,115.7 98.3,115.7 101.2,114.8 105,114.4 107.2,113.7 110.1,113.5 113.8,111.9 119.6,111.8 122.4,110.7 126.7,110.5 131.6,108.9 137.9,108.4 140.7,107.5 143.4,107.4 146.8,106.5 150.9,106.1 152.2,105.6 160.9,104.2 164,103.4 165.5,103.3 177.1,101.3" class="m"/><path d="M19.5,78.4 19.8,79.5 20,81.3 20.3,80 20.6,83.4 20.8,84.6 21.1,86.1 21.4,87.8 21.7,88.7 21.9,91.3 22.2,92 22.5,93.5 22.8,95.3 23.1,95.9 23.4,96.9 23.8,99.3 24.1,100 24.4,101.3 24.7,103.3 25,105.1 25.4,106.3 25.7,107.9 26.1,107.9 26.4,111.1 26.8,112.3 27.1,113.4 27.5,115.4 27.9,115.1 28.3,117.5 28.6,120.2 29,120.9 29.4,123.2 29.8,124.4 30.2,124.2" fill="none" stroke="#c41414" stroke-width="0.8" stroke-opacity="0.8"/><path d="M139.6,68.3 140.5,69 141.5,69.8 142.4,70.7 143.4,71.7 144.3,72.4 145.3,73.4 146.3,74.3 147.3,75.1 148.3,76 149.4,76.7 150.4,77.8 151.5,78.8 152.5,79.6 153.6,80.7 154.7,81.4 155.8,82.6 156.9,83.5 158.1,84.5 159.2,85.6 160.4,86.6 161.6,87.5 162.8,88.7 164,89.6 165.2,90.9 166.5,91.8 167.7,93 169,94 170.3,95.3 171.6,96.4 173,97.7 174.3,98.8 175.7,100 177.1,101.3" fill="none" stroke="#8a2488" stroke-width="0.9" stroke-opacity="0.85"/></svg>
<svg class="ov pl" style="left:329px;top:179px" width="194" height="139" viewBox="0 0 194 139"><path d="M29.8,132.2L188.3,101.5" stroke="#c8c8c8" stroke-width="0.7" fill="none"/><path d="M10.5,86.9L20.6,132.8" stroke="#c8c8c8" stroke-width="0.7" fill="none"/><rect x="30.5" y="134.7" width="4" height="1.8" rx="0.6" fill="#969696"/><rect x="51.5" y="130.9" width="4" height="1.8" rx="0.6" fill="#969696"/><rect x="73.1" y="126.8" width="4" height="1.8" rx="0.6" fill="#969696"/><rect x="92.7" y="123.1" width="4" height="1.8" rx="0.6" fill="#969696"/><rect x="114.1" y="119.3" width="4" height="1.8" rx="0.6" fill="#969696"/><rect x="132.0" y="115.8" width="4" height="1.8" rx="0.6" fill="#969696"/><rect x="151.4" y="112.0" width="4" height="1.8" rx="0.6" fill="#969696"/><rect x="167.7" y="109.1" width="4" height="1.8" rx="0.6" fill="#969696"/><rect x="185.7" y="105.6" width="4" height="1.8" rx="0.6" fill="#969696"/><rect x="3.7" y="88.1" width="2.4" height="1.8" rx="0.6" fill="#969696"/><rect x="6.5" y="92.3" width="4.0" height="1.8" rx="0.6" fill="#969696"/><rect x="7.4" y="97.6" width="4.0" height="1.8" rx="0.6" fill="#969696"/><rect x="8.9" y="102.3" width="4.0" height="1.8" rx="0.6" fill="#969696"/><rect x="9.7" y="107.9" width="4.0" height="1.8" rx="0.6" fill="#969696"/><rect x="10.5" y="113.4" width="4.0" height="1.8" rx="0.6" fill="#969696"/><rect x="11.7" y="120.1" width="4.0" height="1.8" rx="0.6" fill="#969696"/><rect x="13.0" y="126.3" width="4.0" height="1.8" rx="0.6" fill="#969696"/><rect x="11.8" y="133.5" width="4.0" height="1.8" rx="0.6" fill="#969696"/><defs><linearGradient id="g30" gradientUnits="userSpaceOnUse" x1="18.0" x2="141.7" y1="0" y2="0"><stop offset="-0.040" stop-color="#d61e16"/><stop offset="0.043" stop-color="#ea4e1c"/><stop offset="0.114" stop-color="#f28c22"/><stop offset="0.178" stop-color="#f2d422"/><stop offset="0.219" stop-color="#f2e224"/><stop offset="0.270" stop-color="#e2e428"/><stop offset="0.320" stop-color="#b0d030"/><stop offset="0.375" stop-color="#64b632"/><stop offset="0.418" stop-color="#28a22a"/><stop offset="0.523" stop-color="#22a064"/><stop offset="0.625" stop-color="#30b8d0"/><stop offset="0.704" stop-color="#24b4e8"/><stop offset="0.743" stop-color="#2896dc"/><stop offset="0.771" stop-color="#1c48b0"/><stop offset="0.837" stop-color="#2c30a0"/><stop offset="0.911" stop-color="#6434a2"/><stop offset="1.000" stop-color="#983a98"/></linearGradient><linearGradient id="g31" gradientUnits="userSpaceOnUse" x1="18.3" x2="142.7" y1="0" y2="0"><stop offset="-0.041" stop-color="#d61e16"/><stop offset="0.041" stop-color="#ea4e1c"/><stop offset="0.113" stop-color="#f28c22"/><stop offset="0.177" stop-color="#f2d422"/><stop offset="0.217" stop-color="#f2e224"/><stop offset="0.268" stop-color="#e2e428"/><stop offset="0.319" stop-color="#b0d030"/><stop offset="0.374" stop-color="#64b632"/><stop offset="0.417" stop-color="#28a22a"/><stop offset="0.522" stop-color="#22a064"/><stop offset="0.624" stop-color="#30b8d0"/><stop offset="0.703" stop-color="#24b4e8"/><stop offset="0.742" stop-color="#2896dc"/><stop offset="0.770" stop-color="#1c48b0"/><stop offset="0.836" stop-color="#2c30a0"/><stop offset="0.910" stop-color="#6434a2"/><stop offset="0.999" stop-color="#983a98"/></linearGradient><linearGradient id="g32" gradientUnits="userSpaceOnUse" x1="18.6" x2="143.6" y1="0" y2="0"><stop offset="-0.043" stop-color="#d61e16"/><stop offset="0.040" stop-color="#ea4e1c"/><stop offset="0.111" stop-color="#f28c22"/><stop offset="0.176" stop-color="#f2d422"/><stop offset="0.216" stop-color="#f2e224"/><stop offset="0.267" stop-color="#e2e428"/><stop offset="0.318" stop-color="#b0d030"/><stop offset="0.372" stop-color="#64b632"/><stop offset="0.416" stop-color="#28a22a"/><stop offset="0.521" stop-color="#22a064"/><stop offset="0.623" stop-color="#30b8d0"/><stop offset="0.702" stop-color="#24b4e8"/><stop offset="0.741" stop-color="#2896dc"/><stop offset="0.769" stop-color="#1c48b0"/><stop offset="0.835" stop-color="#2c30a0"/><stop offset="0.909" stop-color="#6434a2"/><stop offset="0.998" stop-color="#983a98"/></linearGradient><linearGradient id="g33" gradientUnits="userSpaceOnUse" x1="18.8" x2="144.6" y1="0" y2="0"><stop offset="-0.044" stop-color="#d61e16"/><stop offset="0.038" stop-color="#ea4e1c"/><stop offset="0.110" stop-color="#f28c22"/><stop offset="0.175" stop-color="#f2d422"/><stop offset="0.215" stop-color="#f2e224"/><stop offset="0.266" stop-color="#e2e428"/><stop offset="0.316" stop-color="#b0d030"/><stop offset="0.371" stop-color="#64b632"/><stop offset="0.415" stop-color="#28a22a"/><stop offset="0.520" stop-color="#22a064"/><stop offset="0.622" stop-color="#30b8d0"/><stop offset="0.701" stop-color="#24b4e8"/><stop offset="0.740" stop-color="#2896dc"/><stop offset="0.768" stop-color="#1c48b0"/><stop offset="0.834" stop-color="#2c30a0"/><stop offset="0.908" stop-color="#6434a2"/><stop offset="0.997" stop-color="#983a98"/></linearGradient><linearGradient id="g34" gradientUnits="userSpaceOnUse" x1="19.1" x2="145.6" y1="0" y2="0"><stop offset="-0.046" stop-color="#d61e16"/><stop offset="0.037" stop-color="#ea4e1c"/><stop offset="0.109" stop-color="#f28c22"/><stop offset="0.173" stop-color="#f2d422"/><stop offset="0.214" stop-color="#f2e224"/><stop offset="0.265" stop-color="#e2e428"/><stop offset="0.315" stop-color="#b0d030"/><stop offset="0.370" stop-color="#64b632"/><stop offset="0.413" stop-color="#28a22a"/><stop offset="0.519" stop-color="#22a064"/><stop offset="0.621" stop-color="#30b8d0"/><stop offset="0.700" stop-color="#24b4e8"/><stop offset="0.739" stop-color="#2896dc"/><stop offset="0.767" stop-color="#1c48b0"/><stop offset="0.833" stop-color="#2c30a0"/><stop offset="0.907" stop-color="#6434a2"/><stop offset="0.996" stop-color="#983a98"/></linearGradient><linearGradient id="g35" gradientUnits="userSpaceOnUse" x1="19.4" x2="146.6" y1="0" y2="0"><stop offset="-0.047" stop-color="#d61e16"/><stop offset="0.035" stop-color="#ea4e1c"/><stop offset="0.107" stop-color="#f28c22"/><stop offset="0.172" stop-color="#f2d422"/><stop offset="0.212" stop-color="#f2e224"/><stop offset="0.264" stop-color="#e2e428"/><stop offset="0.314" stop-color="#b0d030"/><stop offset="0.369" stop-color="#64b632"/><stop offset="0.412" stop-color="#28a22a"/><stop offset="0.518" stop-color="#22a064"/><stop offset="0.620" stop-color="#30b8d0"/><stop offset="0.699" stop-color="#24b4e8"/><stop offset="0.738" stop-color="#2896dc"/><stop offset="0.766" stop-color="#1c48b0"/><stop offset="0.832" stop-color="#2c30a0"/><stop offset="0.906" stop-color="#6434a2"/><stop offset="0.995" stop-color="#983a98"/></linearGradient><linearGradient id="g36" gradientUnits="userSpaceOnUse" x1="19.7" x2="147.6" y1="0" y2="0"><stop offset="-0.049" stop-color="#d61e16"/><stop offset="0.034" stop-color="#ea4e1c"/><stop offset="0.106" stop-color="#f28c22"/><stop offset="0.171" stop-color="#f2d422"/><stop offset="0.211" stop-color="#f2e224"/><stop offset="0.262" stop-color="#e2e428"/><stop offset="0.313" stop-color="#b0d030"/><stop offset="0.368" stop-color="#64b632"/><stop offset="0.411" stop-color="#28a22a"/><stop offset="0.517" stop-color="#22a064"/><stop offset="0.619" stop-color="#30b8d0"/><stop offset="0.698" stop-color="#24b4e8"/><stop offset="0.737" stop-color="#2896dc"/><stop offset="0.765" stop-color="#1c48b0"/><stop offset="0.831" stop-color="#2c30a0"/><stop offset="0.905" stop-color="#6434a2"/><stop offset="0.994" stop-color="#983a98"/></linearGradient><linearGradient id="g37" gradientUnits="userSpaceOnUse" x1="20.0" x2="148.6" y1="0" y2="0"><stop offset="-0.050" stop-color="#d61e16"/><stop offset="0.032" stop-color="#ea4e1c"/><stop offset="0.105" stop-color="#f28c22"/><stop offset="0.169" stop-color="#f2d422"/><stop offset="0.210" stop-color="#f2e224"/><stop offset="0.261" stop-color="#e2e428"/><stop offset="0.312" stop-color="#b0d030"/><stop offset="0.367" stop-color="#64b632"/><stop offset="0.410" stop-color="#28a22a"/><stop offset="0.516" stop-color="#22a064"/><stop offset="0.618" stop-color="#30b8d0"/><stop offset="0.697" stop-color="#24b4e8"/><stop offset="0.736" stop-color="#2896dc"/><stop offset="0.764" stop-color="#1c48b0"/><stop offset="0.830" stop-color="#2c30a0"/><stop offset="0.904" stop-color="#6434a2"/><stop offset="0.993" stop-color="#983a98"/></linearGradient><linearGradient id="g38" gradientUnits="userSpaceOnUse" x1="20.3" x2="149.6" y1="0" y2="0"><stop offset="-0.052" stop-color="#d61e16"/><stop offset="0.031" stop-color="#ea4e1c"/><stop offset="0.103" stop-color="#f28c22"/><stop offset="0.168" stop-color="#f2d422"/><stop offset="0.209" stop-color="#f2e224"/><stop offset="0.260" stop-color="#e2e428"/><stop offset="0.311" stop-color="#b0d030"/><stop offset="0.366" stop-color="#64b632"/><stop offset="0.409" stop-color="#28a22a"/><stop offset="0.515" stop-color="#22a064"/><stop offset="0.617" stop-color="#30b8d0"/><stop offset="0.696" stop-color="#24b4e8"/><stop offset="0.735" stop-color="#2896dc"/><stop offset="0.763" stop-color="#1c48b0"/><stop offset="0.829" stop-color="#2c30a0"/><stop offset="0.902" stop-color="#6434a2"/><stop offset="0.992" stop-color="#983a98"/></linearGradient><linearGradient id="g39" gradientUnits="userSpaceOnUse" x1="20.6" x2="150.7" y1="0" y2="0"><stop offset="-0.053" stop-color="#d61e16"/><stop offset="0.030" stop-color="#ea4e1c"/><stop offset="0.102" stop-color="#f28c22"/><stop offset="0.167" stop-color="#f2d422"/><stop offset="0.207" stop-color="#f2e224"/><stop offset="0.259" stop-color="#e2e428"/><stop offset="0.309" stop-color="#b0d030"/><stop offset="0.365" stop-color="#64b632"/><stop offset="0.408" stop-color="#28a22a"/><stop offset="0.514" stop-color="#22a064"/><stop offset="0.616" stop-color="#30b8d0"/><stop offset="0.695" stop-color="#24b4e8"/><stop offset="0.734" stop-color="#2896dc"/><stop offset="0.762" stop-color="#1c48b0"/><stop offset="0.828" stop-color="#2c30a0"/><stop offset="0.901" stop-color="#6434a2"/><stop offset="0.990" stop-color="#983a98"/></linearGradient><linearGradient id="g310" gradientUnits="userSpaceOnUse" x1="20.9" x2="151.7" y1="0" y2="0"><stop offset="-0.054" stop-color="#d61e16"/><stop offset="0.028" stop-color="#ea4e1c"/><stop offset="0.101" stop-color="#f28c22"/><stop offset="0.166" stop-color="#f2d422"/><stop offset="0.206" stop-color="#f2e224"/><stop offset="0.258" stop-color="#e2e428"/><stop offset="0.308" stop-color="#b0d030"/><stop offset="0.363" stop-color="#64b632"/><stop offset="0.407" stop-color="#28a22a"/><stop offset="0.513" stop-color="#22a064"/><stop offset="0.615" stop-color="#30b8d0"/><stop offset="0.694" stop-color="#24b4e8"/><stop offset="0.733" stop-color="#2896dc"/><stop offset="0.761" stop-color="#1c48b0"/><stop offset="0.827" stop-color="#2c30a0"/><stop offset="0.900" stop-color="#6434a2"/><stop offset="0.989" stop-color="#983a98"/></linearGradient><linearGradient id="g311" gradientUnits="userSpaceOnUse" x1="21.2" x2="152.8" y1="0" y2="0"><stop offset="-0.056" stop-color="#d61e16"/><stop offset="0.027" stop-color="#ea4e1c"/><stop offset="0.099" stop-color="#f28c22"/><stop offset="0.164" stop-color="#f2d422"/><stop offset="0.205" stop-color="#f2e224"/><stop offset="0.256" stop-color="#e2e428"/><stop offset="0.307" stop-color="#b0d030"/><stop offset="0.362" stop-color="#64b632"/><stop offset="0.406" stop-color="#28a22a"/><stop offset="0.512" stop-color="#22a064"/><stop offset="0.614" stop-color="#30b8d0"/><stop offset="0.693" stop-color="#24b4e8"/><stop offset="0.732" stop-color="#2896dc"/><stop offset="0.760" stop-color="#1c48b0"/><stop offset="0.826" stop-color="#2c30a0"/><stop offset="0.899" stop-color="#6434a2"/><stop offset="0.988" stop-color="#983a98"/></linearGradient><linearGradient id="g312" gradientUnits="userSpaceOnUse" x1="21.6" x2="153.9" y1="0" y2="0"><stop offset="-0.057" stop-color="#d61e16"/><stop offset="0.025" stop-color="#ea4e1c"/><stop offset="0.098" stop-color="#f28c22"/><stop offset="0.163" stop-color="#f2d422"/><stop offset="0.204" stop-color="#f2e224"/><stop offset="0.255" stop-color="#e2e428"/><stop offset="0.306" stop-color="#b0d030"/><stop offset="0.361" stop-color="#64b632"/><stop offset="0.405" stop-color="#28a22a"/><stop offset="0.511" stop-color="#22a064"/><stop offset="0.613" stop-color="#30b8d0"/><stop offset="0.692" stop-color="#24b4e8"/><stop offset="0.731" stop-color="#2896dc"/><stop offset="0.759" stop-color="#1c48b0"/><stop offset="0.825" stop-color="#2c30a0"/><stop offset="0.898" stop-color="#6434a2"/><stop offset="0.987" stop-color="#983a98"/></linearGradient><linearGradient id="g313" gradientUnits="userSpaceOnUse" x1="21.9" x2="155.0" y1="0" y2="0"><stop offset="-0.059" stop-color="#d61e16"/><stop offset="0.024" stop-color="#ea4e1c"/><stop offset="0.096" stop-color="#f28c22"/><stop offset="0.162" stop-color="#f2d422"/><stop offset="0.202" stop-color="#f2e224"/><stop offset="0.254" stop-color="#e2e428"/><stop offset="0.305" stop-color="#b0d030"/><stop offset="0.360" stop-color="#64b632"/><stop offset="0.404" stop-color="#28a22a"/><stop offset="0.510" stop-color="#22a064"/><stop offset="0.612" stop-color="#30b8d0"/><stop offset="0.691" stop-color="#24b4e8"/><stop offset="0.730" stop-color="#2896dc"/><stop offset="0.758" stop-color="#1c48b0"/><stop offset="0.824" stop-color="#2c30a0"/><stop offset="0.897" stop-color="#6434a2"/><stop offset="0.986" stop-color="#983a98"/></linearGradient><linearGradient id="g314" gradientUnits="userSpaceOnUse" x1="22.2" x2="156.1" y1="0" y2="0"><stop offset="-0.060" stop-color="#d61e16"/><stop offset="0.022" stop-color="#ea4e1c"/><stop offset="0.095" stop-color="#f28c22"/><stop offset="0.160" stop-color="#f2d422"/><stop offset="0.201" stop-color="#f2e224"/><stop offset="0.253" stop-color="#e2e428"/><stop offset="0.304" stop-color="#b0d030"/><stop offset="0.359" stop-color="#64b632"/><stop offset="0.402" stop-color="#28a22a"/><stop offset="0.509" stop-color="#22a064"/><stop offset="0.611" stop-color="#30b8d0"/><stop offset="0.690" stop-color="#24b4e8"/><stop offset="0.729" stop-color="#2896dc"/><stop offset="0.757" stop-color="#1c48b0"/><stop offset="0.823" stop-color="#2c30a0"/><stop offset="0.896" stop-color="#6434a2"/><stop offset="0.985" stop-color="#983a98"/></linearGradient><linearGradient id="g315" gradientUnits="userSpaceOnUse" x1="22.6" x2="157.2" y1="0" y2="0"><stop offset="-0.062" stop-color="#d61e16"/><stop offset="0.021" stop-color="#ea4e1c"/><stop offset="0.094" stop-color="#f28c22"/><stop offset="0.159" stop-color="#f2d422"/><stop offset="0.200" stop-color="#f2e224"/><stop offset="0.252" stop-color="#e2e428"/><stop offset="0.302" stop-color="#b0d030"/><stop offset="0.358" stop-color="#64b632"/><stop offset="0.401" stop-color="#28a22a"/><stop offset="0.508" stop-color="#22a064"/><stop offset="0.610" stop-color="#30b8d0"/><stop offset="0.689" stop-color="#24b4e8"/><stop offset="0.728" stop-color="#2896dc"/><stop offset="0.756" stop-color="#1c48b0"/><stop offset="0.822" stop-color="#2c30a0"/><stop offset="0.895" stop-color="#6434a2"/><stop offset="0.984" stop-color="#983a98"/></linearGradient><linearGradient id="g316" gradientUnits="userSpaceOnUse" x1="22.9" x2="158.3" y1="0" y2="0"><stop offset="-0.063" stop-color="#d61e16"/><stop offset="0.019" stop-color="#ea4e1c"/><stop offset="0.092" stop-color="#f28c22"/><stop offset="0.158" stop-color="#f2d422"/><stop offset="0.199" stop-color="#f2e224"/><stop offset="0.250" stop-color="#e2e428"/><stop offset="0.301" stop-color="#b0d030"/><stop offset="0.357" stop-color="#64b632"/><stop offset="0.400" stop-color="#28a22a"/><stop offset="0.506" stop-color="#22a064"/><stop offset="0.609" stop-color="#30b8d0"/><stop offset="0.688" stop-color="#24b4e8"/><stop offset="0.727" stop-color="#2896dc"/><stop offset="0.755" stop-color="#1c48b0"/><stop offset="0.821" stop-color="#2c30a0"/><stop offset="0.894" stop-color="#6434a2"/><stop offset="0.983" stop-color="#983a98"/></linearGradient><linearGradient id="g317" gradientUnits="userSpaceOnUse" x1="23.2" x2="159.5" y1="0" y2="0"><stop offset="-0.065" stop-color="#d61e16"/><stop offset="0.018" stop-color="#ea4e1c"/><stop offset="0.091" stop-color="#f28c22"/><stop offset="0.156" stop-color="#f2d422"/><stop offset="0.197" stop-color="#f2e224"/><stop offset="0.249" stop-color="#e2e428"/><stop offset="0.300" stop-color="#b0d030"/><stop offset="0.356" stop-color="#64b632"/><stop offset="0.399" stop-color="#28a22a"/><stop offset="0.505" stop-color="#22a064"/><stop offset="0.608" stop-color="#30b8d0"/><stop offset="0.687" stop-color="#24b4e8"/><stop offset="0.726" stop-color="#2896dc"/><stop offset="0.754" stop-color="#1c48b0"/><stop offset="0.820" stop-color="#2c30a0"/><stop offset="0.893" stop-color="#6434a2"/><stop offset="0.982" stop-color="#983a98"/></linearGradient><linearGradient id="g318" gradientUnits="userSpaceOnUse" x1="23.6" x2="160.7" y1="0" y2="0"><stop offset="-0.066" stop-color="#d61e16"/><stop offset="0.016" stop-color="#ea4e1c"/><stop offset="0.090" stop-color="#f28c22"/><stop offset="0.155" stop-color="#f2d422"/><stop offset="0.196" stop-color="#f2e224"/><stop offset="0.248" stop-color="#e2e428"/><stop offset="0.299" stop-color="#b0d030"/><stop offset="0.355" stop-color="#64b632"/><stop offset="0.398" stop-color="#28a22a"/><stop offset="0.504" stop-color="#22a064"/><stop offset="0.607" stop-color="#30b8d0"/><stop offset="0.686" stop-color="#24b4e8"/><stop offset="0.725" stop-color="#2896dc"/><stop offset="0.753" stop-color="#1c48b0"/><stop offset="0.819" stop-color="#2c30a0"/><stop offset="0.892" stop-color="#6434a2"/><stop offset="0.981" stop-color="#983a98"/></linearGradient><linearGradient id="g319" gradientUnits="userSpaceOnUse" x1="23.9" x2="161.8" y1="0" y2="0"><stop offset="-0.068" stop-color="#d61e16"/><stop offset="0.015" stop-color="#ea4e1c"/><stop offset="0.088" stop-color="#f28c22"/><stop offset="0.154" stop-color="#f2d422"/><stop offset="0.195" stop-color="#f2e224"/><stop offset="0.247" stop-color="#e2e428"/><stop offset="0.298" stop-color="#b0d030"/><stop offset="0.353" stop-color="#64b632"/><stop offset="0.397" stop-color="#28a22a"/><stop offset="0.503" stop-color="#22a064"/><stop offset="0.606" stop-color="#30b8d0"/><stop offset="0.685" stop-color="#24b4e8"/><stop offset="0.724" stop-color="#2896dc"/><stop offset="0.752" stop-color="#1c48b0"/><stop offset="0.818" stop-color="#2c30a0"/><stop offset="0.891" stop-color="#6434a2"/><stop offset="0.980" stop-color="#983a98"/></linearGradient><linearGradient id="g320" gradientUnits="userSpaceOnUse" x1="24.3" x2="163.0" y1="0" y2="0"><stop offset="-0.069" stop-color="#d61e16"/><stop offset="0.013" stop-color="#ea4e1c"/><stop offset="0.087" stop-color="#f28c22"/><stop offset="0.153" stop-color="#f2d422"/><stop offset="0.194" stop-color="#f2e224"/><stop offset="0.246" stop-color="#e2e428"/><stop offset="0.297" stop-color="#b0d030"/><stop offset="0.352" stop-color="#64b632"/><stop offset="0.396" stop-color="#28a22a"/><stop offset="0.502" stop-color="#22a064"/><stop offset="0.605" stop-color="#30b8d0"/><stop offset="0.684" stop-color="#24b4e8"/><stop offset="0.723" stop-color="#2896dc"/><stop offset="0.751" stop-color="#1c48b0"/><stop offset="0.817" stop-color="#2c30a0"/><stop offset="0.890" stop-color="#6434a2"/><stop offset="0.979" stop-color="#983a98"/></linearGradient><linearGradient id="g321" gradientUnits="userSpaceOnUse" x1="24.7" x2="164.2" y1="0" y2="0"><stop offset="-0.071" stop-color="#d61e16"/><stop offset="0.012" stop-color="#ea4e1c"/><stop offset="0.085" stop-color="#f28c22"/><stop offset="0.151" stop-color="#f2d422"/><stop offset="0.192" stop-color="#f2e224"/><stop offset="0.244" stop-color="#e2e428"/><stop offset="0.296" stop-color="#b0d030"/><stop offset="0.351" stop-color="#64b632"/><stop offset="0.395" stop-color="#28a22a"/><stop offset="0.501" stop-color="#22a064"/><stop offset="0.604" stop-color="#30b8d0"/><stop offset="0.683" stop-color="#24b4e8"/><stop offset="0.722" stop-color="#2896dc"/><stop offset="0.751" stop-color="#1c48b0"/><stop offset="0.816" stop-color="#2c30a0"/><stop offset="0.889" stop-color="#6434a2"/><stop offset="0.978" stop-color="#983a98"/></linearGradient><linearGradient id="g322" gradientUnits="userSpaceOnUse" x1="25.0" x2="165.5" y1="0" y2="0"><stop offset="-0.072" stop-color="#d61e16"/><stop offset="0.010" stop-color="#ea4e1c"/><stop offset="0.084" stop-color="#f28c22"/><stop offset="0.150" stop-color="#f2d422"/><stop offset="0.191" stop-color="#f2e224"/><stop offset="0.243" stop-color="#e2e428"/><stop offset="0.294" stop-color="#b0d030"/><stop offset="0.350" stop-color="#64b632"/><stop offset="0.394" stop-color="#28a22a"/><stop offset="0.500" stop-color="#22a064"/><stop offset="0.603" stop-color="#30b8d0"/><stop offset="0.682" stop-color="#24b4e8"/><stop offset="0.721" stop-color="#2896dc"/><stop offset="0.750" stop-color="#1c48b0"/><stop offset="0.815" stop-color="#2c30a0"/><stop offset="0.888" stop-color="#6434a2"/><stop offset="0.977" stop-color="#983a98"/></linearGradient><linearGradient id="g323" gradientUnits="userSpaceOnUse" x1="25.4" x2="166.7" y1="0" y2="0"><stop offset="-0.074" stop-color="#d61e16"/><stop offset="0.009" stop-color="#ea4e1c"/><stop offset="0.083" stop-color="#f28c22"/><stop offset="0.149" stop-color="#f2d422"/><stop offset="0.190" stop-color="#f2e224"/><stop offset="0.242" stop-color="#e2e428"/><stop offset="0.293" stop-color="#b0d030"/><stop offset="0.349" stop-color="#64b632"/><stop offset="0.393" stop-color="#28a22a"/><stop offset="0.499" stop-color="#22a064"/><stop offset="0.602" stop-color="#30b8d0"/><stop offset="0.681" stop-color="#24b4e8"/><stop offset="0.720" stop-color="#2896dc"/><stop offset="0.749" stop-color="#1c48b0"/><stop offset="0.814" stop-color="#2c30a0"/><stop offset="0.887" stop-color="#6434a2"/><stop offset="0.976" stop-color="#983a98"/></linearGradient><linearGradient id="g324" gradientUnits="userSpaceOnUse" x1="25.8" x2="168.0" y1="0" y2="0"><stop offset="-0.075" stop-color="#d61e16"/><stop offset="0.007" stop-color="#ea4e1c"/><stop offset="0.081" stop-color="#f28c22"/><stop offset="0.147" stop-color="#f2d422"/><stop offset="0.189" stop-color="#f2e224"/><stop offset="0.241" stop-color="#e2e428"/><stop offset="0.292" stop-color="#b0d030"/><stop offset="0.348" stop-color="#64b632"/><stop offset="0.392" stop-color="#28a22a"/><stop offset="0.498" stop-color="#22a064"/><stop offset="0.601" stop-color="#30b8d0"/><stop offset="0.680" stop-color="#24b4e8"/><stop offset="0.719" stop-color="#2896dc"/><stop offset="0.748" stop-color="#1c48b0"/><stop offset="0.813" stop-color="#2c30a0"/><stop offset="0.886" stop-color="#6434a2"/><stop offset="0.975" stop-color="#983a98"/></linearGradient><linearGradient id="g325" gradientUnits="userSpaceOnUse" x1="26.2" x2="169.2" y1="0" y2="0"><stop offset="-0.077" stop-color="#d61e16"/><stop offset="0.006" stop-color="#ea4e1c"/><stop offset="0.080" stop-color="#f28c22"/><stop offset="0.146" stop-color="#f2d422"/><stop offset="0.187" stop-color="#f2e224"/><stop offset="0.240" stop-color="#e2e428"/><stop offset="0.291" stop-color="#b0d030"/><stop offset="0.347" stop-color="#64b632"/><stop offset="0.391" stop-color="#28a22a"/><stop offset="0.497" stop-color="#22a064"/><stop offset="0.600" stop-color="#30b8d0"/><stop offset="0.679" stop-color="#24b4e8"/><stop offset="0.718" stop-color="#2896dc"/><stop offset="0.747" stop-color="#1c48b0"/><stop offset="0.812" stop-color="#2c30a0"/><stop offset="0.885" stop-color="#6434a2"/><stop offset="0.974" stop-color="#983a98"/></linearGradient><linearGradient id="g326" gradientUnits="userSpaceOnUse" x1="26.6" x2="170.5" y1="0" y2="0"><stop offset="-0.078" stop-color="#d61e16"/><stop offset="0.004" stop-color="#ea4e1c"/><stop offset="0.078" stop-color="#f28c22"/><stop offset="0.145" stop-color="#f2d422"/><stop offset="0.186" stop-color="#f2e224"/><stop offset="0.238" stop-color="#e2e428"/><stop offset="0.290" stop-color="#b0d030"/><stop offset="0.346" stop-color="#64b632"/><stop offset="0.390" stop-color="#28a22a"/><stop offset="0.496" stop-color="#22a064"/><stop offset="0.599" stop-color="#30b8d0"/><stop offset="0.678" stop-color="#24b4e8"/><stop offset="0.717" stop-color="#2896dc"/><stop offset="0.746" stop-color="#1c48b0"/><stop offset="0.811" stop-color="#2c30a0"/><stop offset="0.884" stop-color="#6434a2"/><stop offset="0.973" stop-color="#983a98"/></linearGradient><linearGradient id="g327" gradientUnits="userSpaceOnUse" x1="27.0" x2="171.9" y1="0" y2="0"><stop offset="-0.080" stop-color="#d61e16"/><stop offset="0.003" stop-color="#ea4e1c"/><stop offset="0.077" stop-color="#f28c22"/><stop offset="0.143" stop-color="#f2d422"/><stop offset="0.185" stop-color="#f2e224"/><stop offset="0.237" stop-color="#e2e428"/><stop offset="0.289" stop-color="#b0d030"/><stop offset="0.345" stop-color="#64b632"/><stop offset="0.389" stop-color="#28a22a"/><stop offset="0.495" stop-color="#22a064"/><stop offset="0.598" stop-color="#30b8d0"/><stop offset="0.677" stop-color="#24b4e8"/><stop offset="0.716" stop-color="#2896dc"/><stop offset="0.745" stop-color="#1c48b0"/><stop offset="0.811" stop-color="#2c30a0"/><stop offset="0.883" stop-color="#6434a2"/><stop offset="0.972" stop-color="#983a98"/></linearGradient><linearGradient id="g328" gradientUnits="userSpaceOnUse" x1="27.4" x2="173.2" y1="0" y2="0"><stop offset="-0.081" stop-color="#d61e16"/><stop offset="0.001" stop-color="#ea4e1c"/><stop offset="0.076" stop-color="#f28c22"/><stop offset="0.142" stop-color="#f2d422"/><stop offset="0.184" stop-color="#f2e224"/><stop offset="0.236" stop-color="#e2e428"/><stop offset="0.287" stop-color="#b0d030"/><stop offset="0.344" stop-color="#64b632"/><stop offset="0.388" stop-color="#28a22a"/><stop offset="0.494" stop-color="#22a064"/><stop offset="0.597" stop-color="#30b8d0"/><stop offset="0.676" stop-color="#24b4e8"/><stop offset="0.715" stop-color="#2896dc"/><stop offset="0.744" stop-color="#1c48b0"/><stop offset="0.810" stop-color="#2c30a0"/><stop offset="0.883" stop-color="#6434a2"/><stop offset="0.971" stop-color="#983a98"/></linearGradient><linearGradient id="g329" gradientUnits="userSpaceOnUse" x1="27.8" x2="174.5" y1="0" y2="0"><stop offset="-0.083" stop-color="#d61e16"/><stop offset="-0.000" stop-color="#ea4e1c"/><stop offset="0.074" stop-color="#f28c22"/><stop offset="0.141" stop-color="#f2d422"/><stop offset="0.182" stop-color="#f2e224"/><stop offset="0.235" stop-color="#e2e428"/><stop offset="0.286" stop-color="#b0d030"/><stop offset="0.342" stop-color="#64b632"/><stop offset="0.386" stop-color="#28a22a"/><stop offset="0.493" stop-color="#22a064"/><stop offset="0.596" stop-color="#30b8d0"/><stop offset="0.676" stop-color="#24b4e8"/><stop offset="0.714" stop-color="#2896dc"/><stop offset="0.743" stop-color="#1c48b0"/><stop offset="0.809" stop-color="#2c30a0"/><stop offset="0.882" stop-color="#6434a2"/><stop offset="0.970" stop-color="#983a98"/></linearGradient><linearGradient id="g330" gradientUnits="userSpaceOnUse" x1="28.2" x2="175.9" y1="0" y2="0"><stop offset="-0.085" stop-color="#d61e16"/><stop offset="-0.002" stop-color="#ea4e1c"/><stop offset="0.073" stop-color="#f28c22"/><stop offset="0.140" stop-color="#f2d422"/><stop offset="0.181" stop-color="#f2e224"/><stop offset="0.234" stop-color="#e2e428"/><stop offset="0.285" stop-color="#b0d030"/><stop offset="0.341" stop-color="#64b632"/><stop offset="0.385" stop-color="#28a22a"/><stop offset="0.492" stop-color="#22a064"/><stop offset="0.595" stop-color="#30b8d0"/><stop offset="0.675" stop-color="#24b4e8"/><stop offset="0.713" stop-color="#2896dc"/><stop offset="0.742" stop-color="#1c48b0"/><stop offset="0.808" stop-color="#2c30a0"/><stop offset="0.881" stop-color="#6434a2"/><stop offset="0.969" stop-color="#983a98"/></linearGradient><linearGradient id="g331" gradientUnits="userSpaceOnUse" x1="28.6" x2="177.3" y1="0" y2="0"><stop offset="-0.086" stop-color="#d61e16"/><stop offset="-0.003" stop-color="#ea4e1c"/><stop offset="0.071" stop-color="#f28c22"/><stop offset="0.138" stop-color="#f2d422"/><stop offset="0.180" stop-color="#f2e224"/><stop offset="0.232" stop-color="#e2e428"/><stop offset="0.284" stop-color="#b0d030"/><stop offset="0.340" stop-color="#64b632"/><stop offset="0.384" stop-color="#28a22a"/><stop offset="0.492" stop-color="#22a064"/><stop offset="0.594" stop-color="#30b8d0"/><stop offset="0.674" stop-color="#24b4e8"/><stop offset="0.712" stop-color="#2896dc"/><stop offset="0.741" stop-color="#1c48b0"/><stop offset="0.807" stop-color="#2c30a0"/><stop offset="0.880" stop-color="#6434a2"/><stop offset="0.968" stop-color="#983a98"/></linearGradient><linearGradient id="g332" gradientUnits="userSpaceOnUse" x1="29.1" x2="178.7" y1="0" y2="0"><stop offset="-0.088" stop-color="#d61e16"/><stop offset="-0.004" stop-color="#ea4e1c"/><stop offset="0.070" stop-color="#f28c22"/><stop offset="0.137" stop-color="#f2d422"/><stop offset="0.179" stop-color="#f2e224"/><stop offset="0.231" stop-color="#e2e428"/><stop offset="0.283" stop-color="#b0d030"/><stop offset="0.339" stop-color="#64b632"/><stop offset="0.383" stop-color="#28a22a"/><stop offset="0.491" stop-color="#22a064"/><stop offset="0.593" stop-color="#30b8d0"/><stop offset="0.673" stop-color="#24b4e8"/><stop offset="0.712" stop-color="#2896dc"/><stop offset="0.740" stop-color="#1c48b0"/><stop offset="0.806" stop-color="#2c30a0"/><stop offset="0.879" stop-color="#6434a2"/><stop offset="0.967" stop-color="#983a98"/></linearGradient><linearGradient id="g333" gradientUnits="userSpaceOnUse" x1="29.5" x2="180.1" y1="0" y2="0"><stop offset="-0.089" stop-color="#d61e16"/><stop offset="-0.006" stop-color="#ea4e1c"/><stop offset="0.069" stop-color="#f28c22"/><stop offset="0.136" stop-color="#f2d422"/><stop offset="0.177" stop-color="#f2e224"/><stop offset="0.230" stop-color="#e2e428"/><stop offset="0.282" stop-color="#b0d030"/><stop offset="0.338" stop-color="#64b632"/><stop offset="0.382" stop-color="#28a22a"/><stop offset="0.490" stop-color="#22a064"/><stop offset="0.592" stop-color="#30b8d0"/><stop offset="0.672" stop-color="#24b4e8"/><stop offset="0.711" stop-color="#2896dc"/><stop offset="0.739" stop-color="#1c48b0"/><stop offset="0.805" stop-color="#2c30a0"/><stop offset="0.878" stop-color="#6434a2"/><stop offset="0.966" stop-color="#983a98"/></linearGradient></defs><path d="M18,79.9 20.8,80.7 23.6,81 24.3,80.9 27.1,79.7 29.9,81 35.7,81.4 38.8,81 41.5,81.2 44.9,80.4 47.8,78.4 48.7,77.1 49.8,72.6 50.6,66.3 52,74.7 52.8,76.8 54.2,78.1 57.4,78.6 58.7,77.9 60.6,75 62.1,70.9 63,73.2 63.9,74.7 65.1,75.4 65.9,75 67.1,72.6 67.8,69.6 68.7,61 69.6,41.5 70.3,12.2 71.5,53.1 72.7,68 73.5,72.2 74.8,74.9 75.4,75.6 76.7,75.9 77.4,75.8 77.9,75.4 79.2,72.7 79.8,70.1 81,58.3 81.9,36.4 82.6,4.1 83.3,36.4 84.1,57.8 85.3,69.1 86,71.6 86.8,73 87.2,73.2 87.8,73.1 88.5,72.5 89.3,69.9 90.2,62.8 90.8,53.2 91.4,61.9 92.1,66.5 92.5,67 92.7,66.7 93.3,63.7 94.3,48 95.2,5.3 95.7,35.6 96.4,53.8 97,62.7 97.9,67.1 98.4,67.1 98.8,66.2 99.4,62.4 100,65.4 100.6,66.6 100.9,66.6 101.4,65.9 102.1,63.4 102.9,56.5 104.7,27.6 106.6,54.5 107.1,56.1 107.3,56.2 107.7,55.3 108.3,50.9 108.8,42.9 109.9,55.5 110.3,57 110.6,57.1 110.9,56.3 111.6,51.6 112.1,44.5 112.9,25.2 114.2,53.9 115.3,63.3 116,66.3 116.8,68 117.6,68.6 118.1,68.4 119.1,66.9 119.9,64.2 120.8,58.6 121.3,60.1 122,60.8 122.9,61.2 123.8,60.7 125.4,66.6 126.2,68 127.1,68.7 128.1,68.4 129,67.3 130.1,62.8 131.2,66.9 131.8,67.7 132.9,68.4 134.7,68.6 141.7,67.7 143.6,69.8 18.6,88.1Z" fill="url(#g30)" stroke="url(#g30)" stroke-width="0.7"/><path d="M18,79.9 20.8,80.7 23.6,81 24.3,80.9 27.1,79.7 29.9,81 35.7,81.4 38.8,81 41.5,81.2 44.9,80.4 47.8,78.4 48.7,77.1 49.8,72.6 50.6,66.3 52,74.7 52.8,76.8 54.2,78.1 57.4,78.6 58.7,77.9 60.6,75 62.1,70.9 63,73.2 63.9,74.7 65.1,75.4 65.9,75 67.1,72.6 67.8,69.6 68.7,61 69.6,41.5 70.3,12.2 71.5,53.1 72.7,68 73.5,72.2 74.8,74.9 75.4,75.6 76.7,75.9 77.4,75.8 77.9,75.4 79.2,72.7 79.8,70.1 81,58.3 81.9,36.4 82.6,4.1 83.3,36.4 84.1,57.8 85.3,69.1 86,71.6 86.8,73 87.2,73.2 87.8,73.1 88.5,72.5 89.3,69.9 90.2,62.8 90.8,53.2 91.4,61.9 92.1,66.5 92.5,67 92.7,66.7 93.3,63.7 94.3,48 95.2,5.3 95.7,35.6 96.4,53.8 97,62.7 97.9,67.1 98.4,67.1 98.8,66.2 99.4,62.4 100,65.4 100.6,66.6 100.9,66.6 101.4,65.9 102.1,63.4 102.9,56.5 104.7,27.6 106.6,54.5 107.1,56.1 107.3,56.2 107.7,55.3 108.3,50.9 108.8,42.9 109.9,55.5 110.3,57 110.6,57.1 110.9,56.3 111.6,51.6 112.1,44.5 112.9,25.2 114.2,53.9 115.3,63.3 116,66.3 116.8,68 117.6,68.6 118.1,68.4 119.1,66.9 119.9,64.2 120.8,58.6 121.3,60.1 122,60.8 122.9,61.2 123.8,60.7 125.4,66.6 126.2,68 127.1,68.7 128.1,68.4 129,67.3 130.1,62.8 131.2,66.9 131.8,67.7 132.9,68.4 134.7,68.6 141.7,67.7" class="m"/><path class="n" d="M20.3,80.6l0.3,1.3M22.6,80.9l0.3,1.1M24.9,80.6l0.3,0.8M27.1,79.7l0.3,1.9M29.4,80.8l0.3,0.7M31.7,81.1l0.4,0.5M33.9,81.2l0.4,0.3M36.1,81.3l0.4,0.4M38.4,81l0.4,0.9M40.6,81.2l0.4,1M42.8,81l0.4,0.9M45,80.3l0.4,0.4M47.1,78.9l0.5,1.4M49.3,74.9l0.5,0.9M51.5,72.5l0.5,2.2M53.6,77.8l0.5,1.2M55.8,78.4l0.5,1.2M57.9,78.5l0.5,1.2M60,76.1l0.5,0.9M62.1,71.1l0.5,1.7M64.3,75l0.6,1.5M66.4,74.4l0.6,2.4M68.4,63.7l0.6,4.5M70.5,23.4l0.6,14.2M72.6,67.2l0.6,3.5M74.7,74.8l0.6,1.7M76.7,75.9l0.6,0.6M78.8,73.9l0.6,1.8M80.8,61.8l0.6,5.2M82.8,17.3l0.7,17.4M84.8,65.9l0.7,3.9M86.9,73l0.7,1.4M88.9,71.6l0.7,1.3M90.9,54.1l0.7,5.4M92.8,66.4l0.7,3.7M94.8,28.9l0.7,21.8M96.8,60.5l0.7,6.7M98.7,66.3l0.7,2.6M100.7,66.7l0.7,2.2M102.6,59.6l0.8,4.1M104.6,28.1l0.8,11.1M106.5,53.5l0.8,5.4M108.4,48.9l0.8,6.9M110.3,57.1l0.8,5.5M112.2,42.1l0.8,12.7M114.1,53.2l0.8,8.3M116,66.5l0.8,2.7M117.9,68.5l0.8,1.6M119.8,64.6l0.8,2.5M121.7,60.6l0.9,3.3M123.5,61l0.9,3.1M125.4,66.5l0.9,1.5M127.2,68.7l0.9,0.9M129,67.1l0.9,1.2M130.9,66.1l0.9,1.4M132.7,68.3l0.9,1M134.5,68.6l0.9,0.8M136.3,68.4l0.9,0.9M138.1,68.2l0.9,0.9M139.9,67.9l0.9,0.8"/><path d="M18.3,80.7 21.9,82.4 24.6,81.4 35.8,81.4 37.8,82.4 39.2,81.8 40.6,82.4 41.9,81.8 42.6,82.2 44.6,80.8 47.3,80.5 48.2,79.5 49.3,77.2 50.2,73.8 51.1,68.7 51.9,74.5 52.5,76.6 53.7,78.5 54.6,79.3 57.9,79.8 59.3,79 60.6,76.9 62.6,72.6 63.6,75.1 65.1,76.8 65.8,77.2 66.4,77.2 67.1,76.4 67.7,75.2 68.4,72.7 69.2,66.2 70.2,51.7 70.9,29.3 72.1,60 73.3,71.4 74.1,74.7 74.5,75.6 75.4,76.6 76.6,76.7 79.2,75.9 79.8,74.9 80.4,72.8 81.7,64.6 82.6,48.6 83.3,25.3 83.9,48.4 84.8,63.9 86,72.2 86.6,73.5 87.3,74.3 87.9,74.4 89.1,73.6 90,71.6 90.9,66.3 91.5,58.8 92.5,68.3 93.2,70.2 93.5,70.2 94.1,68.8 95,60.8 95.9,38.2 96.5,54.2 97.1,63.8 97.7,68.3 98.1,69.7 98.6,70.2 99.1,69.8 99.5,68.8 100.1,65.5 100.7,67.9 101.5,68.9 102.3,68.3 102.8,66.7 103.7,61.3 105.5,38.8 106.8,54.4 107.3,58.9 107.8,60.9 108.1,61.2 108.4,60.8 108.9,58.6 109.6,51.3 110.7,61.2 111.4,62.9 112,62.1 112.9,56.2 113.7,44.8 115,61.9 116.1,67.5 116.8,69.1 117.6,70 118.4,70.2 118.9,70 120,68.7 121,65.7 121.7,62.5 122.2,63.6 122.9,64.1 123.8,64.3 124.7,63.9 126.3,68.1 127,69.1 128,69.6 129,69.4 129.8,68.5 131,64.7 132,68 133.2,69.2 134.3,69.4 137.1,69.3 142.7,68.6 144.6,70.7 18.8,89.2Z" fill="url(#g31)" stroke="url(#g31)" stroke-width="0.7"/><path d="M18.3,80.7 21.9,82.4 24.6,81.4 35.8,81.4 37.8,82.4 39.2,81.8 40.6,82.4 41.9,81.8 42.6,82.2 44.6,80.8 47.3,80.5 48.2,79.5 49.3,77.2 50.2,73.8 51.1,68.7 51.9,74.5 52.5,76.6 53.7,78.5 54.6,79.3 57.9,79.8 59.3,79 60.6,76.9 62.6,72.6 63.6,75.1 65.1,76.8 65.8,77.2 66.4,77.2 67.1,76.4 67.7,75.2 68.4,72.7 69.2,66.2 70.2,51.7 70.9,29.3 72.1,60 73.3,71.4 74.1,74.7 74.5,75.6 75.4,76.6 76.6,76.7 79.2,75.9 79.8,74.9 80.4,72.8 81.7,64.6 82.6,48.6 83.3,25.3 83.9,48.4 84.8,63.9 86,72.2 86.6,73.5 87.3,74.3 87.9,74.4 89.1,73.6 90,71.6 90.9,66.3 91.5,58.8 92.5,68.3 93.2,70.2 93.5,70.2 94.1,68.8 95,60.8 95.9,38.2 96.5,54.2 97.1,63.8 97.7,68.3 98.1,69.7 98.6,70.2 99.1,69.8 99.5,68.8 100.1,65.5 100.7,67.9 101.5,68.9 102.3,68.3 102.8,66.7 103.7,61.3 105.5,38.8 106.8,54.4 107.3,58.9 107.8,60.9 108.1,61.2 108.4,60.8 108.9,58.6 109.6,51.3 110.7,61.2 111.4,62.9 112,62.1 112.9,56.2 113.7,44.8 115,61.9 116.1,67.5 116.8,69.1 117.6,70 118.4,70.2 118.9,70 120,68.7 121,65.7 121.7,62.5 122.2,63.6 122.9,64.1 123.8,64.3 124.7,63.9 126.3,68.1 127,69.1 128,69.6 129,69.4 129.8,68.5 131,64.7 132,68 133.2,69.2 134.3,69.4 137.1,69.3 142.7,68.6" class="m"/><path class="n" d="M20.6,81.8l0.3,1.4M22.9,82l0.3,1.1M25.2,81.5l0.3,1.6M27.5,81.6l0.3,0.2M29.8,81.5l0.4,1.2M32,81.6l0.4,1.6M34.3,81.5l0.4,1.4M36.5,81.7l0.4,1.9M38.8,81.9l0.4,1.3M41,82.2l0.4,0.5M43.2,81.9l0.4,0.8M45.4,80.8l0.4,2.1M47.6,80.3l0.5,1.3M49.8,75.7l0.5,2.2M52,74.7l0.5,1.9M54.1,78.9l0.5,1.5M56.3,79.6l0.5,1.6M58.4,79.7l0.5,0.8M60.6,76.9l0.5,1.7M62.7,72.8l0.5,2M64.8,76.5l0.6,1.5M66.9,76.7l0.6,1.2M69,68.2l0.6,3.5M71.1,37.6l0.6,11.2M73.2,70.8l0.6,2.8M75.3,76.5l0.6,1.1M77.3,76.5l0.6,1.6M79.4,75.7l0.6,1.4M81.4,67l0.7,3.9M83.5,34.7l0.7,12.6M85.5,69.8l0.7,2.7M87.5,74.4l0.7,1.7M89.5,72.9l0.7,1.9M91.5,59.5l0.7,4.2M93.5,70.1l0.7,2.3M95.5,50.7l0.7,11.8M97.5,67.2l0.7,4.1M99.5,68.9l0.7,2.2M101.4,68.8l0.8,2.3M103.4,63.7l0.8,3.4M105.3,39.2l0.8,8.7M107.3,58.9l0.8,4.3M109.2,55.8l0.8,5.1M111.1,62.6l0.8,4M113.1,54.8l0.8,7.5M115,61.5l0.8,4.9M116.9,69.2l0.8,1.9M118.8,70.1l0.8,1.5M120.6,67.1l0.9,2M122.5,63.9l0.9,2.8M124.4,64.1l0.9,2.8M126.2,68l0.9,1.8M128.1,69.7l0.9,1.1M129.9,68.3l0.9,1.3M131.8,67.5l0.9,1.2M133.6,69.3l0.9,0.8M135.4,69.4l0.9,0.9M137.2,69.3l0.9,0.8M139.1,69.1l0.9,0.8M140.9,68.8l1,0.8"/><path d="M18.6,83.4 20,83.8 21.4,83 22.1,83 25,83.5 27.8,81.8 32,83.4 33.4,82.6 36.8,83.6 42.3,82.5 45.9,82.9 48.4,81.2 49.6,79.5 50.7,76.2 51.6,71.6 52.4,76.5 53,78.1 54,79.8 55.1,80.8 56.5,81.2 57.8,81.2 59.8,79.9 61.8,77.7 63.2,74.7 64.1,76.5 65.5,78.1 66.2,78.5 67,78.3 68.3,76.9 68.9,75.2 69.8,70.1 70.7,59.1 71.5,42.4 72.7,65.6 73.9,74 74.7,76.3 76,77.7 77.3,78.1 79.4,77.7 80.4,76.4 81.1,75 82.3,69.1 83.2,57.4 83.9,40.5 84.6,57.2 85.5,68.5 86.7,74.1 87.3,75.4 88.1,76.1 89.8,75.4 90.7,73.7 91.6,69.2 92.2,63.1 93.2,70.7 93.9,72.3 94.2,72.4 94.8,71.9 95.4,70.2 96,65.8 96.6,55.8 97.6,67.8 98.4,71.8 99,72.5 99.6,72.2 100.3,70.9 100.9,68.2 101.9,71 102.4,71.2 103.1,70.6 103.9,68.4 104.5,65.2 106.3,47.6 107.6,59.7 108.1,63.1 108.6,64.7 108.9,64.9 109.2,64.6 109.7,63 110.4,57.7 111.5,65.4 112.2,67 112.8,66.6 113.7,63.1 114.5,56.2 115.8,66.6 116.9,70 118.1,71.5 119.3,71.7 120.7,70.6 121.6,68.8 122.5,65.6 123.4,66.7 125,66.9 125.5,66.8 126.9,69.5 127.8,70.5 128.5,70.8 129.9,70.5 130.7,69.7 131.9,66.4 133,69.2 133.6,69.8 134.7,70.2 138.6,70.1 143.6,69.3 145.6,71.5 19.1,90.3Z" fill="url(#g32)" stroke="url(#g32)" stroke-width="0.7"/><path d="M18.6,83.4 20,83.8 21.4,83 22.1,83 25,83.5 27.8,81.8 32,83.4 33.4,82.6 36.8,83.6 42.3,82.5 45.9,82.9 48.4,81.2 49.6,79.5 50.7,76.2 51.6,71.6 52.4,76.5 53,78.1 54,79.8 55.1,80.8 56.5,81.2 57.8,81.2 59.8,79.9 61.8,77.7 63.2,74.7 64.1,76.5 65.5,78.1 66.2,78.5 67,78.3 68.3,76.9 68.9,75.2 69.8,70.1 70.7,59.1 71.5,42.4 72.7,65.6 73.9,74 74.7,76.3 76,77.7 77.3,78.1 79.4,77.7 80.4,76.4 81.1,75 82.3,69.1 83.2,57.4 83.9,40.5 84.6,57.2 85.5,68.5 86.7,74.1 87.3,75.4 88.1,76.1 89.8,75.4 90.7,73.7 91.6,69.2 92.2,63.1 93.2,70.7 93.9,72.3 94.2,72.4 94.8,71.9 95.4,70.2 96,65.8 96.6,55.8 97.6,67.8 98.4,71.8 99,72.5 99.6,72.2 100.3,70.9 100.9,68.2 101.9,71 102.4,71.2 103.1,70.6 103.9,68.4 104.5,65.2 106.3,47.6 107.6,59.7 108.1,63.1 108.6,64.7 108.9,64.9 109.2,64.6 109.7,63 110.4,57.7 111.5,65.4 112.2,67 112.8,66.6 113.7,63.1 114.5,56.2 115.8,66.6 116.9,70 118.1,71.5 119.3,71.7 120.7,70.6 121.6,68.8 122.5,65.6 123.4,66.7 125,66.9 125.5,66.8 126.9,69.5 127.8,70.5 128.5,70.8 129.9,70.5 130.7,69.7 131.9,66.4 133,69.2 133.6,69.8 134.7,70.2 138.6,70.1 143.6,69.3" class="m"/><path class="n" d="M20.9,83.3l0.3,1.3M23.2,83.1l0.3,1.2M25.5,83.1l0.3,1.4M27.8,81.8l0.3,2.8M30.1,82.7l0.4,1.5M32.4,83.2l0.4,1M34.7,83l0.4,1.7M36.9,83.6l0.4,0.7M39.2,83.1l0.4,0.9M41.4,82.7l0.4,1.4M43.6,82.7l0.4,1.1M45.8,82.9l0.5,1M48,81.6l0.5,1.4M50.2,77.9l0.5,1.7M52.4,76.6l0.5,1.5M54.6,80.5l0.5,1.2M56.8,81.2l0.5,1.1M58.9,80.5l0.5,1.2M61.1,78.7l0.5,1.1M63.2,74.8l0.6,1.7M65.4,78l0.6,1.1M67.5,77.9l0.6,1.7M69.6,71.7l0.6,3M71.7,48.8l0.6,8.1M73.8,73.6l0.6,2.4M75.9,77.6l0.6,0.5M78,78.1l0.6,1.1M80,77.1l0.6,1M82.1,70.9l0.7,2.8M84.1,47.3l0.7,9.3M86.2,72.5l0.7,2.2M88.2,76.1l0.7,1.2M90.2,74.8l0.7,1.2M92.3,63.8l0.7,3.7M94.3,72.5l0.7,2.3M96.3,62.6l0.7,6.5M98.2,71.3l0.7,2.5M100.2,71.1l0.8,1.8M102.2,71.2l0.8,1.7M104.2,67.1l0.8,2.4M106.1,47.9l0.8,6.6M108.1,63.2l0.8,3.4M110,60.9l0.8,4.2M111.9,66.6l0.8,2.8M113.9,62.3l0.8,5M115.8,66.3l0.8,3.4M117.7,71.1l0.8,1.3M119.6,71.5l0.9,1.2M121.5,69.1l0.9,1.7M123.4,66.7l0.9,2.2M125.3,66.9l0.9,2.1M127.1,69.8l0.9,1.1M129,70.8l0.9,0.9M130.8,69.6l0.9,1M132.7,68.7l0.9,1.2M134.5,70.1l0.9,1.1M136.4,70.2l0.9,0.9M138.2,70.1l0.9,0.9M140,69.9l1,0.8M141.8,69.6l1,0.8"/><path d="M18.8,84.6 20.3,85.1 22.4,84.3 27.4,84.7 30.9,84 35.1,84.6 36.9,84.1 37.9,84.6 40,83.9 41.4,84.3 42.8,83.5 45.5,84.1 47.6,83.5 49.2,82.4 50.3,80.8 51.2,78.1 52,74 52.5,76.4 53.5,79.5 54.9,81.4 56.3,82.2 58.3,82.2 60.3,81.3 61.6,79.7 63.7,76.4 64.4,77.7 66.3,79.3 67.2,79.8 68.2,79.5 68.9,78.8 69.5,77.3 70.4,73.5 71.3,65.1 72.1,52.2 73.3,69.5 74.5,76.4 75.3,77.7 78.5,79.2 79.2,79.2 79.8,78.8 81.1,77.6 82.3,75.1 82.9,72.9 83.9,64 84.6,51.7 85.3,63.8 86.2,71.9 87.4,75.8 88,76.7 89,77.3 90.5,76.6 91.4,75.1 92.3,71.6 92.9,67 93.9,73.3 94.6,74.6 94.9,74.8 95.6,74.5 96.1,73.5 96.7,70.9 97.4,65.2 98.3,71.9 99.2,74 99.8,74.3 100.6,73.5 101.7,70.4 102.7,72.7 103.2,72.9 103.8,72.3 104.6,70.5 105.3,68 107,54.3 107.4,55.9 108.4,63.9 109.4,67.8 109.7,68 110,67.8 110.5,66.7 111.2,62.7 112.3,68.4 113,69.7 113.6,69.7 114.6,67.7 115.4,63.6 116.7,69.9 117.8,71.8 118.9,72.7 120.1,72.8 121.6,72 122.5,70.6 123.4,68.1 124.6,69 126.4,68.9 128.1,71 129.8,71.7 130.8,71.4 131.7,70.7 132.8,68 133.8,70.3 135.1,71.1 138.9,71 144.6,70.1 146.6,72.4 19.4,91.4Z" fill="url(#g33)" stroke="url(#g33)" stroke-width="0.7"/><path d="M18.8,84.6 20.3,85.1 22.4,84.3 27.4,84.7 30.9,84 35.1,84.6 36.9,84.1 37.9,84.6 40,83.9 41.4,84.3 42.8,83.5 45.5,84.1 47.6,83.5 49.2,82.4 50.3,80.8 51.2,78.1 52,74 52.5,76.4 53.5,79.5 54.9,81.4 56.3,82.2 58.3,82.2 60.3,81.3 61.6,79.7 63.7,76.4 64.4,77.7 66.3,79.3 67.2,79.8 68.2,79.5 68.9,78.8 69.5,77.3 70.4,73.5 71.3,65.1 72.1,52.2 73.3,69.5 74.5,76.4 75.3,77.7 78.5,79.2 79.2,79.2 79.8,78.8 81.1,77.6 82.3,75.1 82.9,72.9 83.9,64 84.6,51.7 85.3,63.8 86.2,71.9 87.4,75.8 88,76.7 89,77.3 90.5,76.6 91.4,75.1 92.3,71.6 92.9,67 93.9,73.3 94.6,74.6 94.9,74.8 95.6,74.5 96.1,73.5 96.7,70.9 97.4,65.2 98.3,71.9 99.2,74 99.8,74.3 100.6,73.5 101.7,70.4 102.7,72.7 103.2,72.9 103.8,72.3 104.6,70.5 105.3,68 107,54.3 107.4,55.9 108.4,63.9 109.4,67.8 109.7,68 110,67.8 110.5,66.7 111.2,62.7 112.3,68.4 113,69.7 113.6,69.7 114.6,67.7 115.4,63.6 116.7,69.9 117.8,71.8 118.9,72.7 120.1,72.8 121.6,72 122.5,70.6 123.4,68.1 124.6,69 126.4,68.9 128.1,71 129.8,71.7 130.8,71.4 131.7,70.7 132.8,68 133.8,70.3 135.1,71.1 138.9,71 144.6,70.1" class="m"/><path class="n" d="M21.2,84.6l0.3,1.5M23.5,84.3l0.3,1.4M25.8,84.5l0.3,1.4M28.2,84.6l0.3,0.8M30.5,84.1l0.4,0.4M32.8,84.2l0.4,0.4M35,84.7l0.4,0.6M37.3,84.3l0.4,1.4M39.6,84l0.4,1.3M41.8,84.1l0.4,1.2M44.1,83.8l0.4,1.4M46.3,83.9l0.5,1M48.5,83l0.5,1.1M50.7,79.6l0.5,1.4M52.9,78.2l0.5,1.3M55.1,81.6l0.5,0.8M57.3,82.4l0.5,0.3M59.5,81.8l0.5,0.4M61.6,79.7l0.5,1.4M63.8,76.5l0.6,1.7M65.9,79.1l0.6,1.5M68.1,79.6l0.6,1.1M70.2,74.7l0.6,2.2M72.3,56.9l0.6,6.6M74.4,76l0.6,1.5M76.5,78.1l0.6,2.1M78.6,79.2l0.6,0.6M80.7,78.1l0.7,1.3M82.7,73.7l0.7,2.5M84.8,56.6l0.7,7.2M86.9,74.7l0.7,1.8M88.9,77.3l0.7,1.1M90.9,76l0.7,1.4M93,67.5l0.7,3.1M95,74.8l0.7,1.7M97,69.1l0.7,3.9M99,73.8l0.8,1.9M101,72.8l0.8,1.7M103,72.9l0.8,1.5M104.9,69.4l0.8,2.3M106.9,54.6l0.8,5.7M108.9,66.6l0.8,2.9M110.8,65.2l0.8,3M112.8,69.4l0.8,2M114.7,67.3l0.8,3.3M116.6,69.8l0.8,2.5M118.5,72.5l0.9,1.5M120.5,72.7l0.9,1.2M122.4,70.8l0.9,1.4M124.2,68.9l0.9,1.8M126.1,69l0.9,1.9M128,70.9l0.9,1.5M129.9,71.7l0.9,1.1M131.7,70.6l0.9,1M133.6,70l0.9,1M135.5,71.2l0.9,0.9M137.3,71.2l0.9,0.9M139.1,71l1,0.9M141,70.7l1,0.9M142.8,70.4l1,0.9"/><path d="M19.1,86.4 24.9,85.6 26.3,85.9 27.8,85.4 28.5,85.4 29.2,85.8 31.3,84.2 36.9,85.8 40.4,85.3 45.3,85.2 48,84.6 49.4,83.9 50.7,82.1 51.7,79.7 52.5,75.8 54,80.8 54.7,81.8 55.5,82.4 56.8,82.7 58.9,82.5 61.2,81.7 62.9,80.4 64.3,78.1 65.2,79.4 66.6,80.6 67.4,81 68.1,81 69.5,80.1 70.1,78.9 71,76 71.9,69.8 72.7,60 73.4,69.2 74.5,75.7 76,79.4 76.6,80.1 77.6,80.4 79.8,79.5 81.1,79.5 81.9,79.2 83,77.3 84.3,71.6 85.3,60.3 85.9,68.8 86.8,74.4 88.1,77.3 88.7,78 89.7,78.4 90.6,78.3 91.2,77.9 92.1,76.7 93,73.9 93.6,70.2 94.4,74.5 95,75.8 95.6,76.4 96.3,76.4 97.2,74.9 98.1,70.6 99.1,74.6 99.9,75.8 100.5,75.9 101.4,75.1 102.4,72.4 103.4,74.2 104.5,74.3 105.4,72.6 106,70.5 107.8,60.1 109.2,67.5 109.7,69.5 110.2,70.3 110.8,70.2 111.3,69.2 112,66.5 112.7,69.7 113.5,71.4 114.5,71.8 115.1,71.4 116.2,68.4 117.4,72.2 118.2,73.2 119.3,73.9 120.6,74.1 122.1,73.5 123.3,72.1 124.3,70.1 125.2,70.7 127.3,70.8 128.5,72.1 130.3,72.8 131.4,72.6 132.2,72 133.1,70.8 133.7,69.2 134.8,71.2 136,72.1 139.4,72 145.6,71 147.6,73.2 19.7,92.5Z" fill="url(#g34)" stroke="url(#g34)" stroke-width="0.7"/><path d="M19.1,86.4 24.9,85.6 26.3,85.9 27.8,85.4 28.5,85.4 29.2,85.8 31.3,84.2 36.9,85.8 40.4,85.3 45.3,85.2 48,84.6 49.4,83.9 50.7,82.1 51.7,79.7 52.5,75.8 54,80.8 54.7,81.8 55.5,82.4 56.8,82.7 58.9,82.5 61.2,81.7 62.9,80.4 64.3,78.1 65.2,79.4 66.6,80.6 67.4,81 68.1,81 69.5,80.1 70.1,78.9 71,76 71.9,69.8 72.7,60 73.4,69.2 74.5,75.7 76,79.4 76.6,80.1 77.6,80.4 79.8,79.5 81.1,79.5 81.9,79.2 83,77.3 84.3,71.6 85.3,60.3 85.9,68.8 86.8,74.4 88.1,77.3 88.7,78 89.7,78.4 90.6,78.3 91.2,77.9 92.1,76.7 93,73.9 93.6,70.2 94.4,74.5 95,75.8 95.6,76.4 96.3,76.4 97.2,74.9 98.1,70.6 99.1,74.6 99.9,75.8 100.5,75.9 101.4,75.1 102.4,72.4 103.4,74.2 104.5,74.3 105.4,72.6 106,70.5 107.8,60.1 109.2,67.5 109.7,69.5 110.2,70.3 110.8,70.2 111.3,69.2 112,66.5 112.7,69.7 113.5,71.4 114.5,71.8 115.1,71.4 116.2,68.4 117.4,72.2 118.2,73.2 119.3,73.9 120.6,74.1 122.1,73.5 123.3,72.1 124.3,70.1 125.2,70.7 127.3,70.8 128.5,72.1 130.3,72.8 131.4,72.6 132.2,72 133.1,70.8 133.7,69.2 134.8,71.2 136,72.1 139.4,72 145.6,71" class="m"/><path class="n" d="M21.5,86.1l0.3,-0.3M23.8,85.7l0.3,0M26.2,85.9l0.3,0.5M28.5,85.4l0.4,1.1M30.8,84.6l0.4,1.6M33.1,84.7l0.4,1.1M35.4,85.3l0.4,0.6M37.7,85.7l0.4,0.6M40,85.3l0.4,0M42.2,85.3l0.4,0.4M44.5,85.3l0.4,0.7M46.7,84.9l0.5,0.8M49,84.2l0.5,0.2M51.2,81.1l0.5,0.7M53.4,79.5l0.5,1.1M55.6,82.5l0.5,1.5M57.8,82.6l0.5,1.8M60,82.2l0.5,1.3M62.2,81.1l0.6,1.2M64.3,78.2l0.6,1.4M66.5,80.5l0.6,1M68.6,80.8l0.6,1.1M70.8,77l0.6,1.4M72.9,63.5l0.6,4.6M75,77.5l0.6,2.1M77.1,80.2l0.6,1.2M79.2,79.8l0.7,1.2M81.3,79.4l0.7,1.2M83.4,76.2l0.7,2M85.5,63.8l0.7,5M87.6,76.5l0.7,1.9M89.6,78.4l0.7,0.8M91.7,77.5l0.7,1.2M93.7,70.6l0.7,2.3M95.7,76.5l0.7,1.2M97.7,73l0.8,2.6M99.7,75.7l0.8,1.4M101.8,74.5l0.8,1.4M103.7,74.4l0.8,1.3M105.7,71.7l0.8,2.1M107.7,60.3l0.8,4.4M109.7,69.5l0.8,2.2M111.6,68.2l0.8,2.8M113.6,71.4l0.8,2.2M115.5,70.5l0.8,2.5M117.5,72.3l0.9,1.7M119.4,74l0.9,1.2M121.3,73.9l0.9,0.8M123.2,72.2l0.9,1.4M125.1,70.7l0.9,1.7M127,70.9l0.9,1.6M128.9,72.4l0.9,1.1M130.8,72.8l0.9,1M132.7,71.5l0.9,1.3M134.5,71l0.9,1.3M136.4,72.1l1,0.9M138.2,72.1l1,0.7M140.1,71.8l1,0.6M141.9,71.6l1,0.8M143.7,71.3l1,0.9"/><path d="M19.4,87.6 20.1,87.3 22.3,85.3 25.9,86.3 28.1,86.5 34.5,85.5 37.7,86.4 40.9,85.3 46.4,86.1 49.2,84.4 50.5,84.4 51.6,82.1 53,76.9 53.9,80.4 54.6,82.3 55.5,83.5 56.7,84.3 58.7,84.5 62.1,82.7 63.5,81.6 64.9,79.5 65.8,80.6 67.2,81.6 68.3,81.9 69.6,81.8 70.1,81.6 70.7,80.3 71.6,77.6 72.6,72.5 73.3,65.3 74,72.8 75.1,78.4 75.8,79.8 76.6,80.9 77.9,81.5 82.4,80.5 83.7,79.1 85,74.6 85.9,66.1 87.1,75 88.2,78.2 88.8,78.9 89.4,79.2 92,78.8 92.7,78.4 93.8,75.5 94.4,72.6 95.4,76.7 95.7,77.3 96.3,77.7 97,77.7 98,76.8 98.9,74 99.5,76 100.1,76.9 100.6,77.1 101.3,77 102.2,76.3 103.2,74.3 104.2,75.6 105,75.8 105.6,75.5 106.8,72.9 108.7,64.5 110.4,71.4 111,72.5 111.6,72.5 112.1,71.9 112.8,69.6 113.6,72.2 114.7,73.8 115.3,74 115.9,73.6 117.1,71.5 118.4,74.1 119,74.6 120.7,75.2 123.6,74.1 125.2,72.1 126,72.4 128.2,72.4 129.5,73.4 131.2,73.8 133.1,73.2 134.1,72.2 134.7,70.9 135.7,72.5 137.7,73.1 146.6,71.9 148.6,74.1 20,93.6Z" fill="url(#g35)" stroke="url(#g35)" stroke-width="0.7"/><path d="M19.4,87.6 20.1,87.3 22.3,85.3 25.9,86.3 28.1,86.5 34.5,85.5 37.7,86.4 40.9,85.3 46.4,86.1 49.2,84.4 50.5,84.4 51.6,82.1 53,76.9 53.9,80.4 54.6,82.3 55.5,83.5 56.7,84.3 58.7,84.5 62.1,82.7 63.5,81.6 64.9,79.5 65.8,80.6 67.2,81.6 68.3,81.9 69.6,81.8 70.1,81.6 70.7,80.3 71.6,77.6 72.6,72.5 73.3,65.3 74,72.8 75.1,78.4 75.8,79.8 76.6,80.9 77.9,81.5 82.4,80.5 83.7,79.1 85,74.6 85.9,66.1 87.1,75 88.2,78.2 88.8,78.9 89.4,79.2 92,78.8 92.7,78.4 93.8,75.5 94.4,72.6 95.4,76.7 95.7,77.3 96.3,77.7 97,77.7 98,76.8 98.9,74 99.5,76 100.1,76.9 100.6,77.1 101.3,77 102.2,76.3 103.2,74.3 104.2,75.6 105,75.8 105.6,75.5 106.8,72.9 108.7,64.5 110.4,71.4 111,72.5 111.6,72.5 112.1,71.9 112.8,69.6 113.6,72.2 114.7,73.8 115.3,74 115.9,73.6 117.1,71.5 118.4,74.1 119,74.6 120.7,75.2 123.6,74.1 125.2,72.1 126,72.4 128.2,72.4 129.5,73.4 131.2,73.8 133.1,73.2 134.1,72.2 134.7,70.9 135.7,72.5 137.7,73.1 146.6,71.9" class="m"/><path class="n" d="M21.8,85.8l0.3,2M24.2,85.8l0.3,1.3M26.5,86.3l0.3,1.2M28.9,86.5l0.4,0.8M31.2,86.2l0.4,1.5M33.5,85.7l0.4,1.7M35.8,85.9l0.4,1.4M38.1,86.2l0.4,0.8M40.4,85.3l0.4,1.4M42.7,85.6l0.4,1.9M45,85.9l0.5,1.3M47.2,85.7l0.5,1.1M49.5,84.4l0.5,1.1M51.7,81.7l0.5,1.7M53.9,80.5l0.5,2.2M56.1,84l0.5,0.7M58.3,84.4l0.5,0.5M60.5,83.5l0.5,1.1M62.7,82.3l0.6,1.1M64.9,79.5l0.6,1.4M67.1,81.5l0.6,1M69.2,81.8l0.6,0.8M71.4,78.4l0.6,2.5M73.5,68.1l0.6,4.9M75.7,79.6l0.6,1.7M77.8,81.4l0.6,0.9M79.9,81l0.7,1M82,80.6l0.7,0.9M84.1,78.1l0.7,1.6M86.2,68.7l0.7,4.2M88.2,78.3l0.7,1.4M90.3,79.2l0.7,1.4M92.4,78.6l0.7,1.3M94.4,72.9l0.7,2.4M96.5,77.7l0.8,0.7M98.5,75.6l0.8,1.8M100.5,77.1l0.8,1.2M102.5,75.9l0.8,1.1M104.5,75.7l0.8,1.6M106.5,73.9l0.8,1.5M108.5,64.7l0.8,3.6M110.5,71.7l0.8,2M112.5,71l0.8,2.3M114.4,73.6l0.8,1.6M116.4,73l0.9,1.7M118.3,74l0.9,1.5M120.3,75.1l0.9,0.8M122.2,74.7l0.9,0.9M124.1,73.6l0.9,1.2M126,72.4l0.9,1.5M127.9,72.5l0.9,1.4M129.8,73.5l0.9,1.1M131.7,73.8l0.9,0.9M133.6,72.8l0.9,1M135.5,72.3l1,1.1M137.3,73l1,0.8M139.2,72.8l1,1.1M141.1,72.5l1,1M142.9,72.3l1,0.9M144.7,72.2l1,0.8"/><path d="M19.7,88.8 22.6,87.6 25.6,86.8 26.3,87.1 27.7,88.3 29.2,87.3 32,87.7 40.6,86.7 41.3,86.7 43.4,87.6 44.1,87.4 44.7,87.5 46.9,86.5 48.3,87 51.7,84.1 52.7,82.4 53.5,79.7 54.4,82.7 55,83.6 57.2,84.8 59.9,84.9 62.3,84.4 65.4,80.8 66.1,81.9 68,82.7 69.3,82.7 70.7,82.4 71.6,81.5 72.6,79.2 73.9,70.9 74.7,76.4 75.8,80.3 76.6,81.7 79.2,82.6 81.1,81.7 83.2,81.4 84.4,80.4 85.7,77.1 86.6,70.9 87.3,75.7 88.2,78.7 89.5,80.1 91.2,80.6 92.7,80.2 93.6,79.4 94.5,77.6 95.1,75 96.1,77.8 96.7,78.3 97.7,78.5 98.7,78.1 99.7,76.3 100.2,77.6 101,78.3 101.9,78.1 103,77.4 104,75.7 105,77.2 106,77 107,76 107.6,74.7 109.5,68.2 111.5,74 111.9,74.4 112.5,74.4 113.1,73.6 113.7,72.1 114.8,74.7 115.9,75.4 117.1,74.9 117.9,73.6 119.2,75.5 121.1,76 124.3,75.2 126.1,73.6 126.9,73.9 129.1,73.8 131,74.7 132.8,74.6 134.5,73.8 135.6,72.1 136.8,73.6 139.1,73.9 144.8,73.2 147.6,72.6 149.6,75 20.3,94.7Z" fill="url(#g36)" stroke="url(#g36)" stroke-width="0.7"/><path d="M19.7,88.8 22.6,87.6 25.6,86.8 26.3,87.1 27.7,88.3 29.2,87.3 32,87.7 40.6,86.7 41.3,86.7 43.4,87.6 44.1,87.4 44.7,87.5 46.9,86.5 48.3,87 51.7,84.1 52.7,82.4 53.5,79.7 54.4,82.7 55,83.6 57.2,84.8 59.9,84.9 62.3,84.4 65.4,80.8 66.1,81.9 68,82.7 69.3,82.7 70.7,82.4 71.6,81.5 72.6,79.2 73.9,70.9 74.7,76.4 75.8,80.3 76.6,81.7 79.2,82.6 81.1,81.7 83.2,81.4 84.4,80.4 85.7,77.1 86.6,70.9 87.3,75.7 88.2,78.7 89.5,80.1 91.2,80.6 92.7,80.2 93.6,79.4 94.5,77.6 95.1,75 96.1,77.8 96.7,78.3 97.7,78.5 98.7,78.1 99.7,76.3 100.2,77.6 101,78.3 101.9,78.1 103,77.4 104,75.7 105,77.2 106,77 107,76 107.6,74.7 109.5,68.2 111.5,74 111.9,74.4 112.5,74.4 113.1,73.6 113.7,72.1 114.8,74.7 115.9,75.4 117.1,74.9 117.9,73.6 119.2,75.5 121.1,76 124.3,75.2 126.1,73.6 126.9,73.9 129.1,73.8 131,74.7 132.8,74.6 134.5,73.8 135.6,72.1 136.8,73.6 139.1,73.9 144.8,73.2 147.6,72.6" class="m"/><path class="n" d="M22.1,87.8l0.3,1.8M24.5,87.1l0.3,2.7M26.8,87.6l0.3,2M29.2,87.3l0.4,1.5M31.6,87.6l0.4,1.7M33.9,87.4l0.4,0.8M36.2,87.2l0.4,1.2M38.5,87.1l0.4,1.3M40.8,86.7l0.4,1.1M43.1,87.5l0.4,0.2M45.4,87.2l0.5,1.3M47.7,86.8l0.5,0.7M49.9,85.5l0.5,2M52.2,83.4l0.5,0.5M54.4,82.8l0.5,0.8M56.7,84.7l0.5,1.7M58.9,84.9l0.5,1.6M61.1,84.7l0.6,1M63.3,83.3l0.6,1.5M65.5,80.9l0.6,1.5M67.7,82.6l0.6,1.6M69.8,82.6l0.6,1.5M72,80.9l0.6,1.7M74.2,73l0.6,3.3M76.3,81.3l0.6,1.3M78.4,82.3l0.7,0.5M80.6,82l0.7,1M82.7,81.6l0.7,1.1M84.8,79.8l0.7,1.5M86.9,72.9l0.7,3.1M89,79.7l0.7,1.6M91,80.6l0.7,0.8M93.1,79.9l0.7,1M95.2,75.3l0.8,1.9M97.2,78.4l0.8,1.8M99.3,77.3l0.8,1.5M101.3,78.3l0.8,1.4M103.3,77l0.8,1.7M105.3,77.3l0.8,1.2M107.3,75.4l0.8,1.8M109.3,68.3l0.8,3M111.3,73.7l0.8,1.9M113.3,73.3l0.8,2M115.3,75.2l0.9,1.4M117.2,74.7l0.9,1.6M119.2,75.6l0.9,1.1M121.1,76l0.9,1.1M123.1,75.6l0.9,1.2M125,74.8l0.9,1.3M126.9,73.9l0.9,1.4M128.9,73.8l0.9,1.3M130.8,74.6l0.9,1M132.7,74.6l0.9,0.9M134.5,73.8l1,1.1M136.4,73.4l1,0.9M138.3,73.8l1,0.9M140.2,73.8l1,0.8M142,73.4l1,1M143.9,73.3l1,0.9M145.7,73l1,0.8"/><path d="M20,90.1 23,89.5 27.3,89.6 29.5,88.8 32.4,89.4 35.3,87.6 37.4,89.1 38.5,88.5 41.7,87.8 44.5,87.8 45.9,88.5 47.4,87.3 49.6,87.8 50.8,87.2 51.8,85.7 54,80.3 55.7,85.2 56.6,86 57.7,86.5 59.1,86.6 63.9,84.8 66,82.4 67.9,84 69.3,84.3 70.8,84 72.2,83.1 73.3,81.2 74.6,74.7 75.3,79 76.6,82.3 77.9,82.9 81.2,82.9 83.9,82.5 85.1,81.8 85.6,81.1 86.7,78.3 87.3,74.5 88,78.1 88.9,80.4 89.6,81.2 90.9,81.6 94.3,80.6 95.2,78.9 95.9,77 96.7,79.1 97.9,80.2 99,80.1 99.5,79.7 100.4,77.9 101.4,79.4 102.1,79.7 103.7,79 104.8,77.4 105.8,78.4 107.2,78.3 108.5,76.6 110.3,71.2 112,75.5 112.8,76.2 113.4,76.2 114.5,74.4 115.3,75.9 116.1,76.6 117.6,76.6 118.8,75.5 120.1,76.7 122.8,77.2 125.6,76.3 127,75 127.9,75.3 130.1,75.1 131.9,75.7 134.8,75.3 135.6,74.8 136.6,73.3 137.7,74.5 139.5,74.7 148.6,73.7 150.7,75.9 20.6,95.9Z" fill="url(#g37)" stroke="url(#g37)" stroke-width="0.7"/><path d="M20,90.1 23,89.5 27.3,89.6 29.5,88.8 32.4,89.4 35.3,87.6 37.4,89.1 38.5,88.5 41.7,87.8 44.5,87.8 45.9,88.5 47.4,87.3 49.6,87.8 50.8,87.2 51.8,85.7 54,80.3 55.7,85.2 56.6,86 57.7,86.5 59.1,86.6 63.9,84.8 66,82.4 67.9,84 69.3,84.3 70.8,84 72.2,83.1 73.3,81.2 74.6,74.7 75.3,79 76.6,82.3 77.9,82.9 81.2,82.9 83.9,82.5 85.1,81.8 85.6,81.1 86.7,78.3 87.3,74.5 88,78.1 88.9,80.4 89.6,81.2 90.9,81.6 94.3,80.6 95.2,78.9 95.9,77 96.7,79.1 97.9,80.2 99,80.1 99.5,79.7 100.4,77.9 101.4,79.4 102.1,79.7 103.7,79 104.8,77.4 105.8,78.4 107.2,78.3 108.5,76.6 110.3,71.2 112,75.5 112.8,76.2 113.4,76.2 114.5,74.4 115.3,75.9 116.1,76.6 117.6,76.6 118.8,75.5 120.1,76.7 122.8,77.2 125.6,76.3 127,75 127.9,75.3 130.1,75.1 131.9,75.7 134.8,75.3 135.6,74.8 136.6,73.3 137.7,74.5 139.5,74.7 148.6,73.7" class="m"/><path class="n" d="M22.4,89.6l0.3,0.6M24.8,89.8l0.3,0.6M27.2,89.6l0.3,1.1M29.6,88.8l0.4,1.7M31.9,89.4l0.4,0.9M34.3,88.2l0.4,1.8M36.6,88.4l0.4,1.7M38.9,88.4l0.4,1.8M41.3,87.8l0.4,2M43.6,87.8l0.5,0.7M45.9,88.5l0.5,-0M48.2,87.5l0.5,1.6M50.4,87.5l0.5,1.1M52.7,83.9l0.5,2.3M54.9,83.6l0.5,1.1M57.2,86.3l0.5,0.2M59.4,86.5l0.5,0.8M61.7,85.6l0.6,1.5M63.9,84.8l0.6,0.9M66.1,82.5l0.6,1.2M68.3,84.1l0.6,1.2M70.4,84.1l0.6,1.2M72.6,82.5l0.6,1.1M74.8,76.3l0.6,2.8M76.9,82.6l0.7,1.2M79.1,82.8l0.7,1.8M81.2,82.9l0.7,1.3M83.3,82.7l0.7,0.8M85.5,81.3l0.7,0.9M87.6,76l0.7,2.5M89.7,81.3l0.7,1.1M91.8,81.4l0.7,1.2M93.8,80.9l0.7,1.1M95.9,77.2l0.8,1.9M98,80.2l0.8,1M100,78.9l0.8,1.2M102.1,79.7l0.8,0.8M104.1,78.7l0.8,0.9M106.1,78.5l0.8,1.1M108.1,77.2l0.8,1.2M110.2,71.4l0.8,2.6M112.2,75.7l0.8,1.8M114.1,75.2l0.9,1.6M116.1,76.6l0.9,1.4M118.1,76.3l0.9,1.4M120.1,76.7l0.9,1.2M122,77.1l0.9,1M124,76.8l0.9,1.2M125.9,76.1l0.9,0.9M127.9,75.3l0.9,1.1M129.8,75.1l0.9,1.2M131.7,75.6l0.9,0.9M133.6,75.5l1,0.9M135.5,74.9l1,0.9M137.4,74.3l1,1.2M139.3,74.7l1,0.9M141.2,74.6l1,0.8M143,74.5l1,0.9M144.9,74.1l1,0.9M146.7,73.8l1,0.9"/><path d="M20.3,90.4 23.3,90.1 27.8,90.8 29.9,90.5 30.6,90.6 32.8,90.1 38.9,90.3 42.2,89.7 45,87.9 47.8,89.1 50.1,88.9 51.3,88.3 52.7,86.9 53.7,85.2 54.6,82.5 56,85.3 57.6,86.5 59.7,87.3 61.7,87.2 63.1,86.8 66.6,83.6 68.2,85.1 70.5,85.4 71.9,84.9 73.5,83.3 74.4,81 75.2,77.7 75.7,80.5 76.4,82.3 77.7,83.9 79.2,84.7 82.5,84.1 85.8,82.5 87.1,80.9 88.1,77.4 89.2,81.2 90.3,82.3 91.5,82.6 93.5,82.4 94.9,81.8 96,80.5 96.6,78.9 97.7,80.8 99.3,81.3 100.3,80.8 101.2,79.1 102.2,80.3 102.9,80.5 104.6,80 105.6,78.6 106.6,79.5 107.7,79.5 108.7,78.8 109.3,78 111.1,73.9 113.2,77.6 113.6,77.8 114.2,77.7 115.4,76.2 116.5,77.8 117.6,78.1 118.9,77.8 119.7,77 121,77.9 124.5,78.1 126.2,77.4 127.9,76.1 132.7,76.6 134.4,76.5 136.4,75.8 137.6,74.6 138.6,75.6 139.6,75.7 143.9,75.4 149.6,74.4 151.7,76.8 20.9,97.1Z" fill="url(#g38)" stroke="url(#g38)" stroke-width="0.7"/><path d="M20.3,90.4 23.3,90.1 27.8,90.8 29.9,90.5 30.6,90.6 32.8,90.1 38.9,90.3 42.2,89.7 45,87.9 47.8,89.1 50.1,88.9 51.3,88.3 52.7,86.9 53.7,85.2 54.6,82.5 56,85.3 57.6,86.5 59.7,87.3 61.7,87.2 63.1,86.8 66.6,83.6 68.2,85.1 70.5,85.4 71.9,84.9 73.5,83.3 74.4,81 75.2,77.7 75.7,80.5 76.4,82.3 77.7,83.9 79.2,84.7 82.5,84.1 85.8,82.5 87.1,80.9 88.1,77.4 89.2,81.2 90.3,82.3 91.5,82.6 93.5,82.4 94.9,81.8 96,80.5 96.6,78.9 97.7,80.8 99.3,81.3 100.3,80.8 101.2,79.1 102.2,80.3 102.9,80.5 104.6,80 105.6,78.6 106.6,79.5 107.7,79.5 108.7,78.8 109.3,78 111.1,73.9 113.2,77.6 113.6,77.8 114.2,77.7 115.4,76.2 116.5,77.8 117.6,78.1 118.9,77.8 119.7,77 121,77.9 124.5,78.1 126.2,77.4 127.9,76.1 132.7,76.6 134.4,76.5 136.4,75.8 137.6,74.6 138.6,75.6 139.6,75.7 143.9,75.4 149.6,74.4" class="m"/><path class="n" d="M22.7,90.2l0.3,2.1M25.1,90.4l0.3,1.9M27.5,90.7l0.4,1.3M29.9,90.5l0.4,1.5M32.3,90.2l0.4,0.5M34.7,90.1l0.4,1M37,90.2l0.4,1.3M39.4,90.2l0.4,0.3M41.7,89.9l0.4,0.4M44,88.4l0.5,1.3M46.3,88.5l0.5,1.7M48.6,89.1l0.5,1.2M50.9,88.6l0.5,0M53.2,86.2l0.5,1.3M55.5,84.7l0.5,2.1M57.7,86.6l0.5,1.7M60,87.3l0.6,1.1M62.2,87.1l0.6,1.1M64.4,85.7l0.6,1.4M66.7,83.7l0.6,1.5M68.9,85.3l0.6,1.2M71.1,85.3l0.6,0.9M73.2,83.6l0.6,1.7M75.4,79.1l0.6,2.5M77.6,83.8l0.7,1.5M79.8,84.6l0.7,0.8M81.9,84.2l0.7,1.2M84,83.5l0.7,1.6M86.2,82.2l0.7,1.8M88.3,78.5l0.7,1.7M90.4,82.3l0.7,1.3M92.5,82.6l0.7,1.1M94.6,82l0.8,1.1M96.7,79l0.8,1.5M98.7,81.2l0.8,0.8M100.8,80l0.8,1.1M102.9,80.5l0.8,1.2M104.9,79.6l0.8,1.2M106.9,79.6l0.8,1.1M109,78.4l0.8,1.6M111,74l0.8,2.1M113,77.4l0.9,1.3M115,76.9l0.9,1.5M117,78l0.9,1M119,77.7l0.9,1M121,77.9l0.9,1.2M122.9,78.1l0.9,1.1M124.9,78l0.9,1M126.8,77l0.9,1.2M128.8,76.3l0.9,1.2M130.7,76.3l1,1.1M132.6,76.6l1,1M134.6,76.4l1,1M136.5,75.8l1,1.1M138.4,75.4l1,1M140.3,75.7l1,1M142.2,75.5l1,1M144,75.4l1,0.9M145.9,75.1l1,0.8M147.8,74.7l1,0.9"/><path d="M20.6,91.8 23.6,92.4 30.3,91.9 33.2,90.5 36.8,91.6 39.4,90.6 45.5,89.6 47.6,90.5 49,90.4 51.1,88.8 52.9,88.1 53.6,87.6 55.1,84.9 56,86.8 58.8,88.6 59.5,88.7 60.2,88.3 62.3,88.5 64.4,87.7 67.2,85.2 68.5,86.2 69.5,86.5 73.3,85.8 74.6,84.4 75.8,80.5 77.1,84.1 78.4,85.4 83.4,85.4 85.2,84.9 86.5,84.3 87,83.8 88.1,81.8 88.8,79.3 89.5,81.6 90.4,83.2 91,83.6 92.3,83.7 94.3,83.4 95.7,82.9 96.8,81.8 97.4,80.4 98.2,81.6 99.4,82.1 101.1,81.7 102,80.4 102.6,81.3 103.3,81.7 105.7,80.8 106.4,80.1 107,80.7 108.9,80.6 110.1,79.7 112,76 113.7,78.6 114.4,79 115.5,78.7 116.3,77.9 117.5,78.9 119.2,78.9 120.6,78.1 121.5,78.9 122.6,79.2 126,78.9 128.8,77.5 132,77.3 134.4,77.6 136.5,77.3 137.6,76.8 138.6,75.8 139.6,76.5 140.9,76.7 150.7,75.4 152.8,77.7 21.2,98.3Z" fill="url(#g39)" stroke="url(#g39)" stroke-width="0.7"/><path d="M20.6,91.8 23.6,92.4 30.3,91.9 33.2,90.5 36.8,91.6 39.4,90.6 45.5,89.6 47.6,90.5 49,90.4 51.1,88.8 52.9,88.1 53.6,87.6 55.1,84.9 56,86.8 58.8,88.6 59.5,88.7 60.2,88.3 62.3,88.5 64.4,87.7 67.2,85.2 68.5,86.2 69.5,86.5 73.3,85.8 74.6,84.4 75.8,80.5 77.1,84.1 78.4,85.4 83.4,85.4 85.2,84.9 86.5,84.3 87,83.8 88.1,81.8 88.8,79.3 89.5,81.6 90.4,83.2 91,83.6 92.3,83.7 94.3,83.4 95.7,82.9 96.8,81.8 97.4,80.4 98.2,81.6 99.4,82.1 101.1,81.7 102,80.4 102.6,81.3 103.3,81.7 105.7,80.8 106.4,80.1 107,80.7 108.9,80.6 110.1,79.7 112,76 113.7,78.6 114.4,79 115.5,78.7 116.3,77.9 117.5,78.9 119.2,78.9 120.6,78.1 121.5,78.9 122.6,79.2 126,78.9 128.8,77.5 132,77.3 134.4,77.6 136.5,77.3 137.6,76.8 138.6,75.8 139.6,76.5 140.9,76.7 150.7,75.4" class="m"/><path class="n" d="M23.1,92.3l0.3,1.1M25.5,92.3l0.3,0.7M27.9,92.1l0.4,0.7M30.3,91.9l0.4,0.7M32.7,90.7l0.4,2.2M35.1,91l0.4,0.8M37.4,91.4l0.4,0.8M39.8,90.6l0.4,1.2M42.1,90.3l0.5,1.3M44.5,89.8l0.5,1.9M46.8,90.2l0.5,1.2M49.1,90.3l0.5,1M51.4,88.6l0.5,1.6M53.7,87.4l0.5,1.5M56,86.8l0.5,1.3M58.3,88.3l0.6,0.9M60.5,88.4l0.6,1.2M62.8,88.2l0.6,0.6M65,87.1l0.6,1M67.3,85.2l0.6,0.9M69.5,86.5l0.6,1.2M71.7,86.2l0.6,1.4M73.9,85.3l0.6,1.4M76.1,81.5l0.7,1.8M78.3,85.4l0.7,0.8M80.4,85.4l0.7,0.8M82.6,85.4l0.7,1.1M84.7,85.1l0.7,1M86.9,84l0.7,1.3M89,80.2l0.7,2.1M91.1,83.6l0.7,1.1M93.2,83.7l0.8,1M95.3,83.1l0.8,1.3M97.4,80.5l0.8,1.6M99.5,82.1l0.8,1.3M101.6,81.1l0.8,1.4M103.7,81.7l0.8,1.1M105.7,80.8l0.8,1.3M107.8,80.7l0.8,1.3M109.8,80l0.8,1.1M111.8,76.1l0.9,1.9M113.9,78.7l0.9,1.6M115.9,78.4l0.9,1.3M117.9,79l0.9,1.4M119.9,78.6l0.9,1.2M121.9,79l0.9,0.9M123.8,79.2l0.9,1.1M125.8,79l0.9,0.8M127.8,78.2l0.9,0.9M129.7,77.5l1,1M131.7,77.4l1,1.2M133.6,77.6l1,1.1M135.5,77.4l1,1.1M137.5,76.9l1,1M139.4,76.4l1,1.1M141.3,76.7l1,0.9M143.2,76.5l1,0.8M145,76.3l1,0.8M146.9,75.9l1,0.9M148.8,75.6l1,1"/><path d="M20.9,93.3 22.4,93.9 23.9,93 24.7,92.9 30.6,92.6 32.9,93 36.5,91.4 38.7,92.7 39.8,91.9 42.3,91.5 44.5,92 45.9,91 48.8,91.6 51.6,90.3 53.4,90.2 55.6,86.4 56.1,87.6 56.5,88.1 57.8,88.4 60.1,89.8 63.6,88.8 64.9,88.8 67.8,86.1 70.4,87.9 73.2,87.6 73.8,87.4 74.8,86.4 75.9,84.6 76.5,82.6 77.3,84.4 79.2,86.4 79.9,86.7 81.2,86.1 83.2,86.5 83.9,86.2 85.9,86.1 87.8,85.1 88.8,83.6 89.5,81.7 90.2,83.4 91.2,84.5 93,84.8 96.1,84.3 97.1,83.6 98.2,82 99,83.2 99.7,83.4 101.9,83 102.8,81.7 103.4,82.4 104.5,82.8 106.2,82.3 107.2,81.4 108.3,82 109.5,81.8 111,80.8 112.8,77.9 114.9,80.4 115.9,80.3 117.1,79.2 118.3,80.3 119.4,80.5 120.6,79.9 121.5,79.2 122.8,80 125.2,80.2 127.9,79.4 129.8,78.5 134.8,78.7 137.2,78.4 138.6,77.8 139.5,76.9 140.6,77.6 142.7,77.6 151.7,76.1 153.9,78.6 21.6,99.5Z" fill="url(#g310)" stroke="url(#g310)" stroke-width="0.7"/><path d="M20.9,93.3 22.4,93.9 23.9,93 24.7,92.9 30.6,92.6 32.9,93 36.5,91.4 38.7,92.7 39.8,91.9 42.3,91.5 44.5,92 45.9,91 48.8,91.6 51.6,90.3 53.4,90.2 55.6,86.4 56.1,87.6 56.5,88.1 57.8,88.4 60.1,89.8 63.6,88.8 64.9,88.8 67.8,86.1 70.4,87.9 73.2,87.6 73.8,87.4 74.8,86.4 75.9,84.6 76.5,82.6 77.3,84.4 79.2,86.4 79.9,86.7 81.2,86.1 83.2,86.5 83.9,86.2 85.9,86.1 87.8,85.1 88.8,83.6 89.5,81.7 90.2,83.4 91.2,84.5 93,84.8 96.1,84.3 97.1,83.6 98.2,82 99,83.2 99.7,83.4 101.9,83 102.8,81.7 103.4,82.4 104.5,82.8 106.2,82.3 107.2,81.4 108.3,82 109.5,81.8 111,80.8 112.8,77.9 114.9,80.4 115.9,80.3 117.1,79.2 118.3,80.3 119.4,80.5 120.6,79.9 121.5,79.2 122.8,80 125.2,80.2 127.9,79.4 129.8,78.5 134.8,78.7 137.2,78.4 138.6,77.8 139.5,76.9 140.6,77.6 142.7,77.6 151.7,76.1" class="m"/><path class="n" d="M23.4,93.4l0.3,1.1M25.8,92.9l0.3,1.8M28.3,92.8l0.4,1.3M30.7,92.6l0.4,1.2M33.1,92.9l0.4,0.6M35.5,91.9l0.4,2.2M37.9,92.2l0.4,1.3M40.2,91.8l0.4,1.5M42.6,91.5l0.5,2M44.9,91.6l0.5,1.4M47.3,91.4l0.5,0.9M49.6,91.3l0.5,0.2M51.9,90.3l0.5,0.5M54.2,88.9l0.5,1.6M56.5,88.1l0.5,1.3M58.8,89.2l0.6,1.6M61.1,89.6l0.6,1.3M63.4,88.8l0.6,1.6M65.6,88.2l0.6,1.3M67.9,86.2l0.6,1.6M70.1,87.7l0.6,1M72.3,87.6l0.6,1.3M74.5,86.7l0.7,1M76.7,83.3l0.7,1.8M78.9,86.1l0.7,1.5M81.1,86.1l0.7,1.3M83.3,86.5l0.7,0.5M85.4,86.1l0.7,0.6M87.6,85.2l0.7,0.8M89.7,82.4l0.7,1.3M91.9,84.7l0.8,0.6M94,84.6l0.8,1.3M96.1,84.3l0.8,1M98.2,82.1l0.8,1.6M100.3,83.4l0.8,1.2M102.4,82.5l0.8,0.9M104.5,82.8l0.8,0.8M106.5,82.1l0.8,0.9M108.6,82l0.8,1M110.7,81.1l0.9,1.1M112.7,78l0.9,1.8M114.7,80.3l0.9,1M116.8,79.7l0.9,1.4M118.8,80.4l0.9,1M120.8,79.9l0.9,1.2M122.8,79.9l0.9,1.2M124.8,80.2l0.9,1M126.7,79.8l0.9,1M128.7,79.1l1,1.2M130.7,78.6l1,1.3M132.6,78.5l1,1M134.6,78.7l1,0.8M136.5,78.5l1,0.9M138.4,77.8l1,0.9M140.4,77.5l1,1M142.3,77.6l1,1M144.2,77.3l1,1M146.1,77l1,0.9M148,76.9l1.1,0.9M149.8,76.6l1.1,0.9"/><path d="M21.2,95.1 22,95.3 24.3,94.2 26.5,94.8 28,94.1 34,93.4 36.2,94.1 39.9,93.2 42.8,93.6 46.4,92.9 52.2,90.8 53.9,90.9 54.7,90.7 56.1,87.7 57,89.3 57.8,90.1 59.1,90.7 60.6,91 62.1,90.9 65.2,90.1 68.4,87.7 70.8,88.7 73.1,88.9 75.4,87.4 76.5,85.9 77.2,84.4 78.6,87.2 80.6,87.6 87.9,86.2 89.2,85.1 90.2,83.1 91.4,84.8 94.9,85.9 97.8,84.9 99,83.6 100,84.5 101.7,84.4 102.9,83.7 103.6,82.7 104.2,83.3 105.1,83.6 107,83.2 108.1,82.4 110.2,83.1 111.6,82.1 113.7,79.7 114.2,79.8 115.6,81.2 116.4,81.6 117.3,81.4 118,80.7 119.6,81.4 121.2,81.2 122.4,80.5 123.7,81.1 125.6,81.2 128.8,80.7 130.7,79.7 137,79.6 139.3,78.8 140.6,78 141.6,78.5 142.7,78.7 152.8,77.2 155,79.6 21.9,100.7Z" fill="url(#g311)" stroke="url(#g311)" stroke-width="0.7"/><path d="M21.2,95.1 22,95.3 24.3,94.2 26.5,94.8 28,94.1 34,93.4 36.2,94.1 39.9,93.2 42.8,93.6 46.4,92.9 52.2,90.8 53.9,90.9 54.7,90.7 56.1,87.7 57,89.3 57.8,90.1 59.1,90.7 60.6,91 62.1,90.9 65.2,90.1 68.4,87.7 70.8,88.7 73.1,88.9 75.4,87.4 76.5,85.9 77.2,84.4 78.6,87.2 80.6,87.6 87.9,86.2 89.2,85.1 90.2,83.1 91.4,84.8 94.9,85.9 97.8,84.9 99,83.6 100,84.5 101.7,84.4 102.9,83.7 103.6,82.7 104.2,83.3 105.1,83.6 107,83.2 108.1,82.4 110.2,83.1 111.6,82.1 113.7,79.7 114.2,79.8 115.6,81.2 116.4,81.6 117.3,81.4 118,80.7 119.6,81.4 121.2,81.2 122.4,80.5 123.7,81.1 125.6,81.2 128.8,80.7 130.7,79.7 137,79.6 139.3,78.8 140.6,78 141.6,78.5 142.7,78.7 152.8,77.2" class="m"/><path class="n" d="M23.7,94.5l0.3,1.9M26.2,94.7l0.4,1.1M28.6,94.1l0.4,1.8M31.1,93.8l0.4,1M33.5,93.5l0.4,1.9M35.9,94l0.4,1.1M38.3,93.5l0.4,1.2M40.7,93.2l0.4,1.1M43.1,93.5l0.5,0.6M45.4,93.1l0.5,1.3M47.8,92.3l0.5,1.7M50.1,91.4l0.5,1.7M52.4,90.8l0.5,2.2M54.8,90.5l0.5,1.3M57.1,89.4l0.6,1.2M59.4,90.8l0.6,0M61.7,90.9l0.6,-0.7M63.9,90.4l0.6,0.9M66.2,89.5l0.6,1.1M68.5,87.7l0.6,1.2M70.7,88.7l0.6,1.1M73,88.9l0.6,0.6M75.2,87.6l0.7,1.7M77.4,85.1l0.7,1.8M79.6,87.6l0.7,1.1M81.8,87.4l0.7,0.9M84,87l0.7,1.1M86.2,86.7l0.7,1.2M88.3,86l0.7,1.6M90.5,83.6l0.8,1.7M92.6,85.3l0.8,1.3M94.8,85.9l0.8,0.9M96.9,85.3l0.8,1.2M99,83.6l0.8,1.3M101.1,84.6l0.8,1M103.2,83.3l0.8,1M105.3,83.6l0.8,1.3M107.4,83l0.8,1.4M109.5,83l0.9,1.1M111.5,82.2l0.9,1.4M113.6,79.8l0.9,1.7M115.6,81.2l0.9,1.5M117.6,81.1l0.9,1.1M119.7,81.4l0.9,1.1M121.7,81l0.9,1.1M123.7,81.1l0.9,1M125.7,81.2l0.9,1M127.7,80.8l1,1M129.7,80.3l1,1.1M131.6,79.8l1,0.9M133.6,79.5l1,1M135.6,79.5l1,1.1M137.5,79.4l1,0.9M139.4,78.8l1,1M141.4,78.4l1,0.9M143.3,78.6l1,0.8M145.2,78.3l1,1M147.1,78l1.1,1.1M149,77.7l1.1,1M150.9,77.5l1.1,0.9"/><path d="M21.6,95.7 23.9,96.3 27.6,95.7 29.1,95.7 31.4,94.8 34.4,95.4 40.7,94.2 41.8,94.7 42.5,94.7 44,94 45.4,94.4 46.9,94 47.6,94.2 49.8,93.2 52.7,93 54.4,92.4 55.8,91.2 56.7,89.4 57.6,90.5 58.4,90.9 59.8,90.8 61.9,90 64.7,91.4 66.8,90.6 69,88.9 72.2,90.2 73.7,89.4 75.4,89.6 77.2,87.7 77.8,86.5 78.6,87.6 80.6,88.9 82.6,88.3 88.6,87.7 89.8,86.9 91,84.8 91.7,86.2 92.2,86.5 96.5,86.8 98.6,86.1 99.8,84.9 100.8,85.6 102.9,85.5 104.5,83.6 105.4,84.5 106.8,85 108.9,83.8 110,84.1 111.8,83.9 112.7,83.4 114.6,81.4 116.7,82.8 117.7,82.6 118.9,81.9 119.7,82.5 121.5,82.5 123.3,81.6 124.6,82.2 126.1,82.3 129.8,81.7 131.7,80.8 138.7,80.3 140.4,79.8 141.6,79 142.7,79.4 145.7,79.3 153.9,78.2 156.1,80.5 22.2,102Z" fill="url(#g312)" stroke="url(#g312)" stroke-width="0.7"/><path d="M21.6,95.7 23.9,96.3 27.6,95.7 29.1,95.7 31.4,94.8 34.4,95.4 40.7,94.2 41.8,94.7 42.5,94.7 44,94 45.4,94.4 46.9,94 47.6,94.2 49.8,93.2 52.7,93 54.4,92.4 55.8,91.2 56.7,89.4 57.6,90.5 58.4,90.9 59.8,90.8 61.9,90 64.7,91.4 66.8,90.6 69,88.9 72.2,90.2 73.7,89.4 75.4,89.6 77.2,87.7 77.8,86.5 78.6,87.6 80.6,88.9 82.6,88.3 88.6,87.7 89.8,86.9 91,84.8 91.7,86.2 92.2,86.5 96.5,86.8 98.6,86.1 99.8,84.9 100.8,85.6 102.9,85.5 104.5,83.6 105.4,84.5 106.8,85 108.9,83.8 110,84.1 111.8,83.9 112.7,83.4 114.6,81.4 116.7,82.8 117.7,82.6 118.9,81.9 119.7,82.5 121.5,82.5 123.3,81.6 124.6,82.2 126.1,82.3 129.8,81.7 131.7,80.8 138.7,80.3 140.4,79.8 141.6,79 142.7,79.4 145.7,79.3 153.9,78.2" class="m"/><path class="n" d="M24.1,96.3l0.3,0.6M26.5,95.8l0.4,1.4M29,95.8l0.4,1.1M31.4,94.8l0.4,2.1M33.9,95.4l0.4,0.6M36.3,95.1l0.4,1.1M38.7,94.7l0.4,1.2M41.1,94.4l0.5,1.6M43.5,94.1l0.5,1.6M45.9,94.4l0.5,0.9M48.3,94l0.5,1M50.6,93.1l0.5,1.6M53,93l0.5,1.1M55.3,91.8l0.5,0.5M57.6,90.5l0.6,1.2M59.9,90.8l0.6,2.4M62.2,90.2l0.6,2.9M64.5,91.3l0.6,1M66.8,90.6l0.6,1M69.1,88.9l0.6,1.6M71.4,89.8l0.6,1.1M73.6,89.5l0.7,0.9M75.8,89.3l0.7,1M78.1,86.9l0.7,1M80.3,88.7l0.7,1M82.5,88.3l0.7,1.7M84.7,88.1l0.7,1.5M86.9,88l0.7,0.9M89.1,87.6l0.7,0.7M91.2,85.3l0.8,1.6M93.4,86.5l0.8,1.4M95.5,86.7l0.8,1.1M97.7,86.5l0.8,0.9M99.8,84.9l0.8,1.2M101.9,85.6l0.8,0.9M104,84.3l0.8,1.1M106.1,84.9l0.8,1.2M108.2,84.4l0.9,1.2M110.3,84.1l0.9,0.7M112.4,83.6l0.9,1M114.4,81.4l0.9,1.5M116.5,82.7l0.9,1.2M118.5,82.2l0.9,1.2M120.6,82.6l0.9,1M122.6,82.1l0.9,1.1M124.6,82.2l0.9,1M126.6,82.2l1,0.9M128.6,81.9l1,1M130.6,81.4l1,1.1M132.6,80.8l1,1.2M134.6,80.6l1,1M136.6,80.6l1,1M138.5,80.3l1,1M140.5,79.8l1,1.1M142.4,79.3l1,1.1M144.3,79.4l1,1.1M146.3,79.3l1.1,0.8M148.2,79.1l1.1,0.9M150.1,78.7l1.1,0.9M152,78.5l1.1,0.9"/><path d="M21.9,97.5 25,96.8 27.2,97.3 28.8,96.9 31.8,96.9 34.8,95.9 36.3,96.5 37.8,95.5 40,96.2 41.1,95.9 45.2,95.8 47.4,95 50.3,94.9 53.2,94.1 54.2,94.2 55.4,93 57.2,90.1 58.2,91.8 59.5,92.9 61.8,93.3 67.2,91.6 69.7,90.5 70.2,90.8 71.6,90.9 74.4,90.4 75.9,90.9 78.5,87.5 79.3,88.7 80.4,89.6 83.3,90 90.1,88.2 91,87.6 91.8,86.5 92.9,87.7 95.4,88.2 97.3,87.3 99.5,87.2 100.6,86.1 101.6,86.6 103.4,86.4 104.6,85.8 105.3,84.9 106.3,85.8 107.6,86.1 108.7,85.8 109.8,84.9 113,84.7 114.1,84.2 115.5,82.8 117.6,84 119.9,83.2 120.6,83.6 123,83.4 124.2,82.6 125.5,83.2 128.6,83.1 132.7,82 140.2,81.3 141.6,80.8 142.6,80.2 143.7,80.5 145.8,80.5 155,79.1 157.2,81.5 22.6,103.2Z" fill="url(#g313)" stroke="url(#g313)" stroke-width="0.7"/><path d="M21.9,97.5 25,96.8 27.2,97.3 28.8,96.9 31.8,96.9 34.8,95.9 36.3,96.5 37.8,95.5 40,96.2 41.1,95.9 45.2,95.8 47.4,95 50.3,94.9 53.2,94.1 54.2,94.2 55.4,93 57.2,90.1 58.2,91.8 59.5,92.9 61.8,93.3 67.2,91.6 69.7,90.5 70.2,90.8 71.6,90.9 74.4,90.4 75.9,90.9 78.5,87.5 79.3,88.7 80.4,89.6 83.3,90 90.1,88.2 91,87.6 91.8,86.5 92.9,87.7 95.4,88.2 97.3,87.3 99.5,87.2 100.6,86.1 101.6,86.6 103.4,86.4 104.6,85.8 105.3,84.9 106.3,85.8 107.6,86.1 108.7,85.8 109.8,84.9 113,84.7 114.1,84.2 115.5,82.8 117.6,84 119.9,83.2 120.6,83.6 123,83.4 124.2,82.6 125.5,83.2 128.6,83.1 132.7,82 140.2,81.3 141.6,80.8 142.6,80.2 143.7,80.5 145.8,80.5 155,79.1" class="m"/><path class="n" d="M24.4,96.9l0.3,-0.8M26.9,97.2l0.4,-0.2M29.4,96.9l0.4,1.2M31.8,96.9l0.4,0.7M34.3,96l0.4,1.8M36.7,96.2l0.4,0.7M39.2,95.9l0.4,1.6M41.6,95.9l0.5,0.3M44,95.7l0.5,0.4M46.4,95.4l0.5,1.5M48.8,95l0.5,0.5M51.1,94.7l0.5,0M53.5,94.1l0.5,0.8M55.9,92.3l0.6,1.8M58.2,91.8l0.6,1.9M60.5,93.2l0.6,1.2M62.8,93.1l0.6,1.3M65.1,92.3l0.6,1.2M67.4,91.5l0.6,1.5M69.7,90.5l0.6,1.3M72,90.9l0.7,1.4M74.3,90.5l0.7,0.9M76.5,90.3l0.7,1.4M78.8,88l0.7,1.7M81,89.8l0.7,1.2M83.2,90l0.7,1M85.4,89.6l0.7,0.6M87.6,88.9l0.7,0.9M89.8,88.3l0.8,1.5M92,86.9l0.8,0.8M94.2,87.9l0.8,1.2M96.3,87.8l0.8,1.1M98.5,87.3l0.8,1.1M100.6,86.2l0.8,1.2M102.8,86.6l0.8,1.2M104.9,85.5l0.8,1.4M107,86.1l0.9,0.9M109.1,85.6l0.9,0.9M111.2,84.8l0.9,1.3M113.3,84.6l0.9,1.3M115.3,82.9l0.9,1.3M117.4,84l0.9,1.1M119.5,83.4l0.9,1.3M121.5,83.5l0.9,1.1M123.5,83.2l0.9,1M125.6,83.2l1,1M127.6,83.1l1,1.2M129.6,82.8l1,1.1M131.6,82.4l1,1.1M133.6,82l1,1M135.6,81.6l1,1.1M137.6,81.6l1,1.1M139.5,81.4l1,1M141.5,80.9l1,1M143.4,80.5l1.1,1.1M145.4,80.5l1.1,1.1M147.3,80.1l1.1,1.1M149.2,80l1.1,1M151.2,79.7l1.1,1M153.1,79.4l1.1,1"/><path d="M22.2,98.6 25.3,95.5 26.1,95.9 28.4,98.1 29.1,98.3 32.2,97.6 35.2,97.8 38.2,96.4 39.7,97.6 41.6,95.8 42.7,96.8 43.5,97 44.9,95.9 46.4,96.6 47.2,96.7 50.8,94.7 53.7,94.9 55.2,94.7 56.6,94 57.8,92.5 58.7,93.7 59.5,94.1 61,94.4 63.1,94.4 68.9,92.8 70.3,91.8 72.3,92.3 75.1,91.3 77.4,91.7 79.2,89.3 80.5,90.5 83.1,91.3 86.8,90 90.8,89.7 92.5,87.2 93.7,88.8 94.9,89.2 99.2,88.5 101.4,87.3 102.5,88 104.6,87.6 105.4,87.2 106.1,86.2 107.1,86.9 108,87 109.3,86.8 110.7,86 113.8,86 115,85.5 116.4,84.1 118.2,85 119.2,85.1 120.8,84.5 121.9,84.7 123.8,84.5 125.2,83.8 126.6,84.2 129,84.2 135.8,82.7 139.8,82.5 142.4,81.9 143.7,81.3 144.8,81.6 146.6,81.5 156.1,79.9 158.3,82.5 22.9,104.5Z" fill="url(#g314)" stroke="url(#g314)" stroke-width="0.7"/><path d="M22.2,98.6 25.3,95.5 26.1,95.9 28.4,98.1 29.1,98.3 32.2,97.6 35.2,97.8 38.2,96.4 39.7,97.6 41.6,95.8 42.7,96.8 43.5,97 44.9,95.9 46.4,96.6 47.2,96.7 50.8,94.7 53.7,94.9 55.2,94.7 56.6,94 57.8,92.5 58.7,93.7 59.5,94.1 61,94.4 63.1,94.4 68.9,92.8 70.3,91.8 72.3,92.3 75.1,91.3 77.4,91.7 79.2,89.3 80.5,90.5 83.1,91.3 86.8,90 90.8,89.7 92.5,87.2 93.7,88.8 94.9,89.2 99.2,88.5 101.4,87.3 102.5,88 104.6,87.6 105.4,87.2 106.1,86.2 107.1,86.9 108,87 109.3,86.8 110.7,86 113.8,86 115,85.5 116.4,84.1 118.2,85 119.2,85.1 120.8,84.5 121.9,84.7 123.8,84.5 125.2,83.8 126.6,84.2 129,84.2 135.8,82.7 139.8,82.5 142.4,81.9 143.7,81.3 144.8,81.6 146.6,81.5 156.1,79.9" class="m"/><path class="n" d="M24.7,96.1l0.4,3.2M27.2,97.1l0.4,2.9M29.7,98.2l0.4,1.2M32.2,97.6l0.4,0.6M34.7,97.8l0.4,1.1M37.2,96.9l0.4,2.1M39.6,97.5l0.5,0.7M42,96.2l0.5,1.3M44.5,96.1l0.5,1.6M46.9,96.8l0.5,0.9M49.3,95.5l0.5,1.7M51.7,94.7l0.5,2.5M54,94.9l0.5,1.7M56.4,94.2l0.6,1M58.8,93.7l0.6,0.6M61.1,94.5l0.6,0.6M63.4,94.4l0.6,0.5M65.8,93.5l0.6,1.5M68.1,93l0.6,1.2M70.4,91.8l0.6,1M72.6,92.2l0.7,1.2M74.9,91.4l0.7,2.1M77.2,91.7l0.7,1.3M79.4,89.6l0.7,1.7M81.7,91l0.7,1.4M83.9,91l0.7,1.1M86.2,90.2l0.7,1.2M88.4,89.8l0.8,1.4M90.6,89.7l0.8,1M92.8,87.7l0.8,1.1M94.9,89.2l0.8,0.8M97.1,88.9l0.8,1.1M99.3,88.5l0.8,1.3M101.4,87.3l0.8,1M103.6,87.8l0.8,1.1M105.7,86.8l0.9,1.1M107.8,87l0.9,1.2M110,86.5l0.9,1.3M112.1,86.1l0.9,1.2M114.2,85.9l0.9,0.8M116.2,84.2l0.9,1.4M118.3,85l0.9,1.3M120.4,84.8l0.9,0.9M122.4,84.7l0.9,1.1M124.5,84.2l1,0.9M126.5,84.2l1,1M128.6,84.2l1,1M130.6,83.9l1,1M132.6,83.5l1,1M134.6,83l1,1.1M136.6,82.7l1,1.2M138.6,82.6l1,0.9M140.6,82.4l1,0.9M142.5,81.9l1.1,0.9M144.5,81.5l1.1,1M146.4,81.5l1.1,0.9M148.4,81.2l1.1,0.9M150.3,80.9l1.1,0.9M152.2,80.6l1.1,1M154.2,80.4l1.1,0.9"/><path d="M22.6,100.4 25.7,99.1 27.2,99.9 28.8,98.9 29.5,98.9 30.4,99.6 32.6,98.2 35.6,99 37.2,99.1 38.7,98.8 42,97.2 43.9,98.4 45.4,97.6 46.9,98.1 48.4,97.2 52.8,97.3 54.3,96.6 55.7,96.4 58.4,93.2 59.4,94.4 60.7,94.9 66.6,95 67.7,94.7 71,92.8 73.7,93.5 77.3,93.3 79.1,92 79.9,91 80.7,91.9 82.5,92.4 85.5,92.2 87.5,91 90.2,91.3 90.9,91.1 92.1,90.1 93.3,88.4 94.5,89.5 97,90.3 98.9,89.5 100.4,89.8 102.2,88.3 103.3,88.8 105,88.9 106,88.5 107,87.4 108,88.2 108.9,88.2 114.1,87.1 117.3,85.6 119.4,86.3 121.7,85.5 122.5,85.9 124.3,85.6 126.2,84.7 128.1,85.3 130,85.2 132.5,84.8 134.7,84.1 142.3,83.2 144.7,82.2 146.3,82.6 157.2,81 159.5,83.4 23.2,105.8Z" fill="url(#g315)" stroke="url(#g315)" stroke-width="0.7"/><path d="M22.6,100.4 25.7,99.1 27.2,99.9 28.8,98.9 29.5,98.9 30.4,99.6 32.6,98.2 35.6,99 37.2,99.1 38.7,98.8 42,97.2 43.9,98.4 45.4,97.6 46.9,98.1 48.4,97.2 52.8,97.3 54.3,96.6 55.7,96.4 58.4,93.2 59.4,94.4 60.7,94.9 66.6,95 67.7,94.7 71,92.8 73.7,93.5 77.3,93.3 79.1,92 79.9,91 80.7,91.9 82.5,92.4 85.5,92.2 87.5,91 90.2,91.3 90.9,91.1 92.1,90.1 93.3,88.4 94.5,89.5 97,90.3 98.9,89.5 100.4,89.8 102.2,88.3 103.3,88.8 105,88.9 106,88.5 107,87.4 108,88.2 108.9,88.2 114.1,87.1 117.3,85.6 119.4,86.3 121.7,85.5 122.5,85.9 124.3,85.6 126.2,84.7 128.1,85.3 130,85.2 132.5,84.8 134.7,84.1 142.3,83.2 144.7,82.2 146.3,82.6 157.2,81" class="m"/><path class="n" d="M25.1,99.3l0.4,1.3M27.6,99.9l0.4,0.3M30.1,99.4l0.4,1.4M32.6,98.2l0.4,2.1M35.1,98.9l0.4,1.1M37.6,99.1l0.4,0.9M40.1,98.2l0.5,1.7M42.5,97.5l0.5,1.9M44.9,97.8l0.5,1.6M47.4,97.8l0.5,1.4M49.8,97.2l0.5,1.8M52.2,97.2l0.5,1.2M54.6,96.6l0.6,0.9M57,95.2l0.6,1.5M59.3,94.3l0.6,1.8M61.7,95l0.6,1.6M64,94.9l0.6,0.5M66.4,95l0.6,1M68.7,94.2l0.6,1.4M71,92.9l0.7,1.5M73.3,93.4l0.7,1.3M75.6,93.4l0.7,1.3M77.9,93l0.7,1.1M80.2,91.4l0.7,1.3M82.4,92.4l0.7,1M84.7,92.1l0.7,1.4M86.9,91.4l0.8,1.5M89.1,91.2l0.8,1.5M91.3,90.8l0.8,1.2M93.5,88.7l0.8,1.9M95.7,90l0.8,1.3M97.9,90l0.8,1.2M100.1,89.7l0.8,1M102.3,88.3l0.8,1.6M104.4,88.9l0.9,1.2M106.6,88l0.9,1.1M108.7,88.2l0.9,1.1M110.8,87.8l0.9,1M113,87.3l0.9,0.9M115.1,86.7l0.9,1.4M117.2,85.6l0.9,1.3M119.2,86.3l0.9,0.9M121.3,85.7l0.9,1.1M123.4,85.8l1,1.1M125.5,85.2l1,1.1M127.5,85.2l1,1M129.5,85.2l1,0.9M131.6,84.9l1,1M133.6,84.5l1,1M135.6,84.1l1,1M137.6,83.8l1,1M139.6,83.5l1,1M141.6,83.3l1.1,0.9M143.6,82.8l1.1,1.1M145.6,82.5l1.1,1M147.5,82.4l1.1,1M149.5,82.1l1.1,1M151.4,81.9l1.1,1M153.4,81.6l1.1,0.9M155.3,81.2l1.1,1"/><path d="M22.9,101.6 23.7,101.9 26,100.2 29.1,100.4 31.5,100.9 33,100.2 34.5,100.1 39.1,100 42.5,99.5 50.4,98.9 57,97 58,96.4 59,95.2 60,96.1 61.8,96.9 64.3,95.3 67.2,96 70,95.3 71.6,94.4 74.9,94.8 77.2,94.6 79.3,93.7 80.6,92.4 81.9,93.2 84.1,93.5 85.5,93.5 88.3,92.7 89.7,92.8 92.9,91.7 94.1,90.4 95.3,91.1 97.8,91.4 99.8,90.8 102,90.6 103.1,89.9 104.5,90.2 106.3,89.9 107.9,88.5 108.5,89 109.6,89.3 111.1,89.1 112.4,88.3 115.4,88.5 118.2,86.8 120.3,87.2 122.7,86.7 123.8,87 125.3,86.9 127.1,85.6 129.1,86.4 132.8,85.9 135.7,85.2 144.6,84 145.8,83.2 147.6,83.6 158.3,82 160.7,84.4 23.6,107.1Z" fill="url(#g316)" stroke="url(#g316)" stroke-width="0.7"/><path d="M22.9,101.6 23.7,101.9 26,100.2 29.1,100.4 31.5,100.9 33,100.2 34.5,100.1 39.1,100 42.5,99.5 50.4,98.9 57,97 58,96.4 59,95.2 60,96.1 61.8,96.9 64.3,95.3 67.2,96 70,95.3 71.6,94.4 74.9,94.8 77.2,94.6 79.3,93.7 80.6,92.4 81.9,93.2 84.1,93.5 85.5,93.5 88.3,92.7 89.7,92.8 92.9,91.7 94.1,90.4 95.3,91.1 97.8,91.4 99.8,90.8 102,90.6 103.1,89.9 104.5,90.2 106.3,89.9 107.9,88.5 108.5,89 109.6,89.3 111.1,89.1 112.4,88.3 115.4,88.5 118.2,86.8 120.3,87.2 122.7,86.7 123.8,87 125.3,86.9 127.1,85.6 129.1,86.4 132.8,85.9 135.7,85.2 144.6,84 145.8,83.2 147.6,83.6 158.3,82" class="m"/><path class="n" d="M25.4,100.6l0.4,2.3M28,100.2l0.4,1.9M30.5,100.7l0.4,0.8M33,100.2l0.4,1.5M35.5,100l0.4,1M38,100l0.4,0.8M40.5,99.8l0.5,1M43,99.4l0.5,-0.7M45.4,99.3l0.5,-0.1M47.9,99.1l0.5,1.1M50.3,99l0.5,1.2M52.7,98.4l0.5,1.3M55.1,97.5l0.6,1.6M57.5,96.7l0.6,1M59.9,96.1l0.6,1.2M62.3,96.6l0.6,1M64.6,95.4l0.6,1.9M67,96l0.6,1.4M69.3,95.5l0.7,1M71.7,94.4l0.7,1.1M74,94.8l0.7,1.1M76.3,94.8l0.7,0.8M78.6,94.1l0.7,1.3M80.9,92.7l0.7,1.2M83.1,93.4l0.7,1.3M85.4,93.5l0.7,0.8M87.6,92.9l0.8,1.3M89.9,92.8l0.8,0.9M92.1,92l0.8,1.1M94.3,90.6l0.8,0.8M96.5,91.2l0.8,1M98.7,91.2l0.8,0.8M100.9,90.7l0.8,1M103.1,89.9l0.9,1.2M105.3,90.1l0.9,1.1M107.4,89.1l0.9,1.1M109.6,89.3l0.9,1M111.7,88.8l0.9,1.2M113.9,88.3l0.9,1.6M116,88.1l0.9,1.3M118.1,86.9l0.9,1.2M120.2,87.2l1,1.3M122.3,86.8l1,1M124.4,86.9l1,0.9M126.4,86.2l1,1.1M128.5,86.2l1,1M130.5,86.1l1,1.2M132.6,85.9l1,0.9M134.6,85.5l1,1.1M136.6,85.1l1,1M138.7,84.8l1.1,1M140.7,84.5l1.1,1.1M142.7,84.2l1.1,1.2M144.7,84l1.1,0.9M146.6,83.5l1.1,1.1M148.6,83.4l1.1,0.9M150.6,83.2l1.1,1M152.5,82.8l1.1,1M154.5,82.6l1.1,1M156.4,82.3l1.1,1"/><path d="M23.2,103.2 26.4,102.8 30.3,101.6 32.6,101.6 34.2,102.1 36.5,100.7 39.6,100.9 40.3,101.4 43,98.7 46.4,99.4 48.7,100.4 51.7,100.1 56.4,99.1 59.5,96.5 60,97.2 61.9,96.9 63.5,98 64.9,97.2 68.6,97.2 72.3,95.4 74.3,95.9 79.3,95.4 81.3,93.6 82.1,94.2 84.2,94.8 86.3,94.3 89.2,94.2 91.8,93.1 93.2,93.2 94.9,91.2 95.9,91.9 97.3,92.2 102.3,91.7 103.9,91.1 105.4,91.3 107.2,91 108.7,89.7 110.2,90.3 113.3,89.7 114.4,89.9 115.7,89.7 117.7,89 119.2,88 121,88.5 123.6,87.8 124.3,88.1 128.1,86.9 129.4,87.3 132,87.3 136.7,86.3 144.4,85.2 146.9,84.3 148.5,84.6 155.9,83.6 159.5,82.7 161.8,85.4 23.9,108.5Z" fill="url(#g317)" stroke="url(#g317)" stroke-width="0.7"/><path d="M23.2,103.2 26.4,102.8 30.3,101.6 32.6,101.6 34.2,102.1 36.5,100.7 39.6,100.9 40.3,101.4 43,98.7 46.4,99.4 48.7,100.4 51.7,100.1 56.4,99.1 59.5,96.5 60,97.2 61.9,96.9 63.5,98 64.9,97.2 68.6,97.2 72.3,95.4 74.3,95.9 79.3,95.4 81.3,93.6 82.1,94.2 84.2,94.8 86.3,94.3 89.2,94.2 91.8,93.1 93.2,93.2 94.9,91.2 95.9,91.9 97.3,92.2 102.3,91.7 103.9,91.1 105.4,91.3 107.2,91 108.7,89.7 110.2,90.3 113.3,89.7 114.4,89.9 115.7,89.7 117.7,89 119.2,88 121,88.5 123.6,87.8 124.3,88.1 128.1,86.9 129.4,87.3 132,87.3 136.7,86.3 144.4,85.2 146.9,84.3 148.5,84.6 155.9,83.6 159.5,82.7" class="m"/><path class="n" d="M25.8,102.9l0.4,-0.3M28.4,102.1l0.4,0.9M30.9,101.6l0.4,2M33.4,101.8l0.4,1.5M36,101l0.4,1.6M38.5,100.8l0.5,1.8M41,100.8l0.5,1.6M43.5,98.8l0.5,3M45.9,99.2l0.5,1.6M48.4,100.3l0.5,1.5M50.8,100.1l0.5,0.7M53.3,99.7l0.6,0.6M55.7,99.1l0.6,0.3M58.1,97.8l0.6,1.7M60.5,97.2l0.6,1.3M62.9,97.6l0.6,1.2M65.3,97.3l0.6,1.4M67.6,97.4l0.6,0.9M70,96.6l0.7,0.7M72.3,95.5l0.7,1M74.7,95.9l0.7,1.3M77,95.5l0.7,1.1M79.3,95.4l0.7,1M81.6,93.9l0.7,1M83.9,94.7l0.7,1M86.1,94.3l0.8,1.4M88.4,94.2l0.8,1M90.7,93.6l0.8,1.4M92.9,93.2l0.8,0.9M95.1,91.4l0.8,1.3M97.4,92.2l0.8,1.4M99.6,92l0.8,1.5M101.8,91.8l0.9,1.2M104,91.1l0.9,1.1M106.1,91.2l0.9,0.8M108.3,90.2l0.9,1.1M110.5,90.3l0.9,1.2M112.6,90l0.9,1.4M114.8,89.9l0.9,1.1M116.9,89.4l0.9,1.2M119,88.1l1,1.1M121.1,88.5l1,1.1M123.2,87.8l1,1.3M125.3,87.8l1,1.1M127.4,87.3l1,1.2M129.5,87.3l1,1M131.5,87.3l1,1M133.6,86.8l1,1.1M135.6,86.6l1,1.1M137.7,86.2l1.1,1M139.7,85.8l1.1,1M141.7,85.6l1.1,1M143.7,85.3l1.1,0.9M145.7,84.8l1.1,1.1M147.7,84.6l1.1,1.1M149.7,84.4l1.1,1.1M151.7,84.2l1.1,1.1M153.6,83.8l1.1,1.1M155.6,83.6l1.1,1M157.5,83.3l1.2,1"/><path d="M23.6,103.8 26.8,102.4 30.7,103.6 33,103.5 36.9,102.5 38.5,102.9 40,102 42.3,102.6 46.2,100.9 46.9,100.8 48.4,101.6 49.9,101 53,100.7 56,99.5 58.9,99.4 60.1,97.9 61.7,98.7 64.1,98.8 68.5,98.2 72.9,96.4 75,97.2 77.8,96.6 79.3,96.9 82.1,94.7 82.9,95.3 84.7,95.8 87.4,95.7 89.8,95 91.9,94.9 94.5,93.6 95.7,92.4 96.9,93.3 99.5,93.8 104.8,92.2 105.4,92.5 108.6,91.8 109.6,90.8 110.9,91.5 112.6,91.5 114.3,91 117.6,90.6 120.1,89.2 123,89.7 124.6,88.9 127.9,88.8 129.1,87.9 130.6,88.3 132.4,88.4 146.7,86 148,85.5 151.6,85.4 160.7,83.9 163,86.5 24.3,109.8Z" fill="url(#g318)" stroke="url(#g318)" stroke-width="0.7"/><path d="M23.6,103.8 26.8,102.4 30.7,103.6 33,103.5 36.9,102.5 38.5,102.9 40,102 42.3,102.6 46.2,100.9 46.9,100.8 48.4,101.6 49.9,101 53,100.7 56,99.5 58.9,99.4 60.1,97.9 61.7,98.7 64.1,98.8 68.5,98.2 72.9,96.4 75,97.2 77.8,96.6 79.3,96.9 82.1,94.7 82.9,95.3 84.7,95.8 87.4,95.7 89.8,95 91.9,94.9 94.5,93.6 95.7,92.4 96.9,93.3 99.5,93.8 104.8,92.2 105.4,92.5 108.6,91.8 109.6,90.8 110.9,91.5 112.6,91.5 114.3,91 117.6,90.6 120.1,89.2 123,89.7 124.6,88.9 127.9,88.8 129.1,87.9 130.6,88.3 132.4,88.4 146.7,86 148,85.5 151.6,85.4 160.7,83.9" class="m"/><path class="n" d="M26.2,102.6l0.4,3M28.8,103l0.4,1.8M31.3,103.6l0.4,0.8M33.9,103.3l0.4,0.8M36.4,102.6l0.4,0.6M38.9,102.7l0.5,0.6M41.4,102.4l0.5,1.3M43.9,101.8l0.5,1.8M46.4,100.9l0.5,1.9M48.9,101.7l0.5,1.2M51.4,100.8l0.5,1.5M53.8,100.3l0.6,1.2M56.3,99.4l0.6,2.2M58.7,99.5l0.6,1.1M61.1,98.5l0.6,1.5M63.5,98.8l0.6,1.7M65.9,98.7l0.6,1.7M68.3,98.2l0.7,0.9M70.6,97.3l0.7,1.7M73,96.5l0.7,1.3M75.3,97.2l0.7,0.3M77.7,96.7l0.7,1.5M80,96.4l0.7,1M82.3,94.9l0.7,0.9M84.6,95.7l0.8,0.6M86.9,95.8l0.8,1.1M89.2,95.2l0.8,1.2M91.5,95.1l0.8,0.6M93.7,94.1l0.8,1.4M96,92.7l0.8,1.1M98.2,93.6l0.8,1M100.4,93.5l0.9,1.2M102.6,92.9l0.9,1.3M104.8,92.3l0.9,0.6M107,92l0.9,1.5M109.2,91.4l0.9,1.1M111.4,91.5l0.9,1.1M113.5,91.3l0.9,1.1M115.7,90.9l0.9,1.2M117.8,90.5l1,0.9M120,89.2l1,1.2M122.1,89.6l1,1.2M124.2,89.2l1,1.1M126.3,88.9l1,1.3M128.4,88.5l1,1.2M130.5,88.3l1,1.3M132.6,88.4l1,1.1M134.6,88l1,1M136.7,87.7l1.1,1M138.7,87.2l1.1,0.9M140.8,86.8l1.1,1.1M142.8,86.6l1.1,1.1M144.8,86.3l1.1,1.2M146.8,86l1.1,1M148.8,85.6l1.1,1M150.8,85.5l1.1,1M152.8,85.2l1.1,0.8M154.8,84.9l1.2,0.8M156.7,84.6l1.2,1M158.7,84.3l1.2,1"/><path d="M23.9,103.8 26.3,105.5 30.3,104.6 34.3,104.2 37.4,103 42.8,103.9 44,103.5 45.1,103.5 47.4,102.6 50.5,102.9 53.5,101.5 56.5,101.7 57.6,101.4 59.2,100.7 60.7,99.3 62.3,100.3 64.7,100.5 66.2,100.4 69.1,99 72.2,98.9 73.6,97.8 75.3,97.2 77.8,98.4 81,97.3 82.8,95.7 86.4,96.6 88.5,96.9 93.4,95.3 94.8,95.5 96.5,93.5 98.2,94.9 99.6,94.5 101.2,94.8 102.3,94.3 103,94.5 105.7,92.8 107.1,93.4 108.5,93.4 109.5,92.9 110.5,91.9 111.8,92.6 113.5,92.6 117.8,91.8 121.1,90.3 123.2,90.8 125.6,90.1 128.3,90.1 130.1,89.3 131.5,89.6 133.5,89.5 137,88.9 138.9,88.3 146.1,87.5 149.1,86.5 150.3,86.7 152.1,86.5 154.2,86 161.8,84.9 164.2,87.5 24.7,111.2Z" fill="url(#g319)" stroke="url(#g319)" stroke-width="0.7"/><path d="M23.9,103.8 26.3,105.5 30.3,104.6 34.3,104.2 37.4,103 42.8,103.9 44,103.5 45.1,103.5 47.4,102.6 50.5,102.9 53.5,101.5 56.5,101.7 57.6,101.4 59.2,100.7 60.7,99.3 62.3,100.3 64.7,100.5 66.2,100.4 69.1,99 72.2,98.9 73.6,97.8 75.3,97.2 77.8,98.4 81,97.3 82.8,95.7 86.4,96.6 88.5,96.9 93.4,95.3 94.8,95.5 96.5,93.5 98.2,94.9 99.6,94.5 101.2,94.8 102.3,94.3 103,94.5 105.7,92.8 107.1,93.4 108.5,93.4 109.5,92.9 110.5,91.9 111.8,92.6 113.5,92.6 117.8,91.8 121.1,90.3 123.2,90.8 125.6,90.1 128.3,90.1 130.1,89.3 131.5,89.6 133.5,89.5 137,88.9 138.9,88.3 146.1,87.5 149.1,86.5 150.3,86.7 152.1,86.5 154.2,86 161.8,84.9" class="m"/><path class="n" d="M26.5,105.6l0.4,1M29.1,104.8l0.4,1.8M31.7,104.4l0.4,1.7M34.3,104.2l0.4,1.9M36.8,103.2l0.4,2.5M39.4,103.3l0.5,2M41.9,103.7l0.5,1.4M44.4,103.6l0.5,0.9M46.9,102.7l0.5,0.9M49.4,102.9l0.5,0.3M51.9,102.3l0.6,1.1M54.4,101.6l0.6,1.9M56.8,101.6l0.6,1.1M59.3,100.6l0.6,1.5M61.7,100l0.6,1.5M64.1,100.5l0.6,1.3M66.5,100.3l0.6,1.2M68.9,99.1l0.7,1.4M71.3,99l0.7,1.1M73.7,97.7l0.7,1.8M76,97.5l0.7,1.9M78.4,98.2l0.7,1.3M80.7,97.4l0.7,1.3M83.1,95.8l0.8,1.9M85.4,96.4l0.8,1.8M87.7,96.8l0.8,1.2M90,96.4l0.8,1.4M92.2,95.7l0.8,1.5M94.5,95.5l0.8,1.2M96.8,93.8l0.8,1.7M99,94.6l0.8,0.8M101.3,94.8l0.9,1.1M103.5,94.2l0.9,1.1M105.7,92.9l0.9,1.7M107.9,93.5l0.9,0.8M110.1,92.4l0.9,1.3M112.3,92.6l0.9,1.1M114.5,92.4l0.9,0.9M116.6,92.1l1,1M118.8,91.5l1,1.1M120.9,90.4l1,1.4M123.1,90.8l1,1.1M125.2,90.2l1,1.3M127.3,90.2l1,1M129.4,89.7l1,1.1M131.5,89.6l1,1M133.6,89.5l1,1.1M135.7,89l1.1,1.2M137.7,88.7l1.1,0.9M139.8,88.2l1.1,1.2M141.9,87.9l1.1,1.1M143.9,87.7l1.1,1.2M145.9,87.5l1.1,0.9M147.9,87l1.1,1M150,86.7l1.1,0.9M152,86.5l1.1,1M153.9,86l1.2,1M155.9,85.8l1.2,1M157.9,85.6l1.2,1.1M159.9,85.3l1.2,0.8"/><path d="M24.3,105.9 25.9,107.1 26.7,106.9 27.5,106 29.9,106.8 31.5,106.1 33.9,106.3 38.6,105.8 41,104.9 43.3,105.2 47.2,103.7 50.3,103.2 54.1,103.7 59.8,102.2 61.3,100.9 63.1,101.7 66.8,101.7 69.8,100.4 74.3,99.6 80,99.4 83.6,97.5 84.4,98.2 91.4,97.7 94.2,96.7 96.1,96.5 97.4,95.2 98.1,95.9 100.4,95.4 102,95.9 103.2,95.2 105.3,95.3 106.5,94.5 110.1,94.2 111.5,93.3 112.5,93.8 114.8,93.2 116.8,93.4 122.1,91.7 124.9,91.8 129.9,91 131.2,90.3 132.6,90.6 134.6,90.6 139.5,89.4 141.4,89.4 148.3,88.3 150.2,87.4 152.7,87.6 163,86 165.5,88.6 25,112.6Z" fill="url(#g320)" stroke="url(#g320)" stroke-width="0.7"/><path d="M24.3,105.9 25.9,107.1 26.7,106.9 27.5,106 29.9,106.8 31.5,106.1 33.9,106.3 38.6,105.8 41,104.9 43.3,105.2 47.2,103.7 50.3,103.2 54.1,103.7 59.8,102.2 61.3,100.9 63.1,101.7 66.8,101.7 69.8,100.4 74.3,99.6 80,99.4 83.6,97.5 84.4,98.2 91.4,97.7 94.2,96.7 96.1,96.5 97.4,95.2 98.1,95.9 100.4,95.4 102,95.9 103.2,95.2 105.3,95.3 106.5,94.5 110.1,94.2 111.5,93.3 112.5,93.8 114.8,93.2 116.8,93.4 122.1,91.7 124.9,91.8 129.9,91 131.2,90.3 132.6,90.6 134.6,90.6 139.5,89.4 141.4,89.4 148.3,88.3 150.2,87.4 152.7,87.6 163,86" class="m"/><path class="n" d="M26.9,106.6l0.4,1.8M29.5,106.6l0.4,1.5M32.1,106.2l0.4,1.5M34.7,106.1l0.4,1.1M37.3,105.7l0.5,1.1M39.9,105.3l0.5,1.5M42.4,105.1l0.5,1.6M44.9,104.5l0.5,1.6M47.5,103.6l0.5,1.3M50,103.2l0.5,2.2M52.5,103.4l0.6,1.8M55,103.5l0.6,1.2M57.4,102.7l0.6,1.6M59.9,102.1l0.6,1.4M62.3,101.5l0.6,0.9M64.8,101.8l0.6,1M67.2,101.6l0.7,0.7M69.6,100.5l0.7,1.8M72,100.1l0.7,1.7M74.4,99.6l0.7,1.3M76.8,99.4l0.7,1.7M79.1,99.5l0.7,0.9M81.5,98.7l0.7,1.3M83.8,97.8l0.8,1.3M86.1,98.2l0.8,1.5M88.5,98l0.8,1.3M90.8,97.8l0.8,1.1M93.1,97.1l0.8,1.2M95.3,96.7l0.8,1.1M97.6,95.5l0.8,1.2M99.9,95.4l0.9,1.4M102.1,95.9l0.9,0.6M104.4,95.3l0.9,1M106.6,94.6l0.9,1.3M108.8,94.3l0.9,1.2M111,93.7l0.9,0.9M113.2,93.7l0.9,0.7M115.4,93.3l1,1M117.6,93.1l1,1.2M119.8,92.6l1,1.3M121.9,91.8l1,0.8M124.1,91.9l1,1M126.2,91.5l1,1.1M128.3,91.2l1,1.1M130.4,90.8l1,1M132.6,90.6l1,1.2M134.6,90.6l1.1,0.7M136.7,90.2l1.1,1.2M138.8,89.6l1.1,1.2M140.9,89.4l1.1,1.2M142.9,89.1l1.1,1.1M145,88.9l1.1,1M147,88.5l1.1,1.2M149.1,88l1.1,1.2M151.1,87.6l1.1,1.3M153.1,87.5l1.2,1.1M155.1,87.1l1.2,1.3M157.1,86.8l1.2,1.2M159.1,86.7l1.2,1M161.1,86.2l1.2,1.2"/><path d="M24.7,107.5 27.1,108.4 28.8,108.3 31.1,107.7 33.5,107.8 35.1,107.2 38.3,106.7 42.2,106.7 44.6,106.4 48.5,104.8 50.8,105.5 52.3,105.4 54.6,104.8 56.9,104.6 59.8,103.8 61.5,102.8 62,102.2 63,102.4 64.3,102.3 66,103.1 67.5,102.3 69.7,102.6 70.5,102.2 73.5,101.5 75,100.9 77.5,101 80,100.3 82.3,100 84.3,98.9 85.1,99.4 86.5,99.6 92.2,98.8 96.5,97.7 98.2,96.5 100.1,96.9 107.4,95.9 108.1,96 109.7,95.5 111,95.5 112.4,94 113.7,94.4 118.2,94.4 121.1,93.7 123.4,92.5 125.9,93 127.6,92.5 130.8,92.2 132.2,91.2 133.6,91.8 135.1,91.2 138,91.3 141,90.6 149.5,89.4 151.4,88.8 155.1,88.5 164.2,87 166.7,89.6 25.4,114Z" fill="url(#g321)" stroke="url(#g321)" stroke-width="0.7"/><path d="M24.7,107.5 27.1,108.4 28.8,108.3 31.1,107.7 33.5,107.8 35.1,107.2 38.3,106.7 42.2,106.7 44.6,106.4 48.5,104.8 50.8,105.5 52.3,105.4 54.6,104.8 56.9,104.6 59.8,103.8 61.5,102.8 62,102.2 63,102.4 64.3,102.3 66,103.1 67.5,102.3 69.7,102.6 70.5,102.2 73.5,101.5 75,100.9 77.5,101 80,100.3 82.3,100 84.3,98.9 85.1,99.4 86.5,99.6 92.2,98.8 96.5,97.7 98.2,96.5 100.1,96.9 107.4,95.9 108.1,96 109.7,95.5 111,95.5 112.4,94 113.7,94.4 118.2,94.4 121.1,93.7 123.4,92.5 125.9,93 127.6,92.5 130.8,92.2 132.2,91.2 133.6,91.8 135.1,91.2 138,91.3 141,90.6 149.5,89.4 151.4,88.8 155.1,88.5 164.2,87" class="m"/><path class="n" d="M27.3,108.5l0.4,1.6M29.9,108.1l0.4,1.3M32.6,107.7l0.4,1.4M35.2,107.2l0.4,1.1M37.8,106.8l0.5,1M40.3,106.8l0.5,1.5M42.9,106.7l0.5,0.8M45.4,106.1l0.5,-0.7M48,104.9l0.5,1.5M50.5,105.4l0.6,0.4M53,105.3l0.6,1.1M55.5,104.8l0.6,0.8M58,104.3l0.6,1.3M60.5,103.5l0.6,0.7M63,102.4l0.6,1.2M65.4,102.8l0.7,1.6M67.8,102.3l0.7,1.1M70.3,102.3l0.7,1.4M72.7,101.7l0.7,1.2M75.1,100.9l0.7,1.2M77.5,101.1l0.7,0.4M79.9,100.3l0.7,0.9M82.2,100l0.8,1.6M84.6,99.1l0.8,0.7M86.9,99.6l0.8,0.4M89.2,99.3l0.8,1.1M91.6,98.9l0.8,1.2M93.9,98.4l0.8,1.3M96.2,97.8l0.8,1.4M98.5,96.7l0.9,1.1M100.7,96.9l0.9,1.6M103,96.5l0.9,1.6M105.3,96.2l0.9,1.2M107.5,95.9l0.9,0.7M109.7,95.5l0.9,1.4M112,94.6l0.9,1.5M114.2,94.4l1,1.6M116.4,94.3l1,1.4M118.6,94.3l1,0.9M120.7,93.9l1,1.1M122.9,92.6l1,1.6M125.1,92.9l1,1.4M127.2,92.6l1,1.2M129.4,92.4l1,1.1M131.5,91.8l1.1,1M133.6,91.8l1.1,0.8M135.7,91.3l1.1,1.4M137.8,91.4l1.1,0.8M139.9,90.9l1.1,1.1M142,90.5l1.1,1M144,90.1l1.1,1.2M146.1,89.9l1.1,1.1M148.2,89.7l1.1,0.8M150.2,89.2l1.2,1M152.2,88.8l1.2,1.1M154.3,88.6l1.2,1.1M156.3,88.4l1.2,1.1M158.3,88l1.2,1M160.3,87.7l1.2,1.1M162.3,87.4l1.2,1"/><path d="M25,110.1 29.1,109.9 31.5,108.9 33.3,109.2 35.6,108.3 36.4,108.7 37.2,108.5 38.8,107.4 40.4,108.2 41.9,107.4 42.7,108 45.5,105.2 49,106.5 52.1,105.6 53.7,106.4 54.5,106.2 55.2,105.6 59.1,105.6 62.6,102.9 63.6,103.6 65.9,104.5 68.2,103.4 71.2,103.7 71.9,103.5 77.8,101.4 80.7,101.2 83,101.6 85.1,99.7 87.1,99.8 89.2,100.7 91.5,100.4 93,99.9 94.1,100 95.9,99.2 97.3,99.2 99.1,97.5 100.3,98.3 101.5,98.5 105,98 108.4,96.6 110.6,96.9 112.3,96.5 113.3,95.7 114.7,96.1 118,95.7 119.4,95.3 121.1,95.3 123.6,94.3 127.3,94.1 128.7,93.6 131.4,93.2 133.3,92.4 137.2,92.7 139.1,92.2 140.4,92.2 142.1,91.6 148,90.9 152.5,89.9 157,89.5 165.5,88.1 168,90.7 25.8,115.5Z" fill="url(#g322)" stroke="url(#g322)" stroke-width="0.7"/><path d="M25,110.1 29.1,109.9 31.5,108.9 33.3,109.2 35.6,108.3 36.4,108.7 37.2,108.5 38.8,107.4 40.4,108.2 41.9,107.4 42.7,108 45.5,105.2 49,106.5 52.1,105.6 53.7,106.4 54.5,106.2 55.2,105.6 59.1,105.6 62.6,102.9 63.6,103.6 65.9,104.5 68.2,103.4 71.2,103.7 71.9,103.5 77.8,101.4 80.7,101.2 83,101.6 85.1,99.7 87.1,99.8 89.2,100.7 91.5,100.4 93,99.9 94.1,100 95.9,99.2 97.3,99.2 99.1,97.5 100.3,98.3 101.5,98.5 105,98 108.4,96.6 110.6,96.9 112.3,96.5 113.3,95.7 114.7,96.1 118,95.7 119.4,95.3 121.1,95.3 123.6,94.3 127.3,94.1 128.7,93.6 131.4,93.2 133.3,92.4 137.2,92.7 139.1,92.2 140.4,92.2 142.1,91.6 148,90.9 152.5,89.9 157,89.5 165.5,88.1" class="m"/><path class="n" d="M27.7,110l0.4,0.9M30.3,109.4l0.4,1.6M33,109.1l0.4,1.1M35.6,108.3l0.5,1.8M38.2,107.8l0.5,1.1M40.8,108.3l0.5,1.3M43.4,107.5l0.5,1.7M46,105.4l0.5,2.8M48.5,106.4l0.5,2.3M51.1,105.9l0.6,1.5M53.6,106.4l0.6,0.6M56.1,105.6l0.6,1.6M58.6,105.6l0.6,1.2M61.1,104.2l0.6,1.6M63.6,103.6l0.6,1.5M66.1,104.5l0.7,1.2M68.5,103.4l0.7,1.6M70.9,103.7l0.7,1.1M73.4,102.9l0.7,1.5M75.8,102l0.7,0.9M78.2,101.4l0.7,1M80.6,101.2l0.8,1.8M83,101.6l0.8,0.9M85.3,99.8l0.8,1.8M87.7,100.1l0.8,1.9M90.1,100.4l0.8,1.4M92.4,100.1l0.8,1.3M94.7,99.7l0.8,1.4M97,99.2l0.9,1.3M99.3,97.7l0.9,1.4M101.6,98.5l0.9,1.1M103.9,98.1l0.9,1.4M106.2,97.5l0.9,1.1M108.4,96.6l0.9,1.1M110.7,96.9l0.9,1.2M112.9,96.2l1,1M115.1,96l1,1.2M117.3,95.7l1,1.2M119.5,95.3l1,1.4M121.7,95l1,1M123.9,94.2l1,1M126.1,94.2l1,1.1M128.2,93.8l1,1.3M130.4,93.5l1.1,1.3M132.5,92.8l1.1,1.5M134.7,92.6l1.1,1.4M136.8,92.7l1.1,1.1M138.9,92.2l1.1,1.3M141,92l1.1,1M143.1,91.5l1.1,1.1M145.2,91.3l1.1,1.1M147.2,90.9l1.1,1.2M149.3,90.5l1.2,1.3M151.4,90.2l1.2,1M153.4,90l1.2,1M155.4,89.7l1.2,1.1M157.5,89.4l1.2,1.1M159.5,89l1.2,1.1M161.5,88.7l1.2,1.1M163.5,88.4l1.2,1.1"/><path d="M25.4,111.3 28.7,110.8 30.3,111.2 32.8,110.1 36,110.1 39.2,108.7 40.8,109.7 42.4,108.6 44,109.3 46,108.1 48.8,108.7 52.7,106.8 58.1,107.3 61.2,106 63.2,104.6 64.3,105.1 67.3,105.7 68.8,105 71.9,104.8 74.7,104.2 76.5,102.9 78.2,102.2 80.8,103.4 81.5,102.9 84.5,102.3 85.9,101.5 87.2,101.9 89.5,102 95.3,101.1 98.1,100.4 99.9,99 101.7,99.6 104.7,99.5 108.7,97.7 109.3,97.7 111,98.4 112.9,97.9 114.3,96.7 116.1,97.2 120.4,96.8 125.1,95.1 128.4,95.3 132.9,94.5 134.3,93.9 135.4,94.1 139.6,93.6 143.2,92.7 149.9,91.9 153.7,90.8 156.8,90.8 166.7,89.1 169.2,91.8 26.2,116.9Z" fill="url(#g323)" stroke="url(#g323)" stroke-width="0.7"/><path d="M25.4,111.3 28.7,110.8 30.3,111.2 32.8,110.1 36,110.1 39.2,108.7 40.8,109.7 42.4,108.6 44,109.3 46,108.1 48.8,108.7 52.7,106.8 58.1,107.3 61.2,106 63.2,104.6 64.3,105.1 67.3,105.7 68.8,105 71.9,104.8 74.7,104.2 76.5,102.9 78.2,102.2 80.8,103.4 81.5,102.9 84.5,102.3 85.9,101.5 87.2,101.9 89.5,102 95.3,101.1 98.1,100.4 99.9,99 101.7,99.6 104.7,99.5 108.7,97.7 109.3,97.7 111,98.4 112.9,97.9 114.3,96.7 116.1,97.2 120.4,96.8 125.1,95.1 128.4,95.3 132.9,94.5 134.3,93.9 135.4,94.1 139.6,93.6 143.2,92.7 149.9,91.9 153.7,90.8 156.8,90.8 166.7,89.1" class="m"/><path class="n" d="M28.1,110.9l0.4,0.9M30.8,111l0.4,1.3M33.4,110.2l0.4,1M36.1,110.1l0.5,0.7M38.7,108.9l0.5,2.2M41.3,109.5l0.5,0.5M43.9,109.2l0.5,0.9M46.5,108.2l0.5,1.6M49.1,108.7l0.5,1.3M51.6,107.3l0.6,2.1M54.2,107l0.6,2.1M56.7,107.2l0.6,1M59.2,106.8l0.6,1.2M61.7,105.7l0.6,1.5M64.2,105.1l0.7,1.3M66.7,105.7l0.7,0.4M69.2,105l0.7,0.1M71.6,104.8l0.7,0.7M74.1,104.4l0.7,0.8M76.5,102.9l0.7,1.3M78.9,102.4l0.7,2.5M81.3,103l0.8,1.5M83.7,102.5l0.8,1.3M86.1,101.6l0.8,1.3M88.5,102l0.8,1.4M90.9,101.8l0.8,1.2M93.2,101.4l0.8,1.3M95.6,101.1l0.9,1.2M97.9,100.5l0.9,0.9M100.2,99.2l0.9,1.1M102.5,99.6l0.9,1.3M104.8,99.5l0.9,0.6M107.1,98.6l0.9,1.1M109.3,97.7l0.9,1.7M111.6,98.1l1,0.9M113.8,97.2l1,1.2M116.1,97.2l1,1.5M118.3,97l1,1.2M120.5,96.7l1,1M122.7,96l1,1.3M124.9,95.1l1,1.4M127.1,95.4l1,1.3M129.3,95.1l1.1,1.1M131.4,94.8l1.1,1.1M133.6,94.3l1.1,1.1M135.7,94l1.1,1.2M137.9,93.8l1.1,1.3M140,93.5l1.1,1.1M142.1,93l1.1,1.1M144.2,92.7l1.1,1.2M146.3,92.4l1.2,0.8M148.4,92.2l1.2,0.9M150.5,91.8l1.2,1.1M152.5,91.3l1.2,1.3M154.6,90.9l1.2,1.2M156.6,90.8l1.2,0.9M158.7,90.5l1.2,1M160.7,90.1l1.2,1.1M162.7,89.8l1.2,1.1M164.7,89.5l1.2,1"/><path d="M25.8,112.1 26.6,112.8 27.4,112.9 29.1,111.1 29.9,111.4 31.6,112.5 33.2,111.2 35.7,110.8 39.7,111.2 42.9,109.3 45.3,110.7 46.5,109.7 50.1,109.9 53.3,109.3 54.1,109.4 56.4,108.3 61.1,108.1 63.9,106 64.9,106.4 66.3,106.6 69.5,105 73.7,106 76.2,104.1 77.2,104.1 79.3,105 83,104.5 86.7,102.8 88,103.4 89.4,103.4 96.2,102.4 99,101.2 100.8,100 102.7,101.1 106.8,99.7 110.2,99.4 111,99.7 112.5,99 114.2,98.7 115.3,98.1 116.3,98.6 117.3,98.6 120.1,97.9 122.7,97.8 126.1,96.5 128.8,96.6 130.8,96 133.9,95.6 135.4,95.1 139.4,95 144,93.9 145,94 146.8,93.3 152.3,92.8 154.9,92.2 168,90.2 170.5,92.9 26.6,118.4Z" fill="url(#g324)" stroke="url(#g324)" stroke-width="0.7"/><path d="M25.8,112.1 26.6,112.8 27.4,112.9 29.1,111.1 29.9,111.4 31.6,112.5 33.2,111.2 35.7,110.8 39.7,111.2 42.9,109.3 45.3,110.7 46.5,109.7 50.1,109.9 53.3,109.3 54.1,109.4 56.4,108.3 61.1,108.1 63.9,106 64.9,106.4 66.3,106.6 69.5,105 73.7,106 76.2,104.1 77.2,104.1 79.3,105 83,104.5 86.7,102.8 88,103.4 89.4,103.4 96.2,102.4 99,101.2 100.8,100 102.7,101.1 106.8,99.7 110.2,99.4 111,99.7 112.5,99 114.2,98.7 115.3,98.1 116.3,98.6 117.3,98.6 120.1,97.9 122.7,97.8 126.1,96.5 128.8,96.6 130.8,96 133.9,95.6 135.4,95.1 139.4,95 144,93.9 145,94 146.8,93.3 152.3,92.8 154.9,92.2 168,90.2" class="m"/><path class="n" d="M28.5,111.8l0.4,2.1M31.2,112.3l0.4,1M33.9,111.1l0.4,1.9M36.5,110.8l0.5,2.1M39.2,111.1l0.5,1.6M41.8,110l0.5,2.2M44.4,110.1l0.5,1.5M47,109.7l0.5,1.8M49.6,110l0.6,1.1M52.2,109.5l0.6,1.5M54.8,109.1l0.6,1.3M57.3,108.2l0.6,1.6M59.8,108l0.6,1.6M62.4,107.2l0.6,1.7M64.9,106.4l0.7,1.8M67.4,106.1l0.7,2.2M69.9,105.1l0.7,2.1M72.3,105.5l0.7,1.9M74.8,105.2l0.7,1.6M77.3,104.2l0.7,2.1M79.7,104.9l0.8,1M82.1,104.5l0.8,1.2M84.5,103.8l0.8,1.6M86.9,102.9l0.8,1.5M89.3,103.4l0.8,1.2M91.7,103l0.8,1.3M94.1,102.7l0.9,1.1M96.4,102.3l0.9,1.3M98.7,101.4l0.9,1.6M101.1,100.2l0.9,1.8M103.4,100.9l0.9,1.4M105.7,100.1l0.9,1.7M108,99.7l0.9,1.8M110.3,99.5l1,1.4M112.6,99l1,1.7M114.8,98.4l1,1.3M117.1,98.6l1,1M119.3,98.2l1,1.2M121.5,97.7l1,1.5M123.7,97.3l1,1.3M126,96.5l1,1.3M128.2,96.7l1.1,1.2M130.3,96.2l1.1,0.9M132.5,95.9l1.1,1.2M134.7,95.4l1.1,1.2M136.8,95.2l1.1,1.1M139,95l1.1,1.2M141.1,94.7l1.1,0.9M143.2,94.1l1.1,1.3M145.4,93.8l1.2,1.1M147.5,93.3l1.2,1.3M149.6,93.1l1.2,1.4M151.6,92.9l1.2,1.1M153.7,92.6l1.2,0.9M155.8,92.1l1.2,1M157.8,91.7l1.2,1.3M159.9,91.5l1.2,1M161.9,91.2l1.2,1.1M163.9,90.9l1.3,1.1M166,90.5l1.3,1"/><path d="M26.2,114.8 30.3,113.4 36.9,112.8 41,112.8 43.5,111.8 47.1,111.5 48.3,111.7 50.7,110.9 53.8,110.9 57,109.9 62.1,109.3 63.5,108.7 64.5,107.9 67.6,108.5 70.2,107.1 73.3,107.5 76.9,106.3 80,105.8 81.6,106.2 83,105.6 85.6,105.4 87.5,104.4 91.2,104.6 95.6,103.6 97.7,103.5 100.4,102.7 101.7,101.9 102.8,102.2 104.2,102.3 107.7,101.5 109.4,101.5 111.2,100.8 113.5,100.7 115.2,100.1 116.2,99.3 117.6,99.7 122.2,99.2 127.5,97.7 129.2,97.9 131,97.2 133.1,97.3 135.2,96.8 136.5,96.2 139.9,96.3 142.4,95.5 144.9,95.3 147.7,94.6 151.5,94.3 156.1,93.1 159.5,93 161.4,92.5 169.2,91.3 171.9,94 27,119.9Z" fill="url(#g325)" stroke="url(#g325)" stroke-width="0.7"/><path d="M26.2,114.8 30.3,113.4 36.9,112.8 41,112.8 43.5,111.8 47.1,111.5 48.3,111.7 50.7,110.9 53.8,110.9 57,109.9 62.1,109.3 63.5,108.7 64.5,107.9 67.6,108.5 70.2,107.1 73.3,107.5 76.9,106.3 80,105.8 81.6,106.2 83,105.6 85.6,105.4 87.5,104.4 91.2,104.6 95.6,103.6 97.7,103.5 100.4,102.7 101.7,101.9 102.8,102.2 104.2,102.3 107.7,101.5 109.4,101.5 111.2,100.8 113.5,100.7 115.2,100.1 116.2,99.3 117.6,99.7 122.2,99.2 127.5,97.7 129.2,97.9 131,97.2 133.1,97.3 135.2,96.8 136.5,96.2 139.9,96.3 142.4,95.5 144.9,95.3 147.7,94.6 151.5,94.3 156.1,93.1 159.5,93 161.4,92.5 169.2,91.3" class="m"/><path class="n" d="M28.9,113.9l0.4,1.9M31.6,113.3l0.4,1.5M34.3,113l0.5,1.2M37,112.8l0.5,0.6M39.6,112.7l0.5,1.1M42.3,112.2l0.5,1.3M44.9,111.6l0.5,1.8M47.6,111.6l0.5,1.1M50.2,111.1l0.6,1.4M52.8,110.9l0.6,1.2M55.3,110.4l0.6,1.3M57.9,109.8l0.6,1.5M60.5,109.6l0.6,1.4M63,109l0.7,1.4M65.5,108.2l0.7,0.7M68.1,108.3l0.7,0.9M70.6,107.2l0.7,1.6M73.1,107.5l0.7,1.3M75.5,106.8l0.7,0.9M78,106.2l0.8,0.8M80.5,105.9l0.8,1.3M82.9,105.6l0.8,0.8M85.3,105.4l0.8,0.3M87.7,104.4l0.8,0.4M90.1,104.6l0.8,1.1M92.5,104.2l0.8,0.9M94.9,103.7l0.9,1.3M97.3,103.5l0.9,1.2M99.6,103l0.9,1.4M102,102l0.9,1.2M104.3,102.3l0.9,1M106.6,101.8l0.9,1.4M108.9,101.5l1,1.3M111.2,100.8l1,0.9M113.5,100.7l1,1M115.8,99.7l1,1.4M118.1,99.6l1,1.1M120.3,99.3l1,0.8M122.6,99.2l1,0.7M124.8,98.6l1,0.7M127,97.8l1.1,0.9M129.2,97.9l1.1,1M131.4,97.2l1.1,1.5M133.6,97.1l1.1,1.1M135.8,96.6l1.1,1M137.9,96.3l1.1,1.2M140.1,96.2l1.1,0.8M142.2,95.6l1.1,1M144.4,95.4l1.2,1.1M146.5,94.9l1.2,1.1M148.6,94.5l1.2,1.2M150.7,94.4l1.2,1.1M152.8,94l1.2,1.1M154.9,93.5l1.2,1.2M157,93.1l1.2,1.2M159.1,93l1.2,1M161.1,92.5l1.3,1.3M163.2,92.3l1.3,1.1M165.2,92l1.3,1.1M167.2,91.5l1.3,1.2"/><path d="M26.6,114.6 29.1,116 29.9,115.2 33.3,114.7 37.4,113.5 41.5,114.2 44,112.9 45.6,113.5 46.4,113.3 47.6,112.5 49.6,113 51.2,112.2 54.4,112 57.6,111.3 60,111.4 63.5,110.4 64.7,109.7 65.2,109.1 67.7,108.4 69.4,109.6 70.1,109.4 70.9,108.7 73.2,109.1 77.6,107.1 78.7,107 80.8,107.4 83.8,106.4 84.6,106.9 85.3,106.6 86.9,104.9 87.4,104.8 88.3,104.6 90.4,105.8 93.5,105.1 98.6,104.7 100.7,104.3 102.6,103.1 103.4,103.5 105.8,103.2 107.3,103.3 108.7,102.8 109.8,102.8 111.5,101.8 113.7,102.1 116.5,101.3 117.2,100.7 118.8,100.8 128.2,98.7 132.1,98.8 137.6,97.4 138.7,97.6 143.6,96.6 146.1,96.4 148.9,95.8 155,95.1 157.3,94.1 158.6,94.4 170.5,92.3 173.2,95.2 27.4,121.4Z" fill="url(#g326)" stroke="url(#g326)" stroke-width="0.7"/><path d="M26.6,114.6 29.1,116 29.9,115.2 33.3,114.7 37.4,113.5 41.5,114.2 44,112.9 45.6,113.5 46.4,113.3 47.6,112.5 49.6,113 51.2,112.2 54.4,112 57.6,111.3 60,111.4 63.5,110.4 64.7,109.7 65.2,109.1 67.7,108.4 69.4,109.6 70.1,109.4 70.9,108.7 73.2,109.1 77.6,107.1 78.7,107 80.8,107.4 83.8,106.4 84.6,106.9 85.3,106.6 86.9,104.9 87.4,104.8 88.3,104.6 90.4,105.8 93.5,105.1 98.6,104.7 100.7,104.3 102.6,103.1 103.4,103.5 105.8,103.2 107.3,103.3 108.7,102.8 109.8,102.8 111.5,101.8 113.7,102.1 116.5,101.3 117.2,100.7 118.8,100.8 128.2,98.7 132.1,98.8 137.6,97.4 138.7,97.6 143.6,96.6 146.1,96.4 148.9,95.8 155,95.1 157.3,94.1 158.6,94.4 170.5,92.3" class="m"/><path class="n" d="M29.3,115.8l0.4,0.3M32,114.8l0.4,0.1M34.8,114.3l0.5,0.7M37.5,113.5l0.5,1.6M40.1,113.8l0.5,2.1M42.8,113.5l0.5,1.5M45.5,113.4l0.5,1.5M48.1,112.7l0.6,2M50.7,112.4l0.6,0.4M53.3,112.1l0.6,1.5M56,111.7l0.6,1.7M58.5,111.3l0.6,1.6M61.1,111l0.6,1.4M63.7,110.3l0.7,0.9M66.2,109l0.7,1.9M68.8,109.2l0.7,1.9M71.3,108.8l0.7,1.9M73.8,108.8l0.7,0.8M76.3,107.7l0.8,1.3M78.8,107l0.8,1.3M81.2,107.2l0.8,1.4M83.7,106.4l0.8,1.5M86.1,105.8l0.8,1.6M88.6,104.9l0.8,1.9M91,105.7l0.8,1.5M93.4,105.1l0.9,1.8M95.8,105l0.9,1.4M98.2,104.7l0.9,1.3M100.5,104.3l0.9,1.3M102.9,103.2l0.9,1.3M105.2,103.2l0.9,1.2M107.6,103.2l1,1.2M109.9,102.7l1,1.3M112.2,101.7l1,1.6M114.5,101.7l1,1.3M116.8,101.1l1,1.1M119.1,100.7l1,1.6M121.3,100.2l1,1.7M123.6,99.8l1,1.8M125.8,99.4l1.1,1.6M128.1,98.7l1.1,1.6M130.3,98.9l1.1,1.4M132.5,98.6l1.1,1.2M134.7,98.1l1.1,1.4M136.9,97.7l1.1,1.4M139.1,97.6l1.1,1.2M141.2,97.1l1.2,1.4M143.4,96.6l1.2,1.6M145.5,96.5l1.2,1.2M147.7,96.1l1.2,1.1M149.8,95.7l1.2,1.1M151.9,95.5l1.2,1M154,95.1l1.2,1.3M156.1,94.7l1.2,1.3M158.2,94.3l1.2,1.2M160.3,94l1.3,1.3M162.4,93.8l1.3,1.1M164.4,93.3l1.3,1.2M166.5,93.1l1.3,1M168.5,92.7l1.3,1"/><path d="M27,116.3 27.8,117.2 28.7,117.4 30.4,115.3 31.2,115 37.1,115 40.4,115.9 44.5,114.8 47,115 48.6,114.7 51,112.9 51.8,112.7 54.2,113.8 61.4,112.4 62.5,112.4 65.9,110.3 67.7,111.2 71.6,110.6 72.5,110.8 74.7,109.4 79.5,108.3 83,108.8 84.6,107.8 87,107.4 89.1,106.7 91.2,107.2 93.6,107 101.6,105.6 103.5,104.3 104.6,104.8 106.8,104.4 110.4,104.2 113.1,103.3 116.6,102.8 118.2,101.9 119.6,102.4 125.2,101.6 128.8,100.4 132.3,100.2 137.5,99.3 138.8,98.7 139.7,98.8 145.1,98.2 147.9,97.3 155.1,96.4 158.6,95.5 162,95.2 169.3,93.7 171.9,93.5 174.5,96.3 27.8,123Z" fill="url(#g327)" stroke="url(#g327)" stroke-width="0.7"/><path d="M27,116.3 27.8,117.2 28.7,117.4 30.4,115.3 31.2,115 37.1,115 40.4,115.9 44.5,114.8 47,115 48.6,114.7 51,112.9 51.8,112.7 54.2,113.8 61.4,112.4 62.5,112.4 65.9,110.3 67.7,111.2 71.6,110.6 72.5,110.8 74.7,109.4 79.5,108.3 83,108.8 84.6,107.8 87,107.4 89.1,106.7 91.2,107.2 93.6,107 101.6,105.6 103.5,104.3 104.6,104.8 106.8,104.4 110.4,104.2 113.1,103.3 116.6,102.8 118.2,101.9 119.6,102.4 125.2,101.6 128.8,100.4 132.3,100.2 137.5,99.3 138.8,98.7 139.7,98.8 145.1,98.2 147.9,97.3 155.1,96.4 158.6,95.5 162,95.2 169.3,93.7 171.9,93.5" class="m"/><path class="n" d="M29.7,116.1l0.4,2.1M32.5,115l0.4,2.7M35.2,114.9l0.5,2.5M37.9,115.1l0.5,2.4M40.6,115.9l0.5,0.4M43.3,115.1l0.5,1.8M46,114.9l0.5,1M48.7,114.7l0.6,0.8M51.3,112.8l0.6,1.9M53.9,113.7l0.6,1.3M56.6,113.4l0.6,1.6M59.2,112.9l0.6,1.4M61.8,112.4l0.7,1.3M64.3,111.2l0.7,1.5M66.9,110.9l0.7,1.2M69.5,111.1l0.7,1.5M72,110.7l0.7,0.9M74.5,109.6l0.7,1.1M77,109l0.8,1.8M79.5,108.3l0.8,1.8M82,108.7l0.8,1.2M84.5,107.9l0.8,2M86.9,107.4l0.8,1.9M89.4,106.8l0.8,1.8M91.8,107.2l0.9,1.3M94.2,106.9l0.9,1.4M96.6,106.4l0.9,1.3M99,106l0.9,1.4M101.4,105.6l0.9,1.1M103.8,104.5l0.9,1M106.2,104.5l1,1.6M108.5,104.4l1,1.2M110.9,104.1l1,1.3M113.2,103.3l1,1.3M115.5,103l1,1.3M117.8,102.3l1,0.6M120.1,102.3l1,0.5M122.4,101.9l1.1,1.1M124.6,101.6l1.1,1.2M126.9,101l1.1,1M129.1,100.4l1.1,1.2M131.4,100.3l1.1,1.2M133.6,99.9l1.1,1.3M135.8,99.6l1.1,1.1M138,99.1l1.1,1.2M140.2,98.8l1.2,1.1M142.4,98.4l1.2,1.1M144.6,98.2l1.2,1.1M146.7,97.7l1.2,1.3M148.9,97.2l1.2,1.2M151,96.8l1.2,1.3M153.1,96.5l1.2,1.3M155.3,96.4l1.2,1.1M157.4,96l1.3,1.2M159.5,95.5l1.3,1.2M161.6,95.3l1.3,1.2M163.6,95l1.3,1.1M165.7,94.5l1.3,1.2M167.8,94.1l1.3,1.3M169.8,93.7l1.3,1.3"/><path d="M27.4,117.4 30.8,118.3 34.2,117.3 37.5,117.9 41.7,116.1 44.2,117 48.7,115.2 50,116 52.4,114.5 55.6,115.2 56.4,115.1 62.1,113.7 63.7,113.7 66.6,111.6 70,112.6 75.5,110.6 78.7,110.8 80.2,110.1 82,109.8 85.5,109.9 90,108.5 90.8,108.7 93.8,108.4 100.6,107.4 102.6,106.6 104.5,105.4 105.8,105.9 107.7,106 110.6,105.4 112.1,105.4 114.1,104.6 115,104.8 116.5,104.3 117.2,104.4 119.3,102.3 122,103 125.5,102.9 128.8,101.7 133.7,101.3 139.9,100 147.3,99 151.3,98.1 155.9,97.7 159.8,96.7 162.1,96.6 173.2,94.6 175.9,97.5 28.2,124.6Z" fill="url(#g328)" stroke="url(#g328)" stroke-width="0.7"/><path d="M27.4,117.4 30.8,118.3 34.2,117.3 37.5,117.9 41.7,116.1 44.2,117 48.7,115.2 50,116 52.4,114.5 55.6,115.2 56.4,115.1 62.1,113.7 63.7,113.7 66.6,111.6 70,112.6 75.5,110.6 78.7,110.8 80.2,110.1 82,109.8 85.5,109.9 90,108.5 90.8,108.7 93.8,108.4 100.6,107.4 102.6,106.6 104.5,105.4 105.8,105.9 107.7,106 110.6,105.4 112.1,105.4 114.1,104.6 115,104.8 116.5,104.3 117.2,104.4 119.3,102.3 122,103 125.5,102.9 128.8,101.7 133.7,101.3 139.9,100 147.3,99 151.3,98.1 155.9,97.7 159.8,96.7 162.1,96.6 173.2,94.6" class="m"/><path class="n" d="M30.2,118.1l0.4,1.3M32.9,117.7l0.5,2.2M35.7,117.5l0.5,1.9M38.4,117.4l0.5,1.8M41.1,116.3l0.5,2.3M43.9,116.9l0.5,1M46.5,115.9l0.6,1.8M49.2,115.5l0.6,2.1M51.9,114.7l0.6,2.3M54.5,115l0.6,1.5M57.2,114.9l0.6,1.3M59.8,114.3l0.6,1.7M62.4,113.7l0.7,1.7M65,112.7l0.7,1.7M67.6,112.1l0.7,1.7M70.2,112.6l0.7,1.5M72.7,111.6l0.7,1.7M75.3,110.7l0.8,2.5M77.8,110.8l0.8,1.6M80.3,110.1l0.8,1.7M82.8,109.8l0.8,1.5M85.3,109.9l0.8,1.1M87.8,109.3l0.8,1.2M90.2,108.6l0.9,1M92.7,108.5l0.9,1.3M95.1,108.2l0.9,1.3M97.5,107.7l0.9,1.6M100,107.4l0.9,1.3M102.4,106.8l0.9,1.4M104.7,105.6l0.9,1.8M107.1,106l1,0.8M109.5,105.6l1,1.3M111.8,105.4l1,1.3M114.2,104.6l1,1.3M116.5,104.3l1,1.4M118.8,102.9l1,2.1M121.1,102.9l1.1,2.1M123.4,102.9l1.1,1.5M125.7,102.8l1.1,0.8M128,102l1.1,1.3M130.2,101.6l1.1,0.7M132.5,101.5l1.1,0.8M134.7,101.2l1.1,1.3M136.9,100.7l1.1,1.1M139.2,100.3l1.2,0.9M141.4,99.9l1.2,1.3M143.6,99.5l1.2,1.4M145.7,99.3l1.2,1.3M147.9,98.9l1.2,1.1M150.1,98.4l1.2,1.3M152.2,98.1l1.2,1.2M154.4,97.8l1.2,1.1M156.5,97.5l1.3,1.1M158.6,97.1l1.3,1.2M160.7,96.7l1.3,1.2M162.8,96.5l1.3,1.2M164.9,96.1l1.3,1M167,95.7l1.3,1.1M169.1,95.3l1.3,1.2M171.1,95l1.3,1.1"/><path d="M27.8,120.9 31.2,119.1 33.8,120 35.5,119.3 39.7,119.2 45.6,117.6 48.9,117.9 56.3,116.2 59.5,116.2 63.9,115.3 67.2,113.4 70.7,114.1 73.1,113.3 76.2,113.2 80,111.9 88.2,110.6 90.8,109.6 94.6,109.9 102.8,108.3 105.4,107.3 106.5,107.3 108.7,106.7 111.6,107 115.1,106 118.8,105.4 120.3,104.6 121.7,104.9 123.5,104.8 126.6,103.6 129.4,103.2 131.9,102.1 135.7,102.5 141.1,100.8 143.2,101.2 144.1,100.9 145.9,100.9 155.4,98.9 156.9,98.9 174.5,95.7 177.3,98.7 28.6,126.2Z" fill="url(#g329)" stroke="url(#g329)" stroke-width="0.7"/><path d="M27.8,120.9 31.2,119.1 33.8,120 35.5,119.3 39.7,119.2 45.6,117.6 48.9,117.9 56.3,116.2 59.5,116.2 63.9,115.3 67.2,113.4 70.7,114.1 73.1,113.3 76.2,113.2 80,111.9 88.2,110.6 90.8,109.6 94.6,109.9 102.8,108.3 105.4,107.3 106.5,107.3 108.7,106.7 111.6,107 115.1,106 118.8,105.4 120.3,104.6 121.7,104.9 123.5,104.8 126.6,103.6 129.4,103.2 131.9,102.1 135.7,102.5 141.1,100.8 143.2,101.2 144.1,100.9 145.9,100.9 155.4,98.9 156.9,98.9 174.5,95.7" class="m"/><path class="n" d="M30.6,119.5l0.4,2M33.4,119.9l0.5,1.9M36.2,119.3l0.5,1.5M38.9,119.2l0.5,1.6M41.7,118.7l0.5,1.2M44.4,117.9l0.5,1.7M47.1,117.7l0.6,1.9M49.8,117.6l0.6,1.1M52.5,117l0.6,1.8M55.2,116.4l0.6,1.8M57.8,116.2l0.6,1.5M60.5,116l0.7,1.4M63.1,115.4l0.7,1.6M65.7,114.3l0.7,1.6M68.3,113.8l0.7,1.6M70.9,114.1l0.7,1.3M73.5,113.3l0.8,1.2M76,113.2l0.8,1.2M78.6,112.4l0.8,1.2M81.1,111.8l0.8,1.4M83.6,111.3l0.8,0.8M86.1,111l0.8,1.5M88.6,110.5l0.9,1.7M91.1,109.6l0.9,1.4M93.5,109.9l0.9,1.1M96,109.6l0.9,1.5M98.4,109.3l0.9,0.9M100.9,108.7l0.9,0.8M103.3,108.2l0.9,1.1M105.7,107.3l1,1.3M108.1,106.8l1,1.8M110.5,106.9l1,1.3M112.8,106.7l1,1.1M115.2,106l1,1.4M117.5,105.7l1,1.4M119.9,105l1.1,1.3M122.2,104.9l1.1,1M124.5,104.4l1.1,1.2M126.8,103.6l1.1,1.7M129.1,103.3l1.1,0.9M131.3,102.3l1.1,1.6M133.6,102.3l1.1,1.8M135.8,102.4l1.1,0.9M138.1,101.8l1.2,1.2M140.3,101.1l1.2,1.4M142.5,101.2l1.2,1.2M144.7,100.9l1.2,1.3M146.9,100.6l1.2,1.2M149.1,100l1.2,1.2M151.3,99.8l1.2,1.2M153.5,99.3l1.3,1.1M155.6,98.9l1.3,1.4M157.8,98.7l1.3,1.3M159.9,98.3l1.3,1.2M162,97.9l1.3,1.2M164.1,97.7l1.3,1.2M166.2,97.1l1.3,1.4M168.3,96.8l1.3,1.2M170.4,96.5l1.3,1.3M172.5,96.1l1.4,1.3"/><path d="M28.2,122.6 31.7,121.1 33.4,121.6 34.2,121.5 36,120.7 39.4,120.9 42.8,119.7 47.8,119.6 49.9,118.7 53.6,118.7 56.9,118 63.4,117 65.9,116.2 68,115.1 71.1,115.6 73.8,114.3 76.2,114.7 77,114.3 78.2,114.3 80.2,113 80.7,112.9 81.8,113.3 84,111.9 86.4,112.9 87.1,112.4 90.2,112 91.7,111 93.8,110.8 96.3,111.2 100.1,109.9 103,109.3 105.6,109.1 106.4,108.5 109,108.7 119.9,106.8 121.4,105.9 122.4,106 124.6,105.6 126.7,105.7 127.7,105.3 128.1,105.4 130.5,103.9 134.6,104.1 137.4,103.2 142.3,102.3 145.3,102.3 150.9,101.1 152.2,101.1 153.8,100.4 156.1,100.5 158.2,100.1 162.4,99.1 164.7,99 175.9,96.9 178.7,99.9 29.1,127.8Z" fill="url(#g330)" stroke="url(#g330)" stroke-width="0.7"/><path d="M28.2,122.6 31.7,121.1 33.4,121.6 34.2,121.5 36,120.7 39.4,120.9 42.8,119.7 47.8,119.6 49.9,118.7 53.6,118.7 56.9,118 63.4,117 65.9,116.2 68,115.1 71.1,115.6 73.8,114.3 76.2,114.7 77,114.3 78.2,114.3 80.2,113 80.7,112.9 81.8,113.3 84,111.9 86.4,112.9 87.1,112.4 90.2,112 91.7,111 93.8,110.8 96.3,111.2 100.1,109.9 103,109.3 105.6,109.1 106.4,108.5 109,108.7 119.9,106.8 121.4,105.9 122.4,106 124.6,105.6 126.7,105.7 127.7,105.3 128.1,105.4 130.5,103.9 134.6,104.1 137.4,103.2 142.3,102.3 145.3,102.3 150.9,101.1 152.2,101.1 153.8,100.4 156.1,100.5 158.2,100.1 162.4,99.1 164.7,99 175.9,96.9" class="m"/><path class="n" d="M31,121.4l0.4,1.2M33.8,121.8l0.5,0.5M36.6,120.8l0.5,1.4M39.4,120.8l0.5,1.6M42.2,119.9l0.5,1.8M44.9,119.6l0.6,1.9M47.7,119.7l0.6,1.6M50.4,118.7l0.6,1.7M53.1,118.8l0.6,0.6M55.8,118.2l0.6,0.9M58.5,117.7l0.7,1.6M61.1,117.4l0.7,1M63.8,117l0.7,0.2M66.4,116l0.7,0.7M69,115.4l0.7,0.7M71.6,115.4l0.7,1.2M74.2,114.4l0.8,1.4M76.8,114.4l0.8,1.2M79.3,113.6l0.8,1.5M81.9,113.2l0.8,1.5M84.4,112.1l0.8,1.6M86.9,112.5l0.8,1.7M89.5,112.2l0.9,0.5M92,111l0.9,1.5M94.4,110.9l0.9,1.3M96.9,111l0.9,0.8M99.4,110.2l0.9,1.8M101.8,109.6l0.9,1.8M104.2,109.3l1,1.7M106.7,108.6l1,1.1M109.1,108.7l1,1.4M111.5,108.2l1,1.6M113.8,107.8l1,1.5M116.2,107.4l1,1.2M118.6,107l1.1,1.4M120.9,106.3l1.1,1.4M123.2,105.9l1.1,1.4M125.6,105.6l1.1,1.4M127.9,105.3l1.1,1.3M130.2,104.1l1.1,1.7M132.5,103.9l1.1,1.5M134.7,104.1l1.2,1.3M137,103.3l1.2,1.6M139.2,102.9l1.2,1.6M141.5,102.5l1.2,1.6M143.7,102.4l1.2,1.4M145.9,102.2l1.2,1.3M148.1,101.8l1.2,1.3M150.3,101.3l1.2,1.4M152.5,100.9l1.3,1.3M154.7,100.4l1.3,1.5M156.9,100.3l1.3,1.3M159,100l1.3,1.1M161.2,99.5l1.3,1.1M163.3,99.1l1.3,1.3M165.4,98.8l1.3,1M167.5,98.5l1.3,1.1M169.6,98.1l1.4,1.2M171.7,97.7l1.4,1.2M173.8,97.4l1.4,1.1"/><path d="M28.6,122.1 32.1,122.7 36.4,122 39,122.6 43.3,121.5 45,121.7 46.7,121 48.4,121.2 50.5,120.2 51.7,120.7 54.2,119.2 59.2,119.4 60,119.2 64.1,117.2 67.4,116.6 68.7,115.9 71.2,116 73,116.9 74.6,115.8 77.8,115.5 79.4,115.7 81,114.5 81.6,114.4 82.6,114.8 84.8,113.5 87.2,114.2 87.9,114.1 91.1,112.2 92.6,112.3 93.4,113 94.7,112.3 97.2,111.9 101,112 104,110.9 105.5,111 107.4,109.5 109.3,110.2 113.6,109.7 117.2,108.6 120.9,108.2 122.4,107.2 123.8,107.4 127.5,107 128.8,106.6 129.5,106.7 132.2,105.5 136.6,105.3 142.1,104.3 143.5,103.7 145.6,103.8 150.7,103 152.4,102.4 158.4,101.5 163.7,100.3 177.3,98.1 180.1,101.1 29.5,129.5Z" fill="url(#g331)" stroke="url(#g331)" stroke-width="0.7"/><path d="M28.6,122.1 32.1,122.7 36.4,122 39,122.6 43.3,121.5 45,121.7 46.7,121 48.4,121.2 50.5,120.2 51.7,120.7 54.2,119.2 59.2,119.4 60,119.2 64.1,117.2 67.4,116.6 68.7,115.9 71.2,116 73,116.9 74.6,115.8 77.8,115.5 79.4,115.7 81,114.5 81.6,114.4 82.6,114.8 84.8,113.5 87.2,114.2 87.9,114.1 91.1,112.2 92.6,112.3 93.4,113 94.7,112.3 97.2,111.9 101,112 104,110.9 105.5,111 107.4,109.5 109.3,110.2 113.6,109.7 117.2,108.6 120.9,108.2 122.4,107.2 123.8,107.4 127.5,107 128.8,106.6 129.5,106.7 132.2,105.5 136.6,105.3 142.1,104.3 143.5,103.7 145.6,103.8 150.7,103 152.4,102.4 158.4,101.5 163.7,100.3 177.3,98.1" class="m"/><path class="n" d="M31.5,122.6l0.5,1.6M34.3,122.2l0.5,1.9M37.1,122.1l0.5,0.6M39.9,122.4l0.5,1.5M42.7,121.7l0.5,0.8M45.5,121.5l0.6,0.2M48.2,121.2l0.6,0.9M51,120.4l0.6,1.3M53.7,119.4l0.6,1.5M56.4,119.1l0.6,2.2M59.1,119.3l0.7,1.5M61.8,118.3l0.7,1.8M64.4,117.2l0.7,2.7M67.1,116.7l0.7,1.8M69.7,116l0.7,2.5M72.4,116.6l0.8,1.4M75,115.8l0.8,1.9M77.6,115.6l0.8,1.7M80.1,115.2l0.8,1.5M82.7,114.8l0.8,0.6M85.3,113.7l0.8,1.4M87.8,114.2l0.9,0.7M90.3,112.7l0.9,2.5M92.8,112.5l0.9,1.4M95.3,112.2l0.9,1.4M97.8,111.8l0.9,1.7M100.3,111.9l0.9,0.7M102.8,111.4l1,1.5M105.2,111l1,1.2M107.6,109.7l1,1.9M110.1,110.1l1,1.1M112.5,109.8l1,1M114.9,109.3l1,1.3M117.2,108.6l1.1,1.3M119.6,108.4l1.1,1.4M122,107.6l1.1,1.4M124.3,107.3l1.1,1.6M126.7,107.1l1.1,1.5M129,106.6l1.1,1.3M131.3,105.8l1.1,1.7M133.6,105.4l1.2,1.3M135.9,105.4l1.2,1.3M138.2,104.9l1.2,1M140.4,104.6l1.2,1.2M142.7,104.1l1.2,1.1M144.9,103.8l1.2,1.2M147.2,103.5l1.2,1.4M149.4,103l1.2,1.3M151.6,102.6l1.3,1.2M153.8,102.2l1.3,1.2M156,101.9l1.3,1.3M158.2,101.6l1.3,1.3M160.3,101.1l1.3,1.4M162.5,100.6l1.3,1.4M164.6,100.4l1.3,1.1M166.8,99.9l1.3,1.3M168.9,99.6l1.4,1.2M171,99.3l1.4,1.1M173.1,98.9l1.4,1.2M175.2,98.5l1.4,1.2"/><path d="M29.1,124.4 32.6,124.1 33.5,124.8 34.3,124.7 36.1,122.6 36.9,122.4 40.4,123.9 41.3,123.8 43.8,122.2 47.3,121.5 49.8,122.5 54,120.9 54.9,120.8 57.4,121.4 59,121.1 61.5,120.2 64.8,120 68.9,118 69.4,117.9 70.5,118.6 72,118.1 79.8,117.3 83.5,115.4 88.8,114.9 91.2,115.2 92,114.7 92.7,114.6 93.5,114 95.6,113.4 97.8,114.1 101.9,112.4 104.2,112.9 108.4,111.4 109.2,111.6 114.6,110.7 116.4,110.7 118.2,110 121.9,109.5 123.5,108.7 125.4,108.9 132.1,107.6 135.3,106.5 137.2,106.7 138.9,106 140.7,106.1 144.7,104.9 148.3,104.9 154,103.6 160.4,102.7 165,101.6 178.7,99.3 180.1,101.1 29.5,129.5Z" fill="url(#g332)" stroke="url(#g332)" stroke-width="0.7"/><path d="M29.1,124.4 32.6,124.1 33.5,124.8 34.3,124.7 36.1,122.6 36.9,122.4 40.4,123.9 41.3,123.8 43.8,122.2 47.3,121.5 49.8,122.5 54,120.9 54.9,120.8 57.4,121.4 59,121.1 61.5,120.2 64.8,120 68.9,118 69.4,117.9 70.5,118.6 72,118.1 79.8,117.3 83.5,115.4 88.8,114.9 91.2,115.2 92,114.7 92.7,114.6 93.5,114 95.6,113.4 97.8,114.1 101.9,112.4 104.2,112.9 108.4,111.4 109.2,111.6 114.6,110.7 116.4,110.7 118.2,110 121.9,109.5 123.5,108.7 125.4,108.9 132.1,107.6 135.3,106.5 137.2,106.7 138.9,106 140.7,106.1 144.7,104.9 148.3,104.9 154,103.6 160.4,102.7 165,101.6 178.7,99.3" class="m"/><path class="n" d="M31.9,124.2l0.5,1.7M34.8,124.2l0.5,1.8M37.6,122.7l0.5,3.3M40.4,124l0.5,1.1M43.3,122.5l0.5,2.1M46,121.7l0.6,2.3M48.8,122.1l0.6,1.7M51.6,121.7l0.6,2.2M54.3,120.9l0.6,1.6M57.1,121.3l0.7,1.2M59.8,120.9l0.7,1.3M62.5,120.1l0.7,1.6M65.1,119.9l0.7,1.6M67.8,118.5l0.7,1.7M70.5,118.6l0.7,1.5M73.1,118l0.8,2M75.7,117.7l0.8,1.5M78.4,117.3l0.8,1.6M80.9,116.7l0.8,1.7M83.5,115.4l0.8,2.1M86.1,115l0.9,1.6M88.7,114.9l0.9,2M91.2,115.2l0.9,1M93.7,114l0.9,1.6M96.2,113.7l0.9,1.6M98.7,113.6l0.9,1.4M101.2,112.7l1,1.9M103.7,112.8l1,1.6M106.2,112.2l1,1.3M108.6,111.6l1,1.4M111.1,111.2l1,1.5M113.5,110.8l1,1.6M115.9,110.7l1.1,1.4M118.3,110l1.1,1.4M120.7,109.8l1.1,0.9M123.1,109.1l1.1,0.9M125.4,108.9l1.1,1.3M127.8,108.6l1.1,1.2M130.1,108l1.1,1.3M132.4,107.6l1.2,1.3M134.8,106.7l1.2,1.6M137.1,106.7l1.2,1.2M139.3,106l1.2,1.5M141.6,105.7l1.2,1.3M143.9,105.2l1.2,1.5M146.1,105l1.2,1.3M148.4,104.9l1.3,1M150.6,104.4l1.3,1M152.8,103.9l1.3,1.3M155.1,103.5l1.3,1.4M157.3,103.2l1.3,1.3M159.4,102.8l1.3,1.1M161.6,102.4l1.3,1.1M163.8,102l1.3,1.1M166,101.5l1.4,1.3M168.1,101.1l1.4,1.1M170.2,100.8l1.4,1.3M172.4,100.4l1.4,1.3M174.5,100.1l1.4,1.2M176.6,99.7l1.4,1.2"/><path d="M29.5,127.4 33,125.5 36.6,126.4 40.9,125.1 47.8,123.8 52.1,123.9 54.6,122.5 55.5,122.4 57.2,123 58.8,121.6 61.4,122.4 62.2,121.8 66.3,121.3 70.1,119.6 71.3,120.1 72.7,119.8 73.7,120 76.2,119.2 77.8,119.3 79.4,118.8 81,118.7 82.7,117.9 83.8,117.9 86.2,116.5 88.9,117.3 89.7,116.8 92.9,115.9 93.9,115.9 96,115.1 96.6,115 98.3,115.6 99.8,114.9 101.3,115 102.9,114.2 104.4,114.5 105.9,113.7 109.4,112.9 116.5,112.3 118.7,111.3 120,111.5 124.6,109.7 126.8,110.3 127.9,109.8 130.1,109.7 136.5,108.1 141.4,107.5 143.1,106.9 147.3,106.4 152.1,105.3 161.7,103.9 167,102.9 169,102.2 171.1,102.2 180.1,100.6 180.1,101.1 29.5,129.5Z" fill="url(#g333)" stroke="url(#g333)" stroke-width="0.7"/><path d="M29.5,127.4 33,125.5 36.6,126.4 40.9,125.1 47.8,123.8 52.1,123.9 54.6,122.5 55.5,122.4 57.2,123 58.8,121.6 61.4,122.4 62.2,121.8 66.3,121.3 70.1,119.6 71.3,120.1 72.7,119.8 73.7,120 76.2,119.2 77.8,119.3 79.4,118.8 81,118.7 82.7,117.9 83.8,117.9 86.2,116.5 88.9,117.3 89.7,116.8 92.9,115.9 93.9,115.9 96,115.1 96.6,115 98.3,115.6 99.8,114.9 101.3,115 102.9,114.2 104.4,114.5 105.9,113.7 109.4,112.9 116.5,112.3 118.7,111.3 120,111.5 124.6,109.7 126.8,110.3 127.9,109.8 130.1,109.7 136.5,108.1 141.4,107.5 143.1,106.9 147.3,106.4 152.1,105.3 161.7,103.9 167,102.9 169,102.2 171.1,102.2 180.1,100.6" class="m"/><path d="M18,79.9 18.3,80.7 18.6,83.4 18.8,84.6 19.1,86.4 19.4,87.6 19.7,88.8 20,90.1 20.3,90.4 20.6,91.8 20.9,93.3 21.2,95.1 21.6,95.7 21.9,97.5 22.2,98.6 22.6,100.4 22.9,101.6 23.2,103.2 23.6,103.8 23.9,103.8 24.3,105.9 24.7,107.5 25,110.1 25.4,111.3 25.8,112.1 26.2,114.8 26.6,114.6 27,116.3 27.4,117.4 27.8,120.9 28.2,122.6 28.6,122.1 29.1,124.4 29.5,127.4" fill="none" stroke="#c41414" stroke-width="0.8" stroke-opacity="0.8"/><path d="M141.7,67.7 142.7,68.6 143.6,69.3 144.6,70.1 145.6,71 146.6,71.9 147.6,72.6 148.6,73.7 149.6,74.4 150.7,75.4 151.7,76.1 152.8,77.2 153.9,78.2 155,79.1 156.1,79.9 157.2,81 158.3,82 159.5,82.7 160.7,83.9 161.8,84.9 163,86 164.2,87 165.5,88.1 166.7,89.1 168,90.2 169.2,91.3 170.5,92.3 171.9,93.5 173.2,94.6 174.5,95.7 175.9,96.9 177.3,98.1 178.7,99.3 180.1,100.6" fill="none" stroke="#8a2488" stroke-width="0.9" stroke-opacity="0.85"/></svg>
</body></html>
